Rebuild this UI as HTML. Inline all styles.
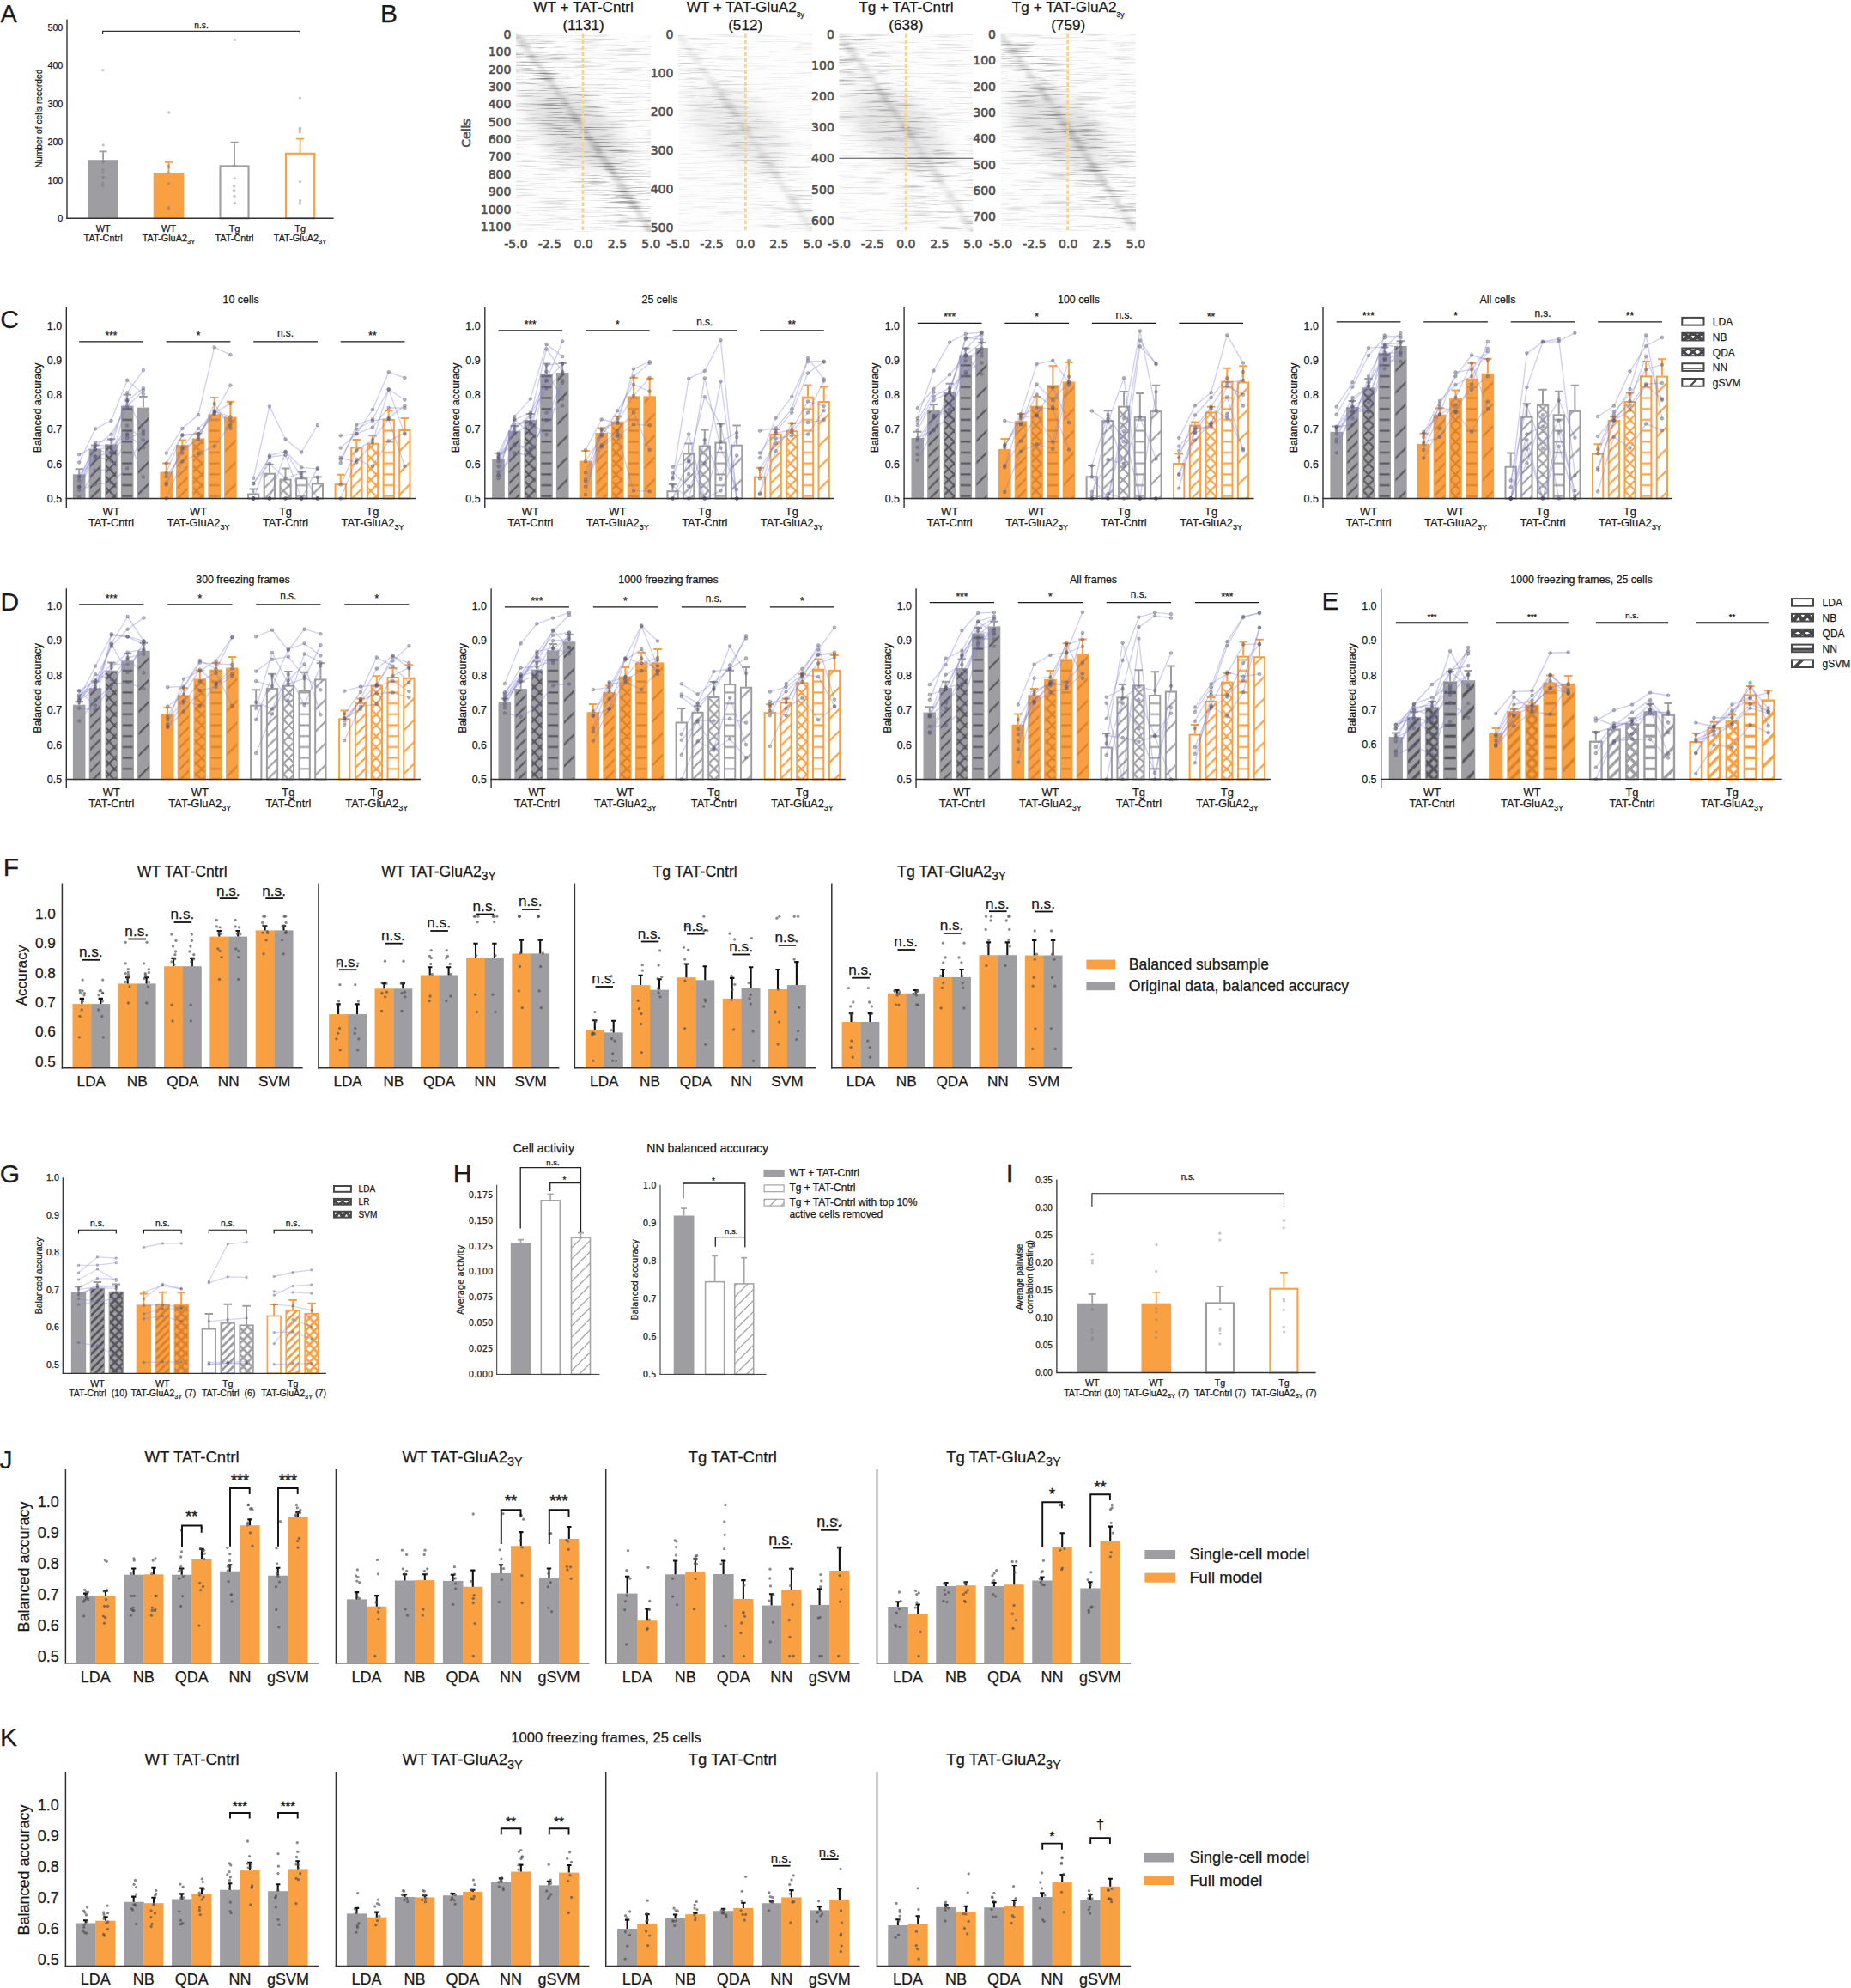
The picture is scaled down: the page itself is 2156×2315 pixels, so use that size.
<!DOCTYPE html>
<html lang="en"><head><meta charset="utf-8"><title>Figure</title>
<style>html,body{margin:0;padding:0;background:#fff}body{width:2156px;height:2315px;overflow:hidden}svg{display:block}text{white-space:pre}.t{stroke:#1a1a1a;stroke-width:.25px}</style></head>
<body>
<svg width="2156" height="2315" viewBox="0 0 2156 2315" font-family='"Liberation Sans", Arial, Helvetica, sans-serif' fill="#1a1a1a"><defs><filter id="nz11" x="0" y="0" width="100%" height="100%" color-interpolation-filters="sRGB"><feTurbulence type="fractalNoise" baseFrequency="0.024 0.6" numOctaves="3" seed="11"/><feColorMatrix type="matrix" values="0 0 0 0 0  0 0 0 0 0  0 0 0 0 0  1.391 0 0 0 -0.721"/></filter><filter id="bl11" x="-20%" y="-20%" width="140%" height="140%"><feGaussianBlur stdDeviation="2.6 0.9"/></filter><filter id="cl11" x="-30%" y="-30%" width="160%" height="160%"><feGaussianBlur stdDeviation="14 9"/></filter><clipPath id="cp11"><rect x="600.9" y="39.4" width="157.5" height="230.4"/></clipPath><mask id="mk11" maskUnits="userSpaceOnUse" x="600.9" y="39.4" width="157.5" height="230.4"><rect x="600.9" y="39.4" width="157.5" height="230.4" fill="#5a5a5a"/><polygon points="567.8,39.4 634,39.4 791.5,269.8 725.3,269.8" fill="#fff" filter="url(#cl11)"/></mask><filter id="nz12" x="0" y="0" width="100%" height="100%" color-interpolation-filters="sRGB"><feTurbulence type="fractalNoise" baseFrequency="0.024 0.6" numOctaves="3" seed="12"/><feColorMatrix type="matrix" values="0 0 0 0 0  0 0 0 0 0  0 0 0 0 0  0.695 0 0 0 -0.360"/></filter><filter id="bl12" x="-20%" y="-20%" width="140%" height="140%"><feGaussianBlur stdDeviation="2.6 0.9"/></filter><filter id="cl12" x="-30%" y="-30%" width="160%" height="160%"><feGaussianBlur stdDeviation="14 9"/></filter><clipPath id="cp12"><rect x="789.9" y="39.4" width="156.6" height="230.4"/></clipPath><mask id="mk12" maskUnits="userSpaceOnUse" x="789.9" y="39.4" width="156.6" height="230.4"><rect x="789.9" y="39.4" width="156.6" height="230.4" fill="#5a5a5a"/><polygon points="757,39.4 822.8,39.4 979.4,269.8 913.6,269.8" fill="#fff" filter="url(#cl12)"/></mask><filter id="nz13" x="0" y="0" width="100%" height="100%" color-interpolation-filters="sRGB"><feTurbulence type="fractalNoise" baseFrequency="0.024 0.6" numOctaves="3" seed="13"/><feColorMatrix type="matrix" values="0 0 0 0 0  0 0 0 0 0  0 0 0 0 0  1.046 0 0 0 -0.542"/></filter><filter id="bl13" x="-20%" y="-20%" width="140%" height="140%"><feGaussianBlur stdDeviation="2.6 0.9"/></filter><filter id="cl13" x="-30%" y="-30%" width="160%" height="160%"><feGaussianBlur stdDeviation="14 9"/></filter><clipPath id="cp13"><rect x="977.3" y="39.4" width="156.1" height="230.4"/></clipPath><mask id="mk13" maskUnits="userSpaceOnUse" x="977.3" y="39.4" width="156.1" height="230.4"><rect x="977.3" y="39.4" width="156.1" height="230.4" fill="#5a5a5a"/><polygon points="944.5,39.4 1010.1,39.4 1166.2,269.8 1100.6,269.8" fill="#fff" filter="url(#cl13)"/></mask><filter id="nz14" x="0" y="0" width="100%" height="100%" color-interpolation-filters="sRGB"><feTurbulence type="fractalNoise" baseFrequency="0.024 0.6" numOctaves="3" seed="14"/><feColorMatrix type="matrix" values="0 0 0 0 0  0 0 0 0 0  0 0 0 0 0  1.222 0 0 0 -0.633"/></filter><filter id="bl14" x="-20%" y="-20%" width="140%" height="140%"><feGaussianBlur stdDeviation="2.6 0.9"/></filter><filter id="cl14" x="-30%" y="-30%" width="160%" height="160%"><feGaussianBlur stdDeviation="14 9"/></filter><clipPath id="cp14"><rect x="1165.5" y="39.4" width="157.5" height="230.4"/></clipPath><mask id="mk14" maskUnits="userSpaceOnUse" x="1165.5" y="39.4" width="157.5" height="230.4"><rect x="1165.5" y="39.4" width="157.5" height="230.4" fill="#5a5a5a"/><polygon points="1132.4,39.4 1198.6,39.4 1356.1,269.8 1289.9,269.8" fill="#fff" filter="url(#cl14)"/></mask><pattern id="p0" width="12.7" height="12.7" patternUnits="userSpaceOnUse"><path d="M-1 13.7L13.7 -1M-1 1L1 -1M11.7 13.7L13.7 11.7" stroke="#55555b" stroke-width="2.1"/></pattern><pattern id="p1" width="12.7" height="12.7" patternUnits="userSpaceOnUse"><path d="M-1 13.7L13.7 -1M-1 1L1 -1M11.7 13.7L13.7 11.7M-1 -1L13.7 13.7M11.7 -1L13.7 1M-1 11.7L1 13.7" stroke="#55555b" stroke-width="2.1"/></pattern><pattern id="p2" width="12.7" height="12.7" patternUnits="userSpaceOnUse"><path d="M0 6.3H12.7" stroke="#55555b" stroke-width="2.1"/></pattern><pattern id="p3" width="25.4" height="25.4" patternUnits="userSpaceOnUse"><path d="M-1 26.4L26.4 -1M-1 1L1 -1M24.4 26.4L26.4 24.4" stroke="#55555b" stroke-width="2.1"/></pattern><pattern id="p4" width="12.7" height="12.7" patternUnits="userSpaceOnUse"><path d="M-1 13.7L13.7 -1M-1 1L1 -1M11.7 13.7L13.7 11.7" stroke="#d9802b" stroke-width="2.1"/></pattern><pattern id="p5" width="12.7" height="12.7" patternUnits="userSpaceOnUse"><path d="M-1 13.7L13.7 -1M-1 1L1 -1M11.7 13.7L13.7 11.7M-1 -1L13.7 13.7M11.7 -1L13.7 1M-1 11.7L1 13.7" stroke="#d9802b" stroke-width="2.1"/></pattern><pattern id="p6" width="12.7" height="12.7" patternUnits="userSpaceOnUse"><path d="M0 6.3H12.7" stroke="#d9802b" stroke-width="2.1"/></pattern><pattern id="p7" width="25.4" height="25.4" patternUnits="userSpaceOnUse"><path d="M-1 26.4L26.4 -1M-1 1L1 -1M24.4 26.4L26.4 24.4" stroke="#d9802b" stroke-width="2.1"/></pattern><pattern id="p8" width="12.7" height="12.7" patternUnits="userSpaceOnUse"><path d="M-1 13.7L13.7 -1M-1 1L1 -1M11.7 13.7L13.7 11.7" stroke="#9e9ea2" stroke-width="2.1"/></pattern><pattern id="p9" width="12.7" height="12.7" patternUnits="userSpaceOnUse"><path d="M-1 13.7L13.7 -1M-1 1L1 -1M11.7 13.7L13.7 11.7M-1 -1L13.7 13.7M11.7 -1L13.7 1M-1 11.7L1 13.7" stroke="#9e9ea2" stroke-width="2.1"/></pattern><pattern id="p10" width="12.7" height="12.7" patternUnits="userSpaceOnUse"><path d="M0 6.3H12.7" stroke="#9e9ea2" stroke-width="2.1"/></pattern><pattern id="p11" width="25.4" height="25.4" patternUnits="userSpaceOnUse"><path d="M-1 26.4L26.4 -1M-1 1L1 -1M24.4 26.4L26.4 24.4" stroke="#9e9ea2" stroke-width="2.1"/></pattern><pattern id="p12" width="12.7" height="12.7" patternUnits="userSpaceOnUse"><path d="M-1 13.7L13.7 -1M-1 1L1 -1M11.7 13.7L13.7 11.7" stroke="#f8a042" stroke-width="2.1"/></pattern><pattern id="p13" width="12.7" height="12.7" patternUnits="userSpaceOnUse"><path d="M-1 13.7L13.7 -1M-1 1L1 -1M11.7 13.7L13.7 11.7M-1 -1L13.7 13.7M11.7 -1L13.7 1M-1 11.7L1 13.7" stroke="#f8a042" stroke-width="2.1"/></pattern><pattern id="p14" width="12.7" height="12.7" patternUnits="userSpaceOnUse"><path d="M0 6.3H12.7" stroke="#f8a042" stroke-width="2.1"/></pattern><pattern id="p15" width="25.4" height="25.4" patternUnits="userSpaceOnUse"><path d="M-1 26.4L26.4 -1M-1 1L1 -1M24.4 26.4L26.4 24.4" stroke="#f8a042" stroke-width="2.1"/></pattern><clipPath id="lc36"><rect x="1959.3" y="369.9" width="25.2" height="8.7"/></clipPath><clipPath id="lc37"><rect x="1959.3" y="387.8" width="25.2" height="8.7"/></clipPath><clipPath id="lc38"><rect x="1959.3" y="405.5" width="25.2" height="8.7"/></clipPath><clipPath id="lc39"><rect x="1959.3" y="423.2" width="25.2" height="8.7"/></clipPath><clipPath id="lc40"><rect x="1959.3" y="441" width="25.2" height="8.7"/></clipPath><pattern id="p16" width="12.7" height="12.7" patternUnits="userSpaceOnUse"><path d="M-1 13.7L13.7 -1M-1 1L1 -1M11.7 13.7L13.7 11.7" stroke="#55555b" stroke-width="3.3"/></pattern><pattern id="p17" width="12.7" height="12.7" patternUnits="userSpaceOnUse"><path d="M-1 13.7L13.7 -1M-1 1L1 -1M11.7 13.7L13.7 11.7M-1 -1L13.7 13.7M11.7 -1L13.7 1M-1 11.7L1 13.7" stroke="#55555b" stroke-width="3.3"/></pattern><pattern id="p18" width="12.7" height="12.7" patternUnits="userSpaceOnUse"><path d="M0 6.3H12.7" stroke="#55555b" stroke-width="3.3"/></pattern><pattern id="p19" width="25.4" height="25.4" patternUnits="userSpaceOnUse"><path d="M-1 26.4L26.4 -1M-1 1L1 -1M24.4 26.4L26.4 24.4" stroke="#55555b" stroke-width="3.3"/></pattern><pattern id="p20" width="12.7" height="12.7" patternUnits="userSpaceOnUse"><path d="M-1 13.7L13.7 -1M-1 1L1 -1M11.7 13.7L13.7 11.7" stroke="#d9802b" stroke-width="3.3"/></pattern><pattern id="p21" width="12.7" height="12.7" patternUnits="userSpaceOnUse"><path d="M-1 13.7L13.7 -1M-1 1L1 -1M11.7 13.7L13.7 11.7M-1 -1L13.7 13.7M11.7 -1L13.7 1M-1 11.7L1 13.7" stroke="#d9802b" stroke-width="3.3"/></pattern><pattern id="p22" width="12.7" height="12.7" patternUnits="userSpaceOnUse"><path d="M0 6.3H12.7" stroke="#d9802b" stroke-width="3.3"/></pattern><pattern id="p23" width="25.4" height="25.4" patternUnits="userSpaceOnUse"><path d="M-1 26.4L26.4 -1M-1 1L1 -1M24.4 26.4L26.4 24.4" stroke="#d9802b" stroke-width="3.3"/></pattern><pattern id="p24" width="12.7" height="12.7" patternUnits="userSpaceOnUse"><path d="M-1 13.7L13.7 -1M-1 1L1 -1M11.7 13.7L13.7 11.7" stroke="#9e9ea2" stroke-width="3.3"/></pattern><pattern id="p25" width="12.7" height="12.7" patternUnits="userSpaceOnUse"><path d="M-1 13.7L13.7 -1M-1 1L1 -1M11.7 13.7L13.7 11.7M-1 -1L13.7 13.7M11.7 -1L13.7 1M-1 11.7L1 13.7" stroke="#9e9ea2" stroke-width="3.3"/></pattern><pattern id="p26" width="12.7" height="12.7" patternUnits="userSpaceOnUse"><path d="M0 6.3H12.7" stroke="#9e9ea2" stroke-width="3.3"/></pattern><pattern id="p27" width="25.4" height="25.4" patternUnits="userSpaceOnUse"><path d="M-1 26.4L26.4 -1M-1 1L1 -1M24.4 26.4L26.4 24.4" stroke="#9e9ea2" stroke-width="3.3"/></pattern><pattern id="p28" width="12.7" height="12.7" patternUnits="userSpaceOnUse"><path d="M-1 13.7L13.7 -1M-1 1L1 -1M11.7 13.7L13.7 11.7" stroke="#f8a042" stroke-width="3.3"/></pattern><pattern id="p29" width="12.7" height="12.7" patternUnits="userSpaceOnUse"><path d="M-1 13.7L13.7 -1M-1 1L1 -1M11.7 13.7L13.7 11.7M-1 -1L13.7 13.7M11.7 -1L13.7 1M-1 11.7L1 13.7" stroke="#f8a042" stroke-width="3.3"/></pattern><pattern id="p30" width="12.7" height="12.7" patternUnits="userSpaceOnUse"><path d="M0 6.3H12.7" stroke="#f8a042" stroke-width="3.3"/></pattern><pattern id="p31" width="25.4" height="25.4" patternUnits="userSpaceOnUse"><path d="M-1 26.4L26.4 -1M-1 1L1 -1M24.4 26.4L26.4 24.4" stroke="#f8a042" stroke-width="3.3"/></pattern><clipPath id="lc57"><rect x="2087" y="697.1" width="25" height="8.6"/></clipPath><clipPath id="lc58"><rect x="2087" y="714.9" width="25" height="8.6"/></clipPath><clipPath id="lc59"><rect x="2087" y="732.8" width="25" height="8.6"/></clipPath><clipPath id="lc60"><rect x="2087" y="750.6" width="25" height="8.6"/></clipPath><clipPath id="lc61"><rect x="2087" y="768.4" width="25" height="8.6"/></clipPath><pattern id="p32" width="9" height="9" patternUnits="userSpaceOnUse"><path d="M-1 10L10 -1M-1 1L1 -1M8 10L10 8" stroke="#55555b" stroke-width="2.7"/></pattern><pattern id="p33" width="10.3" height="10.3" patternUnits="userSpaceOnUse"><path d="M-1 11.3L11.3 -1M-1 1L1 -1M9.3 11.3L11.3 9.3M-1 -1L11.3 11.3M9.3 -1L11.3 1M-1 9.3L1 11.3" stroke="#55555b" stroke-width="2.7"/></pattern><pattern id="p34" width="9" height="9" patternUnits="userSpaceOnUse"><path d="M-1 10L10 -1M-1 1L1 -1M8 10L10 8" stroke="#d9802b" stroke-width="2.7"/></pattern><pattern id="p35" width="10.3" height="10.3" patternUnits="userSpaceOnUse"><path d="M-1 11.3L11.3 -1M-1 1L1 -1M9.3 11.3L11.3 9.3M-1 -1L11.3 11.3M9.3 -1L11.3 1M-1 9.3L1 11.3" stroke="#d9802b" stroke-width="2.7"/></pattern><pattern id="p36" width="9" height="9" patternUnits="userSpaceOnUse"><path d="M-1 10L10 -1M-1 1L1 -1M8 10L10 8" stroke="#9e9ea2" stroke-width="2.7"/></pattern><pattern id="p37" width="10.3" height="10.3" patternUnits="userSpaceOnUse"><path d="M-1 11.3L11.3 -1M-1 1L1 -1M9.3 11.3L11.3 9.3M-1 -1L11.3 11.3M9.3 -1L11.3 1M-1 9.3L1 11.3" stroke="#9e9ea2" stroke-width="2.7"/></pattern><pattern id="p38" width="9" height="9" patternUnits="userSpaceOnUse"><path d="M-1 10L10 -1M-1 1L1 -1M8 10L10 8" stroke="#f8a042" stroke-width="2.7"/></pattern><pattern id="p39" width="10.3" height="10.3" patternUnits="userSpaceOnUse"><path d="M-1 11.3L11.3 -1M-1 1L1 -1M9.3 11.3L11.3 9.3M-1 -1L11.3 11.3M9.3 -1L11.3 1M-1 9.3L1 11.3" stroke="#f8a042" stroke-width="2.7"/></pattern><clipPath id="lc70"><rect x="389" y="1381" width="19.9" height="6.8"/></clipPath><clipPath id="lc71"><rect x="389" y="1395.9" width="19.9" height="6.8"/></clipPath><clipPath id="lc72"><rect x="389" y="1410.8" width="19.9" height="6.8"/></clipPath><pattern id="p40" width="13" height="13" patternUnits="userSpaceOnUse"><path d="M-1 14L14 -1M-1 1L1 -1M12 14L14 12" stroke="#a6a6a9" stroke-width="1.3"/></pattern></defs>
<text x="10.2" y="25.9" font-size="29" text-anchor="middle" class="t">A</text>
<text x="73.3" y="258.1" font-size="10.7" text-anchor="end" class="t">0</text>
<text x="73.3" y="213.6" font-size="10.7" text-anchor="end" class="t">100</text>
<text x="73.3" y="169.1" font-size="10.7" text-anchor="end" class="t">200</text>
<text x="73.3" y="124.6" font-size="10.7" text-anchor="end" class="t">300</text>
<text x="73.3" y="80.1" font-size="10.7" text-anchor="end" class="t">400</text>
<text x="73.3" y="35.6" font-size="10.7" text-anchor="end" class="t">500</text>
<text x="49" y="138" font-size="10.3" text-anchor="middle" transform="rotate(-90 49 138)" class="t">Number of cells recorded</text>
<rect x="102.2" y="186.2" width="35.7" height="68.1" fill="#9e9ea2"/>
<path d="M120.1 186.2V176.4M115.6 176.4H124.6" fill="none" stroke="#9e9ea2" stroke-width="1.8"/>
<circle cx="119.8" cy="81.6" r="1.7" fill="#7d7d80" fill-opacity="0.45"/>
<circle cx="120.3" cy="168.9" r="1.7" fill="#7d7d80" fill-opacity="0.45"/>
<circle cx="120.3" cy="188" r="1.7" fill="#7d7d80" fill-opacity="0.45"/>
<circle cx="119.9" cy="188.9" r="1.7" fill="#7d7d80" fill-opacity="0.45"/>
<circle cx="120" cy="197.8" r="1.7" fill="#7d7d80" fill-opacity="0.45"/>
<circle cx="120" cy="201.3" r="1.7" fill="#7d7d80" fill-opacity="0.45"/>
<circle cx="120.2" cy="206.2" r="1.7" fill="#7d7d80" fill-opacity="0.45"/>
<circle cx="120.3" cy="206.7" r="1.7" fill="#7d7d80" fill-opacity="0.45"/>
<circle cx="119.7" cy="213.4" r="1.7" fill="#7d7d80" fill-opacity="0.45"/>
<circle cx="119.7" cy="216.5" r="1.7" fill="#7d7d80" fill-opacity="0.45"/>
<text x="120.1" y="269.6" font-size="10.9" text-anchor="middle" class="t">WT</text>
<text x="120.1" y="280.9" font-size="10.9" text-anchor="middle" class="t">TAT-Cntrl</text>
<rect x="178.7" y="201.3" width="35.7" height="53" fill="#f8a042"/>
<path d="M196.5 201.3V188.9M192 188.9H201" fill="none" stroke="#f8a042" stroke-width="1.8"/>
<circle cx="196.8" cy="131" r="1.7" fill="#7d7d80" fill-opacity="0.45"/>
<circle cx="196.5" cy="192.9" r="1.7" fill="#7d7d80" fill-opacity="0.45"/>
<circle cx="196.8" cy="195.1" r="1.7" fill="#7d7d80" fill-opacity="0.45"/>
<circle cx="196.2" cy="200.9" r="1.7" fill="#7d7d80" fill-opacity="0.45"/>
<circle cx="196.5" cy="213.8" r="1.7" fill="#7d7d80" fill-opacity="0.45"/>
<circle cx="196.7" cy="241.4" r="1.7" fill="#7d7d80" fill-opacity="0.45"/>
<circle cx="196.3" cy="243.2" r="1.7" fill="#7d7d80" fill-opacity="0.45"/>
<text x="196.5" y="269.6" font-size="10.9" text-anchor="middle" class="t">WT</text>
<text x="196.5" y="280.9" font-size="10.9" text-anchor="middle" class="t">TAT-GluA2<tspan dy="2.7" font-size="7.6">3Y</tspan></text>
<rect x="256.5" y="193.4" width="33" height="60.9" fill="#fff" stroke="#9e9ea2" stroke-width="2.1"/>
<path d="M273 192.4V165.7M268.5 165.7H277.5" fill="none" stroke="#9e9ea2" stroke-width="1.8"/>
<circle cx="273.4" cy="46.5" r="1.7" fill="#7d7d80" fill-opacity="0.45"/>
<circle cx="273.3" cy="207.6" r="1.7" fill="#7d7d80" fill-opacity="0.45"/>
<circle cx="272.6" cy="216.9" r="1.7" fill="#7d7d80" fill-opacity="0.45"/>
<circle cx="272.6" cy="221.8" r="1.7" fill="#7d7d80" fill-opacity="0.45"/>
<circle cx="273" cy="228.5" r="1.7" fill="#7d7d80" fill-opacity="0.45"/>
<circle cx="273.4" cy="236.5" r="1.7" fill="#7d7d80" fill-opacity="0.45"/>
<circle cx="272.9" cy="192.4" r="1.7" fill="#7d7d80" fill-opacity="0.45"/>
<text x="273" y="269.6" font-size="10.9" text-anchor="middle" class="t">Tg</text>
<text x="273" y="280.9" font-size="10.9" text-anchor="middle" class="t">TAT-Cntrl</text>
<rect x="333" y="178.8" width="33.2" height="75.5" fill="#fff" stroke="#f8a042" stroke-width="2.1"/>
<path d="M349.6 177.8V161.7M345.1 161.7H354.1" fill="none" stroke="#f8a042" stroke-width="1.8"/>
<circle cx="349.4" cy="114.1" r="1.7" fill="#7d7d80" fill-opacity="0.45"/>
<circle cx="349.5" cy="149.3" r="1.7" fill="#7d7d80" fill-opacity="0.45"/>
<circle cx="349.2" cy="151.1" r="1.7" fill="#7d7d80" fill-opacity="0.45"/>
<circle cx="349.4" cy="153.7" r="1.7" fill="#7d7d80" fill-opacity="0.45"/>
<circle cx="349.6" cy="211.6" r="1.7" fill="#7d7d80" fill-opacity="0.45"/>
<circle cx="349.6" cy="233.8" r="1.7" fill="#7d7d80" fill-opacity="0.45"/>
<circle cx="349.4" cy="236.9" r="1.7" fill="#7d7d80" fill-opacity="0.45"/>
<text x="349.6" y="269.6" font-size="10.9" text-anchor="middle" class="t">Tg</text>
<text x="349.6" y="280.9" font-size="10.9" text-anchor="middle" class="t">TAT-GluA2<tspan dy="2.7" font-size="7.6">3Y</tspan></text>
<line x1="78" y1="22.6" x2="78" y2="255" stroke="#333333" stroke-width="1.4"/>
<line x1="77.3" y1="254.3" x2="388.6" y2="254.3" stroke="#333333" stroke-width="1.4"/>
<path d="M119.6 40V36.4H349.4V40" fill="none" stroke="#333333" stroke-width="1.2"/>
<text x="234.6" y="33.2" font-size="10.3" text-anchor="middle" class="t">n.s.</text>
<text x="453" y="25.7" font-size="30" text-anchor="middle" class="t">B</text>
<rect x="600.9" y="39.4" width="157.5" height="230.4" fill="#fdfdfd"/>
<g clip-path="url(#cp11)">
<rect x="600.9" y="39.4" width="157.5" height="230.4" fill="#000" filter="url(#nz11)" mask="url(#mk11)"/>
<ellipse cx="670.2" cy="150" rx="63" ry="34.6" fill="#000" fill-opacity="0.11" filter="url(#cl11)" transform="rotate(38 670.2 150)"/>
<rect x="684.4" y="143.6" width="44.5" height="2" fill="#000" fill-opacity="0.10" filter="url(#bl11)"/>
<rect x="583.7" y="83.2" width="58.6" height="2" fill="#000" fill-opacity="0.10" filter="url(#bl11)"/>
<rect x="712.1" y="222.1" width="17.5" height="2" fill="#000" fill-opacity="0.13" filter="url(#bl11)"/>
<rect x="691.8" y="185.6" width="46.5" height="1.5" fill="#000" fill-opacity="0.09" filter="url(#bl11)"/>
<rect x="683.3" y="190.1" width="47.7" height="1" fill="#000" fill-opacity="0.10" filter="url(#bl11)"/>
<rect x="580" y="47.6" width="63" height="1.5" fill="#000" fill-opacity="0.11" filter="url(#bl11)"/>
<rect x="637.7" y="114.6" width="46.3" height="1" fill="#000" fill-opacity="0.07" filter="url(#bl11)"/>
<rect x="709.8" y="192" width="38.5" height="2" fill="#000" fill-opacity="0.07" filter="url(#bl11)"/>
<rect x="719.5" y="268.8" width="60.7" height="1.5" fill="#000" fill-opacity="0.07" filter="url(#bl11)"/>
<rect x="554.2" y="46.3" width="44.7" height="1" fill="#000" fill-opacity="0.05" filter="url(#bl11)"/>
<rect x="781.9" y="234.5" width="34.4" height="1" fill="#000" fill-opacity="0.04" filter="url(#bl11)"/>
<rect x="721.9" y="253" width="15" height="2" fill="#000" fill-opacity="0.08" filter="url(#bl11)"/>
<rect x="614" y="131" width="16.2" height="1" fill="#000" fill-opacity="0.07" filter="url(#bl11)"/>
<rect x="599.8" y="111.1" width="12.9" height="1" fill="#000" fill-opacity="0.09" filter="url(#bl11)"/>
<rect x="634.3" y="70.4" width="53" height="2" fill="#000" fill-opacity="0.10" filter="url(#bl11)"/>
<rect x="672.7" y="168.3" width="38" height="2" fill="#000" fill-opacity="0.06" filter="url(#bl11)"/>
<rect x="678.1" y="216.7" width="36.3" height="1" fill="#000" fill-opacity="0.15" filter="url(#bl11)"/>
<rect x="632.4" y="101.6" width="68.3" height="1.5" fill="#000" fill-opacity="0.13" filter="url(#bl11)"/>
<rect x="795.5" y="269.3" width="13.1" height="2" fill="#000" fill-opacity="0.11" filter="url(#bl11)"/>
<rect x="688" y="62.5" width="69.4" height="1.5" fill="#000" fill-opacity="0.07" filter="url(#bl11)"/>
<rect x="595.3" y="41.6" width="47.4" height="1" fill="#000" fill-opacity="0.05" filter="url(#bl11)"/>
<rect x="649.7" y="173.7" width="26.1" height="1.5" fill="#000" fill-opacity="0.11" filter="url(#bl11)"/>
<rect x="633.3" y="182.7" width="19.4" height="1.5" fill="#000" fill-opacity="0.06" filter="url(#bl11)"/>
<rect x="585.1" y="81.5" width="20.9" height="2" fill="#000" fill-opacity="0.14" filter="url(#bl11)"/>
<rect x="623.2" y="96.9" width="23" height="1.5" fill="#000" fill-opacity="0.06" filter="url(#bl11)"/>
<rect x="634.2" y="242.7" width="47" height="1" fill="#000" fill-opacity="0.09" filter="url(#bl11)"/>
<rect x="595.4" y="64.5" width="41.7" height="1.5" fill="#000" fill-opacity="0.09" filter="url(#bl11)"/>
<rect x="764.2" y="229.2" width="46.6" height="1" fill="#000" fill-opacity="0.07" filter="url(#bl11)"/>
<rect x="740.7" y="253.5" width="68.7" height="2" fill="#000" fill-opacity="0.12" filter="url(#bl11)"/>
<rect x="711.8" y="180.9" width="28.3" height="1" fill="#000" fill-opacity="0.15" filter="url(#bl11)"/>
<rect x="688.6" y="212" width="16" height="1.5" fill="#000" fill-opacity="0.05" filter="url(#bl11)"/>
<rect x="650.2" y="124.4" width="45.2" height="1.5" fill="#000" fill-opacity="0.06" filter="url(#bl11)"/>
<rect x="576.2" y="71.3" width="38.1" height="1" fill="#000" fill-opacity="0.10" filter="url(#bl11)"/>
<rect x="710.2" y="175.3" width="65.6" height="1.5" fill="#000" fill-opacity="0.09" filter="url(#bl11)"/>
<rect x="726.2" y="200.9" width="67.8" height="2" fill="#000" fill-opacity="0.10" filter="url(#bl11)"/>
<rect x="646.5" y="111.1" width="19.9" height="1.5" fill="#000" fill-opacity="0.05" filter="url(#bl11)"/>
<rect x="705.4" y="165.2" width="54.7" height="1.5" fill="#000" fill-opacity="0.12" filter="url(#bl11)"/>
<rect x="597.2" y="120.5" width="51.7" height="1.5" fill="#000" fill-opacity="0.14" filter="url(#bl11)"/>
<rect x="736.8" y="257" width="13.8" height="1.5" fill="#000" fill-opacity="0.12" filter="url(#bl11)"/>
<rect x="669" y="173.6" width="47.3" height="2" fill="#000" fill-opacity="0.05" filter="url(#bl11)"/>
<rect x="578.8" y="66" width="26.9" height="2" fill="#000" fill-opacity="0.15" filter="url(#bl11)"/>
<rect x="689.2" y="173.3" width="37.6" height="1" fill="#000" fill-opacity="0.14" filter="url(#bl11)"/>
<rect x="656.2" y="158.9" width="41.8" height="2" fill="#000" fill-opacity="0.04" filter="url(#bl11)"/>
<rect x="603.9" y="65.4" width="57.2" height="1.5" fill="#000" fill-opacity="0.12" filter="url(#bl11)"/>
<rect x="618.4" y="98.3" width="12.7" height="1" fill="#000" fill-opacity="0.06" filter="url(#bl11)"/>
<rect x="753.2" y="213.1" width="31.9" height="1.5" fill="#000" fill-opacity="0.15" filter="url(#bl11)"/>
<g filter="url(#bl11)">
<rect x="596.7" y="39.4" width="11.2" height="4.3" fill="#000" fill-opacity="0.09"/>
<rect x="600.4" y="43.4" width="9.7" height="4.3" fill="#000" fill-opacity="0.08"/>
<rect x="604.1" y="47.3" width="8" height="4.3" fill="#000" fill-opacity="0.16"/>
<rect x="605.3" y="51.3" width="11.4" height="4.3" fill="#000" fill-opacity="0.17"/>
<rect x="610" y="55.3" width="7.7" height="4.3" fill="#000" fill-opacity="0.13"/>
<rect x="613.2" y="59.3" width="7.2" height="4.3" fill="#000" fill-opacity="0.07"/>
<rect x="615.4" y="63.2" width="8.5" height="4.3" fill="#000" fill-opacity="0.17"/>
<rect x="617" y="67.2" width="10.9" height="4.3" fill="#000" fill-opacity="0.15"/>
<rect x="619.6" y="71.2" width="11.7" height="4.3" fill="#000" fill-opacity="0.09"/>
<rect x="625.2" y="75.2" width="6.2" height="4.3" fill="#000" fill-opacity="0.12"/>
<rect x="627.6" y="79.1" width="6.9" height="4.3" fill="#000" fill-opacity="0.09"/>
<rect x="630" y="83.1" width="7.9" height="4.3" fill="#000" fill-opacity="0.14"/>
<rect x="632.6" y="87.1" width="8.5" height="4.3" fill="#000" fill-opacity="0.10"/>
<rect x="634.2" y="91" width="10.9" height="4.3" fill="#000" fill-opacity="0.20"/>
<rect x="638.4" y="95" width="8.2" height="4.3" fill="#000" fill-opacity="0.07"/>
<rect x="642.7" y="99" width="5.2" height="4.3" fill="#000" fill-opacity="0.18"/>
<rect x="645.5" y="103" width="5.3" height="4.3" fill="#000" fill-opacity="0.16"/>
<rect x="646.5" y="106.9" width="9" height="4.3" fill="#000" fill-opacity="0.11"/>
<rect x="648.5" y="110.9" width="10.5" height="4.3" fill="#000" fill-opacity="0.07"/>
<rect x="653.6" y="114.9" width="6" height="4.3" fill="#000" fill-opacity="0.13"/>
<rect x="656.8" y="118.8" width="5.2" height="4.3" fill="#000" fill-opacity="0.19"/>
<rect x="658.8" y="122.8" width="6.7" height="4.3" fill="#000" fill-opacity="0.09"/>
<rect x="662.3" y="126.8" width="5.3" height="4.3" fill="#000" fill-opacity="0.16"/>
<rect x="663.7" y="130.8" width="8.1" height="4.3" fill="#000" fill-opacity="0.16"/>
<rect x="665.7" y="134.7" width="9.6" height="4.3" fill="#000" fill-opacity="0.19"/>
<rect x="667.4" y="138.7" width="11.7" height="4.3" fill="#000" fill-opacity="0.17"/>
<rect x="672.8" y="142.7" width="6.4" height="4.3" fill="#000" fill-opacity="0.14"/>
<rect x="675.6" y="146.7" width="6.3" height="4.3" fill="#000" fill-opacity="0.07"/>
<rect x="677.3" y="150.6" width="8.3" height="4.3" fill="#000" fill-opacity="0.18"/>
<rect x="681" y="154.6" width="6.3" height="4.3" fill="#000" fill-opacity="0.11"/>
<rect x="683.2" y="158.6" width="7.4" height="4.3" fill="#000" fill-opacity="0.18"/>
<rect x="685.2" y="162.5" width="8.6" height="4.3" fill="#000" fill-opacity="0.16"/>
<rect x="687.1" y="166.5" width="10.3" height="4.3" fill="#000" fill-opacity="0.13"/>
<rect x="689.7" y="170.5" width="10.5" height="4.3" fill="#000" fill-opacity="0.20"/>
<rect x="694.8" y="174.5" width="5.6" height="4.3" fill="#000" fill-opacity="0.21"/>
<rect x="695.2" y="178.4" width="10.1" height="4.3" fill="#000" fill-opacity="0.08"/>
<rect x="698.8" y="182.4" width="8.2" height="4.3" fill="#000" fill-opacity="0.16"/>
<rect x="699.9" y="186.4" width="11.4" height="4.3" fill="#000" fill-opacity="0.12"/>
<rect x="703.7" y="190.4" width="9" height="4.3" fill="#000" fill-opacity="0.19"/>
<rect x="705.5" y="194.3" width="10.6" height="4.3" fill="#000" fill-opacity="0.20"/>
<rect x="709.3" y="198.3" width="8.2" height="4.3" fill="#000" fill-opacity="0.16"/>
<rect x="712.8" y="202.3" width="6.4" height="4.3" fill="#000" fill-opacity="0.16"/>
<rect x="713.3" y="206.2" width="10.7" height="4.3" fill="#000" fill-opacity="0.15"/>
<rect x="716.2" y="210.2" width="10" height="4.3" fill="#000" fill-opacity="0.09"/>
<rect x="718.2" y="214.2" width="11.3" height="4.3" fill="#000" fill-opacity="0.20"/>
<rect x="720.5" y="218.2" width="11.8" height="4.3" fill="#000" fill-opacity="0.13"/>
<rect x="723.7" y="222.1" width="10.5" height="4.3" fill="#000" fill-opacity="0.10"/>
<rect x="725.9" y="226.1" width="11.4" height="4.3" fill="#000" fill-opacity="0.17"/>
<rect x="730.4" y="230.1" width="7.4" height="4.3" fill="#000" fill-opacity="0.07"/>
<rect x="732.7" y="234" width="8.1" height="4.3" fill="#000" fill-opacity="0.13"/>
<rect x="734.1" y="238" width="10.4" height="4.3" fill="#000" fill-opacity="0.12"/>
<rect x="739.2" y="242" width="5.2" height="4.3" fill="#000" fill-opacity="0.16"/>
<rect x="741.7" y="246" width="5.4" height="4.3" fill="#000" fill-opacity="0.16"/>
<rect x="743.8" y="249.9" width="6.2" height="4.3" fill="#000" fill-opacity="0.10"/>
<rect x="744.2" y="253.9" width="10.5" height="4.3" fill="#000" fill-opacity="0.07"/>
<rect x="749" y="257.9" width="6" height="4.3" fill="#000" fill-opacity="0.12"/>
<rect x="749.5" y="261.9" width="10.1" height="4.3" fill="#000" fill-opacity="0.16"/>
<rect x="752.2" y="265.8" width="9.8" height="4.3" fill="#000" fill-opacity="0.17"/>
</g>
</g>
<line x1="679" y1="39.4" x2="679" y2="269.8" stroke="#f7d588" stroke-width="2.7" stroke-dasharray="4.5 2.5"/>
<text x="679.6" y="13.7" font-size="17.2" text-anchor="middle" class="t">WT + TAT-Cntrl</text>
<text x="679.6" y="34.7" font-size="17.2" text-anchor="middle" class="t">(1131)</text>
<text x="595.4" y="44.8" font-size="14" text-anchor="end" font-family='"DejaVu Sans", "Liberation Sans", sans-serif' fill="#505050" stroke="#505050" stroke-width="0.6">0</text>
<text x="595.4" y="65.2" font-size="14" text-anchor="end" font-family='"DejaVu Sans", "Liberation Sans", sans-serif' fill="#505050" stroke="#505050" stroke-width="0.6">100</text>
<text x="595.4" y="85.6" font-size="14" text-anchor="end" font-family='"DejaVu Sans", "Liberation Sans", sans-serif' fill="#505050" stroke="#505050" stroke-width="0.6">200</text>
<text x="595.4" y="105.9" font-size="14" text-anchor="end" font-family='"DejaVu Sans", "Liberation Sans", sans-serif' fill="#505050" stroke="#505050" stroke-width="0.6">300</text>
<text x="595.4" y="126.3" font-size="14" text-anchor="end" font-family='"DejaVu Sans", "Liberation Sans", sans-serif' fill="#505050" stroke="#505050" stroke-width="0.6">400</text>
<text x="595.4" y="146.7" font-size="14" text-anchor="end" font-family='"DejaVu Sans", "Liberation Sans", sans-serif' fill="#505050" stroke="#505050" stroke-width="0.6">500</text>
<text x="595.4" y="167" font-size="14" text-anchor="end" font-family='"DejaVu Sans", "Liberation Sans", sans-serif' fill="#505050" stroke="#505050" stroke-width="0.6">600</text>
<text x="595.4" y="187.4" font-size="14" text-anchor="end" font-family='"DejaVu Sans", "Liberation Sans", sans-serif' fill="#505050" stroke="#505050" stroke-width="0.6">700</text>
<text x="595.4" y="207.8" font-size="14" text-anchor="end" font-family='"DejaVu Sans", "Liberation Sans", sans-serif' fill="#505050" stroke="#505050" stroke-width="0.6">800</text>
<text x="595.4" y="228.2" font-size="14" text-anchor="end" font-family='"DejaVu Sans", "Liberation Sans", sans-serif' fill="#505050" stroke="#505050" stroke-width="0.6">900</text>
<text x="595.4" y="248.5" font-size="14" text-anchor="end" font-family='"DejaVu Sans", "Liberation Sans", sans-serif' fill="#505050" stroke="#505050" stroke-width="0.6">1000</text>
<text x="595.4" y="268.9" font-size="14" text-anchor="end" font-family='"DejaVu Sans", "Liberation Sans", sans-serif' fill="#505050" stroke="#505050" stroke-width="0.6">1100</text>
<text x="600.9" y="288.5" font-size="14" text-anchor="middle" font-family='"DejaVu Sans", "Liberation Sans", sans-serif' fill="#505050" stroke="#505050" stroke-width="0.6">-5.0</text>
<text x="640.3" y="288.5" font-size="14" text-anchor="middle" font-family='"DejaVu Sans", "Liberation Sans", sans-serif' fill="#505050" stroke="#505050" stroke-width="0.6">-2.5</text>
<text x="679.6" y="288.5" font-size="14" text-anchor="middle" font-family='"DejaVu Sans", "Liberation Sans", sans-serif' fill="#505050" stroke="#505050" stroke-width="0.6">0.0</text>
<text x="719" y="288.5" font-size="14" text-anchor="middle" font-family='"DejaVu Sans", "Liberation Sans", sans-serif' fill="#505050" stroke="#505050" stroke-width="0.6">2.5</text>
<text x="758.4" y="288.5" font-size="14" text-anchor="middle" font-family='"DejaVu Sans", "Liberation Sans", sans-serif' fill="#505050" stroke="#505050" stroke-width="0.6">5.0</text>
<rect x="789.9" y="39.4" width="156.6" height="230.4" fill="#fdfdfd"/>
<g clip-path="url(#cp12)">
<rect x="789.9" y="39.4" width="156.6" height="230.4" fill="#000" filter="url(#nz12)" mask="url(#mk12)"/>
<ellipse cx="858.8" cy="150" rx="62.6" ry="34.6" fill="#000" fill-opacity="0.06" filter="url(#cl12)" transform="rotate(38 858.8 150)"/>
<rect x="829.6" y="148.7" width="50.1" height="1.5" fill="#000" fill-opacity="0.02" filter="url(#bl12)"/>
<rect x="824.3" y="150.6" width="49.3" height="2" fill="#000" fill-opacity="0.05" filter="url(#bl12)"/>
<rect x="751.9" y="91.8" width="12.1" height="1.5" fill="#000" fill-opacity="0.04" filter="url(#bl12)"/>
<rect x="857.1" y="248.1" width="15.4" height="1" fill="#000" fill-opacity="0.07" filter="url(#bl12)"/>
<rect x="814.8" y="157.7" width="59.5" height="1" fill="#000" fill-opacity="0.03" filter="url(#bl12)"/>
<rect x="837.1" y="228.2" width="50.4" height="1.5" fill="#000" fill-opacity="0.03" filter="url(#bl12)"/>
<rect x="912.5" y="257.5" width="18.5" height="2" fill="#000" fill-opacity="0.04" filter="url(#bl12)"/>
<rect x="851.6" y="168" width="68.6" height="2" fill="#000" fill-opacity="0.07" filter="url(#bl12)"/>
<rect x="757.9" y="78.8" width="59.3" height="1.5" fill="#000" fill-opacity="0.05" filter="url(#bl12)"/>
<rect x="884.6" y="179.8" width="43.4" height="1" fill="#000" fill-opacity="0.06" filter="url(#bl12)"/>
<rect x="890.4" y="262.3" width="68.6" height="2" fill="#000" fill-opacity="0.04" filter="url(#bl12)"/>
<rect x="807.6" y="128.2" width="30" height="1.5" fill="#000" fill-opacity="0.03" filter="url(#bl12)"/>
<rect x="840.9" y="123.1" width="41.7" height="1.5" fill="#000" fill-opacity="0.02" filter="url(#bl12)"/>
<rect x="750.6" y="46.9" width="13.5" height="1" fill="#000" fill-opacity="0.06" filter="url(#bl12)"/>
<rect x="857.1" y="128.9" width="56.8" height="2" fill="#000" fill-opacity="0.03" filter="url(#bl12)"/>
<rect x="840.4" y="102.5" width="37.1" height="2" fill="#000" fill-opacity="0.05" filter="url(#bl12)"/>
<rect x="859.3" y="186.1" width="15" height="1.5" fill="#000" fill-opacity="0.04" filter="url(#bl12)"/>
<rect x="874.2" y="200" width="61.6" height="1" fill="#000" fill-opacity="0.03" filter="url(#bl12)"/>
<rect x="865.1" y="146.5" width="43.8" height="2" fill="#000" fill-opacity="0.03" filter="url(#bl12)"/>
<rect x="830.6" y="40.9" width="27.6" height="1.5" fill="#000" fill-opacity="0.06" filter="url(#bl12)"/>
<rect x="763" y="80.8" width="58.1" height="1.5" fill="#000" fill-opacity="0.03" filter="url(#bl12)"/>
<rect x="925.4" y="269.5" width="41.2" height="1.5" fill="#000" fill-opacity="0.02" filter="url(#bl12)"/>
<rect x="899.4" y="242.6" width="50.8" height="2" fill="#000" fill-opacity="0.07" filter="url(#bl12)"/>
<rect x="857.5" y="149.4" width="48.4" height="1.5" fill="#000" fill-opacity="0.04" filter="url(#bl12)"/>
<rect x="901.3" y="245.5" width="21.4" height="2" fill="#000" fill-opacity="0.04" filter="url(#bl12)"/>
<rect x="938.9" y="186.9" width="37.8" height="2" fill="#000" fill-opacity="0.07" filter="url(#bl12)"/>
<rect x="799.6" y="105.1" width="26.8" height="1.5" fill="#000" fill-opacity="0.03" filter="url(#bl12)"/>
<rect x="794.3" y="136.2" width="26" height="1" fill="#000" fill-opacity="0.05" filter="url(#bl12)"/>
<rect x="930.7" y="168.4" width="48.2" height="1.5" fill="#000" fill-opacity="0.06" filter="url(#bl12)"/>
<rect x="806.3" y="138.7" width="17.4" height="1" fill="#000" fill-opacity="0.04" filter="url(#bl12)"/>
<rect x="826.6" y="173.1" width="32.2" height="1" fill="#000" fill-opacity="0.05" filter="url(#bl12)"/>
<rect x="928.6" y="198.1" width="21" height="1" fill="#000" fill-opacity="0.02" filter="url(#bl12)"/>
<rect x="838.7" y="246.2" width="64.8" height="1" fill="#000" fill-opacity="0.04" filter="url(#bl12)"/>
<rect x="876.4" y="203" width="23" height="2" fill="#000" fill-opacity="0.04" filter="url(#bl12)"/>
<rect x="858.9" y="197.6" width="40.5" height="2" fill="#000" fill-opacity="0.05" filter="url(#bl12)"/>
<rect x="823.2" y="130.2" width="26.3" height="1.5" fill="#000" fill-opacity="0.04" filter="url(#bl12)"/>
<rect x="765.8" y="58.4" width="31.3" height="1" fill="#000" fill-opacity="0.04" filter="url(#bl12)"/>
<rect x="833" y="214.4" width="50.2" height="1.5" fill="#000" fill-opacity="0.07" filter="url(#bl12)"/>
<rect x="776.9" y="79.9" width="24.1" height="2" fill="#000" fill-opacity="0.02" filter="url(#bl12)"/>
<rect x="802.7" y="118" width="25.8" height="1" fill="#000" fill-opacity="0.04" filter="url(#bl12)"/>
<rect x="770.4" y="41.2" width="32.9" height="1" fill="#000" fill-opacity="0.05" filter="url(#bl12)"/>
<rect x="883.2" y="158.4" width="20.5" height="1.5" fill="#000" fill-opacity="0.07" filter="url(#bl12)"/>
<rect x="743.9" y="76.8" width="38.9" height="1.5" fill="#000" fill-opacity="0.03" filter="url(#bl12)"/>
<rect x="864.3" y="220.4" width="14.9" height="1.5" fill="#000" fill-opacity="0.06" filter="url(#bl12)"/>
<rect x="805.3" y="163.4" width="56.2" height="1" fill="#000" fill-opacity="0.06" filter="url(#bl12)"/>
<rect x="882.4" y="167" width="51.5" height="2" fill="#000" fill-opacity="0.04" filter="url(#bl12)"/>
<g filter="url(#bl12)">
<rect x="788.8" y="39.4" width="5.1" height="4.3" fill="#000" fill-opacity="0.07"/>
<rect x="788.6" y="43.4" width="11.3" height="4.3" fill="#000" fill-opacity="0.07"/>
<rect x="794" y="47.3" width="6.2" height="4.3" fill="#000" fill-opacity="0.06"/>
<rect x="794.6" y="51.3" width="10.6" height="4.3" fill="#000" fill-opacity="0.04"/>
<rect x="798.6" y="55.3" width="8.5" height="4.3" fill="#000" fill-opacity="0.05"/>
<rect x="801.9" y="59.3" width="7.6" height="4.3" fill="#000" fill-opacity="0.05"/>
<rect x="803.8" y="63.2" width="9.4" height="4.3" fill="#000" fill-opacity="0.05"/>
<rect x="806" y="67.2" width="10.7" height="4.3" fill="#000" fill-opacity="0.08"/>
<rect x="809.6" y="71.2" width="9.3" height="4.3" fill="#000" fill-opacity="0.04"/>
<rect x="813.7" y="75.2" width="6.8" height="4.3" fill="#000" fill-opacity="0.03"/>
<rect x="815.1" y="79.1" width="9.6" height="4.3" fill="#000" fill-opacity="0.08"/>
<rect x="819" y="83.1" width="7.6" height="4.3" fill="#000" fill-opacity="0.06"/>
<rect x="820.8" y="87.1" width="9.6" height="4.3" fill="#000" fill-opacity="0.05"/>
<rect x="823.3" y="91" width="10.4" height="4.3" fill="#000" fill-opacity="0.06"/>
<rect x="825.5" y="95" width="11.6" height="4.3" fill="#000" fill-opacity="0.09"/>
<rect x="830.9" y="99" width="6.3" height="4.3" fill="#000" fill-opacity="0.09"/>
<rect x="831.5" y="103" width="10.9" height="4.3" fill="#000" fill-opacity="0.04"/>
<rect x="836.3" y="106.9" width="6.9" height="4.3" fill="#000" fill-opacity="0.09"/>
<rect x="836.9" y="110.9" width="11.1" height="4.3" fill="#000" fill-opacity="0.08"/>
<rect x="840.2" y="114.9" width="10.2" height="4.3" fill="#000" fill-opacity="0.08"/>
<rect x="842.1" y="118.8" width="11.9" height="4.3" fill="#000" fill-opacity="0.10"/>
<rect x="845.6" y="122.8" width="10.4" height="4.3" fill="#000" fill-opacity="0.10"/>
<rect x="850" y="126.8" width="7.2" height="4.3" fill="#000" fill-opacity="0.10"/>
<rect x="851.2" y="130.8" width="10.2" height="4.3" fill="#000" fill-opacity="0.10"/>
<rect x="854.6" y="134.7" width="8.9" height="4.3" fill="#000" fill-opacity="0.04"/>
<rect x="856.5" y="138.7" width="10.7" height="4.3" fill="#000" fill-opacity="0.05"/>
<rect x="861.4" y="142.7" width="6.4" height="4.3" fill="#000" fill-opacity="0.10"/>
<rect x="861.5" y="146.7" width="11.5" height="4.3" fill="#000" fill-opacity="0.11"/>
<rect x="864.8" y="150.6" width="10.4" height="4.3" fill="#000" fill-opacity="0.08"/>
<rect x="870.1" y="154.6" width="5.2" height="4.3" fill="#000" fill-opacity="0.11"/>
<rect x="871.6" y="158.6" width="7.6" height="4.3" fill="#000" fill-opacity="0.07"/>
<rect x="874.9" y="162.5" width="6.4" height="4.3" fill="#000" fill-opacity="0.04"/>
<rect x="878.2" y="166.5" width="5" height="4.3" fill="#000" fill-opacity="0.04"/>
<rect x="879.5" y="170.5" width="7.7" height="4.3" fill="#000" fill-opacity="0.07"/>
<rect x="882.5" y="174.5" width="7.1" height="4.3" fill="#000" fill-opacity="0.06"/>
<rect x="883.2" y="178.4" width="10.9" height="4.3" fill="#000" fill-opacity="0.10"/>
<rect x="885.7" y="182.4" width="11.2" height="4.3" fill="#000" fill-opacity="0.03"/>
<rect x="888.5" y="186.4" width="10.9" height="4.3" fill="#000" fill-opacity="0.03"/>
<rect x="893.5" y="190.4" width="6.1" height="4.3" fill="#000" fill-opacity="0.09"/>
<rect x="895.4" y="194.3" width="7.6" height="4.3" fill="#000" fill-opacity="0.04"/>
<rect x="896.3" y="198.3" width="10.9" height="4.3" fill="#000" fill-opacity="0.09"/>
<rect x="900" y="202.3" width="8.8" height="4.3" fill="#000" fill-opacity="0.10"/>
<rect x="903.2" y="206.2" width="7.6" height="4.3" fill="#000" fill-opacity="0.04"/>
<rect x="903.9" y="210.2" width="11.4" height="4.3" fill="#000" fill-opacity="0.05"/>
<rect x="908.8" y="214.2" width="6.6" height="4.3" fill="#000" fill-opacity="0.06"/>
<rect x="909.4" y="218.2" width="10.6" height="4.3" fill="#000" fill-opacity="0.09"/>
<rect x="911.5" y="222.1" width="11.5" height="4.3" fill="#000" fill-opacity="0.03"/>
<rect x="914.9" y="226.1" width="9.8" height="4.3" fill="#000" fill-opacity="0.07"/>
<rect x="916.7" y="230.1" width="11.5" height="4.3" fill="#000" fill-opacity="0.08"/>
<rect x="920.2" y="234" width="9.6" height="4.3" fill="#000" fill-opacity="0.08"/>
<rect x="921.6" y="238" width="11.8" height="4.3" fill="#000" fill-opacity="0.07"/>
<rect x="925.5" y="242" width="9.1" height="4.3" fill="#000" fill-opacity="0.08"/>
<rect x="927.9" y="246" width="9.4" height="4.3" fill="#000" fill-opacity="0.06"/>
<rect x="931.4" y="249.9" width="7.4" height="4.3" fill="#000" fill-opacity="0.07"/>
<rect x="932.2" y="253.9" width="10.8" height="4.3" fill="#000" fill-opacity="0.08"/>
<rect x="936.3" y="257.9" width="7.7" height="4.3" fill="#000" fill-opacity="0.07"/>
<rect x="939" y="261.9" width="7.4" height="4.3" fill="#000" fill-opacity="0.03"/>
<rect x="939.9" y="265.8" width="10.6" height="4.3" fill="#000" fill-opacity="0.07"/>
</g>
</g>
<line x1="868.4" y1="39.4" x2="868.4" y2="269.8" stroke="#f7d588" stroke-width="2.7" stroke-dasharray="4.5 2.5"/>
<text x="868.2" y="13.7" font-size="17.2" text-anchor="middle" class="t">WT + TAT-GluA2<tspan dy="6" font-size="8.5">3y</tspan></text>
<text x="868.2" y="34.7" font-size="17.2" text-anchor="middle" class="t">(512)</text>
<text x="784.4" y="44.9" font-size="14" text-anchor="end" font-family='"DejaVu Sans", "Liberation Sans", sans-serif' fill="#505050" stroke="#505050" stroke-width="0.6">0</text>
<text x="784.4" y="89.9" font-size="14" text-anchor="end" font-family='"DejaVu Sans", "Liberation Sans", sans-serif' fill="#505050" stroke="#505050" stroke-width="0.6">100</text>
<text x="784.4" y="134.9" font-size="14" text-anchor="end" font-family='"DejaVu Sans", "Liberation Sans", sans-serif' fill="#505050" stroke="#505050" stroke-width="0.6">200</text>
<text x="784.4" y="179.9" font-size="14" text-anchor="end" font-family='"DejaVu Sans", "Liberation Sans", sans-serif' fill="#505050" stroke="#505050" stroke-width="0.6">300</text>
<text x="784.4" y="224.9" font-size="14" text-anchor="end" font-family='"DejaVu Sans", "Liberation Sans", sans-serif' fill="#505050" stroke="#505050" stroke-width="0.6">400</text>
<text x="784.4" y="269.9" font-size="14" text-anchor="end" font-family='"DejaVu Sans", "Liberation Sans", sans-serif' fill="#505050" stroke="#505050" stroke-width="0.6">500</text>
<text x="789.9" y="288.5" font-size="14" text-anchor="middle" font-family='"DejaVu Sans", "Liberation Sans", sans-serif' fill="#505050" stroke="#505050" stroke-width="0.6">-5.0</text>
<text x="829" y="288.5" font-size="14" text-anchor="middle" font-family='"DejaVu Sans", "Liberation Sans", sans-serif' fill="#505050" stroke="#505050" stroke-width="0.6">-2.5</text>
<text x="868.2" y="288.5" font-size="14" text-anchor="middle" font-family='"DejaVu Sans", "Liberation Sans", sans-serif' fill="#505050" stroke="#505050" stroke-width="0.6">0.0</text>
<text x="907.4" y="288.5" font-size="14" text-anchor="middle" font-family='"DejaVu Sans", "Liberation Sans", sans-serif' fill="#505050" stroke="#505050" stroke-width="0.6">2.5</text>
<text x="946.5" y="288.5" font-size="14" text-anchor="middle" font-family='"DejaVu Sans", "Liberation Sans", sans-serif' fill="#505050" stroke="#505050" stroke-width="0.6">5.0</text>
<rect x="977.3" y="39.4" width="156.1" height="230.4" fill="#fdfdfd"/>
<g clip-path="url(#cp13)">
<rect x="977.3" y="39.4" width="156.1" height="230.4" fill="#000" filter="url(#nz13)" mask="url(#mk13)"/>
<ellipse cx="1046" cy="150" rx="62.4" ry="34.6" fill="#000" fill-opacity="0.09" filter="url(#cl13)" transform="rotate(38 1046 150)"/>
<rect x="965" y="99.1" width="51.7" height="1" fill="#000" fill-opacity="0.05" filter="url(#bl13)"/>
<rect x="988.9" y="192.9" width="62.4" height="1" fill="#000" fill-opacity="0.09" filter="url(#bl13)"/>
<rect x="982.7" y="69.4" width="42.8" height="2" fill="#000" fill-opacity="0.07" filter="url(#bl13)"/>
<rect x="1093.8" y="179.6" width="12.8" height="1" fill="#000" fill-opacity="0.05" filter="url(#bl13)"/>
<rect x="982" y="59" width="58.1" height="1.5" fill="#000" fill-opacity="0.07" filter="url(#bl13)"/>
<rect x="1079.2" y="258.1" width="58" height="1" fill="#000" fill-opacity="0.05" filter="url(#bl13)"/>
<rect x="991.9" y="151.6" width="55.8" height="1.5" fill="#000" fill-opacity="0.06" filter="url(#bl13)"/>
<rect x="1037.7" y="186.5" width="50" height="2" fill="#000" fill-opacity="0.06" filter="url(#bl13)"/>
<rect x="1051.5" y="223.3" width="69.2" height="1" fill="#000" fill-opacity="0.09" filter="url(#bl13)"/>
<rect x="978.2" y="140.9" width="54.3" height="1.5" fill="#000" fill-opacity="0.08" filter="url(#bl13)"/>
<rect x="987" y="86.1" width="42.3" height="1.5" fill="#000" fill-opacity="0.08" filter="url(#bl13)"/>
<rect x="1131.5" y="244.3" width="45.5" height="2" fill="#000" fill-opacity="0.08" filter="url(#bl13)"/>
<rect x="993.5" y="93.7" width="23.3" height="1.5" fill="#000" fill-opacity="0.09" filter="url(#bl13)"/>
<rect x="1021.3" y="129.2" width="53.7" height="1" fill="#000" fill-opacity="0.11" filter="url(#bl13)"/>
<rect x="980" y="91.2" width="40.9" height="2" fill="#000" fill-opacity="0.05" filter="url(#bl13)"/>
<rect x="975.4" y="134.7" width="62.4" height="1.5" fill="#000" fill-opacity="0.11" filter="url(#bl13)"/>
<rect x="939.7" y="86.2" width="61.5" height="2" fill="#000" fill-opacity="0.04" filter="url(#bl13)"/>
<rect x="1083.2" y="178.4" width="53.9" height="2" fill="#000" fill-opacity="0.05" filter="url(#bl13)"/>
<rect x="1001.7" y="49.2" width="52.7" height="1" fill="#000" fill-opacity="0.08" filter="url(#bl13)"/>
<rect x="1023.6" y="107.4" width="21.5" height="1" fill="#000" fill-opacity="0.09" filter="url(#bl13)"/>
<rect x="1065.4" y="246.9" width="21.7" height="2" fill="#000" fill-opacity="0.10" filter="url(#bl13)"/>
<rect x="984.5" y="48.3" width="37.5" height="1" fill="#000" fill-opacity="0.06" filter="url(#bl13)"/>
<rect x="1036.8" y="160.7" width="19.3" height="2" fill="#000" fill-opacity="0.11" filter="url(#bl13)"/>
<rect x="1094.9" y="177" width="16.5" height="1.5" fill="#000" fill-opacity="0.07" filter="url(#bl13)"/>
<rect x="1094.7" y="235.6" width="14.1" height="2" fill="#000" fill-opacity="0.08" filter="url(#bl13)"/>
<rect x="1056.3" y="158.4" width="39.5" height="1.5" fill="#000" fill-opacity="0.09" filter="url(#bl13)"/>
<rect x="1080.6" y="223.4" width="33.8" height="1.5" fill="#000" fill-opacity="0.04" filter="url(#bl13)"/>
<rect x="1033.9" y="197" width="61.2" height="2" fill="#000" fill-opacity="0.05" filter="url(#bl13)"/>
<rect x="955.3" y="93.7" width="56.8" height="1.5" fill="#000" fill-opacity="0.09" filter="url(#bl13)"/>
<rect x="945.9" y="48.2" width="35.1" height="1" fill="#000" fill-opacity="0.04" filter="url(#bl13)"/>
<rect x="1068.1" y="177.6" width="12.2" height="2" fill="#000" fill-opacity="0.07" filter="url(#bl13)"/>
<rect x="1008.3" y="129.2" width="15.6" height="1" fill="#000" fill-opacity="0.08" filter="url(#bl13)"/>
<rect x="979.4" y="73.6" width="15.1" height="2" fill="#000" fill-opacity="0.06" filter="url(#bl13)"/>
<rect x="1045.7" y="128.9" width="13.9" height="1.5" fill="#000" fill-opacity="0.04" filter="url(#bl13)"/>
<rect x="999.2" y="152.5" width="45.9" height="1.5" fill="#000" fill-opacity="0.06" filter="url(#bl13)"/>
<rect x="949.9" y="69.2" width="58.6" height="2" fill="#000" fill-opacity="0.06" filter="url(#bl13)"/>
<rect x="1120.3" y="209.8" width="64.3" height="1" fill="#000" fill-opacity="0.09" filter="url(#bl13)"/>
<rect x="988.7" y="149.7" width="33.6" height="1" fill="#000" fill-opacity="0.06" filter="url(#bl13)"/>
<rect x="983.7" y="50.2" width="25.8" height="1.5" fill="#000" fill-opacity="0.10" filter="url(#bl13)"/>
<rect x="968" y="84.3" width="34.8" height="2" fill="#000" fill-opacity="0.04" filter="url(#bl13)"/>
<rect x="1135.7" y="246.2" width="18.7" height="2" fill="#000" fill-opacity="0.10" filter="url(#bl13)"/>
<rect x="1061.1" y="130.8" width="20.6" height="1.5" fill="#000" fill-opacity="0.08" filter="url(#bl13)"/>
<rect x="1037.7" y="59.4" width="15" height="2" fill="#000" fill-opacity="0.04" filter="url(#bl13)"/>
<rect x="1021.5" y="101.9" width="17.3" height="2" fill="#000" fill-opacity="0.06" filter="url(#bl13)"/>
<rect x="1046.7" y="137.2" width="48.1" height="1" fill="#000" fill-opacity="0.06" filter="url(#bl13)"/>
<rect x="932.2" y="64.6" width="29.9" height="1.5" fill="#000" fill-opacity="0.12" filter="url(#bl13)"/>
<g filter="url(#bl13)">
<rect x="974.9" y="39.4" width="7.7" height="4.3" fill="#000" fill-opacity="0.05"/>
<rect x="978.6" y="43.4" width="6" height="4.3" fill="#000" fill-opacity="0.07"/>
<rect x="980.1" y="47.3" width="8.7" height="4.3" fill="#000" fill-opacity="0.09"/>
<rect x="983.8" y="51.3" width="6.9" height="4.3" fill="#000" fill-opacity="0.06"/>
<rect x="984.2" y="55.3" width="11.9" height="4.3" fill="#000" fill-opacity="0.13"/>
<rect x="987.2" y="59.3" width="11.7" height="4.3" fill="#000" fill-opacity="0.08"/>
<rect x="992.8" y="63.2" width="6.1" height="4.3" fill="#000" fill-opacity="0.12"/>
<rect x="993.4" y="67.2" width="10.6" height="4.3" fill="#000" fill-opacity="0.08"/>
<rect x="998.5" y="71.2" width="6.1" height="4.3" fill="#000" fill-opacity="0.10"/>
<rect x="998.6" y="75.2" width="11.7" height="4.3" fill="#000" fill-opacity="0.09"/>
<rect x="1002.1" y="79.1" width="10.4" height="4.3" fill="#000" fill-opacity="0.12"/>
<rect x="1004.7" y="83.1" width="10.8" height="4.3" fill="#000" fill-opacity="0.05"/>
<rect x="1007.2" y="87.1" width="11.3" height="4.3" fill="#000" fill-opacity="0.09"/>
<rect x="1011.5" y="91" width="8.5" height="4.3" fill="#000" fill-opacity="0.06"/>
<rect x="1016" y="95" width="5" height="4.3" fill="#000" fill-opacity="0.06"/>
<rect x="1018.6" y="99" width="5.6" height="4.3" fill="#000" fill-opacity="0.14"/>
<rect x="1019.6" y="103" width="9" height="4.3" fill="#000" fill-opacity="0.12"/>
<rect x="1024.2" y="106.9" width="5.4" height="4.3" fill="#000" fill-opacity="0.12"/>
<rect x="1024" y="110.9" width="11.4" height="4.3" fill="#000" fill-opacity="0.12"/>
<rect x="1029.9" y="114.9" width="5.2" height="4.3" fill="#000" fill-opacity="0.11"/>
<rect x="1030.1" y="118.8" width="10.4" height="4.3" fill="#000" fill-opacity="0.12"/>
<rect x="1034.5" y="122.8" width="7.1" height="4.3" fill="#000" fill-opacity="0.12"/>
<rect x="1036" y="126.8" width="9.6" height="4.3" fill="#000" fill-opacity="0.13"/>
<rect x="1039.5" y="130.8" width="8" height="4.3" fill="#000" fill-opacity="0.13"/>
<rect x="1043" y="134.7" width="6.6" height="4.3" fill="#000" fill-opacity="0.05"/>
<rect x="1046.2" y="138.7" width="5.7" height="4.3" fill="#000" fill-opacity="0.09"/>
<rect x="1047.5" y="142.7" width="8.5" height="4.3" fill="#000" fill-opacity="0.12"/>
<rect x="1048.8" y="146.7" width="11.2" height="4.3" fill="#000" fill-opacity="0.16"/>
<rect x="1052.3" y="150.6" width="9.6" height="4.3" fill="#000" fill-opacity="0.12"/>
<rect x="1055.5" y="154.6" width="8.7" height="4.3" fill="#000" fill-opacity="0.17"/>
<rect x="1059.2" y="158.6" width="6.6" height="4.3" fill="#000" fill-opacity="0.11"/>
<rect x="1062.6" y="162.5" width="5.1" height="4.3" fill="#000" fill-opacity="0.09"/>
<rect x="1064.8" y="166.5" width="6" height="4.3" fill="#000" fill-opacity="0.10"/>
<rect x="1066.8" y="170.5" width="7.5" height="4.3" fill="#000" fill-opacity="0.06"/>
<rect x="1069.4" y="174.5" width="7.4" height="4.3" fill="#000" fill-opacity="0.07"/>
<rect x="1072.3" y="178.4" width="7" height="4.3" fill="#000" fill-opacity="0.06"/>
<rect x="1073.4" y="182.4" width="10" height="4.3" fill="#000" fill-opacity="0.06"/>
<rect x="1077.9" y="186.4" width="6.2" height="4.3" fill="#000" fill-opacity="0.06"/>
<rect x="1079.2" y="190.4" width="8.8" height="4.3" fill="#000" fill-opacity="0.06"/>
<rect x="1081.2" y="194.3" width="10.1" height="4.3" fill="#000" fill-opacity="0.05"/>
<rect x="1084.7" y="198.3" width="8.2" height="4.3" fill="#000" fill-opacity="0.09"/>
<rect x="1086.9" y="202.3" width="9" height="4.3" fill="#000" fill-opacity="0.11"/>
<rect x="1088.7" y="206.2" width="10.6" height="4.3" fill="#000" fill-opacity="0.10"/>
<rect x="1093.8" y="210.2" width="5.5" height="4.3" fill="#000" fill-opacity="0.14"/>
<rect x="1094.8" y="214.2" width="8.7" height="4.3" fill="#000" fill-opacity="0.07"/>
<rect x="1097.9" y="218.2" width="7.7" height="4.3" fill="#000" fill-opacity="0.06"/>
<rect x="1101.1" y="222.1" width="6.4" height="4.3" fill="#000" fill-opacity="0.08"/>
<rect x="1102.3" y="226.1" width="9.1" height="4.3" fill="#000" fill-opacity="0.12"/>
<rect x="1103.6" y="230.1" width="11.5" height="4.3" fill="#000" fill-opacity="0.07"/>
<rect x="1106.2" y="234" width="11.5" height="4.3" fill="#000" fill-opacity="0.05"/>
<rect x="1109.5" y="238" width="10" height="4.3" fill="#000" fill-opacity="0.08"/>
<rect x="1112.8" y="242" width="8.4" height="4.3" fill="#000" fill-opacity="0.13"/>
<rect x="1116.8" y="246" width="5.4" height="4.3" fill="#000" fill-opacity="0.07"/>
<rect x="1119.5" y="249.9" width="5" height="4.3" fill="#000" fill-opacity="0.09"/>
<rect x="1118.6" y="253.9" width="11.9" height="4.3" fill="#000" fill-opacity="0.12"/>
<rect x="1122.7" y="257.9" width="8.7" height="4.3" fill="#000" fill-opacity="0.08"/>
<rect x="1125.2" y="261.9" width="8.9" height="4.3" fill="#000" fill-opacity="0.04"/>
<rect x="1127.4" y="265.8" width="9.4" height="4.3" fill="#000" fill-opacity="0.12"/>
</g>
</g>
<line x1="977.3" y1="184.3" x2="1133.4" y2="184.3" stroke="#222" stroke-width="1.1" stroke-opacity="0.8"/>
<line x1="1055.2" y1="39.4" x2="1055.2" y2="269.8" stroke="#f7d588" stroke-width="2.7" stroke-dasharray="4.5 2.5"/>
<text x="1055.3" y="13.7" font-size="17.2" text-anchor="middle" class="t">Tg + TAT-Cntrl</text>
<text x="1055.3" y="34.7" font-size="17.2" text-anchor="middle" class="t">(638)</text>
<text x="971.8" y="44.9" font-size="14" text-anchor="end" font-family='"DejaVu Sans", "Liberation Sans", sans-serif' fill="#505050" stroke="#505050" stroke-width="0.6">0</text>
<text x="971.8" y="81" font-size="14" text-anchor="end" font-family='"DejaVu Sans", "Liberation Sans", sans-serif' fill="#505050" stroke="#505050" stroke-width="0.6">100</text>
<text x="971.8" y="117.1" font-size="14" text-anchor="end" font-family='"DejaVu Sans", "Liberation Sans", sans-serif' fill="#505050" stroke="#505050" stroke-width="0.6">200</text>
<text x="971.8" y="153.2" font-size="14" text-anchor="end" font-family='"DejaVu Sans", "Liberation Sans", sans-serif' fill="#505050" stroke="#505050" stroke-width="0.6">300</text>
<text x="971.8" y="189.3" font-size="14" text-anchor="end" font-family='"DejaVu Sans", "Liberation Sans", sans-serif' fill="#505050" stroke="#505050" stroke-width="0.6">400</text>
<text x="971.8" y="225.5" font-size="14" text-anchor="end" font-family='"DejaVu Sans", "Liberation Sans", sans-serif' fill="#505050" stroke="#505050" stroke-width="0.6">500</text>
<text x="971.8" y="261.6" font-size="14" text-anchor="end" font-family='"DejaVu Sans", "Liberation Sans", sans-serif' fill="#505050" stroke="#505050" stroke-width="0.6">600</text>
<text x="977.3" y="288.5" font-size="14" text-anchor="middle" font-family='"DejaVu Sans", "Liberation Sans", sans-serif' fill="#505050" stroke="#505050" stroke-width="0.6">-5.0</text>
<text x="1016.3" y="288.5" font-size="14" text-anchor="middle" font-family='"DejaVu Sans", "Liberation Sans", sans-serif' fill="#505050" stroke="#505050" stroke-width="0.6">-2.5</text>
<text x="1055.3" y="288.5" font-size="14" text-anchor="middle" font-family='"DejaVu Sans", "Liberation Sans", sans-serif' fill="#505050" stroke="#505050" stroke-width="0.6">0.0</text>
<text x="1094.4" y="288.5" font-size="14" text-anchor="middle" font-family='"DejaVu Sans", "Liberation Sans", sans-serif' fill="#505050" stroke="#505050" stroke-width="0.6">2.5</text>
<text x="1133.4" y="288.5" font-size="14" text-anchor="middle" font-family='"DejaVu Sans", "Liberation Sans", sans-serif' fill="#505050" stroke="#505050" stroke-width="0.6">5.0</text>
<rect x="1165.5" y="39.4" width="157.5" height="230.4" fill="#fdfdfd"/>
<g clip-path="url(#cp14)">
<rect x="1165.5" y="39.4" width="157.5" height="230.4" fill="#000" filter="url(#nz14)" mask="url(#mk14)"/>
<ellipse cx="1234.8" cy="150" rx="63" ry="34.6" fill="#000" fill-opacity="0.10" filter="url(#cl14)" transform="rotate(38 1234.8 150)"/>
<rect x="1108.4" y="64" width="52.7" height="1.5" fill="#000" fill-opacity="0.06" filter="url(#bl14)"/>
<rect x="1136" y="106.5" width="16.2" height="1.5" fill="#000" fill-opacity="0.08" filter="url(#bl14)"/>
<rect x="1258.8" y="197" width="35" height="1.5" fill="#000" fill-opacity="0.06" filter="url(#bl14)"/>
<rect x="1191.2" y="121.9" width="27.1" height="2" fill="#000" fill-opacity="0.12" filter="url(#bl14)"/>
<rect x="1222.1" y="158.3" width="21.3" height="1" fill="#000" fill-opacity="0.04" filter="url(#bl14)"/>
<rect x="1145.1" y="67.7" width="31.5" height="1" fill="#000" fill-opacity="0.04" filter="url(#bl14)"/>
<rect x="1212.9" y="236.2" width="34.1" height="1" fill="#000" fill-opacity="0.13" filter="url(#bl14)"/>
<rect x="1236.6" y="240.4" width="51.8" height="2" fill="#000" fill-opacity="0.05" filter="url(#bl14)"/>
<rect x="1287.3" y="186.3" width="33.1" height="2" fill="#000" fill-opacity="0.08" filter="url(#bl14)"/>
<rect x="1133.8" y="84.1" width="38.3" height="1.5" fill="#000" fill-opacity="0.06" filter="url(#bl14)"/>
<rect x="1241.6" y="154.7" width="17.9" height="1" fill="#000" fill-opacity="0.06" filter="url(#bl14)"/>
<rect x="1159.4" y="76.7" width="35.9" height="2" fill="#000" fill-opacity="0.10" filter="url(#bl14)"/>
<rect x="1143.3" y="60.8" width="39.9" height="1.5" fill="#000" fill-opacity="0.08" filter="url(#bl14)"/>
<rect x="1180.4" y="145.3" width="36.2" height="1.5" fill="#000" fill-opacity="0.12" filter="url(#bl14)"/>
<rect x="1281.8" y="148.7" width="25.7" height="1" fill="#000" fill-opacity="0.04" filter="url(#bl14)"/>
<rect x="1167.5" y="152.1" width="27.5" height="2" fill="#000" fill-opacity="0.08" filter="url(#bl14)"/>
<rect x="1248.8" y="132.9" width="69.3" height="1.5" fill="#000" fill-opacity="0.07" filter="url(#bl14)"/>
<rect x="1199.3" y="100.1" width="29.5" height="2" fill="#000" fill-opacity="0.05" filter="url(#bl14)"/>
<rect x="1237.5" y="168.4" width="58.3" height="1" fill="#000" fill-opacity="0.06" filter="url(#bl14)"/>
<rect x="1306.2" y="265.9" width="46" height="1.5" fill="#000" fill-opacity="0.06" filter="url(#bl14)"/>
<rect x="1369.7" y="267.4" width="18.6" height="1.5" fill="#000" fill-opacity="0.04" filter="url(#bl14)"/>
<rect x="1273.1" y="240.5" width="27.3" height="2" fill="#000" fill-opacity="0.06" filter="url(#bl14)"/>
<rect x="1243.8" y="196.1" width="31.3" height="2" fill="#000" fill-opacity="0.04" filter="url(#bl14)"/>
<rect x="1181" y="210.2" width="57.7" height="2" fill="#000" fill-opacity="0.05" filter="url(#bl14)"/>
<rect x="1215.8" y="233.3" width="33.3" height="1.5" fill="#000" fill-opacity="0.09" filter="url(#bl14)"/>
<rect x="1267.2" y="151.8" width="67.2" height="2" fill="#000" fill-opacity="0.04" filter="url(#bl14)"/>
<rect x="1278.5" y="254.5" width="39.2" height="1" fill="#000" fill-opacity="0.05" filter="url(#bl14)"/>
<rect x="1164.1" y="52" width="65.9" height="1.5" fill="#000" fill-opacity="0.06" filter="url(#bl14)"/>
<rect x="1169.7" y="142.5" width="43.6" height="1.5" fill="#000" fill-opacity="0.06" filter="url(#bl14)"/>
<rect x="1274.1" y="164.1" width="36.3" height="1" fill="#000" fill-opacity="0.08" filter="url(#bl14)"/>
<rect x="1192.7" y="73.2" width="54.1" height="2" fill="#000" fill-opacity="0.06" filter="url(#bl14)"/>
<rect x="1312.2" y="237.6" width="59.6" height="2" fill="#000" fill-opacity="0.14" filter="url(#bl14)"/>
<rect x="1280.7" y="190.7" width="44.3" height="1.5" fill="#000" fill-opacity="0.06" filter="url(#bl14)"/>
<rect x="1218.3" y="113.8" width="16.4" height="2" fill="#000" fill-opacity="0.07" filter="url(#bl14)"/>
<rect x="1276.4" y="187.2" width="49.6" height="1" fill="#000" fill-opacity="0.04" filter="url(#bl14)"/>
<rect x="1203.3" y="240.9" width="60.1" height="1" fill="#000" fill-opacity="0.13" filter="url(#bl14)"/>
<rect x="1235.6" y="39.4" width="51.3" height="1" fill="#000" fill-opacity="0.12" filter="url(#bl14)"/>
<rect x="1175" y="40.5" width="38.1" height="1.5" fill="#000" fill-opacity="0.11" filter="url(#bl14)"/>
<rect x="1296.1" y="204.9" width="13.2" height="2" fill="#000" fill-opacity="0.06" filter="url(#bl14)"/>
<rect x="1274.7" y="188.2" width="12" height="1" fill="#000" fill-opacity="0.14" filter="url(#bl14)"/>
<rect x="1262.8" y="206.4" width="12.4" height="1.5" fill="#000" fill-opacity="0.05" filter="url(#bl14)"/>
<rect x="1232.7" y="142" width="32.1" height="1" fill="#000" fill-opacity="0.13" filter="url(#bl14)"/>
<rect x="1136.9" y="97.5" width="28.4" height="1" fill="#000" fill-opacity="0.07" filter="url(#bl14)"/>
<rect x="1193.7" y="160" width="60.4" height="2" fill="#000" fill-opacity="0.08" filter="url(#bl14)"/>
<rect x="1103.2" y="55.4" width="37.4" height="2" fill="#000" fill-opacity="0.08" filter="url(#bl14)"/>
<rect x="1222.8" y="215.3" width="68.6" height="1" fill="#000" fill-opacity="0.13" filter="url(#bl14)"/>
<g filter="url(#bl14)">
<rect x="1163.1" y="39.4" width="7.6" height="4.3" fill="#000" fill-opacity="0.12"/>
<rect x="1166.5" y="43.4" width="6.7" height="4.3" fill="#000" fill-opacity="0.14"/>
<rect x="1166.8" y="47.3" width="11.8" height="4.3" fill="#000" fill-opacity="0.13"/>
<rect x="1170.2" y="51.3" width="10.8" height="4.3" fill="#000" fill-opacity="0.07"/>
<rect x="1173" y="55.3" width="10.9" height="4.3" fill="#000" fill-opacity="0.06"/>
<rect x="1176.1" y="59.3" width="10.5" height="4.3" fill="#000" fill-opacity="0.10"/>
<rect x="1179.4" y="63.2" width="9.6" height="4.3" fill="#000" fill-opacity="0.05"/>
<rect x="1183.9" y="67.2" width="6.3" height="4.3" fill="#000" fill-opacity="0.14"/>
<rect x="1185.4" y="71.2" width="9.2" height="4.3" fill="#000" fill-opacity="0.08"/>
<rect x="1186.9" y="75.2" width="12" height="4.3" fill="#000" fill-opacity="0.10"/>
<rect x="1190.1" y="79.1" width="11.3" height="4.3" fill="#000" fill-opacity="0.06"/>
<rect x="1195.8" y="83.1" width="5.5" height="4.3" fill="#000" fill-opacity="0.14"/>
<rect x="1196.4" y="87.1" width="10" height="4.3" fill="#000" fill-opacity="0.11"/>
<rect x="1201.1" y="91" width="6.4" height="4.3" fill="#000" fill-opacity="0.07"/>
<rect x="1203.3" y="95" width="7.5" height="4.3" fill="#000" fill-opacity="0.08"/>
<rect x="1205.1" y="99" width="9.8" height="4.3" fill="#000" fill-opacity="0.10"/>
<rect x="1208.4" y="103" width="8.7" height="4.3" fill="#000" fill-opacity="0.18"/>
<rect x="1212.9" y="106.9" width="5.3" height="4.3" fill="#000" fill-opacity="0.13"/>
<rect x="1214.3" y="110.9" width="8.2" height="4.3" fill="#000" fill-opacity="0.17"/>
<rect x="1215.8" y="114.9" width="10.7" height="4.3" fill="#000" fill-opacity="0.12"/>
<rect x="1220.4" y="118.8" width="7.1" height="4.3" fill="#000" fill-opacity="0.06"/>
<rect x="1224.1" y="122.8" width="5.4" height="4.3" fill="#000" fill-opacity="0.06"/>
<rect x="1226" y="126.8" width="7.1" height="4.3" fill="#000" fill-opacity="0.10"/>
<rect x="1228.8" y="130.8" width="7.1" height="4.3" fill="#000" fill-opacity="0.15"/>
<rect x="1230" y="134.7" width="10.2" height="4.3" fill="#000" fill-opacity="0.08"/>
<rect x="1231.8" y="138.7" width="12" height="4.3" fill="#000" fill-opacity="0.09"/>
<rect x="1235.4" y="142.7" width="10.4" height="4.3" fill="#000" fill-opacity="0.19"/>
<rect x="1237.8" y="146.7" width="11.1" height="4.3" fill="#000" fill-opacity="0.09"/>
<rect x="1240.5" y="150.6" width="11" height="4.3" fill="#000" fill-opacity="0.18"/>
<rect x="1244.2" y="154.6" width="9.1" height="4.3" fill="#000" fill-opacity="0.17"/>
<rect x="1246.1" y="158.6" width="10.7" height="4.3" fill="#000" fill-opacity="0.08"/>
<rect x="1250.8" y="162.5" width="6.7" height="4.3" fill="#000" fill-opacity="0.18"/>
<rect x="1252.1" y="166.5" width="9.4" height="4.3" fill="#000" fill-opacity="0.10"/>
<rect x="1255.2" y="170.5" width="8.7" height="4.3" fill="#000" fill-opacity="0.19"/>
<rect x="1259.3" y="174.5" width="5.8" height="4.3" fill="#000" fill-opacity="0.06"/>
<rect x="1259.3" y="178.4" width="11.1" height="4.3" fill="#000" fill-opacity="0.09"/>
<rect x="1264" y="182.4" width="7.1" height="4.3" fill="#000" fill-opacity="0.16"/>
<rect x="1267" y="186.4" width="6.4" height="4.3" fill="#000" fill-opacity="0.12"/>
<rect x="1267.7" y="190.4" width="10.2" height="4.3" fill="#000" fill-opacity="0.18"/>
<rect x="1271.9" y="194.3" width="7" height="4.3" fill="#000" fill-opacity="0.11"/>
<rect x="1274.2" y="198.3" width="7.7" height="4.3" fill="#000" fill-opacity="0.07"/>
<rect x="1274.7" y="202.3" width="11.9" height="4.3" fill="#000" fill-opacity="0.13"/>
<rect x="1277.9" y="206.2" width="10.7" height="4.3" fill="#000" fill-opacity="0.14"/>
<rect x="1281.4" y="210.2" width="8.8" height="4.3" fill="#000" fill-opacity="0.17"/>
<rect x="1285.7" y="214.2" width="5.4" height="4.3" fill="#000" fill-opacity="0.12"/>
<rect x="1286.6" y="218.2" width="8.8" height="4.3" fill="#000" fill-opacity="0.17"/>
<rect x="1289.1" y="222.1" width="9.1" height="4.3" fill="#000" fill-opacity="0.07"/>
<rect x="1293.4" y="226.1" width="5.6" height="4.3" fill="#000" fill-opacity="0.09"/>
<rect x="1292.8" y="230.1" width="11.9" height="4.3" fill="#000" fill-opacity="0.11"/>
<rect x="1298.4" y="234" width="5.8" height="4.3" fill="#000" fill-opacity="0.14"/>
<rect x="1298" y="238" width="11.7" height="4.3" fill="#000" fill-opacity="0.15"/>
<rect x="1301.9" y="242" width="9.1" height="4.3" fill="#000" fill-opacity="0.08"/>
<rect x="1303.2" y="246" width="11.6" height="4.3" fill="#000" fill-opacity="0.06"/>
<rect x="1307.1" y="249.9" width="8.9" height="4.3" fill="#000" fill-opacity="0.08"/>
<rect x="1309.8" y="253.9" width="8.6" height="4.3" fill="#000" fill-opacity="0.12"/>
<rect x="1311" y="257.9" width="11.2" height="4.3" fill="#000" fill-opacity="0.14"/>
<rect x="1316.3" y="261.9" width="5.9" height="4.3" fill="#000" fill-opacity="0.10"/>
<rect x="1316.3" y="265.8" width="10.9" height="4.3" fill="#000" fill-opacity="0.06"/>
</g>
</g>
<line x1="1243.6" y1="39.4" x2="1243.6" y2="269.8" stroke="#f7d588" stroke-width="2.7" stroke-dasharray="4.5 2.5"/>
<text x="1244.2" y="13.7" font-size="17.2" text-anchor="middle" class="t">Tg + TAT-GluA2<tspan dy="6" font-size="8.5">3y</tspan></text>
<text x="1244.2" y="34.7" font-size="17.2" text-anchor="middle" class="t">(759)</text>
<text x="1160" y="44.9" font-size="14" text-anchor="end" font-family='"DejaVu Sans", "Liberation Sans", sans-serif' fill="#505050" stroke="#505050" stroke-width="0.6">0</text>
<text x="1160" y="75.2" font-size="14" text-anchor="end" font-family='"DejaVu Sans", "Liberation Sans", sans-serif' fill="#505050" stroke="#505050" stroke-width="0.6">100</text>
<text x="1160" y="105.6" font-size="14" text-anchor="end" font-family='"DejaVu Sans", "Liberation Sans", sans-serif' fill="#505050" stroke="#505050" stroke-width="0.6">200</text>
<text x="1160" y="135.9" font-size="14" text-anchor="end" font-family='"DejaVu Sans", "Liberation Sans", sans-serif' fill="#505050" stroke="#505050" stroke-width="0.6">300</text>
<text x="1160" y="166.3" font-size="14" text-anchor="end" font-family='"DejaVu Sans", "Liberation Sans", sans-serif' fill="#505050" stroke="#505050" stroke-width="0.6">400</text>
<text x="1160" y="196.6" font-size="14" text-anchor="end" font-family='"DejaVu Sans", "Liberation Sans", sans-serif' fill="#505050" stroke="#505050" stroke-width="0.6">500</text>
<text x="1160" y="227" font-size="14" text-anchor="end" font-family='"DejaVu Sans", "Liberation Sans", sans-serif' fill="#505050" stroke="#505050" stroke-width="0.6">600</text>
<text x="1160" y="257.4" font-size="14" text-anchor="end" font-family='"DejaVu Sans", "Liberation Sans", sans-serif' fill="#505050" stroke="#505050" stroke-width="0.6">700</text>
<text x="1165.5" y="288.5" font-size="14" text-anchor="middle" font-family='"DejaVu Sans", "Liberation Sans", sans-serif' fill="#505050" stroke="#505050" stroke-width="0.6">-5.0</text>
<text x="1204.9" y="288.5" font-size="14" text-anchor="middle" font-family='"DejaVu Sans", "Liberation Sans", sans-serif' fill="#505050" stroke="#505050" stroke-width="0.6">-2.5</text>
<text x="1244.2" y="288.5" font-size="14" text-anchor="middle" font-family='"DejaVu Sans", "Liberation Sans", sans-serif' fill="#505050" stroke="#505050" stroke-width="0.6">0.0</text>
<text x="1283.6" y="288.5" font-size="14" text-anchor="middle" font-family='"DejaVu Sans", "Liberation Sans", sans-serif' fill="#505050" stroke="#505050" stroke-width="0.6">2.5</text>
<text x="1323" y="288.5" font-size="14" text-anchor="middle" font-family='"DejaVu Sans", "Liberation Sans", sans-serif' fill="#505050" stroke="#505050" stroke-width="0.6">5.0</text>
<text x="548" y="155" font-size="14" text-anchor="middle" transform="rotate(-90 548 155)" font-family='"DejaVu Sans", "Liberation Sans", sans-serif' fill="#505050" stroke="#505050" stroke-width="0.6">Cells</text>
<text x="11.2" y="381.7" font-size="30" text-anchor="middle" class="t">C</text>
<text x="280.6" y="352.7" font-size="12.4" text-anchor="middle" class="t">10 cells</text>
<text x="72.1" y="584.9" font-size="12.4" text-anchor="end" class="t">0.5</text>
<text x="72.1" y="544.7" font-size="12.4" text-anchor="end" class="t">0.6</text>
<text x="72.1" y="504.4" font-size="12.4" text-anchor="end" class="t">0.7</text>
<text x="72.1" y="464.2" font-size="12.4" text-anchor="end" class="t">0.8</text>
<text x="72.1" y="423.9" font-size="12.4" text-anchor="end" class="t">0.9</text>
<text x="72.1" y="383.6" font-size="12.4" text-anchor="end" class="t">1.0</text>
<text x="47.7" y="474.9" font-size="12.4" text-anchor="middle" transform="rotate(-90 47.7 474.9)" class="t">Balanced accuracy</text>
<rect x="85.6" y="553" width="13.2" height="27.5" fill="#9e9ea2"/>
<rect x="85.6" y="553" width="13.2" height="27.5" fill="none" stroke="#9e9ea2" stroke-width="1.4"/>
<path d="M92.2 552.3V546.3M87.5 546.3H97" fill="none" stroke="#9e9ea2" stroke-width="2"/>
<rect x="104.3" y="523.6" width="13.2" height="56.9" fill="#9e9ea2"/>
<rect x="104.3" y="523.6" width="13.2" height="56.9" fill="url(#p0)"/>
<rect x="104.3" y="523.6" width="13.2" height="56.9" fill="none" stroke="#9e9ea2" stroke-width="1.4"/>
<path d="M110.9 522.9V518.5M106.1 518.5H115.6" fill="none" stroke="#9e9ea2" stroke-width="2"/>
<rect x="122.9" y="518" width="13.2" height="62.5" fill="#9e9ea2"/>
<rect x="122.9" y="518" width="13.2" height="62.5" fill="url(#p1)"/>
<rect x="122.9" y="518" width="13.2" height="62.5" fill="none" stroke="#9e9ea2" stroke-width="1.4"/>
<path d="M129.5 517.3V511.3M124.8 511.3H134.3" fill="none" stroke="#9e9ea2" stroke-width="2"/>
<rect x="141.6" y="473.3" width="13.2" height="107.2" fill="#9e9ea2"/>
<rect x="141.6" y="473.3" width="13.2" height="107.2" fill="url(#p2)"/>
<rect x="141.6" y="473.3" width="13.2" height="107.2" fill="none" stroke="#9e9ea2" stroke-width="1.4"/>
<path d="M148.2 472.6V459.7M143.5 459.7H153" fill="none" stroke="#9e9ea2" stroke-width="2"/>
<rect x="160.3" y="475.3" width="13.2" height="105.2" fill="#9e9ea2"/>
<rect x="160.3" y="475.3" width="13.2" height="105.2" fill="url(#p3)"/>
<rect x="160.3" y="475.3" width="13.2" height="105.2" fill="none" stroke="#9e9ea2" stroke-width="1.4"/>
<path d="M166.9 474.6V462.1M162.1 462.1H171.6" fill="none" stroke="#9e9ea2" stroke-width="2"/>
<g fill="none" stroke="#7f7fd0" stroke-width="1.4" stroke-opacity="0.36" stroke-linejoin="round"><path d="M92.2 529.2L110.9 519.6L129.5 505.7L148.2 473.6L166.9 454.3"/><path d="M92.2 555.8L110.9 531.5L129.5 536.5L148.2 466.4L166.9 501.1"/><path d="M92.2 538.5L110.9 499.4L129.5 489.8L148.2 442.7L166.9 459"/><path d="M92.2 567L110.9 531.7L129.5 526.8L148.2 495.5L166.9 512.4"/><path d="M92.2 567.6L110.9 522.9L129.5 521.4L148.2 457.3L166.9 431"/><path d="M92.2 554.5L110.9 523.4L129.5 527.6L148.2 506.5L166.9 555.4"/><path d="M92.2 578.9L110.9 547.8L129.5 546.6L148.2 509.9L166.9 503.6"/><path d="M92.2 566.6L110.9 517.9L129.5 520L148.2 505.5L166.9 521.3"/><path d="M92.2 571.1L110.9 563.7L129.5 562.3L148.2 545.4L166.9 506"/><path d="M92.2 559.6L110.9 515.2L129.5 511.9L148.2 466.2L166.9 452.1"/></g>
<g fill="#55556a" fill-opacity="0.4" stroke="#55556a" stroke-opacity="0.45" stroke-width="0.7"><circle cx="92.2" cy="529.2" r="1.9"/><circle cx="110.9" cy="519.6" r="1.9"/><circle cx="129.5" cy="505.7" r="1.9"/><circle cx="148.2" cy="473.6" r="1.9"/><circle cx="166.9" cy="454.3" r="1.9"/><circle cx="92.2" cy="555.8" r="1.9"/><circle cx="110.9" cy="531.5" r="1.9"/><circle cx="129.5" cy="536.5" r="1.9"/><circle cx="148.2" cy="466.4" r="1.9"/><circle cx="166.9" cy="501.1" r="1.9"/><circle cx="92.2" cy="538.5" r="1.9"/><circle cx="110.9" cy="499.4" r="1.9"/><circle cx="129.5" cy="489.8" r="1.9"/><circle cx="148.2" cy="442.7" r="1.9"/><circle cx="166.9" cy="459" r="1.9"/><circle cx="92.2" cy="567" r="1.9"/><circle cx="110.9" cy="531.7" r="1.9"/><circle cx="129.5" cy="526.8" r="1.9"/><circle cx="148.2" cy="495.5" r="1.9"/><circle cx="166.9" cy="512.4" r="1.9"/><circle cx="92.2" cy="567.6" r="1.9"/><circle cx="110.9" cy="522.9" r="1.9"/><circle cx="129.5" cy="521.4" r="1.9"/><circle cx="148.2" cy="457.3" r="1.9"/><circle cx="166.9" cy="431" r="1.9"/><circle cx="92.2" cy="554.5" r="1.9"/><circle cx="110.9" cy="523.4" r="1.9"/><circle cx="129.5" cy="527.6" r="1.9"/><circle cx="148.2" cy="506.5" r="1.9"/><circle cx="166.9" cy="555.4" r="1.9"/><circle cx="92.2" cy="578.9" r="1.9"/><circle cx="110.9" cy="547.8" r="1.9"/><circle cx="129.5" cy="546.6" r="1.9"/><circle cx="148.2" cy="509.9" r="1.9"/><circle cx="166.9" cy="503.6" r="1.9"/><circle cx="92.2" cy="566.6" r="1.9"/><circle cx="110.9" cy="517.9" r="1.9"/><circle cx="129.5" cy="520" r="1.9"/><circle cx="148.2" cy="505.5" r="1.9"/><circle cx="166.9" cy="521.3" r="1.9"/><circle cx="92.2" cy="571.1" r="1.9"/><circle cx="110.9" cy="563.7" r="1.9"/><circle cx="129.5" cy="562.3" r="1.9"/><circle cx="148.2" cy="545.4" r="1.9"/><circle cx="166.9" cy="506" r="1.9"/><circle cx="92.2" cy="559.6" r="1.9"/><circle cx="110.9" cy="515.2" r="1.9"/><circle cx="129.5" cy="511.9" r="1.9"/><circle cx="148.2" cy="466.2" r="1.9"/><circle cx="166.9" cy="452.1" r="1.9"/></g>
<line x1="92.2" y1="397.9" x2="166.9" y2="397.9" stroke="#1a1a1a" stroke-width="1.2"/>
<text x="129.5" y="394.9" font-size="11.9" text-anchor="middle" class="t">***</text>
<text x="129.5" y="599.6" font-size="12.9" text-anchor="middle" class="t">WT</text>
<text x="129.5" y="613.4" font-size="12.9" text-anchor="middle" class="t">TAT-Cntrl</text>
<rect x="187.1" y="550.2" width="13.2" height="30.3" fill="#f8a042"/>
<rect x="187.1" y="550.2" width="13.2" height="30.3" fill="none" stroke="#f8a042" stroke-width="1.4"/>
<path d="M193.7 549.5V539.4M188.9 539.4H198.4" fill="none" stroke="#f8a042" stroke-width="2"/>
<rect x="205.8" y="518.8" width="13.2" height="61.7" fill="#f8a042"/>
<rect x="205.8" y="518.8" width="13.2" height="61.7" fill="url(#p4)"/>
<rect x="205.8" y="518.8" width="13.2" height="61.7" fill="none" stroke="#f8a042" stroke-width="1.4"/>
<path d="M212.4 518.1V512.5M207.6 512.5H217.1" fill="none" stroke="#f8a042" stroke-width="2"/>
<rect x="224.4" y="511.1" width="13.2" height="69.4" fill="#f8a042"/>
<rect x="224.4" y="511.1" width="13.2" height="69.4" fill="url(#p5)"/>
<rect x="224.4" y="511.1" width="13.2" height="69.4" fill="none" stroke="#f8a042" stroke-width="1.4"/>
<path d="M231 510.4V504.4M226.3 504.4H235.8" fill="none" stroke="#f8a042" stroke-width="2"/>
<rect x="243.1" y="483" width="13.2" height="97.5" fill="#f8a042"/>
<rect x="243.1" y="483" width="13.2" height="97.5" fill="url(#p6)"/>
<rect x="243.1" y="483" width="13.2" height="97.5" fill="none" stroke="#f8a042" stroke-width="1.4"/>
<path d="M249.7 482.3V462.9M245 462.9H254.5" fill="none" stroke="#f8a042" stroke-width="2"/>
<rect x="261.8" y="486.2" width="13.2" height="94.3" fill="#f8a042"/>
<rect x="261.8" y="486.2" width="13.2" height="94.3" fill="url(#p7)"/>
<rect x="261.8" y="486.2" width="13.2" height="94.3" fill="none" stroke="#f8a042" stroke-width="1.4"/>
<path d="M268.4 485.5V467.8M263.6 467.8H273.1" fill="none" stroke="#f8a042" stroke-width="2"/>
<g fill="none" stroke="#7f7fd0" stroke-width="1.4" stroke-opacity="0.36" stroke-linejoin="round"><path d="M193.7 527.6L212.4 498.9L231 483.1L249.7 404.4L268.4 413.1"/><path d="M193.7 564.5L212.4 520.6L231 499.1L249.7 480.8L268.4 469.9"/><path d="M193.7 580.5L212.4 537.5L231 528L249.7 519.6L268.4 495"/><path d="M193.7 539.4L212.4 507L231 505.7L249.7 478.7L268.4 485.4"/><path d="M193.7 562.6L212.4 522.8L231 511.5L249.7 470L268.4 498.8"/><path d="M193.7 550.5L212.4 506.2L231 504.9L249.7 481.8L268.4 448.6"/><path d="M193.7 554.8L212.4 527.6L231 509L249.7 478.6L268.4 489.5"/></g>
<g fill="#55556a" fill-opacity="0.4" stroke="#55556a" stroke-opacity="0.45" stroke-width="0.7"><circle cx="193.7" cy="527.6" r="1.9"/><circle cx="212.4" cy="498.9" r="1.9"/><circle cx="231" cy="483.1" r="1.9"/><circle cx="249.7" cy="404.4" r="1.9"/><circle cx="268.4" cy="413.1" r="1.9"/><circle cx="193.7" cy="564.5" r="1.9"/><circle cx="212.4" cy="520.6" r="1.9"/><circle cx="231" cy="499.1" r="1.9"/><circle cx="249.7" cy="480.8" r="1.9"/><circle cx="268.4" cy="469.9" r="1.9"/><circle cx="193.7" cy="580.5" r="1.9"/><circle cx="212.4" cy="537.5" r="1.9"/><circle cx="231" cy="528" r="1.9"/><circle cx="249.7" cy="519.6" r="1.9"/><circle cx="268.4" cy="495" r="1.9"/><circle cx="193.7" cy="539.4" r="1.9"/><circle cx="212.4" cy="507" r="1.9"/><circle cx="231" cy="505.7" r="1.9"/><circle cx="249.7" cy="478.7" r="1.9"/><circle cx="268.4" cy="485.4" r="1.9"/><circle cx="193.7" cy="562.6" r="1.9"/><circle cx="212.4" cy="522.8" r="1.9"/><circle cx="231" cy="511.5" r="1.9"/><circle cx="249.7" cy="470" r="1.9"/><circle cx="268.4" cy="498.8" r="1.9"/><circle cx="193.7" cy="550.5" r="1.9"/><circle cx="212.4" cy="506.2" r="1.9"/><circle cx="231" cy="504.9" r="1.9"/><circle cx="249.7" cy="481.8" r="1.9"/><circle cx="268.4" cy="448.6" r="1.9"/><circle cx="193.7" cy="554.8" r="1.9"/><circle cx="212.4" cy="527.6" r="1.9"/><circle cx="231" cy="509" r="1.9"/><circle cx="249.7" cy="478.6" r="1.9"/><circle cx="268.4" cy="489.5" r="1.9"/></g>
<line x1="193.7" y1="397.9" x2="268.4" y2="397.9" stroke="#1a1a1a" stroke-width="1.2"/>
<text x="231" y="394.9" font-size="11.9" text-anchor="middle" class="t">*</text>
<text x="231" y="599.6" font-size="12.9" text-anchor="middle" class="t">WT</text>
<text x="231" y="613.4" font-size="12.9" text-anchor="middle" class="t">TAT-GluA2<tspan dy="3.2" font-size="9">3Y</tspan></text>
<rect x="289.1" y="575.5" width="12.3" height="5" fill="#fff"/>
<rect x="289.1" y="575.5" width="12.3" height="5" fill="none" stroke="#9e9ea2" stroke-width="2"/>
<path d="M295.2 574.5V569.4M290.4 569.4H299.9" fill="none" stroke="#9e9ea2" stroke-width="2"/>
<rect x="307.7" y="551.7" width="12.3" height="28.8" fill="#fff"/>
<rect x="307.7" y="551.7" width="12.3" height="28.8" fill="url(#p8)"/>
<rect x="307.7" y="551.7" width="12.3" height="28.8" fill="none" stroke="#9e9ea2" stroke-width="2"/>
<path d="M313.9 550.7V540.8M309.1 540.8H318.6" fill="none" stroke="#9e9ea2" stroke-width="2"/>
<rect x="326.4" y="558.6" width="12.3" height="21.9" fill="#fff"/>
<rect x="326.4" y="558.6" width="12.3" height="21.9" fill="url(#p9)"/>
<rect x="326.4" y="558.6" width="12.3" height="21.9" fill="none" stroke="#9e9ea2" stroke-width="2"/>
<path d="M332.5 557.6V545.5M327.8 545.5H337.3" fill="none" stroke="#9e9ea2" stroke-width="2"/>
<rect x="345.1" y="557.3" width="12.3" height="23.2" fill="#fff"/>
<rect x="345.1" y="557.3" width="12.3" height="23.2" fill="url(#p10)"/>
<rect x="345.1" y="557.3" width="12.3" height="23.2" fill="none" stroke="#9e9ea2" stroke-width="2"/>
<path d="M351.2 556.3V549.5M346.5 549.5H356" fill="none" stroke="#9e9ea2" stroke-width="2"/>
<rect x="363.7" y="563.4" width="12.3" height="17.1" fill="#fff"/>
<rect x="363.7" y="563.4" width="12.3" height="17.1" fill="url(#p11)"/>
<rect x="363.7" y="563.4" width="12.3" height="17.1" fill="none" stroke="#9e9ea2" stroke-width="2"/>
<path d="M369.9 562.4V555.5M365.1 555.5H374.6" fill="none" stroke="#9e9ea2" stroke-width="2"/>
<g fill="none" stroke="#7f7fd0" stroke-width="1.4" stroke-opacity="0.36" stroke-linejoin="round"><path d="M295.2 563.4L313.9 532.3L332.5 529.9L351.2 580.5L369.9 545.1"/><path d="M295.2 580.5L313.9 580.5L332.5 580.5L351.2 580.5L369.9 580.5"/><path d="M295.2 562.8L313.9 539.7L332.5 556.9L351.2 550.9L369.9 580.4"/><path d="M295.2 580.5L313.9 580.5L332.5 580.5L351.2 580.5L369.9 580.5"/><path d="M295.2 556.8L313.9 473.3L332.5 511.5L351.2 526.5L369.9 495"/><path d="M295.2 580.5L313.9 580.5L332.5 526.4L351.2 555.7L369.9 555.7"/><path d="M295.2 580.5L313.9 530.5L332.5 525.7L351.2 544.4L369.9 546.1"/></g>
<g fill="#55556a" fill-opacity="0.4" stroke="#55556a" stroke-opacity="0.45" stroke-width="0.7"><circle cx="295.2" cy="563.4" r="1.9"/><circle cx="313.9" cy="532.3" r="1.9"/><circle cx="332.5" cy="529.9" r="1.9"/><circle cx="351.2" cy="580.5" r="1.9"/><circle cx="369.9" cy="545.1" r="1.9"/><circle cx="295.2" cy="580.5" r="1.9"/><circle cx="313.9" cy="580.5" r="1.9"/><circle cx="332.5" cy="580.5" r="1.9"/><circle cx="351.2" cy="580.5" r="1.9"/><circle cx="369.9" cy="580.5" r="1.9"/><circle cx="295.2" cy="562.8" r="1.9"/><circle cx="313.9" cy="539.7" r="1.9"/><circle cx="332.5" cy="556.9" r="1.9"/><circle cx="351.2" cy="550.9" r="1.9"/><circle cx="369.9" cy="580.4" r="1.9"/><circle cx="295.2" cy="580.5" r="1.9"/><circle cx="313.9" cy="580.5" r="1.9"/><circle cx="332.5" cy="580.5" r="1.9"/><circle cx="351.2" cy="580.5" r="1.9"/><circle cx="369.9" cy="580.5" r="1.9"/><circle cx="295.2" cy="556.8" r="1.9"/><circle cx="313.9" cy="473.3" r="1.9"/><circle cx="332.5" cy="511.5" r="1.9"/><circle cx="351.2" cy="526.5" r="1.9"/><circle cx="369.9" cy="495" r="1.9"/><circle cx="295.2" cy="580.5" r="1.9"/><circle cx="313.9" cy="580.5" r="1.9"/><circle cx="332.5" cy="526.4" r="1.9"/><circle cx="351.2" cy="555.7" r="1.9"/><circle cx="369.9" cy="555.7" r="1.9"/><circle cx="295.2" cy="580.5" r="1.9"/><circle cx="313.9" cy="530.5" r="1.9"/><circle cx="332.5" cy="525.7" r="1.9"/><circle cx="351.2" cy="544.4" r="1.9"/><circle cx="369.9" cy="546.1" r="1.9"/></g>
<line x1="295.2" y1="397.9" x2="369.9" y2="397.9" stroke="#1a1a1a" stroke-width="1.2"/>
<text x="332.5" y="392.4" font-size="11.9" text-anchor="middle" class="t">n.s.</text>
<text x="332.5" y="599.6" font-size="12.9" text-anchor="middle" class="t">Tg</text>
<text x="332.5" y="613.4" font-size="12.9" text-anchor="middle" class="t">TAT-Cntrl</text>
<rect x="390.6" y="564.2" width="12.3" height="16.3" fill="#fff"/>
<rect x="390.6" y="564.2" width="12.3" height="16.3" fill="none" stroke="#f8a042" stroke-width="2"/>
<path d="M396.7 563.2V552.7M391.9 552.7H401.4" fill="none" stroke="#f8a042" stroke-width="2"/>
<rect x="409.2" y="521.5" width="12.3" height="59" fill="#fff"/>
<rect x="409.2" y="521.5" width="12.3" height="59" fill="url(#p12)"/>
<rect x="409.2" y="521.5" width="12.3" height="59" fill="none" stroke="#f8a042" stroke-width="2"/>
<path d="M415.4 520.5V512.1M410.6 512.1H420.1" fill="none" stroke="#f8a042" stroke-width="2"/>
<rect x="427.9" y="516.7" width="12.3" height="63.8" fill="#fff"/>
<rect x="427.9" y="516.7" width="12.3" height="63.8" fill="url(#p13)"/>
<rect x="427.9" y="516.7" width="12.3" height="63.8" fill="none" stroke="#f8a042" stroke-width="2"/>
<path d="M434 515.7V507.2M429.3 507.2H438.8" fill="none" stroke="#f8a042" stroke-width="2"/>
<rect x="446.6" y="488.9" width="12.3" height="91.6" fill="#fff"/>
<rect x="446.6" y="488.9" width="12.3" height="91.6" fill="url(#p14)"/>
<rect x="446.6" y="488.9" width="12.3" height="91.6" fill="none" stroke="#f8a042" stroke-width="2"/>
<path d="M452.7 487.9V478.2M448 478.2H457.5" fill="none" stroke="#f8a042" stroke-width="2"/>
<rect x="465.2" y="501" width="12.3" height="79.5" fill="#fff"/>
<rect x="465.2" y="501" width="12.3" height="79.5" fill="url(#p15)"/>
<rect x="465.2" y="501" width="12.3" height="79.5" fill="none" stroke="#f8a042" stroke-width="2"/>
<path d="M471.4 500V487.1M466.6 487.1H476.1" fill="none" stroke="#f8a042" stroke-width="2"/>
<g fill="none" stroke="#7f7fd0" stroke-width="1.4" stroke-opacity="0.36" stroke-linejoin="round"><path d="M396.7 521.6L415.4 505.1L434 497.5L452.7 474.9L471.4 475.1"/><path d="M396.7 539.2L415.4 494.7L434 488.1L452.7 453.4L471.4 465.5"/><path d="M396.7 580.5L415.4 535L434 542.8L452.7 513.3L471.4 504.1"/><path d="M396.7 534.7L415.4 499.7L434 490L452.7 486.9L471.4 472.4"/><path d="M396.7 507.3L415.4 505.2L434 476.9L452.7 433.2L471.4 440"/><path d="M396.7 564.4L415.4 524.4L434 512.1L452.7 487.9L471.4 542.8"/><path d="M396.7 532.9L415.4 538.5L434 515L452.7 453.6L471.4 505.5"/></g>
<g fill="#55556a" fill-opacity="0.4" stroke="#55556a" stroke-opacity="0.45" stroke-width="0.7"><circle cx="396.7" cy="521.6" r="1.9"/><circle cx="415.4" cy="505.1" r="1.9"/><circle cx="434" cy="497.5" r="1.9"/><circle cx="452.7" cy="474.9" r="1.9"/><circle cx="471.4" cy="475.1" r="1.9"/><circle cx="396.7" cy="539.2" r="1.9"/><circle cx="415.4" cy="494.7" r="1.9"/><circle cx="434" cy="488.1" r="1.9"/><circle cx="452.7" cy="453.4" r="1.9"/><circle cx="471.4" cy="465.5" r="1.9"/><circle cx="396.7" cy="580.5" r="1.9"/><circle cx="415.4" cy="535" r="1.9"/><circle cx="434" cy="542.8" r="1.9"/><circle cx="452.7" cy="513.3" r="1.9"/><circle cx="471.4" cy="504.1" r="1.9"/><circle cx="396.7" cy="534.7" r="1.9"/><circle cx="415.4" cy="499.7" r="1.9"/><circle cx="434" cy="490" r="1.9"/><circle cx="452.7" cy="486.9" r="1.9"/><circle cx="471.4" cy="472.4" r="1.9"/><circle cx="396.7" cy="507.3" r="1.9"/><circle cx="415.4" cy="505.2" r="1.9"/><circle cx="434" cy="476.9" r="1.9"/><circle cx="452.7" cy="433.2" r="1.9"/><circle cx="471.4" cy="440" r="1.9"/><circle cx="396.7" cy="564.4" r="1.9"/><circle cx="415.4" cy="524.4" r="1.9"/><circle cx="434" cy="512.1" r="1.9"/><circle cx="452.7" cy="487.9" r="1.9"/><circle cx="471.4" cy="542.8" r="1.9"/><circle cx="396.7" cy="532.9" r="1.9"/><circle cx="415.4" cy="538.5" r="1.9"/><circle cx="434" cy="515" r="1.9"/><circle cx="452.7" cy="453.6" r="1.9"/><circle cx="471.4" cy="505.5" r="1.9"/></g>
<line x1="396.7" y1="397.9" x2="471.4" y2="397.9" stroke="#1a1a1a" stroke-width="1.2"/>
<text x="434" y="394.9" font-size="11.9" text-anchor="middle" class="t">**</text>
<text x="434" y="599.6" font-size="12.9" text-anchor="middle" class="t">Tg</text>
<text x="434" y="613.4" font-size="12.9" text-anchor="middle" class="t">TAT-GluA2<tspan dy="3.2" font-size="9">3Y</tspan></text>
<line x1="77.3" y1="357.9" x2="77.3" y2="591" stroke="#333333" stroke-width="1.4"/>
<line x1="76.6" y1="580.5" x2="484.2" y2="580.5" stroke="#333333" stroke-width="1.4"/>
<text x="768.5" y="352.7" font-size="12.4" text-anchor="middle" class="t">25 cells</text>
<text x="559.6" y="584.9" font-size="12.4" text-anchor="end" class="t">0.5</text>
<text x="559.6" y="544.7" font-size="12.4" text-anchor="end" class="t">0.6</text>
<text x="559.6" y="504.4" font-size="12.4" text-anchor="end" class="t">0.7</text>
<text x="559.6" y="464.2" font-size="12.4" text-anchor="end" class="t">0.8</text>
<text x="559.6" y="423.9" font-size="12.4" text-anchor="end" class="t">0.9</text>
<text x="559.6" y="383.6" font-size="12.4" text-anchor="end" class="t">1.0</text>
<text x="535.2" y="474.9" font-size="12.4" text-anchor="middle" transform="rotate(-90 535.2 474.9)" class="t">Balanced accuracy</text>
<rect x="573.9" y="535.3" width="13.2" height="45.2" fill="#9e9ea2"/>
<rect x="573.9" y="535.3" width="13.2" height="45.2" fill="none" stroke="#9e9ea2" stroke-width="1.4"/>
<path d="M580.5 534.6V527.8M575.8 527.8H585.2" fill="none" stroke="#9e9ea2" stroke-width="2"/>
<rect x="592.6" y="502.3" width="13.2" height="78.2" fill="#9e9ea2"/>
<rect x="592.6" y="502.3" width="13.2" height="78.2" fill="url(#p0)"/>
<rect x="592.6" y="502.3" width="13.2" height="78.2" fill="none" stroke="#9e9ea2" stroke-width="1.4"/>
<path d="M599.2 501.6V496M594.4 496H603.9" fill="none" stroke="#9e9ea2" stroke-width="2"/>
<rect x="611.2" y="489.8" width="13.2" height="90.7" fill="#9e9ea2"/>
<rect x="611.2" y="489.8" width="13.2" height="90.7" fill="url(#p1)"/>
<rect x="611.2" y="489.8" width="13.2" height="90.7" fill="none" stroke="#9e9ea2" stroke-width="1.4"/>
<path d="M617.8 489.1V481.9M613.1 481.9H622.6" fill="none" stroke="#9e9ea2" stroke-width="2"/>
<rect x="629.9" y="435.9" width="13.2" height="144.6" fill="#9e9ea2"/>
<rect x="629.9" y="435.9" width="13.2" height="144.6" fill="url(#p2)"/>
<rect x="629.9" y="435.9" width="13.2" height="144.6" fill="none" stroke="#9e9ea2" stroke-width="1.4"/>
<path d="M636.5 435.2V423.5M631.8 423.5H641.3" fill="none" stroke="#9e9ea2" stroke-width="2"/>
<rect x="648.6" y="434.7" width="13.2" height="145.8" fill="#9e9ea2"/>
<rect x="648.6" y="434.7" width="13.2" height="145.8" fill="url(#p3)"/>
<rect x="648.6" y="434.7" width="13.2" height="145.8" fill="none" stroke="#9e9ea2" stroke-width="1.4"/>
<path d="M655.2 434V422.7M650.4 422.7H659.9" fill="none" stroke="#9e9ea2" stroke-width="2"/>
<g fill="none" stroke="#7f7fd0" stroke-width="1.4" stroke-opacity="0.36" stroke-linejoin="round"><path d="M580.5 527.9L599.2 489.1L617.8 480.4L636.5 442.7L655.2 397.4"/><path d="M580.5 530.4L599.2 516.9L617.8 522.2L636.5 432.5L655.2 464.6"/><path d="M580.5 534L599.2 488.3L617.8 504.9L636.5 425.3L655.2 422.9"/><path d="M580.5 553.2L599.2 485.1L617.8 464.6L636.5 400.9L655.2 415"/><path d="M580.5 553.9L599.2 527.5L617.8 530.4L636.5 480.6L655.2 472.3"/><path d="M580.5 549.4L599.2 493.9L617.8 491.6L636.5 506L655.2 445.7"/><path d="M580.5 537.5L599.2 501L617.8 482.6L636.5 452.3L655.2 434.4"/><path d="M580.5 543L599.2 497.3L617.8 485.8L636.5 406.4L655.2 432.8"/><path d="M580.5 557.2L599.2 518.8L617.8 523.6L636.5 489.4L655.2 443"/><path d="M580.5 532.5L599.2 504.6L617.8 493.9L636.5 443.7L655.2 423.8"/></g>
<g fill="#55556a" fill-opacity="0.4" stroke="#55556a" stroke-opacity="0.45" stroke-width="0.7"><circle cx="580.5" cy="527.9" r="1.9"/><circle cx="599.2" cy="489.1" r="1.9"/><circle cx="617.8" cy="480.4" r="1.9"/><circle cx="636.5" cy="442.7" r="1.9"/><circle cx="655.2" cy="397.4" r="1.9"/><circle cx="580.5" cy="530.4" r="1.9"/><circle cx="599.2" cy="516.9" r="1.9"/><circle cx="617.8" cy="522.2" r="1.9"/><circle cx="636.5" cy="432.5" r="1.9"/><circle cx="655.2" cy="464.6" r="1.9"/><circle cx="580.5" cy="534" r="1.9"/><circle cx="599.2" cy="488.3" r="1.9"/><circle cx="617.8" cy="504.9" r="1.9"/><circle cx="636.5" cy="425.3" r="1.9"/><circle cx="655.2" cy="422.9" r="1.9"/><circle cx="580.5" cy="553.2" r="1.9"/><circle cx="599.2" cy="485.1" r="1.9"/><circle cx="617.8" cy="464.6" r="1.9"/><circle cx="636.5" cy="400.9" r="1.9"/><circle cx="655.2" cy="415" r="1.9"/><circle cx="580.5" cy="553.9" r="1.9"/><circle cx="599.2" cy="527.5" r="1.9"/><circle cx="617.8" cy="530.4" r="1.9"/><circle cx="636.5" cy="480.6" r="1.9"/><circle cx="655.2" cy="472.3" r="1.9"/><circle cx="580.5" cy="549.4" r="1.9"/><circle cx="599.2" cy="493.9" r="1.9"/><circle cx="617.8" cy="491.6" r="1.9"/><circle cx="636.5" cy="506" r="1.9"/><circle cx="655.2" cy="445.7" r="1.9"/><circle cx="580.5" cy="537.5" r="1.9"/><circle cx="599.2" cy="501" r="1.9"/><circle cx="617.8" cy="482.6" r="1.9"/><circle cx="636.5" cy="452.3" r="1.9"/><circle cx="655.2" cy="434.4" r="1.9"/><circle cx="580.5" cy="543" r="1.9"/><circle cx="599.2" cy="497.3" r="1.9"/><circle cx="617.8" cy="485.8" r="1.9"/><circle cx="636.5" cy="406.4" r="1.9"/><circle cx="655.2" cy="432.8" r="1.9"/><circle cx="580.5" cy="557.2" r="1.9"/><circle cx="599.2" cy="518.8" r="1.9"/><circle cx="617.8" cy="523.6" r="1.9"/><circle cx="636.5" cy="489.4" r="1.9"/><circle cx="655.2" cy="443" r="1.9"/><circle cx="580.5" cy="532.5" r="1.9"/><circle cx="599.2" cy="504.6" r="1.9"/><circle cx="617.8" cy="493.9" r="1.9"/><circle cx="636.5" cy="443.7" r="1.9"/><circle cx="655.2" cy="423.8" r="1.9"/></g>
<line x1="580.5" y1="384.8" x2="655.2" y2="384.8" stroke="#1a1a1a" stroke-width="1.2"/>
<text x="617.8" y="381.8" font-size="11.9" text-anchor="middle" class="t">***</text>
<text x="617.8" y="599.6" font-size="12.9" text-anchor="middle" class="t">WT</text>
<text x="617.8" y="613.4" font-size="12.9" text-anchor="middle" class="t">TAT-Cntrl</text>
<rect x="675.4" y="537.3" width="13.2" height="43.2" fill="#f8a042"/>
<rect x="675.4" y="537.3" width="13.2" height="43.2" fill="none" stroke="#f8a042" stroke-width="1.4"/>
<path d="M682 536.6V524.9M677.2 524.9H686.8" fill="none" stroke="#f8a042" stroke-width="2"/>
<rect x="694.1" y="504.7" width="13.2" height="75.8" fill="#f8a042"/>
<rect x="694.1" y="504.7" width="13.2" height="75.8" fill="url(#p4)"/>
<rect x="694.1" y="504.7" width="13.2" height="75.8" fill="none" stroke="#f8a042" stroke-width="1.4"/>
<path d="M700.7 504V498.4M695.9 498.4H705.4" fill="none" stroke="#f8a042" stroke-width="2"/>
<rect x="712.7" y="491.4" width="13.2" height="89.1" fill="#f8a042"/>
<rect x="712.7" y="491.4" width="13.2" height="89.1" fill="url(#p5)"/>
<rect x="712.7" y="491.4" width="13.2" height="89.1" fill="none" stroke="#f8a042" stroke-width="1.4"/>
<path d="M719.3 490.7V484.7M714.6 484.7H724.1" fill="none" stroke="#f8a042" stroke-width="2"/>
<rect x="731.4" y="462" width="13.2" height="118.5" fill="#f8a042"/>
<rect x="731.4" y="462" width="13.2" height="118.5" fill="url(#p6)"/>
<rect x="731.4" y="462" width="13.2" height="118.5" fill="none" stroke="#f8a042" stroke-width="1.4"/>
<path d="M738 461.3V440M733.3 440H742.8" fill="none" stroke="#f8a042" stroke-width="2"/>
<rect x="750.1" y="462" width="13.2" height="118.5" fill="#f8a042"/>
<rect x="750.1" y="462" width="13.2" height="118.5" fill="url(#p7)"/>
<rect x="750.1" y="462" width="13.2" height="118.5" fill="none" stroke="#f8a042" stroke-width="1.4"/>
<path d="M756.7 461.3V440.8M751.9 440.8H761.4" fill="none" stroke="#f8a042" stroke-width="2"/>
<g fill="none" stroke="#7f7fd0" stroke-width="1.4" stroke-opacity="0.36" stroke-linejoin="round"><path d="M682 537.2L700.7 507.7L719.3 478.3L738 447.8L756.7 455.7"/><path d="M682 576.1L700.7 499.3L719.3 491.4L738 460.7L756.7 439.9"/><path d="M682 558.3L700.7 505.7L719.3 487.1L738 438.3L756.7 422.8"/><path d="M682 566.7L700.7 520.4L719.3 506.2L738 571.6L756.7 572.3"/><path d="M682 550.3L700.7 500.8L719.3 507.9L738 494.2L756.7 495.2"/><path d="M682 561.2L700.7 518.4L719.3 501.5L738 480.2L756.7 523.8"/><path d="M682 524L700.7 488.3L719.3 492.9L738 429.6L756.7 421.2"/></g>
<g fill="#55556a" fill-opacity="0.4" stroke="#55556a" stroke-opacity="0.45" stroke-width="0.7"><circle cx="682" cy="537.2" r="1.9"/><circle cx="700.7" cy="507.7" r="1.9"/><circle cx="719.3" cy="478.3" r="1.9"/><circle cx="738" cy="447.8" r="1.9"/><circle cx="756.7" cy="455.7" r="1.9"/><circle cx="682" cy="576.1" r="1.9"/><circle cx="700.7" cy="499.3" r="1.9"/><circle cx="719.3" cy="491.4" r="1.9"/><circle cx="738" cy="460.7" r="1.9"/><circle cx="756.7" cy="439.9" r="1.9"/><circle cx="682" cy="558.3" r="1.9"/><circle cx="700.7" cy="505.7" r="1.9"/><circle cx="719.3" cy="487.1" r="1.9"/><circle cx="738" cy="438.3" r="1.9"/><circle cx="756.7" cy="422.8" r="1.9"/><circle cx="682" cy="566.7" r="1.9"/><circle cx="700.7" cy="520.4" r="1.9"/><circle cx="719.3" cy="506.2" r="1.9"/><circle cx="738" cy="571.6" r="1.9"/><circle cx="756.7" cy="572.3" r="1.9"/><circle cx="682" cy="550.3" r="1.9"/><circle cx="700.7" cy="500.8" r="1.9"/><circle cx="719.3" cy="507.9" r="1.9"/><circle cx="738" cy="494.2" r="1.9"/><circle cx="756.7" cy="495.2" r="1.9"/><circle cx="682" cy="561.2" r="1.9"/><circle cx="700.7" cy="518.4" r="1.9"/><circle cx="719.3" cy="501.5" r="1.9"/><circle cx="738" cy="480.2" r="1.9"/><circle cx="756.7" cy="523.8" r="1.9"/><circle cx="682" cy="524" r="1.9"/><circle cx="700.7" cy="488.3" r="1.9"/><circle cx="719.3" cy="492.9" r="1.9"/><circle cx="738" cy="429.6" r="1.9"/><circle cx="756.7" cy="421.2" r="1.9"/></g>
<line x1="682" y1="384.8" x2="756.7" y2="384.8" stroke="#1a1a1a" stroke-width="1.2"/>
<text x="719.3" y="381.8" font-size="11.9" text-anchor="middle" class="t">*</text>
<text x="719.3" y="599.6" font-size="12.9" text-anchor="middle" class="t">WT</text>
<text x="719.3" y="613.4" font-size="12.9" text-anchor="middle" class="t">TAT-GluA2<tspan dy="3.2" font-size="9">3Y</tspan></text>
<rect x="777.4" y="572.2" width="12.3" height="8.3" fill="#fff"/>
<rect x="777.4" y="572.2" width="12.3" height="8.3" fill="none" stroke="#9e9ea2" stroke-width="2"/>
<path d="M783.5 571.2V564M778.8 564H788.2" fill="none" stroke="#9e9ea2" stroke-width="2"/>
<rect x="796" y="528.4" width="12.3" height="52.1" fill="#fff"/>
<rect x="796" y="528.4" width="12.3" height="52.1" fill="url(#p8)"/>
<rect x="796" y="528.4" width="12.3" height="52.1" fill="none" stroke="#9e9ea2" stroke-width="2"/>
<path d="M802.2 527.4V516.5M797.4 516.5H806.9" fill="none" stroke="#9e9ea2" stroke-width="2"/>
<rect x="814.7" y="519.5" width="12.3" height="61" fill="#fff"/>
<rect x="814.7" y="519.5" width="12.3" height="61" fill="url(#p9)"/>
<rect x="814.7" y="519.5" width="12.3" height="61" fill="none" stroke="#9e9ea2" stroke-width="2"/>
<path d="M820.8 518.5V500.4M816.1 500.4H825.6" fill="none" stroke="#9e9ea2" stroke-width="2"/>
<rect x="833.4" y="515.5" width="12.3" height="65" fill="#fff"/>
<rect x="833.4" y="515.5" width="12.3" height="65" fill="url(#p10)"/>
<rect x="833.4" y="515.5" width="12.3" height="65" fill="none" stroke="#9e9ea2" stroke-width="2"/>
<path d="M839.5 514.5V493.5M834.8 493.5H844.3" fill="none" stroke="#9e9ea2" stroke-width="2"/>
<rect x="852" y="518.7" width="12.3" height="61.8" fill="#fff"/>
<rect x="852" y="518.7" width="12.3" height="61.8" fill="url(#p11)"/>
<rect x="852" y="518.7" width="12.3" height="61.8" fill="none" stroke="#9e9ea2" stroke-width="2"/>
<path d="M858.2 517.7V495.6M853.4 495.6H862.9" fill="none" stroke="#9e9ea2" stroke-width="2"/>
<g fill="none" stroke="#7f7fd0" stroke-width="1.4" stroke-opacity="0.36" stroke-linejoin="round"><path d="M783.5 550.6L802.2 566.4L820.8 539.5L839.5 444.3L858.2 580.5"/><path d="M783.5 543.6L802.2 537.3L820.8 462.2L839.5 495.2L858.2 580.5"/><path d="M783.5 565.5L802.2 580.5L820.8 512.2L839.5 557.8L858.2 509"/><path d="M783.5 557.7L802.2 441L820.8 431.9L839.5 396.2L858.2 580.5"/><path d="M783.5 580.5L802.2 551.9L820.8 440.4L839.5 521.6L858.2 569.9"/><path d="M783.5 555.8L802.2 505.4L820.8 580.5L839.5 514.4L858.2 503.8"/><path d="M783.5 580.5L802.2 536L820.8 580.5L839.5 571.5L858.2 530.4"/></g>
<g fill="#55556a" fill-opacity="0.4" stroke="#55556a" stroke-opacity="0.45" stroke-width="0.7"><circle cx="783.5" cy="550.6" r="1.9"/><circle cx="802.2" cy="566.4" r="1.9"/><circle cx="820.8" cy="539.5" r="1.9"/><circle cx="839.5" cy="444.3" r="1.9"/><circle cx="858.2" cy="580.5" r="1.9"/><circle cx="783.5" cy="543.6" r="1.9"/><circle cx="802.2" cy="537.3" r="1.9"/><circle cx="820.8" cy="462.2" r="1.9"/><circle cx="839.5" cy="495.2" r="1.9"/><circle cx="858.2" cy="580.5" r="1.9"/><circle cx="783.5" cy="565.5" r="1.9"/><circle cx="802.2" cy="580.5" r="1.9"/><circle cx="820.8" cy="512.2" r="1.9"/><circle cx="839.5" cy="557.8" r="1.9"/><circle cx="858.2" cy="509" r="1.9"/><circle cx="783.5" cy="557.7" r="1.9"/><circle cx="802.2" cy="441" r="1.9"/><circle cx="820.8" cy="431.9" r="1.9"/><circle cx="839.5" cy="396.2" r="1.9"/><circle cx="858.2" cy="580.5" r="1.9"/><circle cx="783.5" cy="580.5" r="1.9"/><circle cx="802.2" cy="551.9" r="1.9"/><circle cx="820.8" cy="440.4" r="1.9"/><circle cx="839.5" cy="521.6" r="1.9"/><circle cx="858.2" cy="569.9" r="1.9"/><circle cx="783.5" cy="555.8" r="1.9"/><circle cx="802.2" cy="505.4" r="1.9"/><circle cx="820.8" cy="580.5" r="1.9"/><circle cx="839.5" cy="514.4" r="1.9"/><circle cx="858.2" cy="503.8" r="1.9"/><circle cx="783.5" cy="580.5" r="1.9"/><circle cx="802.2" cy="536" r="1.9"/><circle cx="820.8" cy="580.5" r="1.9"/><circle cx="839.5" cy="571.5" r="1.9"/><circle cx="858.2" cy="530.4" r="1.9"/></g>
<line x1="783.5" y1="384.8" x2="858.2" y2="384.8" stroke="#1a1a1a" stroke-width="1.2"/>
<text x="820.8" y="379.3" font-size="11.9" text-anchor="middle" class="t">n.s.</text>
<text x="820.8" y="599.6" font-size="12.9" text-anchor="middle" class="t">Tg</text>
<text x="820.8" y="613.4" font-size="12.9" text-anchor="middle" class="t">TAT-Cntrl</text>
<rect x="878.9" y="555.7" width="12.3" height="24.8" fill="#fff"/>
<rect x="878.9" y="555.7" width="12.3" height="24.8" fill="none" stroke="#f8a042" stroke-width="2"/>
<path d="M885 554.7V544.7M880.2 544.7H889.8" fill="none" stroke="#f8a042" stroke-width="2"/>
<rect x="897.5" y="505.8" width="12.3" height="74.7" fill="#fff"/>
<rect x="897.5" y="505.8" width="12.3" height="74.7" fill="url(#p12)"/>
<rect x="897.5" y="505.8" width="12.3" height="74.7" fill="none" stroke="#f8a042" stroke-width="2"/>
<path d="M903.7 504.8V500M898.9 500H908.4" fill="none" stroke="#f8a042" stroke-width="2"/>
<rect x="916.2" y="502.2" width="12.3" height="78.3" fill="#fff"/>
<rect x="916.2" y="502.2" width="12.3" height="78.3" fill="url(#p13)"/>
<rect x="916.2" y="502.2" width="12.3" height="78.3" fill="none" stroke="#f8a042" stroke-width="2"/>
<path d="M922.3 501.2V492.7M917.6 492.7H927.1" fill="none" stroke="#f8a042" stroke-width="2"/>
<rect x="934.9" y="462.7" width="12.3" height="117.8" fill="#fff"/>
<rect x="934.9" y="462.7" width="12.3" height="117.8" fill="url(#p14)"/>
<rect x="934.9" y="462.7" width="12.3" height="117.8" fill="none" stroke="#f8a042" stroke-width="2"/>
<path d="M941 461.7V448.4M936.3 448.4H945.8" fill="none" stroke="#f8a042" stroke-width="2"/>
<rect x="953.5" y="468" width="12.3" height="112.5" fill="#fff"/>
<rect x="953.5" y="468" width="12.3" height="112.5" fill="url(#p15)"/>
<rect x="953.5" y="468" width="12.3" height="112.5" fill="none" stroke="#f8a042" stroke-width="2"/>
<path d="M959.7 467V450.5M954.9 450.5H964.4" fill="none" stroke="#f8a042" stroke-width="2"/>
<g fill="none" stroke="#7f7fd0" stroke-width="1.4" stroke-opacity="0.36" stroke-linejoin="round"><path d="M885 575.8L903.7 525.2L922.3 493.3L941 491.9L959.7 489"/><path d="M885 574.7L903.7 504.4L922.3 500.2L941 467.4L959.7 473.1"/><path d="M885 533.3L903.7 486.7L922.3 461.8L941 420.9L959.7 420.8"/><path d="M885 527.4L903.7 501.9L922.3 480.6L941 434.5L959.7 421.5"/><path d="M885 546L903.7 516.2L922.3 503.2L941 480.4L959.7 443.6"/><path d="M885 557.3L903.7 510.4L922.3 507.4L941 505.6L959.7 478"/><path d="M885 501.6L903.7 498.4L922.3 476.2L941 417L959.7 441.5"/></g>
<g fill="#55556a" fill-opacity="0.4" stroke="#55556a" stroke-opacity="0.45" stroke-width="0.7"><circle cx="885" cy="575.8" r="1.9"/><circle cx="903.7" cy="525.2" r="1.9"/><circle cx="922.3" cy="493.3" r="1.9"/><circle cx="941" cy="491.9" r="1.9"/><circle cx="959.7" cy="489" r="1.9"/><circle cx="885" cy="574.7" r="1.9"/><circle cx="903.7" cy="504.4" r="1.9"/><circle cx="922.3" cy="500.2" r="1.9"/><circle cx="941" cy="467.4" r="1.9"/><circle cx="959.7" cy="473.1" r="1.9"/><circle cx="885" cy="533.3" r="1.9"/><circle cx="903.7" cy="486.7" r="1.9"/><circle cx="922.3" cy="461.8" r="1.9"/><circle cx="941" cy="420.9" r="1.9"/><circle cx="959.7" cy="420.8" r="1.9"/><circle cx="885" cy="527.4" r="1.9"/><circle cx="903.7" cy="501.9" r="1.9"/><circle cx="922.3" cy="480.6" r="1.9"/><circle cx="941" cy="434.5" r="1.9"/><circle cx="959.7" cy="421.5" r="1.9"/><circle cx="885" cy="546" r="1.9"/><circle cx="903.7" cy="516.2" r="1.9"/><circle cx="922.3" cy="503.2" r="1.9"/><circle cx="941" cy="480.4" r="1.9"/><circle cx="959.7" cy="443.6" r="1.9"/><circle cx="885" cy="557.3" r="1.9"/><circle cx="903.7" cy="510.4" r="1.9"/><circle cx="922.3" cy="507.4" r="1.9"/><circle cx="941" cy="505.6" r="1.9"/><circle cx="959.7" cy="478" r="1.9"/><circle cx="885" cy="501.6" r="1.9"/><circle cx="903.7" cy="498.4" r="1.9"/><circle cx="922.3" cy="476.2" r="1.9"/><circle cx="941" cy="417" r="1.9"/><circle cx="959.7" cy="441.5" r="1.9"/></g>
<line x1="885" y1="384.8" x2="959.7" y2="384.8" stroke="#1a1a1a" stroke-width="1.2"/>
<text x="922.3" y="381.8" font-size="11.9" text-anchor="middle" class="t">**</text>
<text x="922.3" y="599.6" font-size="12.9" text-anchor="middle" class="t">Tg</text>
<text x="922.3" y="613.4" font-size="12.9" text-anchor="middle" class="t">TAT-GluA2<tspan dy="3.2" font-size="9">3Y</tspan></text>
<line x1="564.8" y1="357.9" x2="564.8" y2="591" stroke="#333333" stroke-width="1.4"/>
<line x1="564.1" y1="580.5" x2="972" y2="580.5" stroke="#333333" stroke-width="1.4"/>
<text x="1256.5" y="352.7" font-size="12.4" text-anchor="middle" class="t">100 cells</text>
<text x="1047.9" y="584.9" font-size="12.4" text-anchor="end" class="t">0.5</text>
<text x="1047.9" y="544.7" font-size="12.4" text-anchor="end" class="t">0.6</text>
<text x="1047.9" y="504.4" font-size="12.4" text-anchor="end" class="t">0.7</text>
<text x="1047.9" y="464.2" font-size="12.4" text-anchor="end" class="t">0.8</text>
<text x="1047.9" y="423.9" font-size="12.4" text-anchor="end" class="t">0.9</text>
<text x="1047.9" y="383.6" font-size="12.4" text-anchor="end" class="t">1.0</text>
<text x="1023.5" y="474.9" font-size="12.4" text-anchor="middle" transform="rotate(-90 1023.5 474.9)" class="t">Balanced accuracy</text>
<rect x="1062.2" y="510.7" width="13.2" height="69.8" fill="#9e9ea2"/>
<rect x="1062.2" y="510.7" width="13.2" height="69.8" fill="none" stroke="#9e9ea2" stroke-width="1.4"/>
<path d="M1068.8 510V502.8M1064 502.8H1073.5" fill="none" stroke="#9e9ea2" stroke-width="2"/>
<rect x="1080.9" y="478.5" width="13.2" height="102" fill="#9e9ea2"/>
<rect x="1080.9" y="478.5" width="13.2" height="102" fill="url(#p0)"/>
<rect x="1080.9" y="478.5" width="13.2" height="102" fill="none" stroke="#9e9ea2" stroke-width="1.4"/>
<path d="M1087.5 477.8V471M1082.7 471H1092.2" fill="none" stroke="#9e9ea2" stroke-width="2"/>
<rect x="1099.5" y="457.2" width="13.2" height="123.3" fill="#9e9ea2"/>
<rect x="1099.5" y="457.2" width="13.2" height="123.3" fill="url(#p1)"/>
<rect x="1099.5" y="457.2" width="13.2" height="123.3" fill="none" stroke="#9e9ea2" stroke-width="1.4"/>
<path d="M1106.1 456.5V446.8M1101.4 446.8H1110.9" fill="none" stroke="#9e9ea2" stroke-width="2"/>
<rect x="1118.2" y="414.1" width="13.2" height="166.4" fill="#9e9ea2"/>
<rect x="1118.2" y="414.1" width="13.2" height="166.4" fill="url(#p2)"/>
<rect x="1118.2" y="414.1" width="13.2" height="166.4" fill="none" stroke="#9e9ea2" stroke-width="1.4"/>
<path d="M1124.8 413.4V405.4M1120.1 405.4H1129.6" fill="none" stroke="#9e9ea2" stroke-width="2"/>
<rect x="1136.9" y="405.7" width="13.2" height="174.8" fill="#9e9ea2"/>
<rect x="1136.9" y="405.7" width="13.2" height="174.8" fill="url(#p3)"/>
<rect x="1136.9" y="405.7" width="13.2" height="174.8" fill="none" stroke="#9e9ea2" stroke-width="1.4"/>
<path d="M1143.5 405V398.9M1138.7 398.9H1148.2" fill="none" stroke="#9e9ea2" stroke-width="2"/>
<g fill="none" stroke="#7f7fd0" stroke-width="1.4" stroke-opacity="0.36" stroke-linejoin="round"><path d="M1068.8 486.8L1087.5 431.6L1106.1 398.6L1124.8 388.8L1143.5 387"/><path d="M1068.8 512.9L1087.5 484L1106.1 476.6L1124.8 420.1L1143.5 405.4"/><path d="M1068.8 535.8L1087.5 501.5L1106.1 453.9L1124.8 433.2L1143.5 422.4"/><path d="M1068.8 529.3L1087.5 486.3L1106.1 469.9L1124.8 415L1143.5 414.4"/><path d="M1068.8 495L1087.5 461.6L1106.1 451.6L1124.8 406.5L1143.5 387.3"/><path d="M1068.8 475.1L1087.5 452.8L1106.1 436.2L1124.8 413.7L1143.5 398.7"/><path d="M1068.8 489.9L1087.5 456.7L1106.1 456.5L1124.8 393.2L1143.5 395.3"/><path d="M1068.8 510.1L1087.5 500.3L1106.1 484.7L1124.8 413.4L1143.5 435.5"/><path d="M1068.8 521.2L1087.5 484L1106.1 480.4L1124.8 435.3L1143.5 410.3"/><path d="M1068.8 500.7L1087.5 466.1L1106.1 456.6L1124.8 394.9L1143.5 389.7"/></g>
<g fill="#55556a" fill-opacity="0.4" stroke="#55556a" stroke-opacity="0.45" stroke-width="0.7"><circle cx="1068.8" cy="486.8" r="1.9"/><circle cx="1087.5" cy="431.6" r="1.9"/><circle cx="1106.1" cy="398.6" r="1.9"/><circle cx="1124.8" cy="388.8" r="1.9"/><circle cx="1143.5" cy="387" r="1.9"/><circle cx="1068.8" cy="512.9" r="1.9"/><circle cx="1087.5" cy="484" r="1.9"/><circle cx="1106.1" cy="476.6" r="1.9"/><circle cx="1124.8" cy="420.1" r="1.9"/><circle cx="1143.5" cy="405.4" r="1.9"/><circle cx="1068.8" cy="535.8" r="1.9"/><circle cx="1087.5" cy="501.5" r="1.9"/><circle cx="1106.1" cy="453.9" r="1.9"/><circle cx="1124.8" cy="433.2" r="1.9"/><circle cx="1143.5" cy="422.4" r="1.9"/><circle cx="1068.8" cy="529.3" r="1.9"/><circle cx="1087.5" cy="486.3" r="1.9"/><circle cx="1106.1" cy="469.9" r="1.9"/><circle cx="1124.8" cy="415" r="1.9"/><circle cx="1143.5" cy="414.4" r="1.9"/><circle cx="1068.8" cy="495" r="1.9"/><circle cx="1087.5" cy="461.6" r="1.9"/><circle cx="1106.1" cy="451.6" r="1.9"/><circle cx="1124.8" cy="406.5" r="1.9"/><circle cx="1143.5" cy="387.3" r="1.9"/><circle cx="1068.8" cy="475.1" r="1.9"/><circle cx="1087.5" cy="452.8" r="1.9"/><circle cx="1106.1" cy="436.2" r="1.9"/><circle cx="1124.8" cy="413.7" r="1.9"/><circle cx="1143.5" cy="398.7" r="1.9"/><circle cx="1068.8" cy="489.9" r="1.9"/><circle cx="1087.5" cy="456.7" r="1.9"/><circle cx="1106.1" cy="456.5" r="1.9"/><circle cx="1124.8" cy="393.2" r="1.9"/><circle cx="1143.5" cy="395.3" r="1.9"/><circle cx="1068.8" cy="510.1" r="1.9"/><circle cx="1087.5" cy="500.3" r="1.9"/><circle cx="1106.1" cy="484.7" r="1.9"/><circle cx="1124.8" cy="413.4" r="1.9"/><circle cx="1143.5" cy="435.5" r="1.9"/><circle cx="1068.8" cy="521.2" r="1.9"/><circle cx="1087.5" cy="484" r="1.9"/><circle cx="1106.1" cy="480.4" r="1.9"/><circle cx="1124.8" cy="435.3" r="1.9"/><circle cx="1143.5" cy="410.3" r="1.9"/><circle cx="1068.8" cy="500.7" r="1.9"/><circle cx="1087.5" cy="466.1" r="1.9"/><circle cx="1106.1" cy="456.6" r="1.9"/><circle cx="1124.8" cy="394.9" r="1.9"/><circle cx="1143.5" cy="389.7" r="1.9"/></g>
<line x1="1068.8" y1="376.3" x2="1143.5" y2="376.3" stroke="#1a1a1a" stroke-width="1.2"/>
<text x="1106.1" y="373.3" font-size="11.9" text-anchor="middle" class="t">***</text>
<text x="1106.1" y="599.6" font-size="12.9" text-anchor="middle" class="t">WT</text>
<text x="1106.1" y="613.4" font-size="12.9" text-anchor="middle" class="t">TAT-Cntrl</text>
<rect x="1163.7" y="523.6" width="13.2" height="56.9" fill="#f8a042"/>
<rect x="1163.7" y="523.6" width="13.2" height="56.9" fill="none" stroke="#f8a042" stroke-width="1.4"/>
<path d="M1170.3 522.9V510.9M1165.5 510.9H1175" fill="none" stroke="#f8a042" stroke-width="2"/>
<rect x="1182.4" y="491" width="13.2" height="89.5" fill="#f8a042"/>
<rect x="1182.4" y="491" width="13.2" height="89.5" fill="url(#p4)"/>
<rect x="1182.4" y="491" width="13.2" height="89.5" fill="none" stroke="#f8a042" stroke-width="1.4"/>
<path d="M1189 490.3V481.9M1184.2 481.9H1193.7" fill="none" stroke="#f8a042" stroke-width="2"/>
<rect x="1201" y="473.3" width="13.2" height="107.2" fill="#f8a042"/>
<rect x="1201" y="473.3" width="13.2" height="107.2" fill="url(#p5)"/>
<rect x="1201" y="473.3" width="13.2" height="107.2" fill="none" stroke="#f8a042" stroke-width="1.4"/>
<path d="M1207.6 472.6V462.1M1202.9 462.1H1212.4" fill="none" stroke="#f8a042" stroke-width="2"/>
<rect x="1219.7" y="449.1" width="13.2" height="131.4" fill="#f8a042"/>
<rect x="1219.7" y="449.1" width="13.2" height="131.4" fill="url(#p6)"/>
<rect x="1219.7" y="449.1" width="13.2" height="131.4" fill="none" stroke="#f8a042" stroke-width="1.4"/>
<path d="M1226.3 448.4V426.3M1221.6 426.3H1231.1" fill="none" stroke="#f8a042" stroke-width="2"/>
<rect x="1238.4" y="445.1" width="13.2" height="135.4" fill="#f8a042"/>
<rect x="1238.4" y="445.1" width="13.2" height="135.4" fill="url(#p7)"/>
<rect x="1238.4" y="445.1" width="13.2" height="135.4" fill="none" stroke="#f8a042" stroke-width="1.4"/>
<path d="M1245 444.4V421.9M1240.2 421.9H1249.7" fill="none" stroke="#f8a042" stroke-width="2"/>
<g fill="none" stroke="#7f7fd0" stroke-width="1.4" stroke-opacity="0.36" stroke-linejoin="round"><path d="M1170.3 573L1189 525.8L1207.6 517.2L1226.3 522.8L1245 448.2"/><path d="M1170.3 542.2L1189 513.6L1207.6 484L1226.3 514.7L1245 438.6"/><path d="M1170.3 490L1189 494.3L1207.6 459.4L1226.3 474.1L1245 420.1"/><path d="M1170.3 544.2L1189 484.3L1207.6 474.7L1226.3 476.1L1245 523.6"/><path d="M1170.3 518.7L1189 486.9L1207.6 483.6L1226.3 451.6L1245 492.1"/><path d="M1170.3 517.9L1189 493.4L1207.6 447.4L1226.3 466L1245 444.2"/><path d="M1170.3 521.2L1189 482L1207.6 423.9L1226.3 419.7L1245 445.7"/></g>
<g fill="#55556a" fill-opacity="0.4" stroke="#55556a" stroke-opacity="0.45" stroke-width="0.7"><circle cx="1170.3" cy="573" r="1.9"/><circle cx="1189" cy="525.8" r="1.9"/><circle cx="1207.6" cy="517.2" r="1.9"/><circle cx="1226.3" cy="522.8" r="1.9"/><circle cx="1245" cy="448.2" r="1.9"/><circle cx="1170.3" cy="542.2" r="1.9"/><circle cx="1189" cy="513.6" r="1.9"/><circle cx="1207.6" cy="484" r="1.9"/><circle cx="1226.3" cy="514.7" r="1.9"/><circle cx="1245" cy="438.6" r="1.9"/><circle cx="1170.3" cy="490" r="1.9"/><circle cx="1189" cy="494.3" r="1.9"/><circle cx="1207.6" cy="459.4" r="1.9"/><circle cx="1226.3" cy="474.1" r="1.9"/><circle cx="1245" cy="420.1" r="1.9"/><circle cx="1170.3" cy="544.2" r="1.9"/><circle cx="1189" cy="484.3" r="1.9"/><circle cx="1207.6" cy="474.7" r="1.9"/><circle cx="1226.3" cy="476.1" r="1.9"/><circle cx="1245" cy="523.6" r="1.9"/><circle cx="1170.3" cy="518.7" r="1.9"/><circle cx="1189" cy="486.9" r="1.9"/><circle cx="1207.6" cy="483.6" r="1.9"/><circle cx="1226.3" cy="451.6" r="1.9"/><circle cx="1245" cy="492.1" r="1.9"/><circle cx="1170.3" cy="517.9" r="1.9"/><circle cx="1189" cy="493.4" r="1.9"/><circle cx="1207.6" cy="447.4" r="1.9"/><circle cx="1226.3" cy="466" r="1.9"/><circle cx="1245" cy="444.2" r="1.9"/><circle cx="1170.3" cy="521.2" r="1.9"/><circle cx="1189" cy="482" r="1.9"/><circle cx="1207.6" cy="423.9" r="1.9"/><circle cx="1226.3" cy="419.7" r="1.9"/><circle cx="1245" cy="445.7" r="1.9"/></g>
<line x1="1170.3" y1="376.3" x2="1245" y2="376.3" stroke="#1a1a1a" stroke-width="1.2"/>
<text x="1207.6" y="373.3" font-size="11.9" text-anchor="middle" class="t">*</text>
<text x="1207.6" y="599.6" font-size="12.9" text-anchor="middle" class="t">WT</text>
<text x="1207.6" y="613.4" font-size="12.9" text-anchor="middle" class="t">TAT-GluA2<tspan dy="3.2" font-size="9">3Y</tspan></text>
<rect x="1265.6" y="555.3" width="12.3" height="25.2" fill="#fff"/>
<rect x="1265.6" y="555.3" width="12.3" height="25.2" fill="none" stroke="#9e9ea2" stroke-width="2"/>
<path d="M1271.8 554.3V541.9M1267 541.9H1276.5" fill="none" stroke="#9e9ea2" stroke-width="2"/>
<rect x="1284.3" y="490.1" width="12.3" height="90.4" fill="#fff"/>
<rect x="1284.3" y="490.1" width="12.3" height="90.4" fill="url(#p8)"/>
<rect x="1284.3" y="490.1" width="12.3" height="90.4" fill="none" stroke="#9e9ea2" stroke-width="2"/>
<path d="M1290.5 489.1V478.2M1285.7 478.2H1295.2" fill="none" stroke="#9e9ea2" stroke-width="2"/>
<rect x="1303" y="473.6" width="12.3" height="106.9" fill="#fff"/>
<rect x="1303" y="473.6" width="12.3" height="106.9" fill="url(#p9)"/>
<rect x="1303" y="473.6" width="12.3" height="106.9" fill="none" stroke="#9e9ea2" stroke-width="2"/>
<path d="M1309.1 472.6V456.1M1304.4 456.1H1313.9" fill="none" stroke="#9e9ea2" stroke-width="2"/>
<rect x="1321.7" y="485.7" width="12.3" height="94.8" fill="#fff"/>
<rect x="1321.7" y="485.7" width="12.3" height="94.8" fill="url(#p10)"/>
<rect x="1321.7" y="485.7" width="12.3" height="94.8" fill="none" stroke="#9e9ea2" stroke-width="2"/>
<path d="M1327.8 484.7V458.1M1323.1 458.1H1332.6" fill="none" stroke="#9e9ea2" stroke-width="2"/>
<rect x="1340.3" y="479.2" width="12.3" height="101.3" fill="#fff"/>
<rect x="1340.3" y="479.2" width="12.3" height="101.3" fill="url(#p11)"/>
<rect x="1340.3" y="479.2" width="12.3" height="101.3" fill="none" stroke="#9e9ea2" stroke-width="2"/>
<path d="M1346.5 478.2V448.8M1341.7 448.8H1351.2" fill="none" stroke="#9e9ea2" stroke-width="2"/>
<g fill="none" stroke="#7f7fd0" stroke-width="1.4" stroke-opacity="0.36" stroke-linejoin="round"><path d="M1271.8 555.4L1290.5 580.5L1309.1 487.2L1327.8 385.4L1346.5 478.1"/><path d="M1271.8 580.5L1290.5 487.9L1309.1 542.7L1327.8 403.2L1346.5 423"/><path d="M1271.8 580.5L1290.5 575.2L1309.1 580.5L1327.8 580.5L1346.5 580.5"/><path d="M1271.8 576.9L1290.5 580.5L1309.1 502.2L1327.8 580.5L1346.5 580.5"/><path d="M1271.8 478.5L1290.5 491.5L1309.1 440.2L1327.8 580.5L1346.5 456.3"/><path d="M1271.8 542.5L1290.5 483.1L1309.1 514.4L1327.8 396.4L1346.5 424.2"/><path d="M1271.8 572.9L1290.5 535L1309.1 540L1327.8 485.9L1346.5 534.5"/></g>
<g fill="#55556a" fill-opacity="0.4" stroke="#55556a" stroke-opacity="0.45" stroke-width="0.7"><circle cx="1271.8" cy="555.4" r="1.9"/><circle cx="1290.5" cy="580.5" r="1.9"/><circle cx="1309.1" cy="487.2" r="1.9"/><circle cx="1327.8" cy="385.4" r="1.9"/><circle cx="1346.5" cy="478.1" r="1.9"/><circle cx="1271.8" cy="580.5" r="1.9"/><circle cx="1290.5" cy="487.9" r="1.9"/><circle cx="1309.1" cy="542.7" r="1.9"/><circle cx="1327.8" cy="403.2" r="1.9"/><circle cx="1346.5" cy="423" r="1.9"/><circle cx="1271.8" cy="580.5" r="1.9"/><circle cx="1290.5" cy="575.2" r="1.9"/><circle cx="1309.1" cy="580.5" r="1.9"/><circle cx="1327.8" cy="580.5" r="1.9"/><circle cx="1346.5" cy="580.5" r="1.9"/><circle cx="1271.8" cy="576.9" r="1.9"/><circle cx="1290.5" cy="580.5" r="1.9"/><circle cx="1309.1" cy="502.2" r="1.9"/><circle cx="1327.8" cy="580.5" r="1.9"/><circle cx="1346.5" cy="580.5" r="1.9"/><circle cx="1271.8" cy="478.5" r="1.9"/><circle cx="1290.5" cy="491.5" r="1.9"/><circle cx="1309.1" cy="440.2" r="1.9"/><circle cx="1327.8" cy="580.5" r="1.9"/><circle cx="1346.5" cy="456.3" r="1.9"/><circle cx="1271.8" cy="542.5" r="1.9"/><circle cx="1290.5" cy="483.1" r="1.9"/><circle cx="1309.1" cy="514.4" r="1.9"/><circle cx="1327.8" cy="396.4" r="1.9"/><circle cx="1346.5" cy="424.2" r="1.9"/><circle cx="1271.8" cy="572.9" r="1.9"/><circle cx="1290.5" cy="535" r="1.9"/><circle cx="1309.1" cy="540" r="1.9"/><circle cx="1327.8" cy="485.9" r="1.9"/><circle cx="1346.5" cy="534.5" r="1.9"/></g>
<line x1="1271.8" y1="376.3" x2="1346.5" y2="376.3" stroke="#1a1a1a" stroke-width="1.2"/>
<text x="1309.1" y="370.8" font-size="11.9" text-anchor="middle" class="t">n.s.</text>
<text x="1309.1" y="599.6" font-size="12.9" text-anchor="middle" class="t">Tg</text>
<text x="1309.1" y="613.4" font-size="12.9" text-anchor="middle" class="t">TAT-Cntrl</text>
<rect x="1367.1" y="540" width="12.3" height="40.5" fill="#fff"/>
<rect x="1367.1" y="540" width="12.3" height="40.5" fill="none" stroke="#f8a042" stroke-width="2"/>
<path d="M1373.3 539V528.6M1368.5 528.6H1378" fill="none" stroke="#f8a042" stroke-width="2"/>
<rect x="1385.8" y="495.7" width="12.3" height="84.8" fill="#fff"/>
<rect x="1385.8" y="495.7" width="12.3" height="84.8" fill="url(#p12)"/>
<rect x="1385.8" y="495.7" width="12.3" height="84.8" fill="none" stroke="#f8a042" stroke-width="2"/>
<path d="M1392 494.7V491.5M1387.2 491.5H1396.7" fill="none" stroke="#f8a042" stroke-width="2"/>
<rect x="1404.5" y="480.4" width="12.3" height="100.1" fill="#fff"/>
<rect x="1404.5" y="480.4" width="12.3" height="100.1" fill="url(#p13)"/>
<rect x="1404.5" y="480.4" width="12.3" height="100.1" fill="none" stroke="#f8a042" stroke-width="2"/>
<path d="M1410.6 479.4V473.8M1405.9 473.8H1415.4" fill="none" stroke="#f8a042" stroke-width="2"/>
<rect x="1423.2" y="444.6" width="12.3" height="135.9" fill="#fff"/>
<rect x="1423.2" y="444.6" width="12.3" height="135.9" fill="url(#p14)"/>
<rect x="1423.2" y="444.6" width="12.3" height="135.9" fill="none" stroke="#f8a042" stroke-width="2"/>
<path d="M1429.3 443.6V428.7M1424.6 428.7H1434.1" fill="none" stroke="#f8a042" stroke-width="2"/>
<rect x="1441.8" y="445.4" width="12.3" height="135.1" fill="#fff"/>
<rect x="1441.8" y="445.4" width="12.3" height="135.1" fill="url(#p15)"/>
<rect x="1441.8" y="445.4" width="12.3" height="135.1" fill="none" stroke="#f8a042" stroke-width="2"/>
<path d="M1448 444.4V426.3M1443.2 426.3H1452.7" fill="none" stroke="#f8a042" stroke-width="2"/>
<g fill="none" stroke="#7f7fd0" stroke-width="1.4" stroke-opacity="0.36" stroke-linejoin="round"><path d="M1373.3 519.6L1392 499.3L1410.6 496.5L1429.3 481.7L1448 522.7"/><path d="M1373.3 510L1392 472.2L1410.6 457.1L1429.3 390.3L1448 422.7"/><path d="M1373.3 524.9L1392 504.2L1410.6 493.4L1429.3 449.6L1448 459.7"/><path d="M1373.3 532.8L1392 483.3L1410.6 463L1429.3 440.1L1448 472.7"/><path d="M1373.3 551.9L1392 503.1L1410.6 475.5L1429.3 486.6L1448 433"/><path d="M1373.3 568.7L1392 497.8L1410.6 473.7L1429.3 445.8L1448 443"/><path d="M1373.3 553.2L1392 512.4L1410.6 492.2L1429.3 462.3L1448 524.4"/></g>
<g fill="#55556a" fill-opacity="0.4" stroke="#55556a" stroke-opacity="0.45" stroke-width="0.7"><circle cx="1373.3" cy="519.6" r="1.9"/><circle cx="1392" cy="499.3" r="1.9"/><circle cx="1410.6" cy="496.5" r="1.9"/><circle cx="1429.3" cy="481.7" r="1.9"/><circle cx="1448" cy="522.7" r="1.9"/><circle cx="1373.3" cy="510" r="1.9"/><circle cx="1392" cy="472.2" r="1.9"/><circle cx="1410.6" cy="457.1" r="1.9"/><circle cx="1429.3" cy="390.3" r="1.9"/><circle cx="1448" cy="422.7" r="1.9"/><circle cx="1373.3" cy="524.9" r="1.9"/><circle cx="1392" cy="504.2" r="1.9"/><circle cx="1410.6" cy="493.4" r="1.9"/><circle cx="1429.3" cy="449.6" r="1.9"/><circle cx="1448" cy="459.7" r="1.9"/><circle cx="1373.3" cy="532.8" r="1.9"/><circle cx="1392" cy="483.3" r="1.9"/><circle cx="1410.6" cy="463" r="1.9"/><circle cx="1429.3" cy="440.1" r="1.9"/><circle cx="1448" cy="472.7" r="1.9"/><circle cx="1373.3" cy="551.9" r="1.9"/><circle cx="1392" cy="503.1" r="1.9"/><circle cx="1410.6" cy="475.5" r="1.9"/><circle cx="1429.3" cy="486.6" r="1.9"/><circle cx="1448" cy="433" r="1.9"/><circle cx="1373.3" cy="568.7" r="1.9"/><circle cx="1392" cy="497.8" r="1.9"/><circle cx="1410.6" cy="473.7" r="1.9"/><circle cx="1429.3" cy="445.8" r="1.9"/><circle cx="1448" cy="443" r="1.9"/><circle cx="1373.3" cy="553.2" r="1.9"/><circle cx="1392" cy="512.4" r="1.9"/><circle cx="1410.6" cy="492.2" r="1.9"/><circle cx="1429.3" cy="462.3" r="1.9"/><circle cx="1448" cy="524.4" r="1.9"/></g>
<line x1="1373.3" y1="376.3" x2="1448" y2="376.3" stroke="#1a1a1a" stroke-width="1.2"/>
<text x="1410.6" y="373.3" font-size="11.9" text-anchor="middle" class="t">**</text>
<text x="1410.6" y="599.6" font-size="12.9" text-anchor="middle" class="t">Tg</text>
<text x="1410.6" y="613.4" font-size="12.9" text-anchor="middle" class="t">TAT-GluA2<tspan dy="3.2" font-size="9">3Y</tspan></text>
<line x1="1053.1" y1="357.9" x2="1053.1" y2="591" stroke="#333333" stroke-width="1.4"/>
<line x1="1052.4" y1="580.5" x2="1460.5" y2="580.5" stroke="#333333" stroke-width="1.4"/>
<text x="1744.5" y="352.7" font-size="12.4" text-anchor="middle" class="t">All cells</text>
<text x="1535.8" y="584.9" font-size="12.4" text-anchor="end" class="t">0.5</text>
<text x="1535.8" y="544.7" font-size="12.4" text-anchor="end" class="t">0.6</text>
<text x="1535.8" y="504.4" font-size="12.4" text-anchor="end" class="t">0.7</text>
<text x="1535.8" y="464.2" font-size="12.4" text-anchor="end" class="t">0.8</text>
<text x="1535.8" y="423.9" font-size="12.4" text-anchor="end" class="t">0.9</text>
<text x="1535.8" y="383.6" font-size="12.4" text-anchor="end" class="t">1.0</text>
<text x="1511.4" y="474.9" font-size="12.4" text-anchor="middle" transform="rotate(-90 1511.4 474.9)" class="t">Balanced accuracy</text>
<rect x="1550.1" y="503.5" width="13.2" height="77" fill="#9e9ea2"/>
<rect x="1550.1" y="503.5" width="13.2" height="77" fill="none" stroke="#9e9ea2" stroke-width="1.4"/>
<path d="M1556.7 502.8V496.6M1552 496.6H1561.5" fill="none" stroke="#9e9ea2" stroke-width="2"/>
<rect x="1568.8" y="474.9" width="13.2" height="105.6" fill="#9e9ea2"/>
<rect x="1568.8" y="474.9" width="13.2" height="105.6" fill="url(#p0)"/>
<rect x="1568.8" y="474.9" width="13.2" height="105.6" fill="none" stroke="#9e9ea2" stroke-width="1.4"/>
<path d="M1575.4 474.2V467.1M1570.6 467.1H1580.1" fill="none" stroke="#9e9ea2" stroke-width="2"/>
<rect x="1587.4" y="452" width="13.2" height="128.5" fill="#9e9ea2"/>
<rect x="1587.4" y="452" width="13.2" height="128.5" fill="url(#p1)"/>
<rect x="1587.4" y="452" width="13.2" height="128.5" fill="none" stroke="#9e9ea2" stroke-width="1.4"/>
<path d="M1594 451.3V441M1589.3 441H1598.8" fill="none" stroke="#9e9ea2" stroke-width="2"/>
<rect x="1606.1" y="411.7" width="13.2" height="168.8" fill="#9e9ea2"/>
<rect x="1606.1" y="411.7" width="13.2" height="168.8" fill="url(#p2)"/>
<rect x="1606.1" y="411.7" width="13.2" height="168.8" fill="none" stroke="#9e9ea2" stroke-width="1.4"/>
<path d="M1612.7 411V404.6M1608 404.6H1617.5" fill="none" stroke="#9e9ea2" stroke-width="2"/>
<rect x="1624.8" y="403.7" width="13.2" height="176.8" fill="#9e9ea2"/>
<rect x="1624.8" y="403.7" width="13.2" height="176.8" fill="url(#p3)"/>
<rect x="1624.8" y="403.7" width="13.2" height="176.8" fill="none" stroke="#9e9ea2" stroke-width="1.4"/>
<path d="M1631.4 403V397.3M1626.6 397.3H1636.1" fill="none" stroke="#9e9ea2" stroke-width="2"/>
<g fill="none" stroke="#7f7fd0" stroke-width="1.4" stroke-opacity="0.36" stroke-linejoin="round"><path d="M1556.7 527.3L1575.4 474.2L1594 461.9L1612.7 417.2L1631.4 413.8"/><path d="M1556.7 511.8L1575.4 467L1594 449.3L1612.7 410.2L1631.4 411.1"/><path d="M1556.7 473.7L1575.4 445.3L1594 405.1L1612.7 404.1L1631.4 387.8"/><path d="M1556.7 500.8L1575.4 479.5L1594 469.1L1612.7 401.7L1631.4 404.5"/><path d="M1556.7 482.7L1575.4 450.6L1594 414L1612.7 393.3L1631.4 391.4"/><path d="M1556.7 514.6L1575.4 487.1L1594 445.3L1612.7 418.8L1631.4 420.9"/><path d="M1556.7 496.6L1575.4 494.9L1594 438.2L1612.7 400.8L1631.4 399.6"/><path d="M1556.7 505.1L1575.4 478.7L1594 479.3L1612.7 419.1L1631.4 397.9"/><path d="M1556.7 497.8L1575.4 473.4L1594 479.1L1612.7 429.3L1631.4 409.7"/><path d="M1556.7 497.8L1575.4 463.1L1594 450L1612.7 390.5L1631.4 393.4"/></g>
<g fill="#55556a" fill-opacity="0.4" stroke="#55556a" stroke-opacity="0.45" stroke-width="0.7"><circle cx="1556.7" cy="527.3" r="1.9"/><circle cx="1575.4" cy="474.2" r="1.9"/><circle cx="1594" cy="461.9" r="1.9"/><circle cx="1612.7" cy="417.2" r="1.9"/><circle cx="1631.4" cy="413.8" r="1.9"/><circle cx="1556.7" cy="511.8" r="1.9"/><circle cx="1575.4" cy="467" r="1.9"/><circle cx="1594" cy="449.3" r="1.9"/><circle cx="1612.7" cy="410.2" r="1.9"/><circle cx="1631.4" cy="411.1" r="1.9"/><circle cx="1556.7" cy="473.7" r="1.9"/><circle cx="1575.4" cy="445.3" r="1.9"/><circle cx="1594" cy="405.1" r="1.9"/><circle cx="1612.7" cy="404.1" r="1.9"/><circle cx="1631.4" cy="387.8" r="1.9"/><circle cx="1556.7" cy="500.8" r="1.9"/><circle cx="1575.4" cy="479.5" r="1.9"/><circle cx="1594" cy="469.1" r="1.9"/><circle cx="1612.7" cy="401.7" r="1.9"/><circle cx="1631.4" cy="404.5" r="1.9"/><circle cx="1556.7" cy="482.7" r="1.9"/><circle cx="1575.4" cy="450.6" r="1.9"/><circle cx="1594" cy="414" r="1.9"/><circle cx="1612.7" cy="393.3" r="1.9"/><circle cx="1631.4" cy="391.4" r="1.9"/><circle cx="1556.7" cy="514.6" r="1.9"/><circle cx="1575.4" cy="487.1" r="1.9"/><circle cx="1594" cy="445.3" r="1.9"/><circle cx="1612.7" cy="418.8" r="1.9"/><circle cx="1631.4" cy="420.9" r="1.9"/><circle cx="1556.7" cy="496.6" r="1.9"/><circle cx="1575.4" cy="494.9" r="1.9"/><circle cx="1594" cy="438.2" r="1.9"/><circle cx="1612.7" cy="400.8" r="1.9"/><circle cx="1631.4" cy="399.6" r="1.9"/><circle cx="1556.7" cy="505.1" r="1.9"/><circle cx="1575.4" cy="478.7" r="1.9"/><circle cx="1594" cy="479.3" r="1.9"/><circle cx="1612.7" cy="419.1" r="1.9"/><circle cx="1631.4" cy="397.9" r="1.9"/><circle cx="1556.7" cy="497.8" r="1.9"/><circle cx="1575.4" cy="473.4" r="1.9"/><circle cx="1594" cy="479.1" r="1.9"/><circle cx="1612.7" cy="429.3" r="1.9"/><circle cx="1631.4" cy="409.7" r="1.9"/><circle cx="1556.7" cy="497.8" r="1.9"/><circle cx="1575.4" cy="463.1" r="1.9"/><circle cx="1594" cy="450" r="1.9"/><circle cx="1612.7" cy="390.5" r="1.9"/><circle cx="1631.4" cy="393.4" r="1.9"/></g>
<line x1="1556.7" y1="374.8" x2="1631.4" y2="374.8" stroke="#1a1a1a" stroke-width="1.2"/>
<text x="1594" y="371.8" font-size="11.9" text-anchor="middle" class="t">***</text>
<text x="1594" y="599.6" font-size="12.9" text-anchor="middle" class="t">WT</text>
<text x="1594" y="613.4" font-size="12.9" text-anchor="middle" class="t">TAT-Cntrl</text>
<rect x="1651.6" y="517.6" width="13.2" height="62.9" fill="#f8a042"/>
<rect x="1651.6" y="517.6" width="13.2" height="62.9" fill="none" stroke="#f8a042" stroke-width="1.4"/>
<path d="M1658.2 516.9V504.8M1653.5 504.8H1663" fill="none" stroke="#f8a042" stroke-width="2"/>
<rect x="1670.3" y="483.4" width="13.2" height="97.1" fill="#f8a042"/>
<rect x="1670.3" y="483.4" width="13.2" height="97.1" fill="url(#p4)"/>
<rect x="1670.3" y="483.4" width="13.2" height="97.1" fill="none" stroke="#f8a042" stroke-width="1.4"/>
<path d="M1676.9 482.7V475.4M1672.1 475.4H1681.6" fill="none" stroke="#f8a042" stroke-width="2"/>
<rect x="1688.9" y="464.8" width="13.2" height="115.7" fill="#f8a042"/>
<rect x="1688.9" y="464.8" width="13.2" height="115.7" fill="url(#p5)"/>
<rect x="1688.9" y="464.8" width="13.2" height="115.7" fill="none" stroke="#f8a042" stroke-width="1.4"/>
<path d="M1695.5 464.1V454.5M1690.8 454.5H1700.3" fill="none" stroke="#f8a042" stroke-width="2"/>
<rect x="1707.6" y="441.5" width="13.2" height="139" fill="#f8a042"/>
<rect x="1707.6" y="441.5" width="13.2" height="139" fill="url(#p6)"/>
<rect x="1707.6" y="441.5" width="13.2" height="139" fill="none" stroke="#f8a042" stroke-width="1.4"/>
<path d="M1714.2 440.8V422.7M1709.5 422.7H1719" fill="none" stroke="#f8a042" stroke-width="2"/>
<rect x="1726.3" y="435.5" width="13.2" height="145" fill="#f8a042"/>
<rect x="1726.3" y="435.5" width="13.2" height="145" fill="url(#p7)"/>
<rect x="1726.3" y="435.5" width="13.2" height="145" fill="none" stroke="#f8a042" stroke-width="1.4"/>
<path d="M1732.9 434.8V417.8M1728.1 417.8H1737.6" fill="none" stroke="#f8a042" stroke-width="2"/>
<g fill="none" stroke="#7f7fd0" stroke-width="1.4" stroke-opacity="0.36" stroke-linejoin="round"><path d="M1658.2 517.1L1676.9 470.8L1695.5 438.1L1714.2 413.5L1732.9 419"/><path d="M1658.2 523.9L1676.9 482.8L1695.5 471.6L1714.2 453.8L1732.9 438.1"/><path d="M1658.2 533.5L1676.9 498.8L1695.5 462.9L1714.2 422.8L1732.9 476.2"/><path d="M1658.2 503L1676.9 482.3L1695.5 433.5L1714.2 430.2L1732.9 406"/><path d="M1658.2 504.8L1676.9 467L1695.5 448L1714.2 438.2L1732.9 409.3"/><path d="M1658.2 508.9L1676.9 474L1695.5 479.7L1714.2 447.5L1732.9 398"/><path d="M1658.2 514.7L1676.9 508.8L1695.5 480.2L1714.2 502.8L1732.9 467.6"/></g>
<g fill="#55556a" fill-opacity="0.4" stroke="#55556a" stroke-opacity="0.45" stroke-width="0.7"><circle cx="1658.2" cy="517.1" r="1.9"/><circle cx="1676.9" cy="470.8" r="1.9"/><circle cx="1695.5" cy="438.1" r="1.9"/><circle cx="1714.2" cy="413.5" r="1.9"/><circle cx="1732.9" cy="419" r="1.9"/><circle cx="1658.2" cy="523.9" r="1.9"/><circle cx="1676.9" cy="482.8" r="1.9"/><circle cx="1695.5" cy="471.6" r="1.9"/><circle cx="1714.2" cy="453.8" r="1.9"/><circle cx="1732.9" cy="438.1" r="1.9"/><circle cx="1658.2" cy="533.5" r="1.9"/><circle cx="1676.9" cy="498.8" r="1.9"/><circle cx="1695.5" cy="462.9" r="1.9"/><circle cx="1714.2" cy="422.8" r="1.9"/><circle cx="1732.9" cy="476.2" r="1.9"/><circle cx="1658.2" cy="503" r="1.9"/><circle cx="1676.9" cy="482.3" r="1.9"/><circle cx="1695.5" cy="433.5" r="1.9"/><circle cx="1714.2" cy="430.2" r="1.9"/><circle cx="1732.9" cy="406" r="1.9"/><circle cx="1658.2" cy="504.8" r="1.9"/><circle cx="1676.9" cy="467" r="1.9"/><circle cx="1695.5" cy="448" r="1.9"/><circle cx="1714.2" cy="438.2" r="1.9"/><circle cx="1732.9" cy="409.3" r="1.9"/><circle cx="1658.2" cy="508.9" r="1.9"/><circle cx="1676.9" cy="474" r="1.9"/><circle cx="1695.5" cy="479.7" r="1.9"/><circle cx="1714.2" cy="447.5" r="1.9"/><circle cx="1732.9" cy="398" r="1.9"/><circle cx="1658.2" cy="514.7" r="1.9"/><circle cx="1676.9" cy="508.8" r="1.9"/><circle cx="1695.5" cy="480.2" r="1.9"/><circle cx="1714.2" cy="502.8" r="1.9"/><circle cx="1732.9" cy="467.6" r="1.9"/></g>
<line x1="1658.2" y1="374.8" x2="1732.9" y2="374.8" stroke="#1a1a1a" stroke-width="1.2"/>
<text x="1695.5" y="371.8" font-size="11.9" text-anchor="middle" class="t">*</text>
<text x="1695.5" y="599.6" font-size="12.9" text-anchor="middle" class="t">WT</text>
<text x="1695.5" y="613.4" font-size="12.9" text-anchor="middle" class="t">TAT-GluA2<tspan dy="3.2" font-size="9">3Y</tspan></text>
<rect x="1753.5" y="543.7" width="12.3" height="36.8" fill="#fff"/>
<rect x="1753.5" y="543.7" width="12.3" height="36.8" fill="none" stroke="#9e9ea2" stroke-width="2"/>
<path d="M1759.7 542.7V527.4M1755 527.4H1764.5" fill="none" stroke="#9e9ea2" stroke-width="2"/>
<rect x="1772.2" y="485.7" width="12.3" height="94.8" fill="#fff"/>
<rect x="1772.2" y="485.7" width="12.3" height="94.8" fill="url(#p8)"/>
<rect x="1772.2" y="485.7" width="12.3" height="94.8" fill="none" stroke="#9e9ea2" stroke-width="2"/>
<path d="M1778.4 484.7V470.2M1773.6 470.2H1783.1" fill="none" stroke="#9e9ea2" stroke-width="2"/>
<rect x="1790.9" y="471.6" width="12.3" height="108.9" fill="#fff"/>
<rect x="1790.9" y="471.6" width="12.3" height="108.9" fill="url(#p9)"/>
<rect x="1790.9" y="471.6" width="12.3" height="108.9" fill="none" stroke="#9e9ea2" stroke-width="2"/>
<path d="M1797 470.6V453.7M1792.3 453.7H1801.8" fill="none" stroke="#9e9ea2" stroke-width="2"/>
<rect x="1809.6" y="483.3" width="12.3" height="97.2" fill="#fff"/>
<rect x="1809.6" y="483.3" width="12.3" height="97.2" fill="url(#p10)"/>
<rect x="1809.6" y="483.3" width="12.3" height="97.2" fill="none" stroke="#9e9ea2" stroke-width="2"/>
<path d="M1815.7 482.3V455.7M1811 455.7H1820.5" fill="none" stroke="#9e9ea2" stroke-width="2"/>
<rect x="1828.2" y="478.8" width="12.3" height="101.7" fill="#fff"/>
<rect x="1828.2" y="478.8" width="12.3" height="101.7" fill="url(#p11)"/>
<rect x="1828.2" y="478.8" width="12.3" height="101.7" fill="none" stroke="#9e9ea2" stroke-width="2"/>
<path d="M1834.4 477.8V448.8M1829.6 448.8H1839.1" fill="none" stroke="#9e9ea2" stroke-width="2"/>
<g fill="none" stroke="#7f7fd0" stroke-width="1.4" stroke-opacity="0.36" stroke-linejoin="round"><path d="M1759.7 567.3L1778.4 411.3L1797 398.4L1815.7 397.7L1834.4 387.7"/><path d="M1759.7 580.5L1778.4 451L1797 397.7L1815.7 394.8L1834.4 553.6"/><path d="M1759.7 580.5L1778.4 522.9L1797 580.5L1815.7 503.5L1834.4 571.4"/><path d="M1759.7 580.5L1778.4 505.4L1797 496.6L1815.7 466.3L1834.4 509.7"/><path d="M1759.7 580.5L1778.4 539.4L1797 483.1L1815.7 580.5L1834.4 580.5"/><path d="M1759.7 580.5L1778.4 512.1L1797 580.5L1815.7 519.7L1834.4 580.5"/><path d="M1759.7 559.5L1778.4 471.9L1797 522L1815.7 489.7L1834.4 577.4"/></g>
<g fill="#55556a" fill-opacity="0.4" stroke="#55556a" stroke-opacity="0.45" stroke-width="0.7"><circle cx="1759.7" cy="567.3" r="1.9"/><circle cx="1778.4" cy="411.3" r="1.9"/><circle cx="1797" cy="398.4" r="1.9"/><circle cx="1815.7" cy="397.7" r="1.9"/><circle cx="1834.4" cy="387.7" r="1.9"/><circle cx="1759.7" cy="580.5" r="1.9"/><circle cx="1778.4" cy="451" r="1.9"/><circle cx="1797" cy="397.7" r="1.9"/><circle cx="1815.7" cy="394.8" r="1.9"/><circle cx="1834.4" cy="553.6" r="1.9"/><circle cx="1759.7" cy="580.5" r="1.9"/><circle cx="1778.4" cy="522.9" r="1.9"/><circle cx="1797" cy="580.5" r="1.9"/><circle cx="1815.7" cy="503.5" r="1.9"/><circle cx="1834.4" cy="571.4" r="1.9"/><circle cx="1759.7" cy="580.5" r="1.9"/><circle cx="1778.4" cy="505.4" r="1.9"/><circle cx="1797" cy="496.6" r="1.9"/><circle cx="1815.7" cy="466.3" r="1.9"/><circle cx="1834.4" cy="509.7" r="1.9"/><circle cx="1759.7" cy="580.5" r="1.9"/><circle cx="1778.4" cy="539.4" r="1.9"/><circle cx="1797" cy="483.1" r="1.9"/><circle cx="1815.7" cy="580.5" r="1.9"/><circle cx="1834.4" cy="580.5" r="1.9"/><circle cx="1759.7" cy="580.5" r="1.9"/><circle cx="1778.4" cy="512.1" r="1.9"/><circle cx="1797" cy="580.5" r="1.9"/><circle cx="1815.7" cy="519.7" r="1.9"/><circle cx="1834.4" cy="580.5" r="1.9"/><circle cx="1759.7" cy="559.5" r="1.9"/><circle cx="1778.4" cy="471.9" r="1.9"/><circle cx="1797" cy="522" r="1.9"/><circle cx="1815.7" cy="489.7" r="1.9"/><circle cx="1834.4" cy="577.4" r="1.9"/></g>
<line x1="1759.7" y1="374.8" x2="1834.4" y2="374.8" stroke="#1a1a1a" stroke-width="1.2"/>
<text x="1797" y="369.3" font-size="11.9" text-anchor="middle" class="t">n.s.</text>
<text x="1797" y="599.6" font-size="12.9" text-anchor="middle" class="t">Tg</text>
<text x="1797" y="613.4" font-size="12.9" text-anchor="middle" class="t">TAT-Cntrl</text>
<rect x="1855" y="528.8" width="12.3" height="51.7" fill="#fff"/>
<rect x="1855" y="528.8" width="12.3" height="51.7" fill="none" stroke="#f8a042" stroke-width="2"/>
<path d="M1861.2 527.8V517.3M1856.5 517.3H1866" fill="none" stroke="#f8a042" stroke-width="2"/>
<rect x="1873.7" y="490.1" width="12.3" height="90.4" fill="#fff"/>
<rect x="1873.7" y="490.1" width="12.3" height="90.4" fill="url(#p12)"/>
<rect x="1873.7" y="490.1" width="12.3" height="90.4" fill="none" stroke="#f8a042" stroke-width="2"/>
<path d="M1879.9 489.1V485.3M1875.1 485.3H1884.6" fill="none" stroke="#f8a042" stroke-width="2"/>
<rect x="1892.4" y="468" width="12.3" height="112.5" fill="#fff"/>
<rect x="1892.4" y="468" width="12.3" height="112.5" fill="url(#p13)"/>
<rect x="1892.4" y="468" width="12.3" height="112.5" fill="none" stroke="#f8a042" stroke-width="2"/>
<path d="M1898.5 467V457.3M1893.8 457.3H1903.3" fill="none" stroke="#f8a042" stroke-width="2"/>
<rect x="1911.1" y="438.2" width="12.3" height="142.3" fill="#fff"/>
<rect x="1911.1" y="438.2" width="12.3" height="142.3" fill="url(#p14)"/>
<rect x="1911.1" y="438.2" width="12.3" height="142.3" fill="none" stroke="#f8a042" stroke-width="2"/>
<path d="M1917.2 437.2V421.1M1912.5 421.1H1922" fill="none" stroke="#f8a042" stroke-width="2"/>
<rect x="1929.7" y="438.6" width="12.3" height="141.9" fill="#fff"/>
<rect x="1929.7" y="438.6" width="12.3" height="141.9" fill="url(#p15)"/>
<rect x="1929.7" y="438.6" width="12.3" height="141.9" fill="none" stroke="#f8a042" stroke-width="2"/>
<path d="M1935.9 437.6V418.3M1931.1 418.3H1940.6" fill="none" stroke="#f8a042" stroke-width="2"/>
<g fill="none" stroke="#7f7fd0" stroke-width="1.4" stroke-opacity="0.36" stroke-linejoin="round"><path d="M1861.2 545.1L1879.9 489.3L1898.5 467.1L1917.2 414.9L1935.9 466"/><path d="M1861.2 523.2L1879.9 479.4L1898.5 458.6L1917.2 430.1L1935.9 424.7"/><path d="M1861.2 485L1879.9 472.6L1898.5 432.4L1917.2 402.9L1935.9 393"/><path d="M1861.2 572.4L1879.9 508.8L1898.5 521.7L1917.2 493.5L1935.9 500.9"/><path d="M1861.2 528.3L1879.9 483.4L1898.5 453.1L1917.2 390.3L1935.9 487.4"/><path d="M1861.2 508.1L1879.9 486.2L1898.5 471.7L1917.2 447.2L1935.9 446"/><path d="M1861.2 547.5L1879.9 490.1L1898.5 477.6L1917.2 448.7L1935.9 464.4"/></g>
<g fill="#55556a" fill-opacity="0.4" stroke="#55556a" stroke-opacity="0.45" stroke-width="0.7"><circle cx="1861.2" cy="545.1" r="1.9"/><circle cx="1879.9" cy="489.3" r="1.9"/><circle cx="1898.5" cy="467.1" r="1.9"/><circle cx="1917.2" cy="414.9" r="1.9"/><circle cx="1935.9" cy="466" r="1.9"/><circle cx="1861.2" cy="523.2" r="1.9"/><circle cx="1879.9" cy="479.4" r="1.9"/><circle cx="1898.5" cy="458.6" r="1.9"/><circle cx="1917.2" cy="430.1" r="1.9"/><circle cx="1935.9" cy="424.7" r="1.9"/><circle cx="1861.2" cy="485" r="1.9"/><circle cx="1879.9" cy="472.6" r="1.9"/><circle cx="1898.5" cy="432.4" r="1.9"/><circle cx="1917.2" cy="402.9" r="1.9"/><circle cx="1935.9" cy="393" r="1.9"/><circle cx="1861.2" cy="572.4" r="1.9"/><circle cx="1879.9" cy="508.8" r="1.9"/><circle cx="1898.5" cy="521.7" r="1.9"/><circle cx="1917.2" cy="493.5" r="1.9"/><circle cx="1935.9" cy="500.9" r="1.9"/><circle cx="1861.2" cy="528.3" r="1.9"/><circle cx="1879.9" cy="483.4" r="1.9"/><circle cx="1898.5" cy="453.1" r="1.9"/><circle cx="1917.2" cy="390.3" r="1.9"/><circle cx="1935.9" cy="487.4" r="1.9"/><circle cx="1861.2" cy="508.1" r="1.9"/><circle cx="1879.9" cy="486.2" r="1.9"/><circle cx="1898.5" cy="471.7" r="1.9"/><circle cx="1917.2" cy="447.2" r="1.9"/><circle cx="1935.9" cy="446" r="1.9"/><circle cx="1861.2" cy="547.5" r="1.9"/><circle cx="1879.9" cy="490.1" r="1.9"/><circle cx="1898.5" cy="477.6" r="1.9"/><circle cx="1917.2" cy="448.7" r="1.9"/><circle cx="1935.9" cy="464.4" r="1.9"/></g>
<line x1="1861.2" y1="374.8" x2="1935.9" y2="374.8" stroke="#1a1a1a" stroke-width="1.2"/>
<text x="1898.5" y="371.8" font-size="11.9" text-anchor="middle" class="t">**</text>
<text x="1898.5" y="599.6" font-size="12.9" text-anchor="middle" class="t">Tg</text>
<text x="1898.5" y="613.4" font-size="12.9" text-anchor="middle" class="t">TAT-GluA2<tspan dy="3.2" font-size="9">3Y</tspan></text>
<line x1="1541" y1="357.9" x2="1541" y2="591" stroke="#333333" stroke-width="1.4"/>
<line x1="1540.3" y1="580.5" x2="1948" y2="580.5" stroke="#333333" stroke-width="1.4"/>
<rect x="1959.3" y="369.9" width="25.2" height="8.7" fill="#fff"/>
<rect x="1959.3" y="369.9" width="25.2" height="8.7" fill="none" stroke="#48484a" stroke-width="2"/>
<text x="1994.8" y="378.9" font-size="12" class="t">LDA</text>
<rect x="1959.3" y="387.8" width="25.2" height="8.7" fill="#fff"/>
<path d="M1950.3 387.8L1961.1 396.5M1950.3 396.5L1961.1 387.8M1961.1 387.8L1971.9 396.5M1961.1 396.5L1971.9 387.8M1971.9 387.8L1982.7 396.5M1971.9 396.5L1982.7 387.8M1982.7 387.8L1993.5 396.5M1982.7 396.5L1993.5 387.8M1993.5 387.8L2004.3 396.5M1993.5 396.5L2004.3 387.8" fill="none" stroke="#48484a" stroke-width="3.6" clip-path="url(#lc37)"/>
<rect x="1959.3" y="387.8" width="25.2" height="8.7" fill="none" stroke="#48484a" stroke-width="2"/>
<text x="1994.8" y="396.7" font-size="12" class="t">NB</text>
<rect x="1959.3" y="405.5" width="25.2" height="8.7" fill="#fff"/>
<path d="M1944.9 405.5L1955.7 414.2M1944.9 414.2L1955.7 405.5M1955.7 405.5L1966.5 414.2M1955.7 414.2L1966.5 405.5M1966.5 405.5L1977.3 414.2M1966.5 414.2L1977.3 405.5M1977.3 405.5L1988.1 414.2M1977.3 414.2L1988.1 405.5M1988.1 405.5L1998.9 414.2M1988.1 414.2L1998.9 405.5" fill="none" stroke="#48484a" stroke-width="2.8" clip-path="url(#lc38)"/>
<rect x="1959.3" y="405.5" width="25.2" height="8.7" fill="none" stroke="#48484a" stroke-width="2"/>
<text x="1994.8" y="414.5" font-size="12" class="t">QDA</text>
<rect x="1959.3" y="423.2" width="25.2" height="8.7" fill="#fff"/>
<path d="M1959.3 428.9H1984.5" fill="none" stroke="#48484a" stroke-width="1.8"/>
<rect x="1959.3" y="423.2" width="25.2" height="8.7" fill="none" stroke="#48484a" stroke-width="2"/>
<text x="1994.8" y="432.2" font-size="12" class="t">NN</text>
<rect x="1959.3" y="441" width="25.2" height="8.7" fill="#fff"/>
<path d="M1968.4 449.8L1977.1 441" fill="none" stroke="#48484a" stroke-width="2.2"/>
<rect x="1959.3" y="441" width="25.2" height="8.7" fill="none" stroke="#48484a" stroke-width="2"/>
<text x="1994.8" y="450" font-size="12" class="t">gSVM</text>
<text x="11.4" y="710.7" font-size="30" text-anchor="middle" class="t">D</text>
<text x="283" y="679.4" font-size="12.4" text-anchor="middle" class="t">300 freezing frames</text>
<text x="72.1" y="911.9" font-size="12.4" text-anchor="end" class="t">0.5</text>
<text x="72.1" y="871.6" font-size="12.4" text-anchor="end" class="t">0.6</text>
<text x="72.1" y="831.2" font-size="12.4" text-anchor="end" class="t">0.7</text>
<text x="72.1" y="790.8" font-size="12.4" text-anchor="end" class="t">0.8</text>
<text x="72.1" y="750.4" font-size="12.4" text-anchor="end" class="t">0.9</text>
<text x="72.1" y="710" font-size="12.4" text-anchor="end" class="t">1.0</text>
<text x="47.7" y="801.5" font-size="12.4" text-anchor="middle" transform="rotate(-90 47.7 801.5)" class="t">Balanced accuracy</text>
<rect x="85.6" y="821.4" width="13.2" height="86.1" fill="#9e9ea2"/>
<rect x="85.6" y="821.4" width="13.2" height="86.1" fill="none" stroke="#9e9ea2" stroke-width="1.4"/>
<path d="M92.2 820.7V817M87.5 817H97" fill="none" stroke="#9e9ea2" stroke-width="2"/>
<rect x="104.4" y="802" width="13.2" height="105.5" fill="#9e9ea2"/>
<rect x="104.4" y="802" width="13.2" height="105.5" fill="url(#p0)"/>
<rect x="104.4" y="802" width="13.2" height="105.5" fill="none" stroke="#9e9ea2" stroke-width="1.4"/>
<path d="M111 801.3V793.6M106.2 793.6H115.8" fill="none" stroke="#9e9ea2" stroke-width="2"/>
<rect x="123.2" y="781.4" width="13.2" height="126.1" fill="#9e9ea2"/>
<rect x="123.2" y="781.4" width="13.2" height="126.1" fill="url(#p1)"/>
<rect x="123.2" y="781.4" width="13.2" height="126.1" fill="none" stroke="#9e9ea2" stroke-width="1.4"/>
<path d="M129.8 780.7V771.4M125.1 771.4H134.6" fill="none" stroke="#9e9ea2" stroke-width="2"/>
<rect x="142" y="770.1" width="13.2" height="137.4" fill="#9e9ea2"/>
<rect x="142" y="770.1" width="13.2" height="137.4" fill="url(#p2)"/>
<rect x="142" y="770.1" width="13.2" height="137.4" fill="none" stroke="#9e9ea2" stroke-width="1.4"/>
<path d="M148.6 769.4V760.9M143.9 760.9H153.4" fill="none" stroke="#9e9ea2" stroke-width="2"/>
<rect x="160.8" y="758.4" width="13.2" height="149.1" fill="#9e9ea2"/>
<rect x="160.8" y="758.4" width="13.2" height="149.1" fill="url(#p3)"/>
<rect x="160.8" y="758.4" width="13.2" height="149.1" fill="none" stroke="#9e9ea2" stroke-width="1.4"/>
<path d="M167.4 757.7V748.8M162.7 748.8H172.2" fill="none" stroke="#9e9ea2" stroke-width="2"/>
<g fill="none" stroke="#7f7fd0" stroke-width="1.4" stroke-opacity="0.36" stroke-linejoin="round"><path d="M92.2 815L111 795.4L129.8 777.7L148.6 759.6L167.4 755.7"/><path d="M92.2 804.6L111 821.5L129.8 738.2L148.6 741.2L167.4 746.5"/><path d="M92.2 824.7L111 826.8L129.8 796.7L148.6 794.6L167.4 802.1"/><path d="M92.2 818.1L111 785.2L129.8 791L148.6 765.7L167.4 761.7"/><path d="M92.2 809.3L111 799.8L129.8 749.5L148.6 718L167.4 746.5"/><path d="M92.2 804.3L111 792.8L129.8 773.2L148.6 773.8L167.4 757.8"/><path d="M92.2 813.1L111 775.6L129.8 739.7L148.6 741.7L167.4 750.3"/><path d="M92.2 815.6L111 802.2L129.8 750.3L148.6 783.1L167.4 747.3"/><path d="M92.2 839.6L111 815.2L129.8 798.4L148.6 767.9L167.4 783.5"/><path d="M92.2 811.2L111 792.1L129.8 752.8L148.6 732.8L167.4 719.4"/></g>
<g fill="#55556a" fill-opacity="0.4" stroke="#55556a" stroke-opacity="0.45" stroke-width="0.7"><circle cx="92.2" cy="815" r="1.9"/><circle cx="111" cy="795.4" r="1.9"/><circle cx="129.8" cy="777.7" r="1.9"/><circle cx="148.6" cy="759.6" r="1.9"/><circle cx="167.4" cy="755.7" r="1.9"/><circle cx="92.2" cy="804.6" r="1.9"/><circle cx="111" cy="821.5" r="1.9"/><circle cx="129.8" cy="738.2" r="1.9"/><circle cx="148.6" cy="741.2" r="1.9"/><circle cx="167.4" cy="746.5" r="1.9"/><circle cx="92.2" cy="824.7" r="1.9"/><circle cx="111" cy="826.8" r="1.9"/><circle cx="129.8" cy="796.7" r="1.9"/><circle cx="148.6" cy="794.6" r="1.9"/><circle cx="167.4" cy="802.1" r="1.9"/><circle cx="92.2" cy="818.1" r="1.9"/><circle cx="111" cy="785.2" r="1.9"/><circle cx="129.8" cy="791" r="1.9"/><circle cx="148.6" cy="765.7" r="1.9"/><circle cx="167.4" cy="761.7" r="1.9"/><circle cx="92.2" cy="809.3" r="1.9"/><circle cx="111" cy="799.8" r="1.9"/><circle cx="129.8" cy="749.5" r="1.9"/><circle cx="148.6" cy="718" r="1.9"/><circle cx="167.4" cy="746.5" r="1.9"/><circle cx="92.2" cy="804.3" r="1.9"/><circle cx="111" cy="792.8" r="1.9"/><circle cx="129.8" cy="773.2" r="1.9"/><circle cx="148.6" cy="773.8" r="1.9"/><circle cx="167.4" cy="757.8" r="1.9"/><circle cx="92.2" cy="813.1" r="1.9"/><circle cx="111" cy="775.6" r="1.9"/><circle cx="129.8" cy="739.7" r="1.9"/><circle cx="148.6" cy="741.7" r="1.9"/><circle cx="167.4" cy="750.3" r="1.9"/><circle cx="92.2" cy="815.6" r="1.9"/><circle cx="111" cy="802.2" r="1.9"/><circle cx="129.8" cy="750.3" r="1.9"/><circle cx="148.6" cy="783.1" r="1.9"/><circle cx="167.4" cy="747.3" r="1.9"/><circle cx="92.2" cy="839.6" r="1.9"/><circle cx="111" cy="815.2" r="1.9"/><circle cx="129.8" cy="798.4" r="1.9"/><circle cx="148.6" cy="767.9" r="1.9"/><circle cx="167.4" cy="783.5" r="1.9"/><circle cx="92.2" cy="811.2" r="1.9"/><circle cx="111" cy="792.1" r="1.9"/><circle cx="129.8" cy="752.8" r="1.9"/><circle cx="148.6" cy="732.8" r="1.9"/><circle cx="167.4" cy="719.4" r="1.9"/></g>
<line x1="92.2" y1="703.9" x2="167.4" y2="703.9" stroke="#1a1a1a" stroke-width="1.2"/>
<text x="129.8" y="700.9" font-size="11.9" text-anchor="middle" class="t">***</text>
<text x="129.8" y="926.6" font-size="12.9" text-anchor="middle" class="t">WT</text>
<text x="129.8" y="940.4" font-size="12.9" text-anchor="middle" class="t">TAT-Cntrl</text>
<rect x="188.6" y="832.3" width="13.2" height="75.2" fill="#f8a042"/>
<rect x="188.6" y="832.3" width="13.2" height="75.2" fill="none" stroke="#f8a042" stroke-width="1.4"/>
<path d="M195.2 831.6V823.9M190.4 823.9H199.9" fill="none" stroke="#f8a042" stroke-width="2"/>
<rect x="207.4" y="810.1" width="13.2" height="97.4" fill="#f8a042"/>
<rect x="207.4" y="810.1" width="13.2" height="97.4" fill="url(#p4)"/>
<rect x="207.4" y="810.1" width="13.2" height="97.4" fill="none" stroke="#f8a042" stroke-width="1.4"/>
<path d="M214 809.4V801.3M209.2 801.3H218.8" fill="none" stroke="#f8a042" stroke-width="2"/>
<rect x="226.2" y="791.1" width="13.2" height="116.4" fill="#f8a042"/>
<rect x="226.2" y="791.1" width="13.2" height="116.4" fill="url(#p5)"/>
<rect x="226.2" y="791.1" width="13.2" height="116.4" fill="none" stroke="#f8a042" stroke-width="1.4"/>
<path d="M232.8 790.4V780.7M228 780.7H237.5" fill="none" stroke="#f8a042" stroke-width="2"/>
<rect x="245" y="780.2" width="13.2" height="127.3" fill="#f8a042"/>
<rect x="245" y="780.2" width="13.2" height="127.3" fill="url(#p6)"/>
<rect x="245" y="780.2" width="13.2" height="127.3" fill="none" stroke="#f8a042" stroke-width="1.4"/>
<path d="M251.6 779.5V771.8M246.8 771.8H256.4" fill="none" stroke="#f8a042" stroke-width="2"/>
<rect x="263.8" y="778.2" width="13.2" height="129.3" fill="#f8a042"/>
<rect x="263.8" y="778.2" width="13.2" height="129.3" fill="url(#p7)"/>
<rect x="263.8" y="778.2" width="13.2" height="129.3" fill="none" stroke="#f8a042" stroke-width="1.4"/>
<path d="M270.4 777.5V765M265.6 765H275.1" fill="none" stroke="#f8a042" stroke-width="2"/>
<g fill="none" stroke="#7f7fd0" stroke-width="1.4" stroke-opacity="0.36" stroke-linejoin="round"><path d="M195.2 822.7L214 808.7L232.8 779.4L251.6 796.6L270.4 778.2"/><path d="M195.2 845.9L214 818.4L232.8 793.2L251.6 783.6L270.4 822.1"/><path d="M195.2 800.2L214 799.4L232.8 769L251.6 779.2L270.4 742.3"/><path d="M195.2 843.4L214 790.6L232.8 781.4L251.6 769.7L270.4 741.8"/><path d="M195.2 834.7L214 801L232.8 771.5L251.6 773.1L270.4 773.8"/><path d="M195.2 847.1L214 828.5L232.8 804L251.6 799.9L270.4 787.5"/><path d="M195.2 837.9L214 816.3L232.8 821.7L251.6 796L270.4 784.5"/></g>
<g fill="#55556a" fill-opacity="0.4" stroke="#55556a" stroke-opacity="0.45" stroke-width="0.7"><circle cx="195.2" cy="822.7" r="1.9"/><circle cx="214" cy="808.7" r="1.9"/><circle cx="232.8" cy="779.4" r="1.9"/><circle cx="251.6" cy="796.6" r="1.9"/><circle cx="270.4" cy="778.2" r="1.9"/><circle cx="195.2" cy="845.9" r="1.9"/><circle cx="214" cy="818.4" r="1.9"/><circle cx="232.8" cy="793.2" r="1.9"/><circle cx="251.6" cy="783.6" r="1.9"/><circle cx="270.4" cy="822.1" r="1.9"/><circle cx="195.2" cy="800.2" r="1.9"/><circle cx="214" cy="799.4" r="1.9"/><circle cx="232.8" cy="769" r="1.9"/><circle cx="251.6" cy="779.2" r="1.9"/><circle cx="270.4" cy="742.3" r="1.9"/><circle cx="195.2" cy="843.4" r="1.9"/><circle cx="214" cy="790.6" r="1.9"/><circle cx="232.8" cy="781.4" r="1.9"/><circle cx="251.6" cy="769.7" r="1.9"/><circle cx="270.4" cy="741.8" r="1.9"/><circle cx="195.2" cy="834.7" r="1.9"/><circle cx="214" cy="801" r="1.9"/><circle cx="232.8" cy="771.5" r="1.9"/><circle cx="251.6" cy="773.1" r="1.9"/><circle cx="270.4" cy="773.8" r="1.9"/><circle cx="195.2" cy="847.1" r="1.9"/><circle cx="214" cy="828.5" r="1.9"/><circle cx="232.8" cy="804" r="1.9"/><circle cx="251.6" cy="799.9" r="1.9"/><circle cx="270.4" cy="787.5" r="1.9"/><circle cx="195.2" cy="837.9" r="1.9"/><circle cx="214" cy="816.3" r="1.9"/><circle cx="232.8" cy="821.7" r="1.9"/><circle cx="251.6" cy="796" r="1.9"/><circle cx="270.4" cy="784.5" r="1.9"/></g>
<line x1="195.2" y1="703.9" x2="270.4" y2="703.9" stroke="#1a1a1a" stroke-width="1.2"/>
<text x="232.8" y="700.9" font-size="11.9" text-anchor="middle" class="t">*</text>
<text x="232.8" y="926.6" font-size="12.9" text-anchor="middle" class="t">WT</text>
<text x="232.8" y="940.4" font-size="12.9" text-anchor="middle" class="t">TAT-GluA2<tspan dy="3.2" font-size="9">3Y</tspan></text>
<rect x="292.1" y="821.7" width="12.3" height="85.8" fill="#fff"/>
<rect x="292.1" y="821.7" width="12.3" height="85.8" fill="none" stroke="#9e9ea2" stroke-width="2"/>
<path d="M298.2 820.7V803.3M293.4 803.3H302.9" fill="none" stroke="#9e9ea2" stroke-width="2"/>
<rect x="310.9" y="801.9" width="12.3" height="105.6" fill="#fff"/>
<rect x="310.9" y="801.9" width="12.3" height="105.6" fill="url(#p8)"/>
<rect x="310.9" y="801.9" width="12.3" height="105.6" fill="none" stroke="#9e9ea2" stroke-width="2"/>
<path d="M317 800.9V784.7M312.2 784.7H321.8" fill="none" stroke="#9e9ea2" stroke-width="2"/>
<rect x="329.7" y="798.7" width="12.3" height="108.8" fill="#fff"/>
<rect x="329.7" y="798.7" width="12.3" height="108.8" fill="url(#p9)"/>
<rect x="329.7" y="798.7" width="12.3" height="108.8" fill="none" stroke="#9e9ea2" stroke-width="2"/>
<path d="M335.8 797.7V781.9M331.1 781.9H340.6" fill="none" stroke="#9e9ea2" stroke-width="2"/>
<rect x="348.5" y="804.7" width="12.3" height="102.8" fill="#fff"/>
<rect x="348.5" y="804.7" width="12.3" height="102.8" fill="url(#p10)"/>
<rect x="348.5" y="804.7" width="12.3" height="102.8" fill="none" stroke="#9e9ea2" stroke-width="2"/>
<path d="M354.6 803.7V782.7M349.9 782.7H359.4" fill="none" stroke="#9e9ea2" stroke-width="2"/>
<rect x="367.2" y="791.4" width="12.3" height="116.1" fill="#fff"/>
<rect x="367.2" y="791.4" width="12.3" height="116.1" fill="url(#p11)"/>
<rect x="367.2" y="791.4" width="12.3" height="116.1" fill="none" stroke="#9e9ea2" stroke-width="2"/>
<path d="M373.4 790.4V772.2M368.6 772.2H378.1" fill="none" stroke="#9e9ea2" stroke-width="2"/>
<g fill="none" stroke="#7f7fd0" stroke-width="1.4" stroke-opacity="0.36" stroke-linejoin="round"><path d="M298.2 817.7L317 825.3L335.8 784.9L354.6 821.2L373.4 775"/><path d="M298.2 824.9L317 759.9L335.8 796.5L354.6 790.1L373.4 751.2"/><path d="M298.2 781.6L317 767.7L335.8 764.6L354.6 787.6L373.4 803.3"/><path d="M298.2 741.3L317 733.7L335.8 757.3L354.6 732.7L373.4 738.2"/><path d="M298.2 877.1L317 831.4L335.8 792.3L354.6 773.4L373.4 832.2"/><path d="M298.2 793.2L317 799.1L335.8 756.1L354.6 749.3L373.4 763.4"/><path d="M298.2 838L317 786.7L335.8 816.3L354.6 761.4L373.4 771.3"/></g>
<g fill="#55556a" fill-opacity="0.4" stroke="#55556a" stroke-opacity="0.45" stroke-width="0.7"><circle cx="298.2" cy="817.7" r="1.9"/><circle cx="317" cy="825.3" r="1.9"/><circle cx="335.8" cy="784.9" r="1.9"/><circle cx="354.6" cy="821.2" r="1.9"/><circle cx="373.4" cy="775" r="1.9"/><circle cx="298.2" cy="824.9" r="1.9"/><circle cx="317" cy="759.9" r="1.9"/><circle cx="335.8" cy="796.5" r="1.9"/><circle cx="354.6" cy="790.1" r="1.9"/><circle cx="373.4" cy="751.2" r="1.9"/><circle cx="298.2" cy="781.6" r="1.9"/><circle cx="317" cy="767.7" r="1.9"/><circle cx="335.8" cy="764.6" r="1.9"/><circle cx="354.6" cy="787.6" r="1.9"/><circle cx="373.4" cy="803.3" r="1.9"/><circle cx="298.2" cy="741.3" r="1.9"/><circle cx="317" cy="733.7" r="1.9"/><circle cx="335.8" cy="757.3" r="1.9"/><circle cx="354.6" cy="732.7" r="1.9"/><circle cx="373.4" cy="738.2" r="1.9"/><circle cx="298.2" cy="877.1" r="1.9"/><circle cx="317" cy="831.4" r="1.9"/><circle cx="335.8" cy="792.3" r="1.9"/><circle cx="354.6" cy="773.4" r="1.9"/><circle cx="373.4" cy="832.2" r="1.9"/><circle cx="298.2" cy="793.2" r="1.9"/><circle cx="317" cy="799.1" r="1.9"/><circle cx="335.8" cy="756.1" r="1.9"/><circle cx="354.6" cy="749.3" r="1.9"/><circle cx="373.4" cy="763.4" r="1.9"/><circle cx="298.2" cy="838" r="1.9"/><circle cx="317" cy="786.7" r="1.9"/><circle cx="335.8" cy="816.3" r="1.9"/><circle cx="354.6" cy="761.4" r="1.9"/><circle cx="373.4" cy="771.3" r="1.9"/></g>
<line x1="298.2" y1="703.9" x2="373.4" y2="703.9" stroke="#1a1a1a" stroke-width="1.2"/>
<text x="335.8" y="698.4" font-size="11.9" text-anchor="middle" class="t">n.s.</text>
<text x="335.8" y="926.6" font-size="12.9" text-anchor="middle" class="t">Tg</text>
<text x="335.8" y="940.4" font-size="12.9" text-anchor="middle" class="t">TAT-Cntrl</text>
<rect x="395.1" y="837.4" width="12.3" height="70.1" fill="#fff"/>
<rect x="395.1" y="837.4" width="12.3" height="70.1" fill="none" stroke="#f8a042" stroke-width="2"/>
<path d="M401.2 836.4V827.5M396.4 827.5H405.9" fill="none" stroke="#f8a042" stroke-width="2"/>
<rect x="413.9" y="818.9" width="12.3" height="88.6" fill="#fff"/>
<rect x="413.9" y="818.9" width="12.3" height="88.6" fill="url(#p12)"/>
<rect x="413.9" y="818.9" width="12.3" height="88.6" fill="none" stroke="#f8a042" stroke-width="2"/>
<path d="M420 817.9V813.4M415.2 813.4H424.8" fill="none" stroke="#f8a042" stroke-width="2"/>
<rect x="432.7" y="798.7" width="12.3" height="108.8" fill="#fff"/>
<rect x="432.7" y="798.7" width="12.3" height="108.8" fill="url(#p13)"/>
<rect x="432.7" y="798.7" width="12.3" height="108.8" fill="none" stroke="#f8a042" stroke-width="2"/>
<path d="M438.8 797.7V787.2M434.1 787.2H443.6" fill="none" stroke="#f8a042" stroke-width="2"/>
<rect x="451.5" y="789" width="12.3" height="118.5" fill="#fff"/>
<rect x="451.5" y="789" width="12.3" height="118.5" fill="url(#p14)"/>
<rect x="451.5" y="789" width="12.3" height="118.5" fill="none" stroke="#f8a042" stroke-width="2"/>
<path d="M457.6 788V777.9M452.9 777.9H462.4" fill="none" stroke="#f8a042" stroke-width="2"/>
<rect x="470.2" y="789.8" width="12.3" height="117.7" fill="#fff"/>
<rect x="470.2" y="789.8" width="12.3" height="117.7" fill="url(#p15)"/>
<rect x="470.2" y="789.8" width="12.3" height="117.7" fill="none" stroke="#f8a042" stroke-width="2"/>
<path d="M476.4 788.8V774.2M471.6 774.2H481.1" fill="none" stroke="#f8a042" stroke-width="2"/>
<g fill="none" stroke="#7f7fd0" stroke-width="1.4" stroke-opacity="0.36" stroke-linejoin="round"><path d="M401.2 804.6L420 799.5L438.8 797.8L457.6 764.9L476.4 772"/><path d="M401.2 862.1L420 822.6L438.8 820L457.6 787.1L476.4 777.1"/><path d="M401.2 843.8L420 814L438.8 778.6L457.6 763.2L476.4 778.3"/><path d="M401.2 839L420 816.3L438.8 797.2L457.6 769.4L476.4 752.2"/><path d="M401.2 836.4L420 816L438.8 807.4L457.6 806.5L476.4 812.2"/><path d="M401.2 836.6L420 825.8L438.8 799L457.6 792.9L476.4 805.1"/><path d="M401.2 831.3L420 805.9L438.8 765.5L457.6 775.7L476.4 794.8"/></g>
<g fill="#55556a" fill-opacity="0.4" stroke="#55556a" stroke-opacity="0.45" stroke-width="0.7"><circle cx="401.2" cy="804.6" r="1.9"/><circle cx="420" cy="799.5" r="1.9"/><circle cx="438.8" cy="797.8" r="1.9"/><circle cx="457.6" cy="764.9" r="1.9"/><circle cx="476.4" cy="772" r="1.9"/><circle cx="401.2" cy="862.1" r="1.9"/><circle cx="420" cy="822.6" r="1.9"/><circle cx="438.8" cy="820" r="1.9"/><circle cx="457.6" cy="787.1" r="1.9"/><circle cx="476.4" cy="777.1" r="1.9"/><circle cx="401.2" cy="843.8" r="1.9"/><circle cx="420" cy="814" r="1.9"/><circle cx="438.8" cy="778.6" r="1.9"/><circle cx="457.6" cy="763.2" r="1.9"/><circle cx="476.4" cy="778.3" r="1.9"/><circle cx="401.2" cy="839" r="1.9"/><circle cx="420" cy="816.3" r="1.9"/><circle cx="438.8" cy="797.2" r="1.9"/><circle cx="457.6" cy="769.4" r="1.9"/><circle cx="476.4" cy="752.2" r="1.9"/><circle cx="401.2" cy="836.4" r="1.9"/><circle cx="420" cy="816" r="1.9"/><circle cx="438.8" cy="807.4" r="1.9"/><circle cx="457.6" cy="806.5" r="1.9"/><circle cx="476.4" cy="812.2" r="1.9"/><circle cx="401.2" cy="836.6" r="1.9"/><circle cx="420" cy="825.8" r="1.9"/><circle cx="438.8" cy="799" r="1.9"/><circle cx="457.6" cy="792.9" r="1.9"/><circle cx="476.4" cy="805.1" r="1.9"/><circle cx="401.2" cy="831.3" r="1.9"/><circle cx="420" cy="805.9" r="1.9"/><circle cx="438.8" cy="765.5" r="1.9"/><circle cx="457.6" cy="775.7" r="1.9"/><circle cx="476.4" cy="794.8" r="1.9"/></g>
<line x1="401.2" y1="703.9" x2="476.4" y2="703.9" stroke="#1a1a1a" stroke-width="1.2"/>
<text x="438.8" y="700.9" font-size="11.9" text-anchor="middle" class="t">*</text>
<text x="438.8" y="926.6" font-size="12.9" text-anchor="middle" class="t">Tg</text>
<text x="438.8" y="940.4" font-size="12.9" text-anchor="middle" class="t">TAT-GluA2<tspan dy="3.2" font-size="9">3Y</tspan></text>
<line x1="77.3" y1="685.2" x2="77.3" y2="918" stroke="#333333" stroke-width="1.4"/>
<line x1="76.6" y1="907.5" x2="490" y2="907.5" stroke="#333333" stroke-width="1.4"/>
<text x="778.5" y="679.4" font-size="12.4" text-anchor="middle" class="t">1000 freezing frames</text>
<text x="566.9" y="911.9" font-size="12.4" text-anchor="end" class="t">0.5</text>
<text x="566.9" y="871.6" font-size="12.4" text-anchor="end" class="t">0.6</text>
<text x="566.9" y="831.2" font-size="12.4" text-anchor="end" class="t">0.7</text>
<text x="566.9" y="790.8" font-size="12.4" text-anchor="end" class="t">0.8</text>
<text x="566.9" y="750.4" font-size="12.4" text-anchor="end" class="t">0.9</text>
<text x="566.9" y="710" font-size="12.4" text-anchor="end" class="t">1.0</text>
<text x="542.5" y="801.5" font-size="12.4" text-anchor="middle" transform="rotate(-90 542.5 801.5)" class="t">Balanced accuracy</text>
<rect x="581.2" y="817.7" width="13.2" height="89.8" fill="#9e9ea2"/>
<rect x="581.2" y="817.7" width="13.2" height="89.8" fill="none" stroke="#9e9ea2" stroke-width="1.4"/>
<path d="M587.8 817V813.4M583 813.4H592.5" fill="none" stroke="#9e9ea2" stroke-width="2"/>
<rect x="600" y="802.8" width="13.2" height="104.7" fill="#9e9ea2"/>
<rect x="600" y="802.8" width="13.2" height="104.7" fill="url(#p0)"/>
<rect x="600" y="802.8" width="13.2" height="104.7" fill="none" stroke="#9e9ea2" stroke-width="1.4"/>
<path d="M606.6 802.1V793.6M601.8 793.6H611.3" fill="none" stroke="#9e9ea2" stroke-width="2"/>
<rect x="618.8" y="780.2" width="13.2" height="127.3" fill="#9e9ea2"/>
<rect x="618.8" y="780.2" width="13.2" height="127.3" fill="url(#p1)"/>
<rect x="618.8" y="780.2" width="13.2" height="127.3" fill="none" stroke="#9e9ea2" stroke-width="1.4"/>
<path d="M625.4 779.5V770.2M620.6 770.2H630.1" fill="none" stroke="#9e9ea2" stroke-width="2"/>
<rect x="637.6" y="758" width="13.2" height="149.5" fill="#9e9ea2"/>
<rect x="637.6" y="758" width="13.2" height="149.5" fill="url(#p2)"/>
<rect x="637.6" y="758" width="13.2" height="149.5" fill="none" stroke="#9e9ea2" stroke-width="1.4"/>
<path d="M644.2 757.3V750M639.4 750H648.9" fill="none" stroke="#9e9ea2" stroke-width="2"/>
<rect x="656.4" y="747.9" width="13.2" height="159.6" fill="#9e9ea2"/>
<rect x="656.4" y="747.9" width="13.2" height="159.6" fill="url(#p3)"/>
<rect x="656.4" y="747.9" width="13.2" height="159.6" fill="none" stroke="#9e9ea2" stroke-width="1.4"/>
<path d="M663 747.2V739.1M658.2 739.1H667.8" fill="none" stroke="#9e9ea2" stroke-width="2"/>
<g fill="none" stroke="#7f7fd0" stroke-width="1.4" stroke-opacity="0.36" stroke-linejoin="round"><path d="M587.8 807.8L606.6 777.7L625.4 776.5L644.2 769L663 737.3"/><path d="M587.8 814.2L606.6 788.2L625.4 772.1L644.2 733.6L663 754.2"/><path d="M587.8 810.3L606.6 787.6L625.4 764.6L644.2 739.7L663 736.3"/><path d="M587.8 813L606.6 792.8L625.4 786.8L644.2 755.3L663 741.9"/><path d="M587.8 830.4L606.6 834.7L625.4 823.2L644.2 798.4L663 796.5"/><path d="M587.8 806.2L606.6 785.2L625.4 758.7L644.2 754.4L663 761.2"/><path d="M587.8 815.1L606.6 794.2L625.4 761L644.2 734.9L663 716.5"/><path d="M587.8 820L606.6 790L625.4 765.5L644.2 771.9L663 754"/><path d="M587.8 796.1L606.6 749.3L625.4 726.3L644.2 719.6L663 713.4"/><path d="M587.8 824.2L606.6 786.5L625.4 782L644.2 746.1L663 744.4"/></g>
<g fill="#55556a" fill-opacity="0.4" stroke="#55556a" stroke-opacity="0.45" stroke-width="0.7"><circle cx="587.8" cy="807.8" r="1.9"/><circle cx="606.6" cy="777.7" r="1.9"/><circle cx="625.4" cy="776.5" r="1.9"/><circle cx="644.2" cy="769" r="1.9"/><circle cx="663" cy="737.3" r="1.9"/><circle cx="587.8" cy="814.2" r="1.9"/><circle cx="606.6" cy="788.2" r="1.9"/><circle cx="625.4" cy="772.1" r="1.9"/><circle cx="644.2" cy="733.6" r="1.9"/><circle cx="663" cy="754.2" r="1.9"/><circle cx="587.8" cy="810.3" r="1.9"/><circle cx="606.6" cy="787.6" r="1.9"/><circle cx="625.4" cy="764.6" r="1.9"/><circle cx="644.2" cy="739.7" r="1.9"/><circle cx="663" cy="736.3" r="1.9"/><circle cx="587.8" cy="813" r="1.9"/><circle cx="606.6" cy="792.8" r="1.9"/><circle cx="625.4" cy="786.8" r="1.9"/><circle cx="644.2" cy="755.3" r="1.9"/><circle cx="663" cy="741.9" r="1.9"/><circle cx="587.8" cy="830.4" r="1.9"/><circle cx="606.6" cy="834.7" r="1.9"/><circle cx="625.4" cy="823.2" r="1.9"/><circle cx="644.2" cy="798.4" r="1.9"/><circle cx="663" cy="796.5" r="1.9"/><circle cx="587.8" cy="806.2" r="1.9"/><circle cx="606.6" cy="785.2" r="1.9"/><circle cx="625.4" cy="758.7" r="1.9"/><circle cx="644.2" cy="754.4" r="1.9"/><circle cx="663" cy="761.2" r="1.9"/><circle cx="587.8" cy="815.1" r="1.9"/><circle cx="606.6" cy="794.2" r="1.9"/><circle cx="625.4" cy="761" r="1.9"/><circle cx="644.2" cy="734.9" r="1.9"/><circle cx="663" cy="716.5" r="1.9"/><circle cx="587.8" cy="820" r="1.9"/><circle cx="606.6" cy="790" r="1.9"/><circle cx="625.4" cy="765.5" r="1.9"/><circle cx="644.2" cy="771.9" r="1.9"/><circle cx="663" cy="754" r="1.9"/><circle cx="587.8" cy="796.1" r="1.9"/><circle cx="606.6" cy="749.3" r="1.9"/><circle cx="625.4" cy="726.3" r="1.9"/><circle cx="644.2" cy="719.6" r="1.9"/><circle cx="663" cy="713.4" r="1.9"/><circle cx="587.8" cy="824.2" r="1.9"/><circle cx="606.6" cy="786.5" r="1.9"/><circle cx="625.4" cy="782" r="1.9"/><circle cx="644.2" cy="746.1" r="1.9"/><circle cx="663" cy="744.4" r="1.9"/></g>
<line x1="587.8" y1="706.8" x2="663" y2="706.8" stroke="#1a1a1a" stroke-width="1.2"/>
<text x="625.4" y="703.8" font-size="11.9" text-anchor="middle" class="t">***</text>
<text x="625.4" y="926.6" font-size="12.9" text-anchor="middle" class="t">WT</text>
<text x="625.4" y="940.4" font-size="12.9" text-anchor="middle" class="t">TAT-Cntrl</text>
<rect x="684.2" y="829.9" width="13.2" height="77.6" fill="#f8a042"/>
<rect x="684.2" y="829.9" width="13.2" height="77.6" fill="none" stroke="#f8a042" stroke-width="1.4"/>
<path d="M690.8 829.2V819.9M686 819.9H695.5" fill="none" stroke="#f8a042" stroke-width="2"/>
<rect x="703" y="806.8" width="13.2" height="100.7" fill="#f8a042"/>
<rect x="703" y="806.8" width="13.2" height="100.7" fill="url(#p4)"/>
<rect x="703" y="806.8" width="13.2" height="100.7" fill="none" stroke="#f8a042" stroke-width="1.4"/>
<path d="M709.6 806.1V798.5M704.8 798.5H714.3" fill="none" stroke="#f8a042" stroke-width="2"/>
<rect x="721.8" y="788.3" width="13.2" height="119.2" fill="#f8a042"/>
<rect x="721.8" y="788.3" width="13.2" height="119.2" fill="url(#p5)"/>
<rect x="721.8" y="788.3" width="13.2" height="119.2" fill="none" stroke="#f8a042" stroke-width="1.4"/>
<path d="M728.4 787.6V777.1M723.6 777.1H733.1" fill="none" stroke="#f8a042" stroke-width="2"/>
<rect x="740.6" y="772.1" width="13.2" height="135.4" fill="#f8a042"/>
<rect x="740.6" y="772.1" width="13.2" height="135.4" fill="url(#p6)"/>
<rect x="740.6" y="772.1" width="13.2" height="135.4" fill="none" stroke="#f8a042" stroke-width="1.4"/>
<path d="M747.2 771.4V759.7M742.4 759.7H751.9" fill="none" stroke="#f8a042" stroke-width="2"/>
<rect x="759.4" y="772.1" width="13.2" height="135.4" fill="#f8a042"/>
<rect x="759.4" y="772.1" width="13.2" height="135.4" fill="url(#p7)"/>
<rect x="759.4" y="772.1" width="13.2" height="135.4" fill="none" stroke="#f8a042" stroke-width="1.4"/>
<path d="M766 771.4V756.1M761.2 756.1H770.8" fill="none" stroke="#f8a042" stroke-width="2"/>
<g fill="none" stroke="#7f7fd0" stroke-width="1.4" stroke-opacity="0.36" stroke-linejoin="round"><path d="M690.8 851.8L709.6 813.6L728.4 788.2L747.2 766.4L766 780.9"/><path d="M690.8 828.4L709.6 805.2L728.4 768.5L747.2 756L766 784.8"/><path d="M690.8 833.8L709.6 794.2L728.4 788.2L747.2 729.3L766 775.4"/><path d="M690.8 847.9L709.6 796L728.4 794.6L747.2 802.8L766 781.2"/><path d="M690.8 862.6L709.6 825.6L728.4 791.6L747.2 781.2L766 768.6"/><path d="M690.8 833.4L709.6 825.4L728.4 766.7L747.2 772.3L766 765.8"/><path d="M690.8 803.1L709.6 800.5L728.4 766.4L747.2 728.4L766 746.6"/></g>
<g fill="#55556a" fill-opacity="0.4" stroke="#55556a" stroke-opacity="0.45" stroke-width="0.7"><circle cx="690.8" cy="851.8" r="1.9"/><circle cx="709.6" cy="813.6" r="1.9"/><circle cx="728.4" cy="788.2" r="1.9"/><circle cx="747.2" cy="766.4" r="1.9"/><circle cx="766" cy="780.9" r="1.9"/><circle cx="690.8" cy="828.4" r="1.9"/><circle cx="709.6" cy="805.2" r="1.9"/><circle cx="728.4" cy="768.5" r="1.9"/><circle cx="747.2" cy="756" r="1.9"/><circle cx="766" cy="784.8" r="1.9"/><circle cx="690.8" cy="833.8" r="1.9"/><circle cx="709.6" cy="794.2" r="1.9"/><circle cx="728.4" cy="788.2" r="1.9"/><circle cx="747.2" cy="729.3" r="1.9"/><circle cx="766" cy="775.4" r="1.9"/><circle cx="690.8" cy="847.9" r="1.9"/><circle cx="709.6" cy="796" r="1.9"/><circle cx="728.4" cy="794.6" r="1.9"/><circle cx="747.2" cy="802.8" r="1.9"/><circle cx="766" cy="781.2" r="1.9"/><circle cx="690.8" cy="862.6" r="1.9"/><circle cx="709.6" cy="825.6" r="1.9"/><circle cx="728.4" cy="791.6" r="1.9"/><circle cx="747.2" cy="781.2" r="1.9"/><circle cx="766" cy="768.6" r="1.9"/><circle cx="690.8" cy="833.4" r="1.9"/><circle cx="709.6" cy="825.4" r="1.9"/><circle cx="728.4" cy="766.7" r="1.9"/><circle cx="747.2" cy="772.3" r="1.9"/><circle cx="766" cy="765.8" r="1.9"/><circle cx="690.8" cy="803.1" r="1.9"/><circle cx="709.6" cy="800.5" r="1.9"/><circle cx="728.4" cy="766.4" r="1.9"/><circle cx="747.2" cy="728.4" r="1.9"/><circle cx="766" cy="746.6" r="1.9"/></g>
<line x1="690.8" y1="706.8" x2="766" y2="706.8" stroke="#1a1a1a" stroke-width="1.2"/>
<text x="728.4" y="703.8" font-size="11.9" text-anchor="middle" class="t">*</text>
<text x="728.4" y="926.6" font-size="12.9" text-anchor="middle" class="t">WT</text>
<text x="728.4" y="940.4" font-size="12.9" text-anchor="middle" class="t">TAT-GluA2<tspan dy="3.2" font-size="9">3Y</tspan></text>
<rect x="787.6" y="841.5" width="12.3" height="66" fill="#fff"/>
<rect x="787.6" y="841.5" width="12.3" height="66" fill="none" stroke="#9e9ea2" stroke-width="2"/>
<path d="M793.8 840.5V825.1M789 825.1H798.5" fill="none" stroke="#9e9ea2" stroke-width="2"/>
<rect x="806.4" y="829.8" width="12.3" height="77.7" fill="#fff"/>
<rect x="806.4" y="829.8" width="12.3" height="77.7" fill="url(#p8)"/>
<rect x="806.4" y="829.8" width="12.3" height="77.7" fill="none" stroke="#9e9ea2" stroke-width="2"/>
<path d="M812.6 828.8V822.3M807.8 822.3H817.3" fill="none" stroke="#9e9ea2" stroke-width="2"/>
<rect x="825.2" y="812" width="12.3" height="95.5" fill="#fff"/>
<rect x="825.2" y="812" width="12.3" height="95.5" fill="url(#p9)"/>
<rect x="825.2" y="812" width="12.3" height="95.5" fill="none" stroke="#9e9ea2" stroke-width="2"/>
<path d="M831.4 811V794M826.6 794H836.1" fill="none" stroke="#9e9ea2" stroke-width="2"/>
<rect x="844" y="797.1" width="12.3" height="110.4" fill="#fff"/>
<rect x="844" y="797.1" width="12.3" height="110.4" fill="url(#p10)"/>
<rect x="844" y="797.1" width="12.3" height="110.4" fill="none" stroke="#9e9ea2" stroke-width="2"/>
<path d="M850.2 796.1V780.7M845.4 780.7H854.9" fill="none" stroke="#9e9ea2" stroke-width="2"/>
<rect x="862.9" y="800.7" width="12.3" height="106.8" fill="#fff"/>
<rect x="862.9" y="800.7" width="12.3" height="106.8" fill="url(#p11)"/>
<rect x="862.9" y="800.7" width="12.3" height="106.8" fill="none" stroke="#9e9ea2" stroke-width="2"/>
<path d="M869 799.7V777.1M864.2 777.1H873.8" fill="none" stroke="#9e9ea2" stroke-width="2"/>
<g fill="none" stroke="#7f7fd0" stroke-width="1.4" stroke-opacity="0.36" stroke-linejoin="round"><path d="M793.8 796.3L812.6 808.3L831.4 794.6L850.2 779.1L869 740.4"/><path d="M793.8 861.7L812.6 840.7L831.4 870.9L850.2 812.3L869 867.2"/><path d="M793.8 811.2L812.6 826.5L831.4 801.4L850.2 752.5L869 783.9"/><path d="M793.8 854.9L812.6 820.4L831.4 802.8L850.2 774.4L869 743.4"/><path d="M793.8 907.5L812.6 863.1L831.4 873.5L850.2 860.5L869 882.2"/><path d="M793.8 878.8L812.6 838.9L831.4 839.4L850.2 836.9L869 841.6"/><path d="M793.8 808.4L812.6 818.6L831.4 781.9L850.2 778.7L869 766.5"/></g>
<g fill="#55556a" fill-opacity="0.4" stroke="#55556a" stroke-opacity="0.45" stroke-width="0.7"><circle cx="793.8" cy="796.3" r="1.9"/><circle cx="812.6" cy="808.3" r="1.9"/><circle cx="831.4" cy="794.6" r="1.9"/><circle cx="850.2" cy="779.1" r="1.9"/><circle cx="869" cy="740.4" r="1.9"/><circle cx="793.8" cy="861.7" r="1.9"/><circle cx="812.6" cy="840.7" r="1.9"/><circle cx="831.4" cy="870.9" r="1.9"/><circle cx="850.2" cy="812.3" r="1.9"/><circle cx="869" cy="867.2" r="1.9"/><circle cx="793.8" cy="811.2" r="1.9"/><circle cx="812.6" cy="826.5" r="1.9"/><circle cx="831.4" cy="801.4" r="1.9"/><circle cx="850.2" cy="752.5" r="1.9"/><circle cx="869" cy="783.9" r="1.9"/><circle cx="793.8" cy="854.9" r="1.9"/><circle cx="812.6" cy="820.4" r="1.9"/><circle cx="831.4" cy="802.8" r="1.9"/><circle cx="850.2" cy="774.4" r="1.9"/><circle cx="869" cy="743.4" r="1.9"/><circle cx="793.8" cy="907.5" r="1.9"/><circle cx="812.6" cy="863.1" r="1.9"/><circle cx="831.4" cy="873.5" r="1.9"/><circle cx="850.2" cy="860.5" r="1.9"/><circle cx="869" cy="882.2" r="1.9"/><circle cx="793.8" cy="878.8" r="1.9"/><circle cx="812.6" cy="838.9" r="1.9"/><circle cx="831.4" cy="839.4" r="1.9"/><circle cx="850.2" cy="836.9" r="1.9"/><circle cx="869" cy="841.6" r="1.9"/><circle cx="793.8" cy="808.4" r="1.9"/><circle cx="812.6" cy="818.6" r="1.9"/><circle cx="831.4" cy="781.9" r="1.9"/><circle cx="850.2" cy="778.7" r="1.9"/><circle cx="869" cy="766.5" r="1.9"/></g>
<line x1="793.8" y1="706.8" x2="869" y2="706.8" stroke="#1a1a1a" stroke-width="1.2"/>
<text x="831.4" y="701.3" font-size="11.9" text-anchor="middle" class="t">n.s.</text>
<text x="831.4" y="926.6" font-size="12.9" text-anchor="middle" class="t">Tg</text>
<text x="831.4" y="940.4" font-size="12.9" text-anchor="middle" class="t">TAT-Cntrl</text>
<rect x="890.6" y="830.2" width="12.3" height="77.3" fill="#fff"/>
<rect x="890.6" y="830.2" width="12.3" height="77.3" fill="none" stroke="#f8a042" stroke-width="2"/>
<path d="M896.8 829.2V820.3M892 820.3H901.5" fill="none" stroke="#f8a042" stroke-width="2"/>
<rect x="909.4" y="818.5" width="12.3" height="89" fill="#fff"/>
<rect x="909.4" y="818.5" width="12.3" height="89" fill="url(#p12)"/>
<rect x="909.4" y="818.5" width="12.3" height="89" fill="none" stroke="#f8a042" stroke-width="2"/>
<path d="M915.6 817.5V813.4M910.8 813.4H920.3" fill="none" stroke="#f8a042" stroke-width="2"/>
<rect x="928.2" y="795.4" width="12.3" height="112.1" fill="#fff"/>
<rect x="928.2" y="795.4" width="12.3" height="112.1" fill="url(#p13)"/>
<rect x="928.2" y="795.4" width="12.3" height="112.1" fill="none" stroke="#f8a042" stroke-width="2"/>
<path d="M934.4 794.4V784.7M929.6 784.7H939.1" fill="none" stroke="#f8a042" stroke-width="2"/>
<rect x="947" y="779.7" width="12.3" height="127.8" fill="#fff"/>
<rect x="947" y="779.7" width="12.3" height="127.8" fill="url(#p14)"/>
<rect x="947" y="779.7" width="12.3" height="127.8" fill="none" stroke="#f8a042" stroke-width="2"/>
<path d="M953.2 778.7V767.4M948.4 767.4H957.9" fill="none" stroke="#f8a042" stroke-width="2"/>
<rect x="965.9" y="780.9" width="12.3" height="126.6" fill="#fff"/>
<rect x="965.9" y="780.9" width="12.3" height="126.6" fill="url(#p15)"/>
<rect x="965.9" y="780.9" width="12.3" height="126.6" fill="none" stroke="#f8a042" stroke-width="2"/>
<path d="M972 779.9V762.9M967.2 762.9H976.8" fill="none" stroke="#f8a042" stroke-width="2"/>
<g fill="none" stroke="#7f7fd0" stroke-width="1.4" stroke-opacity="0.36" stroke-linejoin="round"><path d="M896.8 833.2L915.6 796.1L934.4 778.8L953.2 756.5L972 730.6"/><path d="M896.8 820.2L915.6 813.7L934.4 794L953.2 772.3L972 765.4"/><path d="M896.8 823L915.6 805.2L934.4 788.2L953.2 761.7L972 761.9"/><path d="M896.8 816.9L915.6 818.1L934.4 783.5L953.2 751.4L972 814.7"/><path d="M896.8 827.7L915.6 833.3L934.4 785.5L953.2 788L972 822.2"/><path d="M896.8 805.6L915.6 799.9L934.4 786.2L953.2 762.7L972 759.6"/><path d="M896.8 868.9L915.6 824.8L934.4 812.7L953.2 838.3L972 822.9"/></g>
<g fill="#55556a" fill-opacity="0.4" stroke="#55556a" stroke-opacity="0.45" stroke-width="0.7"><circle cx="896.8" cy="833.2" r="1.9"/><circle cx="915.6" cy="796.1" r="1.9"/><circle cx="934.4" cy="778.8" r="1.9"/><circle cx="953.2" cy="756.5" r="1.9"/><circle cx="972" cy="730.6" r="1.9"/><circle cx="896.8" cy="820.2" r="1.9"/><circle cx="915.6" cy="813.7" r="1.9"/><circle cx="934.4" cy="794" r="1.9"/><circle cx="953.2" cy="772.3" r="1.9"/><circle cx="972" cy="765.4" r="1.9"/><circle cx="896.8" cy="823" r="1.9"/><circle cx="915.6" cy="805.2" r="1.9"/><circle cx="934.4" cy="788.2" r="1.9"/><circle cx="953.2" cy="761.7" r="1.9"/><circle cx="972" cy="761.9" r="1.9"/><circle cx="896.8" cy="816.9" r="1.9"/><circle cx="915.6" cy="818.1" r="1.9"/><circle cx="934.4" cy="783.5" r="1.9"/><circle cx="953.2" cy="751.4" r="1.9"/><circle cx="972" cy="814.7" r="1.9"/><circle cx="896.8" cy="827.7" r="1.9"/><circle cx="915.6" cy="833.3" r="1.9"/><circle cx="934.4" cy="785.5" r="1.9"/><circle cx="953.2" cy="788" r="1.9"/><circle cx="972" cy="822.2" r="1.9"/><circle cx="896.8" cy="805.6" r="1.9"/><circle cx="915.6" cy="799.9" r="1.9"/><circle cx="934.4" cy="786.2" r="1.9"/><circle cx="953.2" cy="762.7" r="1.9"/><circle cx="972" cy="759.6" r="1.9"/><circle cx="896.8" cy="868.9" r="1.9"/><circle cx="915.6" cy="824.8" r="1.9"/><circle cx="934.4" cy="812.7" r="1.9"/><circle cx="953.2" cy="838.3" r="1.9"/><circle cx="972" cy="822.9" r="1.9"/></g>
<line x1="896.8" y1="706.8" x2="972" y2="706.8" stroke="#1a1a1a" stroke-width="1.2"/>
<text x="934.4" y="703.8" font-size="11.9" text-anchor="middle" class="t">*</text>
<text x="934.4" y="926.6" font-size="12.9" text-anchor="middle" class="t">Tg</text>
<text x="934.4" y="940.4" font-size="12.9" text-anchor="middle" class="t">TAT-GluA2<tspan dy="3.2" font-size="9">3Y</tspan></text>
<line x1="572.1" y1="685.2" x2="572.1" y2="918" stroke="#333333" stroke-width="1.4"/>
<line x1="571.4" y1="907.5" x2="984.8" y2="907.5" stroke="#333333" stroke-width="1.4"/>
<text x="1273.5" y="679.4" font-size="12.4" text-anchor="middle" class="t">All frames</text>
<text x="1061.9" y="911.9" font-size="12.4" text-anchor="end" class="t">0.5</text>
<text x="1061.9" y="871.6" font-size="12.4" text-anchor="end" class="t">0.6</text>
<text x="1061.9" y="831.2" font-size="12.4" text-anchor="end" class="t">0.7</text>
<text x="1061.9" y="790.8" font-size="12.4" text-anchor="end" class="t">0.8</text>
<text x="1061.9" y="750.4" font-size="12.4" text-anchor="end" class="t">0.9</text>
<text x="1061.9" y="710" font-size="12.4" text-anchor="end" class="t">1.0</text>
<text x="1037.5" y="801.5" font-size="12.4" text-anchor="middle" transform="rotate(-90 1037.5 801.5)" class="t">Balanced accuracy</text>
<rect x="1076.2" y="830.3" width="13.2" height="77.2" fill="#9e9ea2"/>
<rect x="1076.2" y="830.3" width="13.2" height="77.2" fill="none" stroke="#9e9ea2" stroke-width="1.4"/>
<path d="M1082.8 829.6V823.3M1078 823.3H1087.5" fill="none" stroke="#9e9ea2" stroke-width="2"/>
<rect x="1095" y="801.6" width="13.2" height="105.9" fill="#9e9ea2"/>
<rect x="1095" y="801.6" width="13.2" height="105.9" fill="url(#p0)"/>
<rect x="1095" y="801.6" width="13.2" height="105.9" fill="none" stroke="#9e9ea2" stroke-width="1.4"/>
<path d="M1101.6 800.9V793.8M1096.8 793.8H1106.3" fill="none" stroke="#9e9ea2" stroke-width="2"/>
<rect x="1113.8" y="778.6" width="13.2" height="128.9" fill="#9e9ea2"/>
<rect x="1113.8" y="778.6" width="13.2" height="128.9" fill="url(#p1)"/>
<rect x="1113.8" y="778.6" width="13.2" height="128.9" fill="none" stroke="#9e9ea2" stroke-width="1.4"/>
<path d="M1120.4 777.9V767.5M1115.6 767.5H1125.1" fill="none" stroke="#9e9ea2" stroke-width="2"/>
<rect x="1132.6" y="738.2" width="13.2" height="169.3" fill="#9e9ea2"/>
<rect x="1132.6" y="738.2" width="13.2" height="169.3" fill="url(#p2)"/>
<rect x="1132.6" y="738.2" width="13.2" height="169.3" fill="none" stroke="#9e9ea2" stroke-width="1.4"/>
<path d="M1139.2 737.5V731.1M1134.5 731.1H1144" fill="none" stroke="#9e9ea2" stroke-width="2"/>
<rect x="1151.4" y="730.1" width="13.2" height="177.4" fill="#9e9ea2"/>
<rect x="1151.4" y="730.1" width="13.2" height="177.4" fill="url(#p3)"/>
<rect x="1151.4" y="730.1" width="13.2" height="177.4" fill="none" stroke="#9e9ea2" stroke-width="1.4"/>
<path d="M1158 729.4V723.8M1153.2 723.8H1162.8" fill="none" stroke="#9e9ea2" stroke-width="2"/>
<g fill="none" stroke="#7f7fd0" stroke-width="1.4" stroke-opacity="0.36" stroke-linejoin="round"><path d="M1082.8 853.7L1101.6 824.3L1120.4 784.8L1139.2 750.4L1158 734"/><path d="M1082.8 815L1101.6 766.7L1120.4 757.7L1139.2 723.4L1158 717.6"/><path d="M1082.8 845.8L1101.6 844.7L1120.4 827L1139.2 754.5L1158 752.6"/><path d="M1082.8 834.6L1101.6 800.5L1120.4 765L1139.2 740.9L1158 721.1"/><path d="M1082.8 797.2L1101.6 774.1L1120.4 734.2L1139.2 713.9L1158 713.3"/><path d="M1082.8 808.9L1101.6 802.9L1120.4 763.3L1139.2 731.4L1158 719.7"/><path d="M1082.8 832.9L1101.6 785.6L1120.4 773.8L1139.2 724.3L1158 737.1"/><path d="M1082.8 834.1L1101.6 818.6L1120.4 798.2L1139.2 748.1L1158 732.3"/><path d="M1082.8 832.2L1101.6 800.9L1120.4 796.2L1139.2 743.8L1158 744"/><path d="M1082.8 852.5L1101.6 816.6L1120.4 761.9L1139.2 734.9L1158 738.9"/></g>
<g fill="#55556a" fill-opacity="0.4" stroke="#55556a" stroke-opacity="0.45" stroke-width="0.7"><circle cx="1082.8" cy="853.7" r="1.9"/><circle cx="1101.6" cy="824.3" r="1.9"/><circle cx="1120.4" cy="784.8" r="1.9"/><circle cx="1139.2" cy="750.4" r="1.9"/><circle cx="1158" cy="734" r="1.9"/><circle cx="1082.8" cy="815" r="1.9"/><circle cx="1101.6" cy="766.7" r="1.9"/><circle cx="1120.4" cy="757.7" r="1.9"/><circle cx="1139.2" cy="723.4" r="1.9"/><circle cx="1158" cy="717.6" r="1.9"/><circle cx="1082.8" cy="845.8" r="1.9"/><circle cx="1101.6" cy="844.7" r="1.9"/><circle cx="1120.4" cy="827" r="1.9"/><circle cx="1139.2" cy="754.5" r="1.9"/><circle cx="1158" cy="752.6" r="1.9"/><circle cx="1082.8" cy="834.6" r="1.9"/><circle cx="1101.6" cy="800.5" r="1.9"/><circle cx="1120.4" cy="765" r="1.9"/><circle cx="1139.2" cy="740.9" r="1.9"/><circle cx="1158" cy="721.1" r="1.9"/><circle cx="1082.8" cy="797.2" r="1.9"/><circle cx="1101.6" cy="774.1" r="1.9"/><circle cx="1120.4" cy="734.2" r="1.9"/><circle cx="1139.2" cy="713.9" r="1.9"/><circle cx="1158" cy="713.3" r="1.9"/><circle cx="1082.8" cy="808.9" r="1.9"/><circle cx="1101.6" cy="802.9" r="1.9"/><circle cx="1120.4" cy="763.3" r="1.9"/><circle cx="1139.2" cy="731.4" r="1.9"/><circle cx="1158" cy="719.7" r="1.9"/><circle cx="1082.8" cy="832.9" r="1.9"/><circle cx="1101.6" cy="785.6" r="1.9"/><circle cx="1120.4" cy="773.8" r="1.9"/><circle cx="1139.2" cy="724.3" r="1.9"/><circle cx="1158" cy="737.1" r="1.9"/><circle cx="1082.8" cy="834.1" r="1.9"/><circle cx="1101.6" cy="818.6" r="1.9"/><circle cx="1120.4" cy="798.2" r="1.9"/><circle cx="1139.2" cy="748.1" r="1.9"/><circle cx="1158" cy="732.3" r="1.9"/><circle cx="1082.8" cy="832.2" r="1.9"/><circle cx="1101.6" cy="800.9" r="1.9"/><circle cx="1120.4" cy="796.2" r="1.9"/><circle cx="1139.2" cy="743.8" r="1.9"/><circle cx="1158" cy="744" r="1.9"/><circle cx="1082.8" cy="852.5" r="1.9"/><circle cx="1101.6" cy="816.6" r="1.9"/><circle cx="1120.4" cy="761.9" r="1.9"/><circle cx="1139.2" cy="734.9" r="1.9"/><circle cx="1158" cy="738.9" r="1.9"/></g>
<line x1="1082.8" y1="701.6" x2="1158" y2="701.6" stroke="#1a1a1a" stroke-width="1.2"/>
<text x="1120.4" y="698.6" font-size="11.9" text-anchor="middle" class="t">***</text>
<text x="1120.4" y="926.6" font-size="12.9" text-anchor="middle" class="t">WT</text>
<text x="1120.4" y="940.4" font-size="12.9" text-anchor="middle" class="t">TAT-Cntrl</text>
<rect x="1179.2" y="844.4" width="13.2" height="63.1" fill="#f8a042"/>
<rect x="1179.2" y="844.4" width="13.2" height="63.1" fill="none" stroke="#f8a042" stroke-width="1.4"/>
<path d="M1185.8 843.7V831.6M1181 831.6H1190.5" fill="none" stroke="#f8a042" stroke-width="2"/>
<rect x="1198" y="810.1" width="13.2" height="97.4" fill="#f8a042"/>
<rect x="1198" y="810.1" width="13.2" height="97.4" fill="url(#p4)"/>
<rect x="1198" y="810.1" width="13.2" height="97.4" fill="none" stroke="#f8a042" stroke-width="1.4"/>
<path d="M1204.6 809.4V802.1M1199.8 802.1H1209.3" fill="none" stroke="#f8a042" stroke-width="2"/>
<rect x="1216.8" y="791.5" width="13.2" height="116" fill="#f8a042"/>
<rect x="1216.8" y="791.5" width="13.2" height="116" fill="url(#p5)"/>
<rect x="1216.8" y="791.5" width="13.2" height="116" fill="none" stroke="#f8a042" stroke-width="1.4"/>
<path d="M1223.4 790.8V781.1M1218.6 781.1H1228.1" fill="none" stroke="#f8a042" stroke-width="2"/>
<rect x="1235.6" y="768.1" width="13.2" height="139.4" fill="#f8a042"/>
<rect x="1235.6" y="768.1" width="13.2" height="139.4" fill="url(#p6)"/>
<rect x="1235.6" y="768.1" width="13.2" height="139.4" fill="none" stroke="#f8a042" stroke-width="1.4"/>
<path d="M1242.2 767.4V749.2M1237.5 749.2H1247" fill="none" stroke="#f8a042" stroke-width="2"/>
<rect x="1254.4" y="762" width="13.2" height="145.5" fill="#f8a042"/>
<rect x="1254.4" y="762" width="13.2" height="145.5" fill="url(#p7)"/>
<rect x="1254.4" y="762" width="13.2" height="145.5" fill="none" stroke="#f8a042" stroke-width="1.4"/>
<path d="M1261 761.3V744.4M1256.2 744.4H1265.8" fill="none" stroke="#f8a042" stroke-width="2"/>
<g fill="none" stroke="#7f7fd0" stroke-width="1.4" stroke-opacity="0.36" stroke-linejoin="round"><path d="M1185.8 887.7L1204.6 818.7L1223.4 806.1L1242.2 801.6L1261 784.2"/><path d="M1185.8 820.4L1204.6 773.7L1223.4 762.9L1242.2 759.5L1261 712.8"/><path d="M1185.8 838.3L1204.6 804.9L1223.4 796L1242.2 748.6L1261 789.7"/><path d="M1185.8 872.5L1204.6 789.7L1223.4 788.7L1242.2 750.6L1261 745.1"/><path d="M1185.8 855.1L1204.6 816.8L1223.4 796.2L1242.2 760.3L1261 752.9"/><path d="M1185.8 863.4L1204.6 808.3L1223.4 794L1242.2 799.3L1261 737"/><path d="M1185.8 849L1204.6 817.3L1223.4 798.3L1242.2 795L1261 771.7"/></g>
<g fill="#55556a" fill-opacity="0.4" stroke="#55556a" stroke-opacity="0.45" stroke-width="0.7"><circle cx="1185.8" cy="887.7" r="1.9"/><circle cx="1204.6" cy="818.7" r="1.9"/><circle cx="1223.4" cy="806.1" r="1.9"/><circle cx="1242.2" cy="801.6" r="1.9"/><circle cx="1261" cy="784.2" r="1.9"/><circle cx="1185.8" cy="820.4" r="1.9"/><circle cx="1204.6" cy="773.7" r="1.9"/><circle cx="1223.4" cy="762.9" r="1.9"/><circle cx="1242.2" cy="759.5" r="1.9"/><circle cx="1261" cy="712.8" r="1.9"/><circle cx="1185.8" cy="838.3" r="1.9"/><circle cx="1204.6" cy="804.9" r="1.9"/><circle cx="1223.4" cy="796" r="1.9"/><circle cx="1242.2" cy="748.6" r="1.9"/><circle cx="1261" cy="789.7" r="1.9"/><circle cx="1185.8" cy="872.5" r="1.9"/><circle cx="1204.6" cy="789.7" r="1.9"/><circle cx="1223.4" cy="788.7" r="1.9"/><circle cx="1242.2" cy="750.6" r="1.9"/><circle cx="1261" cy="745.1" r="1.9"/><circle cx="1185.8" cy="855.1" r="1.9"/><circle cx="1204.6" cy="816.8" r="1.9"/><circle cx="1223.4" cy="796.2" r="1.9"/><circle cx="1242.2" cy="760.3" r="1.9"/><circle cx="1261" cy="752.9" r="1.9"/><circle cx="1185.8" cy="863.4" r="1.9"/><circle cx="1204.6" cy="808.3" r="1.9"/><circle cx="1223.4" cy="794" r="1.9"/><circle cx="1242.2" cy="799.3" r="1.9"/><circle cx="1261" cy="737" r="1.9"/><circle cx="1185.8" cy="849" r="1.9"/><circle cx="1204.6" cy="817.3" r="1.9"/><circle cx="1223.4" cy="798.3" r="1.9"/><circle cx="1242.2" cy="795" r="1.9"/><circle cx="1261" cy="771.7" r="1.9"/></g>
<line x1="1185.8" y1="701.6" x2="1261" y2="701.6" stroke="#1a1a1a" stroke-width="1.2"/>
<text x="1223.4" y="698.6" font-size="11.9" text-anchor="middle" class="t">*</text>
<text x="1223.4" y="926.6" font-size="12.9" text-anchor="middle" class="t">WT</text>
<text x="1223.4" y="940.4" font-size="12.9" text-anchor="middle" class="t">TAT-GluA2<tspan dy="3.2" font-size="9">3Y</tspan></text>
<rect x="1282.6" y="870.5" width="12.3" height="37" fill="#fff"/>
<rect x="1282.6" y="870.5" width="12.3" height="37" fill="none" stroke="#9e9ea2" stroke-width="2"/>
<path d="M1288.8 869.5V854.2M1284 854.2H1293.5" fill="none" stroke="#9e9ea2" stroke-width="2"/>
<rect x="1301.4" y="812.4" width="12.3" height="95.1" fill="#fff"/>
<rect x="1301.4" y="812.4" width="12.3" height="95.1" fill="url(#p8)"/>
<rect x="1301.4" y="812.4" width="12.3" height="95.1" fill="none" stroke="#9e9ea2" stroke-width="2"/>
<path d="M1307.6 811.4V796.9M1302.8 796.9H1312.3" fill="none" stroke="#9e9ea2" stroke-width="2"/>
<rect x="1320.2" y="798.3" width="12.3" height="109.2" fill="#fff"/>
<rect x="1320.2" y="798.3" width="12.3" height="109.2" fill="url(#p9)"/>
<rect x="1320.2" y="798.3" width="12.3" height="109.2" fill="none" stroke="#9e9ea2" stroke-width="2"/>
<path d="M1326.4 797.3V780.3M1321.6 780.3H1331.1" fill="none" stroke="#9e9ea2" stroke-width="2"/>
<rect x="1339" y="810" width="12.3" height="97.5" fill="#fff"/>
<rect x="1339" y="810" width="12.3" height="97.5" fill="url(#p10)"/>
<rect x="1339" y="810" width="12.3" height="97.5" fill="none" stroke="#9e9ea2" stroke-width="2"/>
<path d="M1345.2 809V782.3M1340.5 782.3H1350" fill="none" stroke="#9e9ea2" stroke-width="2"/>
<rect x="1357.8" y="805.5" width="12.3" height="102" fill="#fff"/>
<rect x="1357.8" y="805.5" width="12.3" height="102" fill="url(#p11)"/>
<rect x="1357.8" y="805.5" width="12.3" height="102" fill="none" stroke="#9e9ea2" stroke-width="2"/>
<path d="M1364 804.5V775.5M1359.2 775.5H1368.8" fill="none" stroke="#9e9ea2" stroke-width="2"/>
<g fill="none" stroke="#7f7fd0" stroke-width="1.4" stroke-opacity="0.36" stroke-linejoin="round"><path d="M1288.8 836.9L1307.6 768.9L1326.4 718.7L1345.2 713.3L1364 715.1"/><path d="M1288.8 879.2L1307.6 813.1L1326.4 799.7L1345.2 804.1L1364 760.4"/><path d="M1288.8 818.7L1307.6 907.5L1326.4 743.7L1345.2 907.5L1364 798.7"/><path d="M1288.8 907.5L1307.6 818.6L1326.4 848.6L1345.2 900L1364 823.9"/><path d="M1288.8 865.7L1307.6 748.6L1326.4 814.8L1345.2 856.2L1364 830.6"/><path d="M1288.8 856.5L1307.6 859L1326.4 863.8L1345.2 857.3L1364 907.5"/><path d="M1288.8 811.8L1307.6 802.1L1326.4 730.2L1345.2 717.1L1364 719.6"/></g>
<g fill="#55556a" fill-opacity="0.4" stroke="#55556a" stroke-opacity="0.45" stroke-width="0.7"><circle cx="1288.8" cy="836.9" r="1.9"/><circle cx="1307.6" cy="768.9" r="1.9"/><circle cx="1326.4" cy="718.7" r="1.9"/><circle cx="1345.2" cy="713.3" r="1.9"/><circle cx="1364" cy="715.1" r="1.9"/><circle cx="1288.8" cy="879.2" r="1.9"/><circle cx="1307.6" cy="813.1" r="1.9"/><circle cx="1326.4" cy="799.7" r="1.9"/><circle cx="1345.2" cy="804.1" r="1.9"/><circle cx="1364" cy="760.4" r="1.9"/><circle cx="1288.8" cy="818.7" r="1.9"/><circle cx="1307.6" cy="907.5" r="1.9"/><circle cx="1326.4" cy="743.7" r="1.9"/><circle cx="1345.2" cy="907.5" r="1.9"/><circle cx="1364" cy="798.7" r="1.9"/><circle cx="1288.8" cy="907.5" r="1.9"/><circle cx="1307.6" cy="818.6" r="1.9"/><circle cx="1326.4" cy="848.6" r="1.9"/><circle cx="1345.2" cy="900" r="1.9"/><circle cx="1364" cy="823.9" r="1.9"/><circle cx="1288.8" cy="865.7" r="1.9"/><circle cx="1307.6" cy="748.6" r="1.9"/><circle cx="1326.4" cy="814.8" r="1.9"/><circle cx="1345.2" cy="856.2" r="1.9"/><circle cx="1364" cy="830.6" r="1.9"/><circle cx="1288.8" cy="856.5" r="1.9"/><circle cx="1307.6" cy="859" r="1.9"/><circle cx="1326.4" cy="863.8" r="1.9"/><circle cx="1345.2" cy="857.3" r="1.9"/><circle cx="1364" cy="907.5" r="1.9"/><circle cx="1288.8" cy="811.8" r="1.9"/><circle cx="1307.6" cy="802.1" r="1.9"/><circle cx="1326.4" cy="730.2" r="1.9"/><circle cx="1345.2" cy="717.1" r="1.9"/><circle cx="1364" cy="719.6" r="1.9"/></g>
<line x1="1288.8" y1="701.6" x2="1364" y2="701.6" stroke="#1a1a1a" stroke-width="1.2"/>
<text x="1326.4" y="696.1" font-size="11.9" text-anchor="middle" class="t">n.s.</text>
<text x="1326.4" y="926.6" font-size="12.9" text-anchor="middle" class="t">Tg</text>
<text x="1326.4" y="940.4" font-size="12.9" text-anchor="middle" class="t">TAT-Cntrl</text>
<rect x="1385.6" y="855.6" width="12.3" height="51.9" fill="#fff"/>
<rect x="1385.6" y="855.6" width="12.3" height="51.9" fill="none" stroke="#f8a042" stroke-width="2"/>
<path d="M1391.8 854.6V844.1M1387 844.1H1396.5" fill="none" stroke="#f8a042" stroke-width="2"/>
<rect x="1404.4" y="816.8" width="12.3" height="90.7" fill="#fff"/>
<rect x="1404.4" y="816.8" width="12.3" height="90.7" fill="url(#p12)"/>
<rect x="1404.4" y="816.8" width="12.3" height="90.7" fill="none" stroke="#f8a042" stroke-width="2"/>
<path d="M1410.6 815.8V812M1405.8 812H1415.3" fill="none" stroke="#f8a042" stroke-width="2"/>
<rect x="1423.2" y="794.6" width="12.3" height="112.9" fill="#fff"/>
<rect x="1423.2" y="794.6" width="12.3" height="112.9" fill="url(#p13)"/>
<rect x="1423.2" y="794.6" width="12.3" height="112.9" fill="none" stroke="#f8a042" stroke-width="2"/>
<path d="M1429.4 793.6V783.9M1424.6 783.9H1434.1" fill="none" stroke="#f8a042" stroke-width="2"/>
<rect x="1442" y="764.7" width="12.3" height="142.8" fill="#fff"/>
<rect x="1442" y="764.7" width="12.3" height="142.8" fill="url(#p14)"/>
<rect x="1442" y="764.7" width="12.3" height="142.8" fill="none" stroke="#f8a042" stroke-width="2"/>
<path d="M1448.2 763.7V747.6M1443.5 747.6H1453" fill="none" stroke="#f8a042" stroke-width="2"/>
<rect x="1460.8" y="765.2" width="12.3" height="142.3" fill="#fff"/>
<rect x="1460.8" y="765.2" width="12.3" height="142.3" fill="url(#p15)"/>
<rect x="1460.8" y="765.2" width="12.3" height="142.3" fill="none" stroke="#f8a042" stroke-width="2"/>
<path d="M1467 764.2V744.8M1462.2 744.8H1471.8" fill="none" stroke="#f8a042" stroke-width="2"/>
<g fill="none" stroke="#7f7fd0" stroke-width="1.4" stroke-opacity="0.36" stroke-linejoin="round"><path d="M1391.8 828.9L1410.6 800.3L1429.4 747.2L1448.2 717.9L1467 714.1"/><path d="M1391.8 848L1410.6 821.4L1429.4 782.6L1448.2 787.7L1467 784.8"/><path d="M1391.8 877.8L1410.6 824.8L1429.4 811.5L1448.2 771.9L1467 750.6"/><path d="M1391.8 870L1410.6 822.6L1429.4 834.2L1448.2 806L1467 730.8"/><path d="M1391.8 823.6L1410.6 796.3L1429.4 784.3L1448.2 750.5L1467 749.9"/><path d="M1391.8 888.3L1410.6 809.1L1429.4 809.5L1448.2 792.2L1467 731"/><path d="M1391.8 839.9L1410.6 806L1429.4 752.1L1448.2 719L1467 713.3"/></g>
<g fill="#55556a" fill-opacity="0.4" stroke="#55556a" stroke-opacity="0.45" stroke-width="0.7"><circle cx="1391.8" cy="828.9" r="1.9"/><circle cx="1410.6" cy="800.3" r="1.9"/><circle cx="1429.4" cy="747.2" r="1.9"/><circle cx="1448.2" cy="717.9" r="1.9"/><circle cx="1467" cy="714.1" r="1.9"/><circle cx="1391.8" cy="848" r="1.9"/><circle cx="1410.6" cy="821.4" r="1.9"/><circle cx="1429.4" cy="782.6" r="1.9"/><circle cx="1448.2" cy="787.7" r="1.9"/><circle cx="1467" cy="784.8" r="1.9"/><circle cx="1391.8" cy="877.8" r="1.9"/><circle cx="1410.6" cy="824.8" r="1.9"/><circle cx="1429.4" cy="811.5" r="1.9"/><circle cx="1448.2" cy="771.9" r="1.9"/><circle cx="1467" cy="750.6" r="1.9"/><circle cx="1391.8" cy="870" r="1.9"/><circle cx="1410.6" cy="822.6" r="1.9"/><circle cx="1429.4" cy="834.2" r="1.9"/><circle cx="1448.2" cy="806" r="1.9"/><circle cx="1467" cy="730.8" r="1.9"/><circle cx="1391.8" cy="823.6" r="1.9"/><circle cx="1410.6" cy="796.3" r="1.9"/><circle cx="1429.4" cy="784.3" r="1.9"/><circle cx="1448.2" cy="750.5" r="1.9"/><circle cx="1467" cy="749.9" r="1.9"/><circle cx="1391.8" cy="888.3" r="1.9"/><circle cx="1410.6" cy="809.1" r="1.9"/><circle cx="1429.4" cy="809.5" r="1.9"/><circle cx="1448.2" cy="792.2" r="1.9"/><circle cx="1467" cy="731" r="1.9"/><circle cx="1391.8" cy="839.9" r="1.9"/><circle cx="1410.6" cy="806" r="1.9"/><circle cx="1429.4" cy="752.1" r="1.9"/><circle cx="1448.2" cy="719" r="1.9"/><circle cx="1467" cy="713.3" r="1.9"/></g>
<line x1="1391.8" y1="701.6" x2="1467" y2="701.6" stroke="#1a1a1a" stroke-width="1.2"/>
<text x="1429.4" y="698.6" font-size="11.9" text-anchor="middle" class="t">***</text>
<text x="1429.4" y="926.6" font-size="12.9" text-anchor="middle" class="t">Tg</text>
<text x="1429.4" y="940.4" font-size="12.9" text-anchor="middle" class="t">TAT-GluA2<tspan dy="3.2" font-size="9">3Y</tspan></text>
<line x1="1067.1" y1="685.2" x2="1067.1" y2="918" stroke="#333333" stroke-width="1.4"/>
<line x1="1066.4" y1="907.5" x2="1479.9" y2="907.5" stroke="#333333" stroke-width="1.4"/>
<text x="1549.5" y="710.4" font-size="30" text-anchor="middle" class="t">E</text>
<text x="1842" y="679.4" font-size="12.4" text-anchor="middle" class="t">1000 freezing frames, 25 cells</text>
<text x="1603.5" y="911.8" font-size="12.4" text-anchor="end" class="t">0.5</text>
<text x="1603.5" y="871.4" font-size="12.4" text-anchor="end" class="t">0.6</text>
<text x="1603.5" y="831" font-size="12.4" text-anchor="end" class="t">0.7</text>
<text x="1603.5" y="790.6" font-size="12.4" text-anchor="end" class="t">0.8</text>
<text x="1603.5" y="750.2" font-size="12.4" text-anchor="end" class="t">0.9</text>
<text x="1603.5" y="709.7" font-size="12.4" text-anchor="end" class="t">1.0</text>
<text x="1579.1" y="801.3" font-size="12.4" text-anchor="middle" transform="rotate(-90 1579.1 801.3)" class="t">Balanced accuracy</text>
<rect x="1618.4" y="858.8" width="14.8" height="48.6" fill="#9e9ea2"/>
<rect x="1618.4" y="858.8" width="14.8" height="48.6" fill="none" stroke="#9e9ea2" stroke-width="1.4"/>
<path d="M1625.8 858.1V853.6M1621.1 853.6H1630.6" fill="none" stroke="#9e9ea2" stroke-width="2"/>
<rect x="1639.5" y="835.7" width="14.8" height="71.7" fill="#9e9ea2"/>
<rect x="1639.5" y="835.7" width="14.8" height="71.7" fill="url(#p16)"/>
<rect x="1639.5" y="835.7" width="14.8" height="71.7" fill="none" stroke="#9e9ea2" stroke-width="1.4"/>
<path d="M1646.9 835V829M1642.2 829H1651.7" fill="none" stroke="#9e9ea2" stroke-width="2"/>
<rect x="1660.6" y="824" width="14.8" height="83.4" fill="#9e9ea2"/>
<rect x="1660.6" y="824" width="14.8" height="83.4" fill="url(#p17)"/>
<rect x="1660.6" y="824" width="14.8" height="83.4" fill="none" stroke="#9e9ea2" stroke-width="1.4"/>
<path d="M1668 823.3V816.9M1663.3 816.9H1672.8" fill="none" stroke="#9e9ea2" stroke-width="2"/>
<rect x="1681.7" y="794.1" width="14.8" height="113.3" fill="#9e9ea2"/>
<rect x="1681.7" y="794.1" width="14.8" height="113.3" fill="url(#p18)"/>
<rect x="1681.7" y="794.1" width="14.8" height="113.3" fill="none" stroke="#9e9ea2" stroke-width="1.4"/>
<path d="M1689.1 793.4V782.1M1684.4 782.1H1693.9" fill="none" stroke="#9e9ea2" stroke-width="2"/>
<rect x="1702.8" y="792.9" width="14.8" height="114.5" fill="#9e9ea2"/>
<rect x="1702.8" y="792.9" width="14.8" height="114.5" fill="url(#p19)"/>
<rect x="1702.8" y="792.9" width="14.8" height="114.5" fill="none" stroke="#9e9ea2" stroke-width="1.4"/>
<path d="M1710.2 792.2V780.9M1705.5 780.9H1715" fill="none" stroke="#9e9ea2" stroke-width="2"/>
<g fill="none" stroke="#7f7fd0" stroke-width="1.6" stroke-opacity="0.36" stroke-linejoin="round"><path d="M1625.8 874.3L1646.9 837.3L1668 855L1689.1 840.5L1710.2 818.9"/><path d="M1625.8 848.1L1646.9 826.2L1668 833.4L1689.1 782.5L1710.2 758.2"/><path d="M1625.8 848.7L1646.9 820.4L1668 796.9L1689.1 780.1L1710.2 775.2"/><path d="M1625.8 843.9L1646.9 834.9L1668 841.6L1689.1 800.9L1710.2 753.9"/><path d="M1625.8 863.3L1646.9 819.8L1668 812.1L1689.1 798.6L1710.2 786.1"/><path d="M1625.8 856.5L1646.9 827.4L1668 817.4L1689.1 781.9L1710.2 800.3"/><path d="M1625.8 876.3L1646.9 830.8L1668 824L1689.1 803L1710.2 761.3"/><path d="M1625.8 859.3L1646.9 847.9L1668 836.3L1689.1 809.6L1710.2 785.1"/><path d="M1625.8 879.8L1646.9 868.3L1668 878.9L1689.1 818.3L1710.2 835.6"/><path d="M1625.8 843.9L1646.9 823.8L1668 821.1L1689.1 758.1L1710.2 797.4"/></g>
<g fill="#55556a" fill-opacity="0.4" stroke="#55556a" stroke-opacity="0.45" stroke-width="0.7"><circle cx="1625.8" cy="874.3" r="1.9"/><circle cx="1646.9" cy="837.3" r="1.9"/><circle cx="1668" cy="855" r="1.9"/><circle cx="1689.1" cy="840.5" r="1.9"/><circle cx="1710.2" cy="818.9" r="1.9"/><circle cx="1625.8" cy="848.1" r="1.9"/><circle cx="1646.9" cy="826.2" r="1.9"/><circle cx="1668" cy="833.4" r="1.9"/><circle cx="1689.1" cy="782.5" r="1.9"/><circle cx="1710.2" cy="758.2" r="1.9"/><circle cx="1625.8" cy="848.7" r="1.9"/><circle cx="1646.9" cy="820.4" r="1.9"/><circle cx="1668" cy="796.9" r="1.9"/><circle cx="1689.1" cy="780.1" r="1.9"/><circle cx="1710.2" cy="775.2" r="1.9"/><circle cx="1625.8" cy="843.9" r="1.9"/><circle cx="1646.9" cy="834.9" r="1.9"/><circle cx="1668" cy="841.6" r="1.9"/><circle cx="1689.1" cy="800.9" r="1.9"/><circle cx="1710.2" cy="753.9" r="1.9"/><circle cx="1625.8" cy="863.3" r="1.9"/><circle cx="1646.9" cy="819.8" r="1.9"/><circle cx="1668" cy="812.1" r="1.9"/><circle cx="1689.1" cy="798.6" r="1.9"/><circle cx="1710.2" cy="786.1" r="1.9"/><circle cx="1625.8" cy="856.5" r="1.9"/><circle cx="1646.9" cy="827.4" r="1.9"/><circle cx="1668" cy="817.4" r="1.9"/><circle cx="1689.1" cy="781.9" r="1.9"/><circle cx="1710.2" cy="800.3" r="1.9"/><circle cx="1625.8" cy="876.3" r="1.9"/><circle cx="1646.9" cy="830.8" r="1.9"/><circle cx="1668" cy="824" r="1.9"/><circle cx="1689.1" cy="803" r="1.9"/><circle cx="1710.2" cy="761.3" r="1.9"/><circle cx="1625.8" cy="859.3" r="1.9"/><circle cx="1646.9" cy="847.9" r="1.9"/><circle cx="1668" cy="836.3" r="1.9"/><circle cx="1689.1" cy="809.6" r="1.9"/><circle cx="1710.2" cy="785.1" r="1.9"/><circle cx="1625.8" cy="879.8" r="1.9"/><circle cx="1646.9" cy="868.3" r="1.9"/><circle cx="1668" cy="878.9" r="1.9"/><circle cx="1689.1" cy="818.3" r="1.9"/><circle cx="1710.2" cy="835.6" r="1.9"/><circle cx="1625.8" cy="843.9" r="1.9"/><circle cx="1646.9" cy="823.8" r="1.9"/><circle cx="1668" cy="821.1" r="1.9"/><circle cx="1689.1" cy="758.1" r="1.9"/><circle cx="1710.2" cy="797.4" r="1.9"/></g>
<line x1="1625.8" y1="725.2" x2="1710.2" y2="725.2" stroke="#1a1a1a" stroke-width="1.9"/>
<text x="1668" y="721.3" font-size="9.5" text-anchor="middle" class="t">***</text>
<text x="1668" y="926.5" font-size="12.9" text-anchor="middle" class="t">WT</text>
<text x="1668" y="940.3" font-size="12.9" text-anchor="middle" class="t">TAT-Cntrl</text>
<rect x="1734.9" y="854.7" width="14.8" height="52.7" fill="#f8a042"/>
<rect x="1734.9" y="854.7" width="14.8" height="52.7" fill="none" stroke="#f8a042" stroke-width="1.4"/>
<path d="M1742.3 854V848M1737.6 848H1747.1" fill="none" stroke="#f8a042" stroke-width="2"/>
<rect x="1756" y="828.9" width="14.8" height="78.5" fill="#f8a042"/>
<rect x="1756" y="828.9" width="14.8" height="78.5" fill="url(#p20)"/>
<rect x="1756" y="828.9" width="14.8" height="78.5" fill="none" stroke="#f8a042" stroke-width="1.4"/>
<path d="M1763.4 828.2V825.8M1758.7 825.8H1768.2" fill="none" stroke="#f8a042" stroke-width="2"/>
<rect x="1777.1" y="821.2" width="14.8" height="86.2" fill="#f8a042"/>
<rect x="1777.1" y="821.2" width="14.8" height="86.2" fill="url(#p21)"/>
<rect x="1777.1" y="821.2" width="14.8" height="86.2" fill="none" stroke="#f8a042" stroke-width="1.4"/>
<path d="M1784.5 820.5V818.5M1779.8 818.5H1789.3" fill="none" stroke="#f8a042" stroke-width="2"/>
<rect x="1798.2" y="795.3" width="14.8" height="112.1" fill="#f8a042"/>
<rect x="1798.2" y="795.3" width="14.8" height="112.1" fill="url(#p22)"/>
<rect x="1798.2" y="795.3" width="14.8" height="112.1" fill="none" stroke="#f8a042" stroke-width="1.4"/>
<path d="M1805.6 794.6V786.5M1800.9 786.5H1810.4" fill="none" stroke="#f8a042" stroke-width="2"/>
<rect x="1819.3" y="796.5" width="14.8" height="110.9" fill="#f8a042"/>
<rect x="1819.3" y="796.5" width="14.8" height="110.9" fill="url(#p23)"/>
<rect x="1819.3" y="796.5" width="14.8" height="110.9" fill="none" stroke="#f8a042" stroke-width="1.4"/>
<path d="M1826.7 795.8V786.9M1822 786.9H1831.5" fill="none" stroke="#f8a042" stroke-width="2"/>
<g fill="none" stroke="#7f7fd0" stroke-width="1.6" stroke-opacity="0.36" stroke-linejoin="round"><path d="M1742.3 868.8L1763.4 845.3L1784.5 828.7L1805.6 831.6L1826.7 797.2"/><path d="M1742.3 855.3L1763.4 811.7L1784.5 826.4L1805.6 785.9L1826.7 802.8"/><path d="M1742.3 868.1L1763.4 833L1784.5 810L1805.6 793L1826.7 807.9"/><path d="M1742.3 831.1L1763.4 805.8L1784.5 804.4L1805.6 760.3L1826.7 759.6"/><path d="M1742.3 857.3L1763.4 820.4L1784.5 815.6L1805.6 786L1826.7 805.7"/><path d="M1742.3 862.5L1763.4 826.7L1784.5 820.8L1805.6 801.8L1826.7 807.3"/><path d="M1742.3 866.6L1763.4 833.7L1784.5 822L1805.6 800.6L1826.7 796.1"/></g>
<g fill="#55556a" fill-opacity="0.4" stroke="#55556a" stroke-opacity="0.45" stroke-width="0.7"><circle cx="1742.3" cy="868.8" r="1.9"/><circle cx="1763.4" cy="845.3" r="1.9"/><circle cx="1784.5" cy="828.7" r="1.9"/><circle cx="1805.6" cy="831.6" r="1.9"/><circle cx="1826.7" cy="797.2" r="1.9"/><circle cx="1742.3" cy="855.3" r="1.9"/><circle cx="1763.4" cy="811.7" r="1.9"/><circle cx="1784.5" cy="826.4" r="1.9"/><circle cx="1805.6" cy="785.9" r="1.9"/><circle cx="1826.7" cy="802.8" r="1.9"/><circle cx="1742.3" cy="868.1" r="1.9"/><circle cx="1763.4" cy="833" r="1.9"/><circle cx="1784.5" cy="810" r="1.9"/><circle cx="1805.6" cy="793" r="1.9"/><circle cx="1826.7" cy="807.9" r="1.9"/><circle cx="1742.3" cy="831.1" r="1.9"/><circle cx="1763.4" cy="805.8" r="1.9"/><circle cx="1784.5" cy="804.4" r="1.9"/><circle cx="1805.6" cy="760.3" r="1.9"/><circle cx="1826.7" cy="759.6" r="1.9"/><circle cx="1742.3" cy="857.3" r="1.9"/><circle cx="1763.4" cy="820.4" r="1.9"/><circle cx="1784.5" cy="815.6" r="1.9"/><circle cx="1805.6" cy="786" r="1.9"/><circle cx="1826.7" cy="805.7" r="1.9"/><circle cx="1742.3" cy="862.5" r="1.9"/><circle cx="1763.4" cy="826.7" r="1.9"/><circle cx="1784.5" cy="820.8" r="1.9"/><circle cx="1805.6" cy="801.8" r="1.9"/><circle cx="1826.7" cy="807.3" r="1.9"/><circle cx="1742.3" cy="866.6" r="1.9"/><circle cx="1763.4" cy="833.7" r="1.9"/><circle cx="1784.5" cy="822" r="1.9"/><circle cx="1805.6" cy="800.6" r="1.9"/><circle cx="1826.7" cy="796.1" r="1.9"/></g>
<line x1="1742.3" y1="725.2" x2="1826.7" y2="725.2" stroke="#1a1a1a" stroke-width="1.9"/>
<text x="1784.5" y="721.3" font-size="9.5" text-anchor="middle" class="t">***</text>
<text x="1784.5" y="926.5" font-size="12.9" text-anchor="middle" class="t">WT</text>
<text x="1784.5" y="940.3" font-size="12.9" text-anchor="middle" class="t">TAT-GluA2<tspan dy="3.2" font-size="9">3Y</tspan></text>
<rect x="1852.1" y="863.7" width="13.5" height="43.7" fill="#fff"/>
<rect x="1852.1" y="863.7" width="13.5" height="43.7" fill="none" stroke="#9e9ea2" stroke-width="2.4"/>
<path d="M1858.8 862.5V852M1854.1 852H1863.6" fill="none" stroke="#9e9ea2" stroke-width="2"/>
<rect x="1873.2" y="849.6" width="13.5" height="57.8" fill="#fff"/>
<rect x="1873.2" y="849.6" width="13.5" height="57.8" fill="url(#p24)"/>
<rect x="1873.2" y="849.6" width="13.5" height="57.8" fill="none" stroke="#9e9ea2" stroke-width="2.4"/>
<path d="M1879.9 848.4V846.4M1875.2 846.4H1884.7" fill="none" stroke="#9e9ea2" stroke-width="2"/>
<rect x="1894.3" y="843.5" width="13.5" height="63.9" fill="#fff"/>
<rect x="1894.3" y="843.5" width="13.5" height="63.9" fill="url(#p25)"/>
<rect x="1894.3" y="843.5" width="13.5" height="63.9" fill="none" stroke="#9e9ea2" stroke-width="2.4"/>
<path d="M1901 842.3V836.3M1896.3 836.3H1905.8" fill="none" stroke="#9e9ea2" stroke-width="2"/>
<rect x="1915.4" y="829.4" width="13.5" height="78" fill="#fff"/>
<rect x="1915.4" y="829.4" width="13.5" height="78" fill="url(#p26)"/>
<rect x="1915.4" y="829.4" width="13.5" height="78" fill="none" stroke="#9e9ea2" stroke-width="2.4"/>
<path d="M1922.1 828.2V820.1M1917.4 820.1H1926.9" fill="none" stroke="#9e9ea2" stroke-width="2"/>
<rect x="1936.5" y="832.6" width="13.5" height="74.8" fill="#fff"/>
<rect x="1936.5" y="832.6" width="13.5" height="74.8" fill="url(#p27)"/>
<rect x="1936.5" y="832.6" width="13.5" height="74.8" fill="none" stroke="#9e9ea2" stroke-width="2.4"/>
<path d="M1943.2 831.4V818.9M1938.5 818.9H1948" fill="none" stroke="#9e9ea2" stroke-width="2"/>
<g fill="none" stroke="#7f7fd0" stroke-width="1.6" stroke-opacity="0.36" stroke-linejoin="round"><path d="M1858.8 836.4L1879.9 845.1L1901 829.7L1922.1 815L1943.2 841.5"/><path d="M1858.8 869.9L1879.9 842.4L1901 842.9L1922.1 830.3L1943.2 829.2"/><path d="M1858.8 877.1L1879.9 847.2L1901 839.9L1922.1 826.7L1943.2 831.4"/><path d="M1858.8 839.5L1879.9 827.1L1901 820.6L1922.1 806.6L1943.2 809.7"/><path d="M1858.8 893.8L1879.9 865L1901 854.4L1922.1 826.6L1943.2 878.3"/><path d="M1858.8 853.1L1879.9 846.6L1901 838.7L1922.1 820.2L1943.2 853.2"/><path d="M1858.8 907.4L1879.9 862.9L1901 860.7L1922.1 861L1943.2 882.5"/></g>
<g fill="#55556a" fill-opacity="0.4" stroke="#55556a" stroke-opacity="0.45" stroke-width="0.7"><circle cx="1858.8" cy="836.4" r="1.9"/><circle cx="1879.9" cy="845.1" r="1.9"/><circle cx="1901" cy="829.7" r="1.9"/><circle cx="1922.1" cy="815" r="1.9"/><circle cx="1943.2" cy="841.5" r="1.9"/><circle cx="1858.8" cy="869.9" r="1.9"/><circle cx="1879.9" cy="842.4" r="1.9"/><circle cx="1901" cy="842.9" r="1.9"/><circle cx="1922.1" cy="830.3" r="1.9"/><circle cx="1943.2" cy="829.2" r="1.9"/><circle cx="1858.8" cy="877.1" r="1.9"/><circle cx="1879.9" cy="847.2" r="1.9"/><circle cx="1901" cy="839.9" r="1.9"/><circle cx="1922.1" cy="826.7" r="1.9"/><circle cx="1943.2" cy="831.4" r="1.9"/><circle cx="1858.8" cy="839.5" r="1.9"/><circle cx="1879.9" cy="827.1" r="1.9"/><circle cx="1901" cy="820.6" r="1.9"/><circle cx="1922.1" cy="806.6" r="1.9"/><circle cx="1943.2" cy="809.7" r="1.9"/><circle cx="1858.8" cy="893.8" r="1.9"/><circle cx="1879.9" cy="865" r="1.9"/><circle cx="1901" cy="854.4" r="1.9"/><circle cx="1922.1" cy="826.6" r="1.9"/><circle cx="1943.2" cy="878.3" r="1.9"/><circle cx="1858.8" cy="853.1" r="1.9"/><circle cx="1879.9" cy="846.6" r="1.9"/><circle cx="1901" cy="838.7" r="1.9"/><circle cx="1922.1" cy="820.2" r="1.9"/><circle cx="1943.2" cy="853.2" r="1.9"/><circle cx="1858.8" cy="907.4" r="1.9"/><circle cx="1879.9" cy="862.9" r="1.9"/><circle cx="1901" cy="860.7" r="1.9"/><circle cx="1922.1" cy="861" r="1.9"/><circle cx="1943.2" cy="882.5" r="1.9"/></g>
<line x1="1858.8" y1="725.2" x2="1943.2" y2="725.2" stroke="#1a1a1a" stroke-width="1.9"/>
<text x="1901" y="719.7" font-size="9.5" text-anchor="middle" class="t">n.s.</text>
<text x="1901" y="926.5" font-size="12.9" text-anchor="middle" class="t">Tg</text>
<text x="1901" y="940.3" font-size="12.9" text-anchor="middle" class="t">TAT-Cntrl</text>
<rect x="1968.6" y="864.1" width="13.5" height="43.3" fill="#fff"/>
<rect x="1968.6" y="864.1" width="13.5" height="43.3" fill="none" stroke="#f8a042" stroke-width="2.4"/>
<path d="M1975.3 862.9V854M1970.6 854H1980.1" fill="none" stroke="#f8a042" stroke-width="2"/>
<rect x="1989.7" y="847.6" width="13.5" height="59.8" fill="#fff"/>
<rect x="1989.7" y="847.6" width="13.5" height="59.8" fill="url(#p28)"/>
<rect x="1989.7" y="847.6" width="13.5" height="59.8" fill="none" stroke="#f8a042" stroke-width="2.4"/>
<path d="M1996.4 846.4V840.7M1991.7 840.7H2001.2" fill="none" stroke="#f8a042" stroke-width="2"/>
<rect x="2010.8" y="840.3" width="13.5" height="67.1" fill="#fff"/>
<rect x="2010.8" y="840.3" width="13.5" height="67.1" fill="url(#p29)"/>
<rect x="2010.8" y="840.3" width="13.5" height="67.1" fill="none" stroke="#f8a042" stroke-width="2.4"/>
<path d="M2017.5 839.1V832.6M2012.8 832.6H2022.3" fill="none" stroke="#f8a042" stroke-width="2"/>
<rect x="2031.9" y="809.6" width="13.5" height="97.8" fill="#fff"/>
<rect x="2031.9" y="809.6" width="13.5" height="97.8" fill="url(#p30)"/>
<rect x="2031.9" y="809.6" width="13.5" height="97.8" fill="none" stroke="#f8a042" stroke-width="2.4"/>
<path d="M2038.6 808.4V799.1M2033.9 799.1H2043.4" fill="none" stroke="#f8a042" stroke-width="2"/>
<rect x="2053" y="815.6" width="13.5" height="91.8" fill="#fff"/>
<rect x="2053" y="815.6" width="13.5" height="91.8" fill="url(#p31)"/>
<rect x="2053" y="815.6" width="13.5" height="91.8" fill="none" stroke="#f8a042" stroke-width="2.4"/>
<path d="M2059.7 814.4V804.3M2055 804.3H2064.5" fill="none" stroke="#f8a042" stroke-width="2"/>
<g fill="none" stroke="#7f7fd0" stroke-width="1.6" stroke-opacity="0.36" stroke-linejoin="round"><path d="M1975.3 841.6L1996.4 845.6L2017.5 830.6L2038.6 800.4L2059.7 824.7"/><path d="M1975.3 901L1996.4 867.2L2017.5 870.3L2038.6 843.8L2059.7 853"/><path d="M1975.3 861L1996.4 851.4L2017.5 842.5L2038.6 820L2059.7 828.5"/><path d="M1975.3 877.3L1996.4 835.9L2017.5 835.6L2038.6 795L2059.7 845.1"/><path d="M1975.3 876.7L1996.4 845.8L2017.5 827.2L2038.6 813.4L2059.7 828.1"/><path d="M1975.3 863L1996.4 855.8L2017.5 844.1L2038.6 824.7L2059.7 830.5"/><path d="M1975.3 855.8L1996.4 846.7L2017.5 820.4L2038.6 812.1L2059.7 806.5"/></g>
<g fill="#55556a" fill-opacity="0.4" stroke="#55556a" stroke-opacity="0.45" stroke-width="0.7"><circle cx="1975.3" cy="841.6" r="1.9"/><circle cx="1996.4" cy="845.6" r="1.9"/><circle cx="2017.5" cy="830.6" r="1.9"/><circle cx="2038.6" cy="800.4" r="1.9"/><circle cx="2059.7" cy="824.7" r="1.9"/><circle cx="1975.3" cy="901" r="1.9"/><circle cx="1996.4" cy="867.2" r="1.9"/><circle cx="2017.5" cy="870.3" r="1.9"/><circle cx="2038.6" cy="843.8" r="1.9"/><circle cx="2059.7" cy="853" r="1.9"/><circle cx="1975.3" cy="861" r="1.9"/><circle cx="1996.4" cy="851.4" r="1.9"/><circle cx="2017.5" cy="842.5" r="1.9"/><circle cx="2038.6" cy="820" r="1.9"/><circle cx="2059.7" cy="828.5" r="1.9"/><circle cx="1975.3" cy="877.3" r="1.9"/><circle cx="1996.4" cy="835.9" r="1.9"/><circle cx="2017.5" cy="835.6" r="1.9"/><circle cx="2038.6" cy="795" r="1.9"/><circle cx="2059.7" cy="845.1" r="1.9"/><circle cx="1975.3" cy="876.7" r="1.9"/><circle cx="1996.4" cy="845.8" r="1.9"/><circle cx="2017.5" cy="827.2" r="1.9"/><circle cx="2038.6" cy="813.4" r="1.9"/><circle cx="2059.7" cy="828.1" r="1.9"/><circle cx="1975.3" cy="863" r="1.9"/><circle cx="1996.4" cy="855.8" r="1.9"/><circle cx="2017.5" cy="844.1" r="1.9"/><circle cx="2038.6" cy="824.7" r="1.9"/><circle cx="2059.7" cy="830.5" r="1.9"/><circle cx="1975.3" cy="855.8" r="1.9"/><circle cx="1996.4" cy="846.7" r="1.9"/><circle cx="2017.5" cy="820.4" r="1.9"/><circle cx="2038.6" cy="812.1" r="1.9"/><circle cx="2059.7" cy="806.5" r="1.9"/></g>
<line x1="1975.3" y1="725.2" x2="2059.7" y2="725.2" stroke="#1a1a1a" stroke-width="1.9"/>
<text x="2017.5" y="721.3" font-size="9.5" text-anchor="middle" class="t">**</text>
<text x="2017.5" y="926.5" font-size="12.9" text-anchor="middle" class="t">Tg</text>
<text x="2017.5" y="940.3" font-size="12.9" text-anchor="middle" class="t">TAT-GluA2<tspan dy="3.2" font-size="9">3Y</tspan></text>
<line x1="1608.7" y1="685.4" x2="1608.7" y2="917.9" stroke="#333333" stroke-width="1.4"/>
<line x1="1608" y1="907.4" x2="2075.7" y2="907.4" stroke="#333333" stroke-width="1.4"/>
<rect x="2087" y="697.1" width="25" height="8.6" fill="#fff"/>
<rect x="2087" y="697.1" width="25" height="8.6" fill="none" stroke="#48484a" stroke-width="2"/>
<text x="2122.6" y="706" font-size="12" class="t">LDA</text>
<rect x="2087" y="714.9" width="25" height="8.6" fill="#fff"/>
<path d="M2073.1 714.9L2078.4 723.5L2083.8 714.9M2083.8 714.9L2089.1 723.5L2094.5 714.9M2094.5 714.9L2099.9 723.5L2105.2 714.9M2105.2 714.9L2110.6 723.5L2116 714.9M2116 714.9L2121.3 723.5L2126.7 714.9" fill="none" stroke="#48484a" stroke-width="4.4" clip-path="url(#lc58)"/>
<rect x="2087" y="714.9" width="25" height="8.6" fill="none" stroke="#48484a" stroke-width="2"/>
<text x="2122.6" y="723.8" font-size="12" class="t">NB</text>
<rect x="2087" y="732.8" width="25" height="8.6" fill="#fff"/>
<path d="M2072.7 732.8L2083.4 741.4M2072.7 741.4L2083.4 732.8M2083.4 732.8L2094.1 741.4M2083.4 741.4L2094.1 732.8M2094.1 732.8L2104.9 741.4M2094.1 741.4L2104.9 732.8M2104.9 732.8L2115.6 741.4M2104.9 741.4L2115.6 732.8M2115.6 732.8L2126.3 741.4M2115.6 741.4L2126.3 732.8" fill="none" stroke="#48484a" stroke-width="4" clip-path="url(#lc59)"/>
<rect x="2087" y="732.8" width="25" height="8.6" fill="none" stroke="#48484a" stroke-width="2"/>
<text x="2122.6" y="741.7" font-size="12" class="t">QDA</text>
<rect x="2087" y="750.6" width="25" height="8.6" fill="#fff"/>
<path d="M2087 756.2H2112" fill="none" stroke="#48484a" stroke-width="3.2"/>
<rect x="2087" y="750.6" width="25" height="8.6" fill="none" stroke="#48484a" stroke-width="2"/>
<text x="2122.6" y="759.5" font-size="12" class="t">NN</text>
<rect x="2087" y="768.4" width="25" height="8.6" fill="#fff"/>
<path d="M2089.5 778L2100.1 767.4" fill="none" stroke="#48484a" stroke-width="3.8" clip-path="url(#lc61)"/>
<rect x="2087" y="768.4" width="25" height="8.6" fill="none" stroke="#48484a" stroke-width="2"/>
<text x="2122.6" y="777.3" font-size="12" class="t">gSVM</text>
<text x="13" y="1020.3" font-size="30" text-anchor="middle" class="t">F</text>
<text x="31" y="1136" font-size="17.2" text-anchor="middle" transform="rotate(-90 31 1136)" class="t">Accuracy</text>
<text x="212.2" y="1020.5" font-size="17.7" text-anchor="middle" class="t">WT TAT-Cntrl</text>
<text x="64.9" y="1241.5" font-size="17.2" text-anchor="end" class="t">0.5</text>
<text x="64.9" y="1207.2" font-size="17.2" text-anchor="end" class="t">0.6</text>
<text x="64.9" y="1172.9" font-size="17.2" text-anchor="end" class="t">0.7</text>
<text x="64.9" y="1138.6" font-size="17.2" text-anchor="end" class="t">0.8</text>
<text x="64.9" y="1104.3" font-size="17.2" text-anchor="end" class="t">0.9</text>
<text x="64.9" y="1070" font-size="17.2" text-anchor="end" class="t">1.0</text>
<rect x="84.5" y="1169.1" width="22.2" height="74.7" fill="#f8a042"/>
<rect x="106.3" y="1169.1" width="21.9" height="74.7" fill="#9e9ea2"/>
<path d="M95.4 1169.1V1162.9M92.7 1162.9H98.1" fill="none" stroke="#111" stroke-width="2.1"/>
<path d="M117.3 1169.1V1162.9M114.6 1162.9H120" fill="none" stroke="#111" stroke-width="2.1"/>
<text x="106.3" y="1264.7" font-size="17.2" text-anchor="middle" class="t">LDA</text>
<rect x="137.8" y="1145.4" width="22.2" height="98.4" fill="#f8a042"/>
<rect x="159.7" y="1145.4" width="21.9" height="98.4" fill="#9e9ea2"/>
<path d="M148.7 1145.4V1138.2M146 1138.2H151.4" fill="none" stroke="#111" stroke-width="2.1"/>
<path d="M170.6 1145.4V1138.2M167.9 1138.2H173.3" fill="none" stroke="#111" stroke-width="2.1"/>
<text x="159.7" y="1264.7" font-size="17.2" text-anchor="middle" class="t">NB</text>
<rect x="191.1" y="1125.2" width="22.2" height="118.6" fill="#f8a042"/>
<rect x="212.9" y="1125.2" width="21.9" height="118.6" fill="#9e9ea2"/>
<path d="M202 1125.2V1115.9M199.3 1115.9H204.7" fill="none" stroke="#111" stroke-width="2.1"/>
<path d="M223.9 1125.2V1115.9M221.2 1115.9H226.6" fill="none" stroke="#111" stroke-width="2.1"/>
<text x="212.9" y="1264.7" font-size="17.2" text-anchor="middle" class="t">QDA</text>
<rect x="244.4" y="1090.6" width="22.2" height="153.2" fill="#f8a042"/>
<rect x="266.2" y="1090.6" width="21.9" height="153.2" fill="#9e9ea2"/>
<path d="M255.3 1090.6V1084M252.6 1084H258" fill="none" stroke="#111" stroke-width="2.1"/>
<path d="M277.2 1090.6V1084M274.5 1084H279.9" fill="none" stroke="#111" stroke-width="2.1"/>
<text x="266.2" y="1264.7" font-size="17.2" text-anchor="middle" class="t">NN</text>
<rect x="297.7" y="1083.4" width="22.2" height="160.4" fill="#f8a042"/>
<rect x="319.6" y="1083.4" width="21.9" height="160.4" fill="#9e9ea2"/>
<path d="M308.6 1083.4V1078.2M305.9 1078.2H311.3" fill="none" stroke="#111" stroke-width="2.1"/>
<path d="M330.5 1083.4V1078.2M327.8 1078.2H333.2" fill="none" stroke="#111" stroke-width="2.1"/>
<text x="319.6" y="1264.7" font-size="17.2" text-anchor="middle" class="t">SVM</text>
<g fill="#4d4d4d" fill-opacity="0.66"><circle cx="92.4" cy="1207.8" r="1.65"/><circle cx="98" cy="1158.8" r="1.65"/><circle cx="93.1" cy="1153.5" r="1.65"/><circle cx="96.3" cy="1165.9" r="1.65"/><circle cx="96.2" cy="1141.1" r="1.65"/><circle cx="95.2" cy="1176" r="1.65"/><circle cx="98.4" cy="1156.6" r="1.65"/><circle cx="93.4" cy="1156.1" r="1.65"/><circle cx="96.1" cy="1153.8" r="1.65"/><circle cx="93" cy="1183.5" r="1.65"/><circle cx="120.3" cy="1207.8" r="1.65"/><circle cx="115" cy="1158.8" r="1.65"/><circle cx="117.4" cy="1153.5" r="1.65"/><circle cx="119.4" cy="1165.9" r="1.65"/><circle cx="119.7" cy="1141.1" r="1.65"/><circle cx="114.7" cy="1176" r="1.65"/><circle cx="119.7" cy="1156.6" r="1.65"/><circle cx="119.5" cy="1156.1" r="1.65"/><circle cx="116.1" cy="1153.8" r="1.65"/><circle cx="118.9" cy="1183.5" r="1.65"/><circle cx="145.9" cy="1143.5" r="1.65"/><circle cx="149.3" cy="1132.4" r="1.65"/><circle cx="149.4" cy="1135.2" r="1.65"/><circle cx="149.3" cy="1128.7" r="1.65"/><circle cx="146.1" cy="1133.7" r="1.65"/><circle cx="149.4" cy="1167.9" r="1.65"/><circle cx="146.2" cy="1097.3" r="1.65"/><circle cx="150.9" cy="1148.8" r="1.65"/><circle cx="148.5" cy="1139.5" r="1.65"/><circle cx="146.2" cy="1121.9" r="1.65"/><circle cx="173.6" cy="1143.5" r="1.65"/><circle cx="173.4" cy="1132.4" r="1.65"/><circle cx="169.5" cy="1135.2" r="1.65"/><circle cx="173.3" cy="1128.7" r="1.65"/><circle cx="169.2" cy="1133.7" r="1.65"/><circle cx="170.8" cy="1167.9" r="1.65"/><circle cx="171" cy="1097.3" r="1.65"/><circle cx="172.4" cy="1148.8" r="1.65"/><circle cx="167.8" cy="1139.5" r="1.65"/><circle cx="167.6" cy="1121.9" r="1.65"/><circle cx="204.6" cy="1108" r="1.65"/><circle cx="201.6" cy="1102" r="1.65"/><circle cx="203.9" cy="1111.7" r="1.65"/><circle cx="200.1" cy="1170.2" r="1.65"/><circle cx="199.8" cy="1088.1" r="1.65"/><circle cx="205" cy="1095.3" r="1.65"/><circle cx="203.1" cy="1123.1" r="1.65"/><circle cx="199.9" cy="1119.8" r="1.65"/><circle cx="201" cy="1188.9" r="1.65"/><circle cx="203.8" cy="1116.8" r="1.65"/><circle cx="221" cy="1108" r="1.65"/><circle cx="221.9" cy="1102" r="1.65"/><circle cx="225.8" cy="1111.7" r="1.65"/><circle cx="222.2" cy="1170.2" r="1.65"/><circle cx="223.4" cy="1088.1" r="1.65"/><circle cx="223.4" cy="1095.3" r="1.65"/><circle cx="223.7" cy="1123.1" r="1.65"/><circle cx="222.7" cy="1119.8" r="1.65"/><circle cx="222.3" cy="1188.9" r="1.65"/><circle cx="225.8" cy="1116.8" r="1.65"/><circle cx="254.9" cy="1087.7" r="1.65"/><circle cx="255.5" cy="1140.4" r="1.65"/><circle cx="252.4" cy="1078.9" r="1.65"/><circle cx="257.6" cy="1087.4" r="1.65"/><circle cx="256.1" cy="1079.8" r="1.65"/><circle cx="253.8" cy="1104.8" r="1.65"/><circle cx="255.2" cy="1085.9" r="1.65"/><circle cx="256.2" cy="1107.4" r="1.65"/><circle cx="258.1" cy="1114.6" r="1.65"/><circle cx="252.3" cy="1071.5" r="1.65"/><circle cx="279.9" cy="1087.7" r="1.65"/><circle cx="277.7" cy="1140.4" r="1.65"/><circle cx="274.2" cy="1078.9" r="1.65"/><circle cx="276.3" cy="1087.4" r="1.65"/><circle cx="278.6" cy="1079.8" r="1.65"/><circle cx="274.7" cy="1104.8" r="1.65"/><circle cx="277.7" cy="1085.9" r="1.65"/><circle cx="277.6" cy="1107.4" r="1.65"/><circle cx="277.7" cy="1114.6" r="1.65"/><circle cx="274.1" cy="1071.5" r="1.65"/><circle cx="308.5" cy="1067.2" r="1.65"/><circle cx="309.8" cy="1078.3" r="1.65"/><circle cx="306.5" cy="1078" r="1.65"/><circle cx="305.6" cy="1074.4" r="1.65"/><circle cx="306" cy="1086.2" r="1.65"/><circle cx="311.4" cy="1084.7" r="1.65"/><circle cx="311.7" cy="1086.4" r="1.65"/><circle cx="307.1" cy="1110.8" r="1.65"/><circle cx="310.1" cy="1094.8" r="1.65"/><circle cx="306.9" cy="1067.2" r="1.65"/><circle cx="331.1" cy="1067.2" r="1.65"/><circle cx="329.8" cy="1078.3" r="1.65"/><circle cx="330.9" cy="1078" r="1.65"/><circle cx="333.1" cy="1074.4" r="1.65"/><circle cx="332.9" cy="1086.2" r="1.65"/><circle cx="333.2" cy="1084.7" r="1.65"/><circle cx="332.6" cy="1086.4" r="1.65"/><circle cx="330.3" cy="1110.8" r="1.65"/><circle cx="328.6" cy="1094.8" r="1.65"/><circle cx="332.6" cy="1067.2" r="1.65"/></g>
<line x1="96" y1="1117.8" x2="116.6" y2="1117.8" stroke="#111" stroke-width="1.8"/>
<text x="105.8" y="1114.2" font-size="17.2" text-anchor="middle" class="t">n.s.</text>
<line x1="149.3" y1="1093.5" x2="170" y2="1093.5" stroke="#111" stroke-width="1.8"/>
<text x="159.2" y="1089.9" font-size="17.2" text-anchor="middle" class="t">n.s.</text>
<line x1="202.6" y1="1074" x2="223.2" y2="1074" stroke="#111" stroke-width="1.8"/>
<text x="212.4" y="1070.4" font-size="17.2" text-anchor="middle" class="t">n.s.</text>
<line x1="255.9" y1="1046.1" x2="276.6" y2="1046.1" stroke="#111" stroke-width="1.8"/>
<text x="265.8" y="1042.5" font-size="17.2" text-anchor="middle" class="t">n.s.</text>
<line x1="309.2" y1="1046.1" x2="329.9" y2="1046.1" stroke="#111" stroke-width="1.8"/>
<text x="319.1" y="1042.5" font-size="17.2" text-anchor="middle" class="t">n.s.</text>
<line x1="72.4" y1="1028.5" x2="72.4" y2="1244.5" stroke="#333333" stroke-width="1.5"/>
<line x1="71.7" y1="1243.8" x2="352.7" y2="1243.8" stroke="#333333" stroke-width="1.5"/>
<text x="510.9" y="1020.5" font-size="17.7" text-anchor="middle" class="t">WT TAT-GluA2<tspan dy="4.4" font-size="13.8">3Y</tspan></text>
<rect x="383.2" y="1181.1" width="22.2" height="62.7" fill="#f8a042"/>
<rect x="405.1" y="1181.1" width="21.9" height="62.7" fill="#9e9ea2"/>
<path d="M394.1 1181.1V1169.4M391.4 1169.4H396.8" fill="none" stroke="#111" stroke-width="2.1"/>
<path d="M416 1181.1V1169.4M413.3 1169.4H418.7" fill="none" stroke="#111" stroke-width="2.1"/>
<text x="405.1" y="1264.7" font-size="17.2" text-anchor="middle" class="t">LDA</text>
<rect x="436.5" y="1151.3" width="22.2" height="92.5" fill="#f8a042"/>
<rect x="458.4" y="1151.3" width="21.9" height="92.5" fill="#9e9ea2"/>
<path d="M447.4 1151.3V1145.1M444.7 1145.1H450.1" fill="none" stroke="#111" stroke-width="2.1"/>
<path d="M469.3 1151.3V1145.1M466.6 1145.1H472" fill="none" stroke="#111" stroke-width="2.1"/>
<text x="458.4" y="1264.7" font-size="17.2" text-anchor="middle" class="t">NB</text>
<rect x="489.8" y="1135.5" width="22.2" height="108.3" fill="#f8a042"/>
<rect x="511.6" y="1135.5" width="21.9" height="108.3" fill="#9e9ea2"/>
<path d="M500.7 1135.5V1126.2M498 1126.2H503.4" fill="none" stroke="#111" stroke-width="2.1"/>
<path d="M522.6 1135.5V1126.2M519.9 1126.2H525.3" fill="none" stroke="#111" stroke-width="2.1"/>
<text x="511.6" y="1264.7" font-size="17.2" text-anchor="middle" class="t">QDA</text>
<rect x="543.1" y="1115.9" width="22.2" height="127.9" fill="#f8a042"/>
<rect x="564.9" y="1115.9" width="21.9" height="127.9" fill="#9e9ea2"/>
<path d="M554 1115.9V1098.8M551.3 1098.8H556.7" fill="none" stroke="#111" stroke-width="2.1"/>
<path d="M575.9 1115.9V1098.8M573.2 1098.8H578.6" fill="none" stroke="#111" stroke-width="2.1"/>
<text x="564.9" y="1264.7" font-size="17.2" text-anchor="middle" class="t">NN</text>
<rect x="596.4" y="1110.4" width="22.2" height="133.4" fill="#f8a042"/>
<rect x="618.2" y="1110.4" width="21.9" height="133.4" fill="#9e9ea2"/>
<path d="M607.3 1110.4V1094.7M604.6 1094.7H610" fill="none" stroke="#111" stroke-width="2.1"/>
<path d="M629.2 1110.4V1094.7M626.5 1094.7H631.9" fill="none" stroke="#111" stroke-width="2.1"/>
<text x="618.2" y="1264.7" font-size="17.2" text-anchor="middle" class="t">SVM</text>
<g fill="#4d4d4d" fill-opacity="0.66"><circle cx="395.6" cy="1197.5" r="1.65"/><circle cx="394.6" cy="1165.9" r="1.65"/><circle cx="395.9" cy="1146.7" r="1.65"/><circle cx="395.2" cy="1122.1" r="1.65"/><circle cx="396.3" cy="1222.8" r="1.65"/><circle cx="393.7" cy="1203.3" r="1.65"/><circle cx="391.9" cy="1209.8" r="1.65"/><circle cx="413.7" cy="1197.5" r="1.65"/><circle cx="417.4" cy="1165.9" r="1.65"/><circle cx="413.8" cy="1146.7" r="1.65"/><circle cx="417" cy="1122.1" r="1.65"/><circle cx="416.7" cy="1222.8" r="1.65"/><circle cx="413.2" cy="1203.3" r="1.65"/><circle cx="417.8" cy="1209.8" r="1.65"/><circle cx="445" cy="1156.5" r="1.65"/><circle cx="448.5" cy="1119.2" r="1.65"/><circle cx="445" cy="1144.5" r="1.65"/><circle cx="450.1" cy="1145.1" r="1.65"/><circle cx="448.6" cy="1160.8" r="1.65"/><circle cx="450.5" cy="1155.2" r="1.65"/><circle cx="444.6" cy="1177.5" r="1.65"/><circle cx="468.1" cy="1156.5" r="1.65"/><circle cx="470" cy="1119.2" r="1.65"/><circle cx="470" cy="1144.5" r="1.65"/><circle cx="467.2" cy="1145.1" r="1.65"/><circle cx="471.8" cy="1160.8" r="1.65"/><circle cx="471.5" cy="1155.2" r="1.65"/><circle cx="468" cy="1177.5" r="1.65"/><circle cx="500.5" cy="1113.4" r="1.65"/><circle cx="502.2" cy="1106.6" r="1.65"/><circle cx="500.2" cy="1165.7" r="1.65"/><circle cx="502.3" cy="1115.6" r="1.65"/><circle cx="501" cy="1160" r="1.65"/><circle cx="503.2" cy="1134.4" r="1.65"/><circle cx="501.7" cy="1122.4" r="1.65"/><circle cx="521.4" cy="1113.4" r="1.65"/><circle cx="520.3" cy="1106.6" r="1.65"/><circle cx="519.8" cy="1165.7" r="1.65"/><circle cx="519.6" cy="1115.6" r="1.65"/><circle cx="524.9" cy="1160" r="1.65"/><circle cx="525" cy="1134.4" r="1.65"/><circle cx="524.2" cy="1122.4" r="1.65"/><circle cx="554.7" cy="1112.6" r="1.65"/><circle cx="553.5" cy="1067.2" r="1.65"/><circle cx="556.3" cy="1073.6" r="1.65"/><circle cx="557" cy="1067.2" r="1.65"/><circle cx="552.4" cy="1067.2" r="1.65"/><circle cx="553.6" cy="1158.2" r="1.65"/><circle cx="555.5" cy="1178.5" r="1.65"/><circle cx="577" cy="1112.6" r="1.65"/><circle cx="575.3" cy="1067.2" r="1.65"/><circle cx="575.6" cy="1073.6" r="1.65"/><circle cx="578.9" cy="1067.2" r="1.65"/><circle cx="574.4" cy="1067.2" r="1.65"/><circle cx="574" cy="1158.2" r="1.65"/><circle cx="577.1" cy="1178.5" r="1.65"/><circle cx="605.5" cy="1125.5" r="1.65"/><circle cx="605.2" cy="1067.2" r="1.65"/><circle cx="604.3" cy="1153.9" r="1.65"/><circle cx="605.3" cy="1067.2" r="1.65"/><circle cx="608.4" cy="1173.7" r="1.65"/><circle cx="604.5" cy="1067.2" r="1.65"/><circle cx="605.6" cy="1110" r="1.65"/><circle cx="629.6" cy="1125.5" r="1.65"/><circle cx="627" cy="1067.2" r="1.65"/><circle cx="628.1" cy="1153.9" r="1.65"/><circle cx="627.4" cy="1067.2" r="1.65"/><circle cx="630.3" cy="1173.7" r="1.65"/><circle cx="626.7" cy="1067.2" r="1.65"/><circle cx="632.4" cy="1110" r="1.65"/></g>
<line x1="394.8" y1="1129.2" x2="415.4" y2="1129.2" stroke="#111" stroke-width="1.8"/>
<text x="404.6" y="1125.6" font-size="17.2" text-anchor="middle" class="t">n.s.</text>
<line x1="448.1" y1="1098.7" x2="468.7" y2="1098.7" stroke="#111" stroke-width="1.8"/>
<text x="457.9" y="1095.1" font-size="17.2" text-anchor="middle" class="t">n.s.</text>
<line x1="501.3" y1="1084" x2="521.9" y2="1084" stroke="#111" stroke-width="1.8"/>
<text x="511.1" y="1080.4" font-size="17.2" text-anchor="middle" class="t">n.s.</text>
<line x1="554.6" y1="1064.5" x2="575.2" y2="1064.5" stroke="#111" stroke-width="1.8"/>
<text x="564.4" y="1060.9" font-size="17.2" text-anchor="middle" class="t">n.s.</text>
<line x1="608" y1="1059" x2="628.5" y2="1059" stroke="#111" stroke-width="1.8"/>
<text x="617.8" y="1055.4" font-size="17.2" text-anchor="middle" class="t">n.s.</text>
<line x1="371" y1="1028.5" x2="371" y2="1244.5" stroke="#333333" stroke-width="1.5"/>
<line x1="370.3" y1="1243.8" x2="651.4" y2="1243.8" stroke="#333333" stroke-width="1.5"/>
<text x="809.6" y="1020.5" font-size="17.7" text-anchor="middle" class="t">Tg TAT-Cntrl</text>
<rect x="681.9" y="1199.6" width="22.2" height="44.2" fill="#f8a042"/>
<rect x="703.8" y="1202.4" width="21.9" height="41.4" fill="#9e9ea2"/>
<path d="M692.8 1199.6V1188.3M690.1 1188.3H695.5" fill="none" stroke="#111" stroke-width="2.1"/>
<path d="M714.7 1202.4V1188.7M712 1188.7H717.4" fill="none" stroke="#111" stroke-width="2.1"/>
<text x="703.8" y="1264.7" font-size="17.2" text-anchor="middle" class="t">LDA</text>
<rect x="735.2" y="1147.1" width="22.2" height="96.7" fill="#f8a042"/>
<rect x="757" y="1152.6" width="21.9" height="91.2" fill="#9e9ea2"/>
<path d="M746.1 1147.1V1135.8M743.4 1135.8H748.8" fill="none" stroke="#111" stroke-width="2.1"/>
<path d="M768 1152.6V1140.3M765.3 1140.3H770.7" fill="none" stroke="#111" stroke-width="2.1"/>
<text x="757" y="1264.7" font-size="17.2" text-anchor="middle" class="t">NB</text>
<rect x="788.5" y="1138.2" width="22.2" height="105.6" fill="#f8a042"/>
<rect x="810.4" y="1141.3" width="21.9" height="102.5" fill="#9e9ea2"/>
<path d="M799.4 1138.2V1122.5M796.7 1122.5H802.1" fill="none" stroke="#111" stroke-width="2.1"/>
<path d="M821.3 1141.3V1125.2M818.6 1125.2H824" fill="none" stroke="#111" stroke-width="2.1"/>
<text x="810.4" y="1264.7" font-size="17.2" text-anchor="middle" class="t">QDA</text>
<rect x="841.8" y="1162.9" width="22.2" height="80.9" fill="#f8a042"/>
<rect x="863.6" y="1150.9" width="21.9" height="92.9" fill="#9e9ea2"/>
<path d="M852.7 1162.9V1138.9M850 1138.9H855.4" fill="none" stroke="#111" stroke-width="2.1"/>
<path d="M874.6 1150.9V1126.2M871.9 1126.2H877.3" fill="none" stroke="#111" stroke-width="2.1"/>
<text x="863.6" y="1264.7" font-size="17.2" text-anchor="middle" class="t">NN</text>
<rect x="895.1" y="1152" width="22.2" height="91.8" fill="#f8a042"/>
<rect x="916.9" y="1147.1" width="21.9" height="96.7" fill="#9e9ea2"/>
<path d="M906 1152V1129M903.3 1129H908.7" fill="none" stroke="#111" stroke-width="2.1"/>
<path d="M927.9 1147.1V1120.1M925.2 1120.1H930.6" fill="none" stroke="#111" stroke-width="2.1"/>
<text x="916.9" y="1264.7" font-size="17.2" text-anchor="middle" class="t">SVM</text>
<g fill="#4d4d4d" fill-opacity="0.66"><circle cx="692.3" cy="1203.9" r="1.65"/><circle cx="689.8" cy="1204.8" r="1.65"/><circle cx="691" cy="1203" r="1.65"/><circle cx="692.9" cy="1178.6" r="1.65"/><circle cx="689.8" cy="1203.4" r="1.65"/><circle cx="690.9" cy="1235.3" r="1.65"/><circle cx="693.8" cy="1189.7" r="1.65"/><circle cx="715.9" cy="1212.1" r="1.65"/><circle cx="713.7" cy="1227" r="1.65"/><circle cx="712.5" cy="1209.5" r="1.65"/><circle cx="717.6" cy="1235.3" r="1.65"/><circle cx="713.6" cy="1235.3" r="1.65"/><circle cx="712.1" cy="1136.7" r="1.65"/><circle cx="712.1" cy="1199.7" r="1.65"/><circle cx="748.2" cy="1123.7" r="1.65"/><circle cx="746.9" cy="1180.5" r="1.65"/><circle cx="748.4" cy="1130.1" r="1.65"/><circle cx="746.6" cy="1192.5" r="1.65"/><circle cx="747.4" cy="1225.6" r="1.65"/><circle cx="743.2" cy="1165.3" r="1.65"/><circle cx="744.4" cy="1174.6" r="1.65"/><circle cx="767.1" cy="1124" r="1.65"/><circle cx="767.1" cy="1155.9" r="1.65"/><circle cx="766.1" cy="1139.7" r="1.65"/><circle cx="766.5" cy="1151" r="1.65"/><circle cx="770.8" cy="1137.6" r="1.65"/><circle cx="768.9" cy="1160.8" r="1.65"/><circle cx="768.7" cy="1106.9" r="1.65"/><circle cx="801.6" cy="1106.2" r="1.65"/><circle cx="801.2" cy="1078.9" r="1.65"/><circle cx="797.7" cy="1117.1" r="1.65"/><circle cx="796.4" cy="1103.3" r="1.65"/><circle cx="798.2" cy="1078.7" r="1.65"/><circle cx="797.9" cy="1142.2" r="1.65"/><circle cx="797.6" cy="1197.6" r="1.65"/><circle cx="821" cy="1164" r="1.65"/><circle cx="819.8" cy="1067.2" r="1.65"/><circle cx="819.7" cy="1171.9" r="1.65"/><circle cx="821.7" cy="1165.9" r="1.65"/><circle cx="819.8" cy="1084.1" r="1.65"/><circle cx="821.8" cy="1216.3" r="1.65"/><circle cx="823.8" cy="1083.6" r="1.65"/><circle cx="854.6" cy="1199" r="1.65"/><circle cx="852.2" cy="1136.5" r="1.65"/><circle cx="849.9" cy="1087.1" r="1.65"/><circle cx="852" cy="1164.1" r="1.65"/><circle cx="855.9" cy="1146.3" r="1.65"/><circle cx="852.9" cy="1152.3" r="1.65"/><circle cx="855.7" cy="1094" r="1.65"/><circle cx="875.5" cy="1092.6" r="1.65"/><circle cx="872.1" cy="1144.6" r="1.65"/><circle cx="874.2" cy="1158.5" r="1.65"/><circle cx="874.3" cy="1169" r="1.65"/><circle cx="877.5" cy="1235.3" r="1.65"/><circle cx="877" cy="1201" r="1.65"/><circle cx="873.1" cy="1162.8" r="1.65"/><circle cx="907.7" cy="1190.1" r="1.65"/><circle cx="906.3" cy="1152.1" r="1.65"/><circle cx="907.8" cy="1067.2" r="1.65"/><circle cx="906.2" cy="1216.1" r="1.65"/><circle cx="902.8" cy="1178" r="1.65"/><circle cx="904.9" cy="1069.2" r="1.65"/><circle cx="902.9" cy="1179.1" r="1.65"/><circle cx="930.7" cy="1173.3" r="1.65"/><circle cx="925.2" cy="1067.2" r="1.65"/><circle cx="927.8" cy="1210.6" r="1.65"/><circle cx="925.1" cy="1117" r="1.65"/><circle cx="929.5" cy="1200.7" r="1.65"/><circle cx="929.6" cy="1067.2" r="1.65"/><circle cx="925.5" cy="1094.8" r="1.65"/></g>
<line x1="693.5" y1="1149" x2="714" y2="1149" stroke="#111" stroke-width="1.8"/>
<text x="703.2" y="1145.4" font-size="17.2" text-anchor="middle" class="t">n.s.</text>
<line x1="746.8" y1="1096.5" x2="767.3" y2="1096.5" stroke="#111" stroke-width="1.8"/>
<text x="756.5" y="1092.9" font-size="17.2" text-anchor="middle" class="t">n.s.</text>
<line x1="800.1" y1="1087.6" x2="820.6" y2="1087.6" stroke="#111" stroke-width="1.8"/>
<text x="809.9" y="1084" font-size="17.2" text-anchor="middle" class="t">n.s.</text>
<line x1="853.4" y1="1111.5" x2="873.9" y2="1111.5" stroke="#111" stroke-width="1.8"/>
<text x="863.1" y="1107.9" font-size="17.2" text-anchor="middle" class="t">n.s.</text>
<line x1="906.6" y1="1100.9" x2="927.2" y2="1100.9" stroke="#111" stroke-width="1.8"/>
<text x="916.4" y="1097.3" font-size="17.2" text-anchor="middle" class="t">n.s.</text>
<line x1="669.4" y1="1028.5" x2="669.4" y2="1244.5" stroke="#333333" stroke-width="1.5"/>
<line x1="668.7" y1="1243.8" x2="950.4" y2="1243.8" stroke="#333333" stroke-width="1.5"/>
<text x="1108.6" y="1020.5" font-size="17.7" text-anchor="middle" class="t">Tg TAT-GluA2<tspan dy="4.4" font-size="13.8">3Y</tspan></text>
<rect x="980.6" y="1190" width="22.2" height="53.8" fill="#f8a042"/>
<rect x="1002.5" y="1190" width="21.9" height="53.8" fill="#9e9ea2"/>
<path d="M991.5 1190V1180.1M988.8 1180.1H994.2" fill="none" stroke="#111" stroke-width="2.1"/>
<path d="M1013.4 1190V1180.1M1010.7 1180.1H1016.1" fill="none" stroke="#111" stroke-width="2.1"/>
<text x="1002.5" y="1264.7" font-size="17.2" text-anchor="middle" class="t">LDA</text>
<rect x="1033.9" y="1156.8" width="22.2" height="87" fill="#f8a042"/>
<rect x="1055.8" y="1156.8" width="21.9" height="87" fill="#9e9ea2"/>
<path d="M1044.8 1156.8V1153M1042.1 1153H1047.5" fill="none" stroke="#111" stroke-width="2.1"/>
<path d="M1066.7 1156.8V1153M1064 1153H1069.4" fill="none" stroke="#111" stroke-width="2.1"/>
<text x="1055.8" y="1264.7" font-size="17.2" text-anchor="middle" class="t">NB</text>
<rect x="1087.2" y="1137.9" width="22.2" height="105.9" fill="#f8a042"/>
<rect x="1109" y="1137.9" width="21.9" height="105.9" fill="#9e9ea2"/>
<path d="M1098.1 1137.9V1129M1095.4 1129H1100.8" fill="none" stroke="#111" stroke-width="2.1"/>
<path d="M1120 1137.9V1129M1117.3 1129H1122.7" fill="none" stroke="#111" stroke-width="2.1"/>
<text x="1109" y="1264.7" font-size="17.2" text-anchor="middle" class="t">QDA</text>
<rect x="1140.5" y="1112.2" width="22.2" height="131.6" fill="#f8a042"/>
<rect x="1162.3" y="1112.2" width="21.9" height="131.6" fill="#9e9ea2"/>
<path d="M1151.4 1112.2V1097.4M1148.7 1097.4H1154.1" fill="none" stroke="#111" stroke-width="2.1"/>
<path d="M1173.3 1112.2V1097.4M1170.6 1097.4H1176" fill="none" stroke="#111" stroke-width="2.1"/>
<text x="1162.3" y="1264.7" font-size="17.2" text-anchor="middle" class="t">NN</text>
<rect x="1193.8" y="1112.5" width="22.2" height="131.3" fill="#f8a042"/>
<rect x="1215.6" y="1112.5" width="21.9" height="131.3" fill="#9e9ea2"/>
<path d="M1204.7 1112.5V1095M1202 1095H1207.4" fill="none" stroke="#111" stroke-width="2.1"/>
<path d="M1226.6 1112.5V1095M1223.9 1095H1229.3" fill="none" stroke="#111" stroke-width="2.1"/>
<text x="1215.6" y="1264.7" font-size="17.2" text-anchor="middle" class="t">SVM</text>
<g fill="#4d4d4d" fill-opacity="0.66"><circle cx="988.4" cy="1150.6" r="1.65"/><circle cx="991.1" cy="1180.3" r="1.65"/><circle cx="990.7" cy="1171.9" r="1.65"/><circle cx="993.8" cy="1167" r="1.65"/><circle cx="991.8" cy="1212.1" r="1.65"/><circle cx="993.2" cy="1231.2" r="1.65"/><circle cx="991.1" cy="1219.6" r="1.65"/><circle cx="1011.3" cy="1150.6" r="1.65"/><circle cx="1015.6" cy="1180.3" r="1.65"/><circle cx="1015.4" cy="1171.9" r="1.65"/><circle cx="1012.6" cy="1167" r="1.65"/><circle cx="1010.8" cy="1212.1" r="1.65"/><circle cx="1013.5" cy="1231.2" r="1.65"/><circle cx="1013.3" cy="1219.6" r="1.65"/><circle cx="1042" cy="1153.4" r="1.65"/><circle cx="1047.7" cy="1154.9" r="1.65"/><circle cx="1047" cy="1170.1" r="1.65"/><circle cx="1043.5" cy="1169.8" r="1.65"/><circle cx="1047.3" cy="1157.3" r="1.65"/><circle cx="1045" cy="1159" r="1.65"/><circle cx="1042.3" cy="1154.5" r="1.65"/><circle cx="1069" cy="1153.4" r="1.65"/><circle cx="1067.2" cy="1154.9" r="1.65"/><circle cx="1069.4" cy="1170.1" r="1.65"/><circle cx="1067.8" cy="1169.8" r="1.65"/><circle cx="1064.1" cy="1157.3" r="1.65"/><circle cx="1067.5" cy="1159" r="1.65"/><circle cx="1068.5" cy="1154.5" r="1.65"/><circle cx="1098.7" cy="1120.8" r="1.65"/><circle cx="1097.3" cy="1150.4" r="1.65"/><circle cx="1096.1" cy="1174" r="1.65"/><circle cx="1098.8" cy="1144.5" r="1.65"/><circle cx="1101.1" cy="1115" r="1.65"/><circle cx="1098.5" cy="1098.2" r="1.65"/><circle cx="1095.7" cy="1136.4" r="1.65"/><circle cx="1119.9" cy="1120.8" r="1.65"/><circle cx="1121.8" cy="1150.4" r="1.65"/><circle cx="1122.9" cy="1174" r="1.65"/><circle cx="1121.4" cy="1144.5" r="1.65"/><circle cx="1117" cy="1115" r="1.65"/><circle cx="1123" cy="1098.2" r="1.65"/><circle cx="1120.6" cy="1136.4" r="1.65"/><circle cx="1148.9" cy="1124.4" r="1.65"/><circle cx="1151.7" cy="1094.6" r="1.65"/><circle cx="1151.1" cy="1102" r="1.65"/><circle cx="1148.5" cy="1067.2" r="1.65"/><circle cx="1148.2" cy="1082.4" r="1.65"/><circle cx="1154" cy="1072" r="1.65"/><circle cx="1154.5" cy="1067.2" r="1.65"/><circle cx="1170.9" cy="1124.4" r="1.65"/><circle cx="1174.8" cy="1094.6" r="1.65"/><circle cx="1176.4" cy="1102" r="1.65"/><circle cx="1175.9" cy="1067.2" r="1.65"/><circle cx="1175.7" cy="1082.4" r="1.65"/><circle cx="1172.2" cy="1072" r="1.65"/><circle cx="1174.7" cy="1067.2" r="1.65"/><circle cx="1202.8" cy="1221.4" r="1.65"/><circle cx="1207.5" cy="1111.2" r="1.65"/><circle cx="1204.1" cy="1138.4" r="1.65"/><circle cx="1205.9" cy="1197.8" r="1.65"/><circle cx="1205.2" cy="1084" r="1.65"/><circle cx="1203.2" cy="1148.2" r="1.65"/><circle cx="1205.3" cy="1117.3" r="1.65"/><circle cx="1229.2" cy="1221.4" r="1.65"/><circle cx="1225.5" cy="1111.2" r="1.65"/><circle cx="1225.6" cy="1138.4" r="1.65"/><circle cx="1224.6" cy="1197.8" r="1.65"/><circle cx="1224.5" cy="1084" r="1.65"/><circle cx="1228.7" cy="1148.2" r="1.65"/><circle cx="1227.9" cy="1117.3" r="1.65"/></g>
<line x1="992.2" y1="1138.7" x2="1012.8" y2="1138.7" stroke="#111" stroke-width="1.8"/>
<text x="1002" y="1135.1" font-size="17.2" text-anchor="middle" class="t">n.s.</text>
<line x1="1045.5" y1="1106" x2="1066" y2="1106" stroke="#111" stroke-width="1.8"/>
<text x="1055.2" y="1102.4" font-size="17.2" text-anchor="middle" class="t">n.s.</text>
<line x1="1098.8" y1="1086.9" x2="1119.3" y2="1086.9" stroke="#111" stroke-width="1.8"/>
<text x="1108.5" y="1083.3" font-size="17.2" text-anchor="middle" class="t">n.s.</text>
<line x1="1152" y1="1061.2" x2="1172.6" y2="1061.2" stroke="#111" stroke-width="1.8"/>
<text x="1161.8" y="1057.6" font-size="17.2" text-anchor="middle" class="t">n.s.</text>
<line x1="1205.3" y1="1061.5" x2="1225.9" y2="1061.5" stroke="#111" stroke-width="1.8"/>
<text x="1215.1" y="1057.9" font-size="17.2" text-anchor="middle" class="t">n.s.</text>
<line x1="968.8" y1="1028.5" x2="968.8" y2="1244.5" stroke="#333333" stroke-width="1.5"/>
<line x1="968.1" y1="1243.8" x2="1249.1" y2="1243.8" stroke="#333333" stroke-width="1.5"/>
<rect x="1265.4" y="1117.6" width="33.7" height="10.7" fill="#f8a042"/>
<text x="1314.8" y="1128.7" font-size="17.6" class="t">Balanced subsample</text>
<rect x="1265.4" y="1143" width="33.7" height="10.2" fill="#9e9ea2"/>
<text x="1314.8" y="1154.2" font-size="17.6" class="t">Original data, balanced accuracy</text>
<text x="11.5" y="1377" font-size="30" text-anchor="middle" class="t">G</text>
<text x="68.8" y="1592.5" font-size="10.6" text-anchor="end" class="t">0.5</text>
<text x="68.8" y="1549" font-size="10.6" text-anchor="end" class="t">0.6</text>
<text x="68.8" y="1505.5" font-size="10.6" text-anchor="end" class="t">0.7</text>
<text x="68.8" y="1462" font-size="10.6" text-anchor="end" class="t">0.8</text>
<text x="68.8" y="1418.5" font-size="10.6" text-anchor="end" class="t">0.9</text>
<text x="68.8" y="1375" font-size="10.6" text-anchor="end" class="t">1.0</text>
<text x="49.5" y="1485.6" font-size="10.6" text-anchor="middle" transform="rotate(-90 49.5 1485.6)" class="t">Balanced accuracy</text>
<rect x="83.4" y="1505.2" width="16.2" height="94.1" fill="#9e9ea2"/>
<rect x="83.4" y="1505.2" width="16.2" height="94.1" fill="none" stroke="#9e9ea2" stroke-width="1.2"/>
<path d="M91.5 1505.2V1498.2M86.8 1498.2H96.2" fill="none" stroke="#9e9ea2" stroke-width="2"/>
<rect x="105.3" y="1500.4" width="16.2" height="98.9" fill="#9e9ea2"/>
<rect x="105.3" y="1500.4" width="16.2" height="98.9" fill="url(#p32)"/>
<rect x="105.3" y="1500.4" width="16.2" height="98.9" fill="none" stroke="#9e9ea2" stroke-width="1.2"/>
<path d="M113.4 1500.4V1493M108.7 1493H118.2" fill="none" stroke="#9e9ea2" stroke-width="2"/>
<rect x="127.2" y="1504.3" width="16.2" height="95" fill="#9e9ea2"/>
<rect x="127.2" y="1504.3" width="16.2" height="95" fill="url(#p33)"/>
<rect x="127.2" y="1504.3" width="16.2" height="95" fill="none" stroke="#9e9ea2" stroke-width="1.2"/>
<path d="M135.3 1504.3V1495.6M130.6 1495.6H140.1" fill="none" stroke="#9e9ea2" stroke-width="2"/>
<path d="M91.5 1473.4L113.4 1473.2L135.3 1470.6" fill="none" stroke="#7f7fd0" stroke-width="1.3" stroke-opacity="0.33"/>
<path d="M91.5 1482.1L113.4 1463.8L135.3 1465" fill="none" stroke="#7f7fd0" stroke-width="1.3" stroke-opacity="0.33"/>
<path d="M91.5 1490L113.4 1478L135.3 1491.3" fill="none" stroke="#7f7fd0" stroke-width="1.3" stroke-opacity="0.33"/>
<path d="M91.5 1501.7L113.4 1498.5L135.3 1497.9" fill="none" stroke="#7f7fd0" stroke-width="1.3" stroke-opacity="0.33"/>
<path d="M91.5 1506.1L113.4 1499.3L135.3 1500.3" fill="none" stroke="#7f7fd0" stroke-width="1.3" stroke-opacity="0.33"/>
<path d="M91.5 1508.2L113.4 1496.8L135.3 1497.8" fill="none" stroke="#7f7fd0" stroke-width="1.3" stroke-opacity="0.33"/>
<path d="M91.5 1512.6L113.4 1515.5L135.3 1512.4" fill="none" stroke="#7f7fd0" stroke-width="1.3" stroke-opacity="0.33"/>
<path d="M91.5 1519.1L113.4 1515.3L135.3 1520.3" fill="none" stroke="#7f7fd0" stroke-width="1.3" stroke-opacity="0.33"/>
<path d="M91.5 1563.5L113.4 1567L135.3 1578.7" fill="none" stroke="#7f7fd0" stroke-width="1.3" stroke-opacity="0.33"/>
<path d="M91.5 1499.5L113.4 1488.6L135.3 1489.4" fill="none" stroke="#7f7fd0" stroke-width="1.3" stroke-opacity="0.33"/>
<g fill="#55556a" fill-opacity="0.35" stroke="#55556a" stroke-opacity="0.45" stroke-width="0.6"><circle cx="91.5" cy="1473.4" r="1.35"/><circle cx="113.4" cy="1473.2" r="1.35"/><circle cx="135.3" cy="1470.6" r="1.35"/><circle cx="91.5" cy="1482.1" r="1.35"/><circle cx="113.4" cy="1463.8" r="1.35"/><circle cx="135.3" cy="1465" r="1.35"/><circle cx="91.5" cy="1490" r="1.35"/><circle cx="113.4" cy="1478" r="1.35"/><circle cx="135.3" cy="1491.3" r="1.35"/><circle cx="91.5" cy="1501.7" r="1.35"/><circle cx="113.4" cy="1498.5" r="1.35"/><circle cx="135.3" cy="1497.9" r="1.35"/><circle cx="91.5" cy="1506.1" r="1.35"/><circle cx="113.4" cy="1499.3" r="1.35"/><circle cx="135.3" cy="1500.3" r="1.35"/><circle cx="91.5" cy="1508.2" r="1.35"/><circle cx="113.4" cy="1496.8" r="1.35"/><circle cx="135.3" cy="1497.8" r="1.35"/><circle cx="91.5" cy="1512.6" r="1.35"/><circle cx="113.4" cy="1515.5" r="1.35"/><circle cx="135.3" cy="1512.4" r="1.35"/><circle cx="91.5" cy="1519.1" r="1.35"/><circle cx="113.4" cy="1515.3" r="1.35"/><circle cx="135.3" cy="1520.3" r="1.35"/><circle cx="91.5" cy="1563.5" r="1.35"/><circle cx="113.4" cy="1567" r="1.35"/><circle cx="135.3" cy="1578.7" r="1.35"/><circle cx="91.5" cy="1499.5" r="1.35"/><circle cx="113.4" cy="1488.6" r="1.35"/><circle cx="135.3" cy="1489.4" r="1.35"/></g>
<path d="M91.5 1436.4V1432.2H135.3V1436.4" fill="none" stroke="#111" stroke-width="1.1"/>
<text x="113.4" y="1428" font-size="10.3" text-anchor="middle" class="t">n.s.</text>
<text x="113.4" y="1614.9" font-size="10.6" text-anchor="middle" class="t">WT</text>
<text x="114.4" y="1626.2" font-size="10.6" text-anchor="middle" class="t">TAT-Cntrl  (10)</text>
<rect x="159.3" y="1520" width="16.2" height="79.3" fill="#f8a042"/>
<rect x="159.3" y="1520" width="16.2" height="79.3" fill="none" stroke="#f8a042" stroke-width="1.2"/>
<path d="M167.4 1520V1506.5M162.7 1506.5H172.2" fill="none" stroke="#f8a042" stroke-width="2"/>
<rect x="181.2" y="1518.7" width="16.2" height="80.6" fill="#f8a042"/>
<rect x="181.2" y="1518.7" width="16.2" height="80.6" fill="url(#p34)"/>
<rect x="181.2" y="1518.7" width="16.2" height="80.6" fill="none" stroke="#f8a042" stroke-width="1.2"/>
<path d="M189.3 1518.7V1504.7M184.6 1504.7H194.1" fill="none" stroke="#f8a042" stroke-width="2"/>
<rect x="203.1" y="1519.5" width="16.2" height="79.8" fill="#f8a042"/>
<rect x="203.1" y="1519.5" width="16.2" height="79.8" fill="url(#p35)"/>
<rect x="203.1" y="1519.5" width="16.2" height="79.8" fill="none" stroke="#f8a042" stroke-width="1.2"/>
<path d="M211.2 1519.5V1505.2M206.5 1505.2H216" fill="none" stroke="#f8a042" stroke-width="2"/>
<path d="M167.4 1452.5L189.3 1448L211.2 1447.9" fill="none" stroke="#7f7fd0" stroke-width="1.3" stroke-opacity="0.33"/>
<path d="M167.4 1504.7L189.3 1497L211.2 1501.1" fill="none" stroke="#7f7fd0" stroke-width="1.3" stroke-opacity="0.33"/>
<path d="M167.4 1512.6L189.3 1495.3L211.2 1500.3" fill="none" stroke="#7f7fd0" stroke-width="1.3" stroke-opacity="0.33"/>
<path d="M167.4 1520.4L189.3 1519L211.2 1523" fill="none" stroke="#7f7fd0" stroke-width="1.3" stroke-opacity="0.33"/>
<path d="M167.4 1530L189.3 1524.1L211.2 1523.8" fill="none" stroke="#7f7fd0" stroke-width="1.3" stroke-opacity="0.33"/>
<path d="M167.4 1535.6L189.3 1532.7L211.2 1538.6" fill="none" stroke="#7f7fd0" stroke-width="1.3" stroke-opacity="0.33"/>
<path d="M167.4 1586.5L189.3 1585.9L211.2 1586.1" fill="none" stroke="#7f7fd0" stroke-width="1.3" stroke-opacity="0.33"/>
<g fill="#55556a" fill-opacity="0.35" stroke="#55556a" stroke-opacity="0.45" stroke-width="0.6"><circle cx="167.4" cy="1452.5" r="1.35"/><circle cx="189.3" cy="1448" r="1.35"/><circle cx="211.2" cy="1447.9" r="1.35"/><circle cx="167.4" cy="1504.7" r="1.35"/><circle cx="189.3" cy="1497" r="1.35"/><circle cx="211.2" cy="1501.1" r="1.35"/><circle cx="167.4" cy="1512.6" r="1.35"/><circle cx="189.3" cy="1495.3" r="1.35"/><circle cx="211.2" cy="1500.3" r="1.35"/><circle cx="167.4" cy="1520.4" r="1.35"/><circle cx="189.3" cy="1519" r="1.35"/><circle cx="211.2" cy="1523" r="1.35"/><circle cx="167.4" cy="1530" r="1.35"/><circle cx="189.3" cy="1524.1" r="1.35"/><circle cx="211.2" cy="1523.8" r="1.35"/><circle cx="167.4" cy="1535.6" r="1.35"/><circle cx="189.3" cy="1532.7" r="1.35"/><circle cx="211.2" cy="1538.6" r="1.35"/><circle cx="167.4" cy="1586.5" r="1.35"/><circle cx="189.3" cy="1585.9" r="1.35"/><circle cx="211.2" cy="1586.1" r="1.35"/></g>
<path d="M167.4 1436.4V1432.2H211.2V1436.4" fill="none" stroke="#111" stroke-width="1.1"/>
<text x="189.3" y="1428" font-size="10.3" text-anchor="middle" class="t">n.s.</text>
<text x="189.3" y="1614.9" font-size="10.6" text-anchor="middle" class="t">WT</text>
<text x="190.3" y="1626.2" font-size="10.6" text-anchor="middle" class="t">TAT-GluA2<tspan dy="2.6" font-size="7.4">3Y</tspan><tspan dy="-2.6" font-size="10.6"> (7)</tspan></text>
<rect x="235.5" y="1547.7" width="15.6" height="51.6" fill="#fff"/>
<rect x="235.5" y="1547.7" width="15.6" height="51.6" fill="none" stroke="#9e9ea2" stroke-width="1.7"/>
<path d="M243.3 1547.4V1530M238.6 1530H248.1" fill="none" stroke="#9e9ea2" stroke-width="2"/>
<rect x="257.4" y="1540.7" width="15.6" height="58.6" fill="#fff"/>
<rect x="257.4" y="1540.7" width="15.6" height="58.6" fill="url(#p36)"/>
<rect x="257.4" y="1540.7" width="15.6" height="58.6" fill="none" stroke="#9e9ea2" stroke-width="1.7"/>
<path d="M265.2 1540.4V1518.7M260.5 1518.7H270" fill="none" stroke="#9e9ea2" stroke-width="2"/>
<rect x="279.3" y="1543.3" width="15.6" height="56" fill="#fff"/>
<rect x="279.3" y="1543.3" width="15.6" height="56" fill="url(#p37)"/>
<rect x="279.3" y="1543.3" width="15.6" height="56" fill="none" stroke="#9e9ea2" stroke-width="1.7"/>
<path d="M287.1 1543V1520.8M282.4 1520.8H291.9" fill="none" stroke="#9e9ea2" stroke-width="2"/>
<path d="M243.3 1492.1L265.2 1448.6L287.1 1446.5" fill="none" stroke="#7f7fd0" stroke-width="1.3" stroke-opacity="0.33"/>
<path d="M243.3 1493.9L265.2 1486.8L287.1 1487.4" fill="none" stroke="#7f7fd0" stroke-width="1.3" stroke-opacity="0.33"/>
<path d="M243.3 1538.7L265.2 1536.7L287.1 1535" fill="none" stroke="#7f7fd0" stroke-width="1.3" stroke-opacity="0.33"/>
<path d="M243.3 1586.5L265.2 1585.9L287.1 1585.6" fill="none" stroke="#7f7fd0" stroke-width="1.3" stroke-opacity="0.33"/>
<path d="M243.3 1588.7L265.2 1587.5L287.1 1588.3" fill="none" stroke="#7f7fd0" stroke-width="1.3" stroke-opacity="0.33"/>
<path d="M243.3 1588.7L265.2 1587.3L287.1 1587.3" fill="none" stroke="#7f7fd0" stroke-width="1.3" stroke-opacity="0.33"/>
<g fill="#55556a" fill-opacity="0.35" stroke="#55556a" stroke-opacity="0.45" stroke-width="0.6"><circle cx="243.3" cy="1492.1" r="1.35"/><circle cx="265.2" cy="1448.6" r="1.35"/><circle cx="287.1" cy="1446.5" r="1.35"/><circle cx="243.3" cy="1493.9" r="1.35"/><circle cx="265.2" cy="1486.8" r="1.35"/><circle cx="287.1" cy="1487.4" r="1.35"/><circle cx="243.3" cy="1538.7" r="1.35"/><circle cx="265.2" cy="1536.7" r="1.35"/><circle cx="287.1" cy="1535" r="1.35"/><circle cx="243.3" cy="1586.5" r="1.35"/><circle cx="265.2" cy="1585.9" r="1.35"/><circle cx="287.1" cy="1585.6" r="1.35"/><circle cx="243.3" cy="1588.7" r="1.35"/><circle cx="265.2" cy="1587.5" r="1.35"/><circle cx="287.1" cy="1588.3" r="1.35"/><circle cx="243.3" cy="1588.7" r="1.35"/><circle cx="265.2" cy="1587.3" r="1.35"/><circle cx="287.1" cy="1587.3" r="1.35"/></g>
<path d="M243.3 1436.4V1432.2H287.1V1436.4" fill="none" stroke="#111" stroke-width="1.1"/>
<text x="265.2" y="1428" font-size="10.3" text-anchor="middle" class="t">n.s.</text>
<text x="265.2" y="1614.9" font-size="10.6" text-anchor="middle" class="t">Tg</text>
<text x="266.2" y="1626.2" font-size="10.6" text-anchor="middle" class="t">TAT-Cntrl  (6)</text>
<rect x="311.4" y="1532.5" width="15.6" height="66.8" fill="#fff"/>
<rect x="311.4" y="1532.5" width="15.6" height="66.8" fill="none" stroke="#f8a042" stroke-width="1.7"/>
<path d="M319.2 1532.2V1519.1M314.5 1519.1H324" fill="none" stroke="#f8a042" stroke-width="2"/>
<rect x="333.3" y="1525.9" width="15.6" height="73.4" fill="#fff"/>
<rect x="333.3" y="1525.9" width="15.6" height="73.4" fill="url(#p38)"/>
<rect x="333.3" y="1525.9" width="15.6" height="73.4" fill="none" stroke="#f8a042" stroke-width="1.7"/>
<path d="M341.1 1525.6V1513.9M336.4 1513.9H345.9" fill="none" stroke="#f8a042" stroke-width="2"/>
<rect x="355.2" y="1529.8" width="15.6" height="69.5" fill="#fff"/>
<rect x="355.2" y="1529.8" width="15.6" height="69.5" fill="url(#p39)"/>
<rect x="355.2" y="1529.8" width="15.6" height="69.5" fill="none" stroke="#f8a042" stroke-width="1.7"/>
<path d="M363 1529.5V1517.8M358.3 1517.8H367.8" fill="none" stroke="#f8a042" stroke-width="2"/>
<path d="M319.2 1486.5L341.1 1481.5L363 1478.8" fill="none" stroke="#7f7fd0" stroke-width="1.3" stroke-opacity="0.33"/>
<path d="M319.2 1503.9L341.1 1504.9L363 1506.2" fill="none" stroke="#7f7fd0" stroke-width="1.3" stroke-opacity="0.33"/>
<path d="M319.2 1508.2L341.1 1497.5L363 1496" fill="none" stroke="#7f7fd0" stroke-width="1.3" stroke-opacity="0.33"/>
<path d="M319.2 1519.1L341.1 1520.8L363 1526" fill="none" stroke="#7f7fd0" stroke-width="1.3" stroke-opacity="0.33"/>
<path d="M319.2 1551.7L341.1 1551.2L363 1559.5" fill="none" stroke="#7f7fd0" stroke-width="1.3" stroke-opacity="0.33"/>
<path d="M319.2 1564.8L341.1 1536.5L363 1545.2" fill="none" stroke="#7f7fd0" stroke-width="1.3" stroke-opacity="0.33"/>
<path d="M319.2 1588.7L341.1 1587.8L363 1587.6" fill="none" stroke="#7f7fd0" stroke-width="1.3" stroke-opacity="0.33"/>
<g fill="#55556a" fill-opacity="0.35" stroke="#55556a" stroke-opacity="0.45" stroke-width="0.6"><circle cx="319.2" cy="1486.5" r="1.35"/><circle cx="341.1" cy="1481.5" r="1.35"/><circle cx="363" cy="1478.8" r="1.35"/><circle cx="319.2" cy="1503.9" r="1.35"/><circle cx="341.1" cy="1504.9" r="1.35"/><circle cx="363" cy="1506.2" r="1.35"/><circle cx="319.2" cy="1508.2" r="1.35"/><circle cx="341.1" cy="1497.5" r="1.35"/><circle cx="363" cy="1496" r="1.35"/><circle cx="319.2" cy="1519.1" r="1.35"/><circle cx="341.1" cy="1520.8" r="1.35"/><circle cx="363" cy="1526" r="1.35"/><circle cx="319.2" cy="1551.7" r="1.35"/><circle cx="341.1" cy="1551.2" r="1.35"/><circle cx="363" cy="1559.5" r="1.35"/><circle cx="319.2" cy="1564.8" r="1.35"/><circle cx="341.1" cy="1536.5" r="1.35"/><circle cx="363" cy="1545.2" r="1.35"/><circle cx="319.2" cy="1588.7" r="1.35"/><circle cx="341.1" cy="1587.8" r="1.35"/><circle cx="363" cy="1587.6" r="1.35"/></g>
<path d="M319.2 1436.4V1432.2H363V1436.4" fill="none" stroke="#111" stroke-width="1.1"/>
<text x="341.1" y="1428" font-size="10.3" text-anchor="middle" class="t">n.s.</text>
<text x="341.1" y="1614.9" font-size="10.6" text-anchor="middle" class="t">Tg</text>
<text x="342.1" y="1626.2" font-size="10.6" text-anchor="middle" class="t">TAT-GluA2<tspan dy="2.6" font-size="7.4">3Y</tspan><tspan dy="-2.6" font-size="10.6"> (7)</tspan></text>
<line x1="73.3" y1="1371.2" x2="73.3" y2="1599.9" stroke="#333333" stroke-width="1.3"/>
<line x1="72.7" y1="1599.3" x2="379.8" y2="1599.3" stroke="#333333" stroke-width="1.3"/>
<rect x="389" y="1381" width="19.9" height="6.8" fill="#fff"/>
<rect x="389" y="1381" width="19.9" height="6.8" fill="none" stroke="#48484a" stroke-width="2"/>
<text x="417.6" y="1388.3" font-size="10" class="t">LDA</text>
<rect x="389" y="1395.9" width="19.9" height="6.8" fill="#fff"/>
<path d="M377.6 1395.9L386.1 1402.7M377.6 1402.7L386.1 1395.9M386.1 1395.9L394.7 1402.7M386.1 1402.7L394.7 1395.9M394.7 1395.9L403.2 1402.7M394.7 1402.7L403.2 1395.9M403.2 1395.9L411.8 1402.7M403.2 1402.7L411.8 1395.9M411.8 1395.9L420.3 1402.7M411.8 1402.7L420.3 1395.9" fill="none" stroke="#48484a" stroke-width="2.8" clip-path="url(#lc71)"/>
<rect x="389" y="1395.9" width="19.9" height="6.8" fill="none" stroke="#48484a" stroke-width="2"/>
<text x="417.6" y="1403.2" font-size="10" class="t">LR</text>
<rect x="389" y="1410.8" width="19.9" height="6.8" fill="#fff"/>
<path d="M377.9 1410.8L382.2 1417.6L386.4 1410.8M386.4 1410.8L390.7 1417.6L395 1410.8M395 1410.8L399.2 1417.6L403.5 1410.8M403.5 1410.8L407.8 1417.6L412.1 1410.8M412.1 1410.8L416.3 1417.6L420.6 1410.8" fill="none" stroke="#48484a" stroke-width="3.2" clip-path="url(#lc72)"/>
<rect x="389" y="1410.8" width="19.9" height="6.8" fill="none" stroke="#48484a" stroke-width="2"/>
<text x="417.6" y="1418.1" font-size="10" class="t">SVM</text>
<text x="538.5" y="1376.8" font-size="30" text-anchor="middle" class="t">H</text>
<text x="633.3" y="1341.8" font-size="14.1" text-anchor="middle" class="t">Cell activity</text>
<text x="574.4" y="1604" font-size="10" text-anchor="end" font-family='"DejaVu Sans", "Liberation Sans", sans-serif' fill="#262626" stroke="#262626" stroke-width="0.25">0.000</text>
<text x="574.4" y="1574.1" font-size="10" text-anchor="end" font-family='"DejaVu Sans", "Liberation Sans", sans-serif' fill="#262626" stroke="#262626" stroke-width="0.25">0.025</text>
<text x="574.4" y="1544.2" font-size="10" text-anchor="end" font-family='"DejaVu Sans", "Liberation Sans", sans-serif' fill="#262626" stroke="#262626" stroke-width="0.25">0.050</text>
<text x="574.4" y="1514.3" font-size="10" text-anchor="end" font-family='"DejaVu Sans", "Liberation Sans", sans-serif' fill="#262626" stroke="#262626" stroke-width="0.25">0.075</text>
<text x="574.4" y="1484.4" font-size="10" text-anchor="end" font-family='"DejaVu Sans", "Liberation Sans", sans-serif' fill="#262626" stroke="#262626" stroke-width="0.25">0.100</text>
<text x="574.4" y="1454.5" font-size="10" text-anchor="end" font-family='"DejaVu Sans", "Liberation Sans", sans-serif' fill="#262626" stroke="#262626" stroke-width="0.25">0.125</text>
<text x="574.4" y="1424.6" font-size="10" text-anchor="end" font-family='"DejaVu Sans", "Liberation Sans", sans-serif' fill="#262626" stroke="#262626" stroke-width="0.25">0.150</text>
<text x="574.4" y="1394.7" font-size="10" text-anchor="end" font-family='"DejaVu Sans", "Liberation Sans", sans-serif' fill="#262626" stroke="#262626" stroke-width="0.25">0.175</text>
<text x="540.5" y="1490.2" font-size="10" text-anchor="middle" transform="rotate(-90 540.5 1490.2)" font-family='"DejaVu Sans", "Liberation Sans", sans-serif' fill="#262626" stroke="#262626" stroke-width="0.25">Average activity</text>
<rect x="594.8" y="1447.3" width="23.4" height="153.1" fill="#9e9ea2"/>
<rect x="630.3" y="1397.8" width="22" height="202.6" fill="#fff" stroke="#a6a6a9" stroke-width="1.6"/>
<rect x="665.5" y="1441.3" width="22" height="159.1" fill="#fff"/>
<rect x="665.5" y="1441.3" width="22" height="159.1" fill="url(#p40)" stroke="#a6a6a9" stroke-width="1.6"/>
<path d="M606.5 1447.3V1443.6M603 1443.6H610" fill="none" stroke="#a6a6a9" stroke-width="1.7"/>
<path d="M641.2 1397.1V1390.4M637.7 1390.4H644.7" fill="none" stroke="#a6a6a9" stroke-width="1.7"/>
<path d="M676.5 1440.6V1435.6M673 1435.6H680" fill="none" stroke="#a6a6a9" stroke-width="1.7"/>
<line x1="578.7" y1="1379.7" x2="578.7" y2="1600.9" stroke="#333" stroke-width="1"/>
<line x1="578.2" y1="1600.4" x2="698.3" y2="1600.4" stroke="#333" stroke-width="1"/>
<path d="M606.2 1430.6V1359.6H676.5V1434.9" fill="none" stroke="#222" stroke-width="1.3"/>
<path d="M640.7 1387V1377.7H676.5" fill="none" stroke="#222" stroke-width="1.3"/>
<text x="644" y="1356.6" font-size="9.5" text-anchor="middle" class="t">n.s.</text>
<text x="657.4" y="1378" font-size="10" text-anchor="middle" class="t">*</text>
<text x="824.2" y="1341.8" font-size="14.1" text-anchor="middle" class="t">NN balanced accuracy</text>
<text x="764.6" y="1604" font-size="10" text-anchor="end" font-family='"DejaVu Sans", "Liberation Sans", sans-serif' fill="#262626" stroke="#262626" stroke-width="0.25">0.5</text>
<text x="764.6" y="1560" font-size="10" text-anchor="end" font-family='"DejaVu Sans", "Liberation Sans", sans-serif' fill="#262626" stroke="#262626" stroke-width="0.25">0.6</text>
<text x="764.6" y="1515.9" font-size="10" text-anchor="end" font-family='"DejaVu Sans", "Liberation Sans", sans-serif' fill="#262626" stroke="#262626" stroke-width="0.25">0.7</text>
<text x="764.6" y="1471.9" font-size="10" text-anchor="end" font-family='"DejaVu Sans", "Liberation Sans", sans-serif' fill="#262626" stroke="#262626" stroke-width="0.25">0.8</text>
<text x="764.6" y="1427.9" font-size="10" text-anchor="end" font-family='"DejaVu Sans", "Liberation Sans", sans-serif' fill="#262626" stroke="#262626" stroke-width="0.25">0.9</text>
<text x="764.6" y="1383.9" font-size="10" text-anchor="end" font-family='"DejaVu Sans", "Liberation Sans", sans-serif' fill="#262626" stroke="#262626" stroke-width="0.25">1.0</text>
<text x="743.2" y="1490.2" font-size="10" text-anchor="middle" transform="rotate(-90 743.2 1490.2)" font-family='"DejaVu Sans", "Liberation Sans", sans-serif' fill="#262626" stroke="#262626" stroke-width="0.25">Balanced accuracy</text>
<rect x="784.7" y="1415.5" width="23.8" height="184.9" fill="#9e9ea2"/>
<rect x="821.6" y="1492.6" width="22" height="107.8" fill="#fff" stroke="#a6a6a9" stroke-width="1.6"/>
<rect x="855.7" y="1494.9" width="22" height="105.5" fill="#fff"/>
<rect x="855.7" y="1494.9" width="22" height="105.5" fill="url(#p40)" stroke="#a6a6a9" stroke-width="1.6"/>
<path d="M796.6 1415.5V1407.1M793.1 1407.1H800.1" fill="none" stroke="#a6a6a9" stroke-width="1.7"/>
<path d="M832.6 1491.9V1462.4M829.1 1462.4H836.1" fill="none" stroke="#a6a6a9" stroke-width="1.7"/>
<path d="M866.7 1494.2V1464.7M863.2 1464.7H870.2" fill="none" stroke="#a6a6a9" stroke-width="1.7"/>
<line x1="769" y1="1379.7" x2="769" y2="1600.9" stroke="#333" stroke-width="1"/>
<line x1="768.5" y1="1600.4" x2="892.6" y2="1600.4" stroke="#333" stroke-width="1"/>
<path d="M795.8 1395.4V1378H867.8V1452.4" fill="none" stroke="#222" stroke-width="1.3"/>
<path d="M833.3 1451.7V1440.6H867.8" fill="none" stroke="#222" stroke-width="1.3"/>
<text x="830.9" y="1378.5" font-size="10" text-anchor="middle" class="t">*</text>
<text x="851.7" y="1437.2" font-size="9.5" text-anchor="middle" class="t">n.s.</text>
<rect x="889.5" y="1361.9" width="24.2" height="9.1" fill="#9e9ea2"/>
<rect x="890.1" y="1379.9" width="23" height="7.8" fill="#fff" stroke="#a6a6a9" stroke-width="1.2"/>
<rect x="890.1" y="1396.3" width="23" height="7.8" fill="url(#p40)" stroke="#a6a6a9" stroke-width="1.2"/>
<text x="919.4" y="1370.3" font-size="12" class="t">WT + TAT-Cntrl</text>
<text x="919.4" y="1387" font-size="12" class="t">Tg + TAT-Cntrl</text>
<text x="919.4" y="1403.8" font-size="12" class="t">Tg + TAT-Cntrl with top 10%</text>
<text x="919.4" y="1417.9" font-size="12" class="t">active cells removed</text>
<text x="1176.2" y="1376.8" font-size="30" text-anchor="middle" stroke="#1a1a1a" stroke-width="0.7">I</text>
<text x="1225.8" y="1602.1" font-size="10" text-anchor="end" class="t">0.00</text>
<text x="1225.8" y="1570" font-size="10" text-anchor="end" class="t">0.05</text>
<text x="1225.8" y="1537.9" font-size="10" text-anchor="end" class="t">0.10</text>
<text x="1225.8" y="1505.9" font-size="10" text-anchor="end" class="t">0.15</text>
<text x="1225.8" y="1473.8" font-size="10" text-anchor="end" class="t">0.20</text>
<text x="1225.8" y="1441.7" font-size="10" text-anchor="end" class="t">0.25</text>
<text x="1225.8" y="1409.7" font-size="10" text-anchor="end" class="t">0.30</text>
<text x="1225.8" y="1377.6" font-size="10" text-anchor="end" class="t">0.35</text>
<text x="1191" y="1487" font-size="10" text-anchor="middle" transform="rotate(-90 1191 1487)" class="t">Average pairwise</text>
<text x="1202.5" y="1487" font-size="10" text-anchor="middle" transform="rotate(-90 1202.5 1487)" class="t">correlation (testing)</text>
<rect x="1254.8" y="1517.7" width="34.8" height="80.8" fill="#9e9ea2"/>
<path d="M1272.2 1517.7V1506.8M1267.7 1506.8H1276.7" fill="none" stroke="#9e9ea2" stroke-width="1.8"/>
<circle cx="1272.3" cy="1460.6" r="1.6" fill="#7d7d80" fill-opacity="0.45"/>
<circle cx="1272.3" cy="1467.7" r="1.6" fill="#7d7d80" fill-opacity="0.45"/>
<circle cx="1272.4" cy="1470.9" r="1.6" fill="#7d7d80" fill-opacity="0.45"/>
<circle cx="1272.5" cy="1519" r="1.6" fill="#7d7d80" fill-opacity="0.45"/>
<circle cx="1272.3" cy="1524.1" r="1.6" fill="#7d7d80" fill-opacity="0.45"/>
<circle cx="1272.5" cy="1525.4" r="1.6" fill="#7d7d80" fill-opacity="0.45"/>
<circle cx="1271.9" cy="1548.5" r="1.6" fill="#7d7d80" fill-opacity="0.45"/>
<circle cx="1272.2" cy="1551.7" r="1.6" fill="#7d7d80" fill-opacity="0.45"/>
<circle cx="1272.5" cy="1558.1" r="1.6" fill="#7d7d80" fill-opacity="0.45"/>
<circle cx="1272.3" cy="1560" r="1.6" fill="#7d7d80" fill-opacity="0.45"/>
<text x="1272.2" y="1614.4" font-size="10.7" text-anchor="middle" class="t">WT</text>
<text x="1272.2" y="1625.6" font-size="10.7" text-anchor="middle" class="t">TAT-Cntrl (10)</text>
<rect x="1329.5" y="1517.7" width="34.6" height="80.8" fill="#f8a042"/>
<path d="M1346.8 1517.7V1504.9M1342.3 1504.9H1351.3" fill="none" stroke="#f8a042" stroke-width="1.8"/>
<circle cx="1347" cy="1449.7" r="1.6" fill="#7d7d80" fill-opacity="0.45"/>
<circle cx="1346.6" cy="1480.5" r="1.6" fill="#7d7d80" fill-opacity="0.45"/>
<circle cx="1346.8" cy="1523.5" r="1.6" fill="#7d7d80" fill-opacity="0.45"/>
<circle cx="1346.6" cy="1527.9" r="1.6" fill="#7d7d80" fill-opacity="0.45"/>
<circle cx="1346.8" cy="1536.9" r="1.6" fill="#7d7d80" fill-opacity="0.45"/>
<circle cx="1346.8" cy="1551" r="1.6" fill="#7d7d80" fill-opacity="0.45"/>
<circle cx="1346.5" cy="1557.5" r="1.6" fill="#7d7d80" fill-opacity="0.45"/>
<text x="1346.8" y="1614.4" font-size="10.7" text-anchor="middle" class="t">WT</text>
<text x="1346.8" y="1625.6" font-size="10.7" text-anchor="middle" class="t">TAT-GluA2<tspan dy="2.7" font-size="7.5">3Y</tspan><tspan dy="-2.7" font-size="10.7"> (7)</tspan></text>
<rect x="1405" y="1517.4" width="32" height="81.1" fill="#fff" stroke="#9e9ea2" stroke-width="2.1"/>
<path d="M1421 1516.4V1497.8M1416.5 1497.8H1425.5" fill="none" stroke="#9e9ea2" stroke-width="1.8"/>
<circle cx="1420.8" cy="1436.2" r="1.6" fill="#7d7d80" fill-opacity="0.45"/>
<circle cx="1420.9" cy="1443.9" r="1.6" fill="#7d7d80" fill-opacity="0.45"/>
<circle cx="1421.2" cy="1524.7" r="1.6" fill="#7d7d80" fill-opacity="0.45"/>
<circle cx="1421.2" cy="1546.5" r="1.6" fill="#7d7d80" fill-opacity="0.45"/>
<circle cx="1420.8" cy="1549.1" r="1.6" fill="#7d7d80" fill-opacity="0.45"/>
<circle cx="1421.2" cy="1553" r="1.6" fill="#7d7d80" fill-opacity="0.45"/>
<circle cx="1420.8" cy="1565.1" r="1.6" fill="#7d7d80" fill-opacity="0.45"/>
<text x="1421" y="1614.4" font-size="10.7" text-anchor="middle" class="t">Tg</text>
<text x="1421" y="1625.6" font-size="10.7" text-anchor="middle" class="t">TAT-Cntrl (7)</text>
<rect x="1479.4" y="1500.7" width="32" height="97.8" fill="#fff" stroke="#f8a042" stroke-width="2.1"/>
<path d="M1495.4 1499.7V1481.8M1490.9 1481.8H1499.9" fill="none" stroke="#f8a042" stroke-width="1.8"/>
<circle cx="1495.5" cy="1421.5" r="1.6" fill="#7d7d80" fill-opacity="0.45"/>
<circle cx="1495.2" cy="1429.8" r="1.6" fill="#7d7d80" fill-opacity="0.45"/>
<circle cx="1495.1" cy="1512.6" r="1.6" fill="#7d7d80" fill-opacity="0.45"/>
<circle cx="1495.6" cy="1515.1" r="1.6" fill="#7d7d80" fill-opacity="0.45"/>
<circle cx="1495.2" cy="1525.4" r="1.6" fill="#7d7d80" fill-opacity="0.45"/>
<circle cx="1495.2" cy="1545.3" r="1.6" fill="#7d7d80" fill-opacity="0.45"/>
<circle cx="1495.7" cy="1551" r="1.6" fill="#7d7d80" fill-opacity="0.45"/>
<text x="1495.4" y="1614.4" font-size="10.7" text-anchor="middle" class="t">Tg</text>
<text x="1495.4" y="1625.6" font-size="10.7" text-anchor="middle" class="t">TAT-GluA2<tspan dy="2.7" font-size="7.5">3Y</tspan><tspan dy="-2.7" font-size="10.7"> (7)</tspan></text>
<line x1="1230.9" y1="1373.5" x2="1230.9" y2="1599.1" stroke="#333333" stroke-width="1.3"/>
<line x1="1230.3" y1="1598.5" x2="1532.6" y2="1598.5" stroke="#333333" stroke-width="1.3"/>
<path d="M1271.9 1405V1389.8H1495.5V1405" fill="none" stroke="#222" stroke-width="1.1"/>
<text x="1383.7" y="1374" font-size="10" text-anchor="middle" class="t">n.s.</text>
<text x="7" y="1709.5" font-size="30" text-anchor="middle" class="t">J</text>
<text x="33.5" y="1824.5" font-size="18" text-anchor="middle" transform="rotate(-90 33.5 1824.5)" class="t">Balanced accuracy</text>
<text x="223.6" y="1702.6" font-size="18.6" text-anchor="middle" class="t">WT TAT-Cntrl</text>
<text x="68.9" y="1934.9" font-size="18" text-anchor="end" class="t">0.5</text>
<text x="68.9" y="1899" font-size="18" text-anchor="end" class="t">0.6</text>
<text x="68.9" y="1863.1" font-size="18" text-anchor="end" class="t">0.7</text>
<text x="68.9" y="1827.2" font-size="18" text-anchor="end" class="t">0.8</text>
<text x="68.9" y="1791.3" font-size="18" text-anchor="end" class="t">0.9</text>
<text x="68.9" y="1755.3" font-size="18" text-anchor="end" class="t">1.0</text>
<rect x="88.1" y="1858.1" width="23.6" height="78.7" fill="#9e9ea2"/>
<rect x="111.3" y="1858.5" width="23.2" height="78.3" fill="#f8a042"/>
<path d="M99.7 1858.1V1855.6M97 1855.6H102.4" fill="none" stroke="#111" stroke-width="2.1"/>
<path d="M123 1858.5V1852.7M120.3 1852.7H125.7" fill="none" stroke="#111" stroke-width="2.1"/>
<text x="111.3" y="1958.7" font-size="18" text-anchor="middle" class="t">LDA</text>
<rect x="144.1" y="1833.7" width="23.6" height="103.1" fill="#9e9ea2"/>
<rect x="167.3" y="1833.3" width="23.2" height="103.5" fill="#f8a042"/>
<path d="M155.7 1833.7V1826.5M153 1826.5H158.4" fill="none" stroke="#111" stroke-width="2.1"/>
<path d="M179 1833.3V1825.8M176.3 1825.8H181.7" fill="none" stroke="#111" stroke-width="2.1"/>
<text x="167.3" y="1958.7" font-size="18" text-anchor="middle" class="t">NB</text>
<rect x="200.1" y="1833.7" width="23.6" height="103.1" fill="#9e9ea2"/>
<rect x="223.3" y="1815.7" width="23.2" height="121.1" fill="#f8a042"/>
<path d="M211.7 1833.7V1826.5M209 1826.5H214.4" fill="none" stroke="#111" stroke-width="2.1"/>
<path d="M235 1815.7V1803.9M232.3 1803.9H237.7" fill="none" stroke="#111" stroke-width="2.1"/>
<text x="223.3" y="1958.7" font-size="18" text-anchor="middle" class="t">QDA</text>
<rect x="256.1" y="1829.7" width="23.6" height="107.1" fill="#9e9ea2"/>
<rect x="279.4" y="1776.2" width="23.2" height="160.6" fill="#f8a042"/>
<path d="M267.7 1829.7V1822.2M265 1822.2H270.4" fill="none" stroke="#111" stroke-width="2.1"/>
<path d="M291 1776.2V1769.4M288.3 1769.4H293.7" fill="none" stroke="#111" stroke-width="2.1"/>
<text x="279.4" y="1958.7" font-size="18" text-anchor="middle" class="t">NN</text>
<rect x="312.1" y="1834.7" width="23.6" height="102.1" fill="#9e9ea2"/>
<rect x="335.4" y="1766.1" width="23.2" height="170.7" fill="#f8a042"/>
<path d="M323.7 1834.7V1825.8M321 1825.8H326.4" fill="none" stroke="#111" stroke-width="2.1"/>
<path d="M347 1766.1V1761.1M344.3 1761.1H349.7" fill="none" stroke="#111" stroke-width="2.1"/>
<text x="335.4" y="1958.7" font-size="18" text-anchor="middle" class="t">gSVM</text>
<g fill="#4d4d4d" fill-opacity="0.66"><circle cx="97.5" cy="1865.2" r="1.65"/><circle cx="101.8" cy="1858" r="1.65"/><circle cx="102.8" cy="1862.5" r="1.65"/><circle cx="98.6" cy="1863.2" r="1.65"/><circle cx="97.7" cy="1881.9" r="1.65"/><circle cx="102.7" cy="1854.1" r="1.65"/><circle cx="98.6" cy="1851.3" r="1.65"/><circle cx="100.4" cy="1854" r="1.65"/><circle cx="100.4" cy="1859.8" r="1.65"/><circle cx="100.6" cy="1861.5" r="1.65"/><circle cx="124.3" cy="1818.3" r="1.65"/><circle cx="120.5" cy="1882.1" r="1.65"/><circle cx="125.6" cy="1870.3" r="1.65"/><circle cx="121.5" cy="1890.2" r="1.65"/><circle cx="124.2" cy="1851.4" r="1.65"/><circle cx="122.7" cy="1883.6" r="1.65"/><circle cx="121.5" cy="1870.3" r="1.65"/><circle cx="121.1" cy="1852.9" r="1.65"/><circle cx="123.5" cy="1862.7" r="1.65"/><circle cx="122.4" cy="1816.8" r="1.65"/><circle cx="153.3" cy="1858.5" r="1.65"/><circle cx="156.2" cy="1858.4" r="1.65"/><circle cx="155.8" cy="1814.9" r="1.65"/><circle cx="153.1" cy="1874" r="1.65"/><circle cx="154.9" cy="1875.4" r="1.65"/><circle cx="155.8" cy="1875.6" r="1.65"/><circle cx="152.6" cy="1881.2" r="1.65"/><circle cx="152.6" cy="1832.5" r="1.65"/><circle cx="156.3" cy="1817" r="1.65"/><circle cx="155.2" cy="1872.1" r="1.65"/><circle cx="182" cy="1858.5" r="1.65"/><circle cx="181.2" cy="1858.4" r="1.65"/><circle cx="181.1" cy="1814.9" r="1.65"/><circle cx="180.9" cy="1874" r="1.65"/><circle cx="177.2" cy="1875.4" r="1.65"/><circle cx="180.4" cy="1875.6" r="1.65"/><circle cx="176.4" cy="1881.2" r="1.65"/><circle cx="176.7" cy="1832.5" r="1.65"/><circle cx="178.2" cy="1817" r="1.65"/><circle cx="177.3" cy="1872.1" r="1.65"/><circle cx="211.5" cy="1806.8" r="1.65"/><circle cx="211.1" cy="1827.9" r="1.65"/><circle cx="210.8" cy="1824.7" r="1.65"/><circle cx="213.5" cy="1835.6" r="1.65"/><circle cx="208.6" cy="1829.5" r="1.65"/><circle cx="211.4" cy="1782" r="1.65"/><circle cx="212.6" cy="1858.7" r="1.65"/><circle cx="208.6" cy="1838.2" r="1.65"/><circle cx="210.6" cy="1870.4" r="1.65"/><circle cx="210.7" cy="1813" r="1.65"/><circle cx="232.7" cy="1843.5" r="1.65"/><circle cx="233.8" cy="1851.6" r="1.65"/><circle cx="236.5" cy="1847.5" r="1.65"/><circle cx="237.9" cy="1815.3" r="1.65"/><circle cx="231.9" cy="1893.1" r="1.65"/><circle cx="235" cy="1779.1" r="1.65"/><circle cx="233.3" cy="1803.5" r="1.65"/><circle cx="237.5" cy="1805.3" r="1.65"/><circle cx="238.1" cy="1809.2" r="1.65"/><circle cx="236.2" cy="1805.6" r="1.65"/><circle cx="264.8" cy="1802.3" r="1.65"/><circle cx="267.9" cy="1825.1" r="1.65"/><circle cx="269.7" cy="1856.8" r="1.65"/><circle cx="267.6" cy="1817.4" r="1.65"/><circle cx="265.3" cy="1828.8" r="1.65"/><circle cx="265.3" cy="1824.2" r="1.65"/><circle cx="270" cy="1865" r="1.65"/><circle cx="269.1" cy="1857.1" r="1.65"/><circle cx="266.2" cy="1841.6" r="1.65"/><circle cx="267.8" cy="1809.7" r="1.65"/><circle cx="293.1" cy="1756.4" r="1.65"/><circle cx="291.4" cy="1756.9" r="1.65"/><circle cx="293.9" cy="1758.2" r="1.65"/><circle cx="289.4" cy="1773" r="1.65"/><circle cx="294" cy="1800.2" r="1.65"/><circle cx="288.1" cy="1773.9" r="1.65"/><circle cx="291.4" cy="1785" r="1.65"/><circle cx="289" cy="1752.5" r="1.65"/><circle cx="288.5" cy="1775.8" r="1.65"/><circle cx="289.5" cy="1752.5" r="1.65"/><circle cx="323.9" cy="1835.9" r="1.65"/><circle cx="323.7" cy="1833.6" r="1.65"/><circle cx="321.5" cy="1847.6" r="1.65"/><circle cx="326.5" cy="1771.7" r="1.65"/><circle cx="322.7" cy="1820.8" r="1.65"/><circle cx="321.8" cy="1874.5" r="1.65"/><circle cx="322" cy="1802.9" r="1.65"/><circle cx="325.5" cy="1842.1" r="1.65"/><circle cx="322.4" cy="1831.9" r="1.65"/><circle cx="324.8" cy="1894.8" r="1.65"/><circle cx="348.3" cy="1791.3" r="1.65"/><circle cx="346.6" cy="1794.5" r="1.65"/><circle cx="345.4" cy="1752.5" r="1.65"/><circle cx="347" cy="1802.1" r="1.65"/><circle cx="345.1" cy="1765.2" r="1.65"/><circle cx="346.1" cy="1761.8" r="1.65"/><circle cx="346.3" cy="1755.8" r="1.65"/><circle cx="344.1" cy="1764.2" r="1.65"/><circle cx="349.8" cy="1758.5" r="1.65"/><circle cx="349.5" cy="1761.5" r="1.65"/></g>
<path d="M212 1801.8V1776.5H234.7V1784.8" fill="none" stroke="#111" stroke-width="1.9"/>
<text x="223.3" y="1772.3" font-size="18" text-anchor="middle" stroke="#1a1a1a" stroke-width="0.5">**</text>
<path d="M268 1800.7V1733H290.7V1740" fill="none" stroke="#111" stroke-width="1.9"/>
<text x="279.4" y="1729.7" font-size="18" text-anchor="middle" stroke="#1a1a1a" stroke-width="0.5">***</text>
<path d="M324 1800.7V1733H346.7V1740" fill="none" stroke="#111" stroke-width="1.9"/>
<text x="335.4" y="1729.7" font-size="18" text-anchor="middle" stroke="#1a1a1a" stroke-width="0.5">***</text>
<line x1="76.4" y1="1711" x2="76.4" y2="1937.5" stroke="#333333" stroke-width="1.5"/>
<line x1="75.7" y1="1936.8" x2="371.4" y2="1936.8" stroke="#333333" stroke-width="1.5"/>
<text x="538.6" y="1702.6" font-size="18.6" text-anchor="middle" class="t">WT TAT-GluA2<tspan dy="4.7" font-size="14.5">3Y</tspan></text>
<rect x="403.9" y="1862.4" width="23.6" height="74.4" fill="#9e9ea2"/>
<rect x="427.1" y="1870.7" width="23.2" height="66.1" fill="#f8a042"/>
<path d="M415.5 1862.4V1854.1M412.8 1854.1H418.2" fill="none" stroke="#111" stroke-width="2.1"/>
<path d="M438.8 1870.7V1858.1M436.1 1858.1H441.5" fill="none" stroke="#111" stroke-width="2.1"/>
<text x="427.1" y="1958.7" font-size="18" text-anchor="middle" class="t">LDA</text>
<rect x="459.9" y="1840.5" width="23.6" height="96.3" fill="#9e9ea2"/>
<rect x="483.1" y="1840.1" width="23.2" height="96.7" fill="#f8a042"/>
<path d="M471.5 1840.5V1833.3M468.8 1833.3H474.2" fill="none" stroke="#111" stroke-width="2.1"/>
<path d="M494.8 1840.1V1833.3M492.1 1833.3H497.5" fill="none" stroke="#111" stroke-width="2.1"/>
<text x="483.1" y="1958.7" font-size="18" text-anchor="middle" class="t">NB</text>
<rect x="515.9" y="1840.9" width="23.6" height="95.9" fill="#9e9ea2"/>
<rect x="539.1" y="1847.7" width="23.2" height="89.1" fill="#f8a042"/>
<path d="M527.5 1840.9V1833.7M524.8 1833.7H530.2" fill="none" stroke="#111" stroke-width="2.1"/>
<path d="M550.8 1847.7V1828.6M548.1 1828.6H553.5" fill="none" stroke="#111" stroke-width="2.1"/>
<text x="539.1" y="1958.7" font-size="18" text-anchor="middle" class="t">QDA</text>
<rect x="571.9" y="1831.9" width="23.6" height="104.9" fill="#9e9ea2"/>
<rect x="595.1" y="1800.3" width="23.2" height="136.5" fill="#f8a042"/>
<path d="M583.5 1831.9V1822.2M580.8 1822.2H586.2" fill="none" stroke="#111" stroke-width="2.1"/>
<path d="M606.8 1800.3V1784.1M604.1 1784.1H609.5" fill="none" stroke="#111" stroke-width="2.1"/>
<text x="595.1" y="1958.7" font-size="18" text-anchor="middle" class="t">NN</text>
<rect x="627.9" y="1838" width="23.6" height="98.8" fill="#9e9ea2"/>
<rect x="651.1" y="1792" width="23.2" height="144.8" fill="#f8a042"/>
<path d="M639.5 1838V1826.5M636.8 1826.5H642.2" fill="none" stroke="#111" stroke-width="2.1"/>
<path d="M662.8 1792V1778M660.1 1778H665.5" fill="none" stroke="#111" stroke-width="2.1"/>
<text x="651.1" y="1958.7" font-size="18" text-anchor="middle" class="t">gSVM</text>
<g fill="#4d4d4d" fill-opacity="0.66"><circle cx="418.5" cy="1861.4" r="1.65"/><circle cx="417" cy="1836.6" r="1.65"/><circle cx="415.8" cy="1841.1" r="1.65"/><circle cx="416.4" cy="1827.9" r="1.65"/><circle cx="416.1" cy="1859.2" r="1.65"/><circle cx="414.6" cy="1834.9" r="1.65"/><circle cx="418.7" cy="1842.7" r="1.65"/><circle cx="440.8" cy="1885.6" r="1.65"/><circle cx="436.7" cy="1928.5" r="1.65"/><circle cx="439.5" cy="1816.4" r="1.65"/><circle cx="437.9" cy="1865.9" r="1.65"/><circle cx="440.6" cy="1877" r="1.65"/><circle cx="441.5" cy="1872.6" r="1.65"/><circle cx="440.5" cy="1832.8" r="1.65"/><circle cx="473.6" cy="1829.3" r="1.65"/><circle cx="473.6" cy="1810.4" r="1.65"/><circle cx="472.1" cy="1874" r="1.65"/><circle cx="469.4" cy="1826.8" r="1.65"/><circle cx="474.6" cy="1881.2" r="1.65"/><circle cx="471.3" cy="1832.8" r="1.65"/><circle cx="468.4" cy="1805.2" r="1.65"/><circle cx="494.4" cy="1829.3" r="1.65"/><circle cx="494.2" cy="1810.4" r="1.65"/><circle cx="492.9" cy="1874" r="1.65"/><circle cx="497.7" cy="1826.8" r="1.65"/><circle cx="492.3" cy="1881.2" r="1.65"/><circle cx="497.4" cy="1832.8" r="1.65"/><circle cx="495.1" cy="1805.2" r="1.65"/><circle cx="530.6" cy="1843.9" r="1.65"/><circle cx="529.6" cy="1833.1" r="1.65"/><circle cx="529.4" cy="1824.7" r="1.65"/><circle cx="530.7" cy="1849.9" r="1.65"/><circle cx="530.3" cy="1837.9" r="1.65"/><circle cx="528.4" cy="1838.6" r="1.65"/><circle cx="527.8" cy="1868.4" r="1.65"/><circle cx="551.3" cy="1928.5" r="1.65"/><circle cx="551.3" cy="1861.4" r="1.65"/><circle cx="551.2" cy="1763" r="1.65"/><circle cx="553.1" cy="1890.6" r="1.65"/><circle cx="549" cy="1841.4" r="1.65"/><circle cx="552.2" cy="1857.7" r="1.65"/><circle cx="551.3" cy="1866.6" r="1.65"/><circle cx="586.6" cy="1826.6" r="1.65"/><circle cx="583.9" cy="1815.5" r="1.65"/><circle cx="586" cy="1762.7" r="1.65"/><circle cx="582.2" cy="1804.8" r="1.65"/><circle cx="583.4" cy="1822.4" r="1.65"/><circle cx="581.3" cy="1865.5" r="1.65"/><circle cx="584.4" cy="1839.5" r="1.65"/><circle cx="608.2" cy="1866.5" r="1.65"/><circle cx="607.1" cy="1765.1" r="1.65"/><circle cx="606.8" cy="1763.9" r="1.65"/><circle cx="609.7" cy="1769.2" r="1.65"/><circle cx="605.4" cy="1794" r="1.65"/><circle cx="608.1" cy="1801.9" r="1.65"/><circle cx="607.9" cy="1834.6" r="1.65"/><circle cx="642.6" cy="1876.7" r="1.65"/><circle cx="641.3" cy="1842.7" r="1.65"/><circle cx="638.9" cy="1872.3" r="1.65"/><circle cx="641.8" cy="1785.7" r="1.65"/><circle cx="638.8" cy="1832.4" r="1.65"/><circle cx="638.4" cy="1847.7" r="1.65"/><circle cx="640" cy="1785.8" r="1.65"/><circle cx="660.4" cy="1824.2" r="1.65"/><circle cx="665.1" cy="1838.3" r="1.65"/><circle cx="661" cy="1827.9" r="1.65"/><circle cx="662.2" cy="1804.3" r="1.65"/><circle cx="659.9" cy="1793.5" r="1.65"/><circle cx="664.5" cy="1824.8" r="1.65"/><circle cx="661.7" cy="1795" r="1.65"/></g>
<path d="M583.8 1798V1758.3H606.5V1765.9" fill="none" stroke="#111" stroke-width="1.9"/>
<text x="595.1" y="1754.3" font-size="18" text-anchor="middle" stroke="#1a1a1a" stroke-width="0.5">**</text>
<path d="M639.8 1798V1758.3H662.5V1765.9" fill="none" stroke="#111" stroke-width="1.9"/>
<text x="651.1" y="1754.3" font-size="18" text-anchor="middle" stroke="#1a1a1a" stroke-width="0.5">***</text>
<line x1="391.4" y1="1711" x2="391.4" y2="1937.5" stroke="#333333" stroke-width="1.5"/>
<line x1="390.7" y1="1936.8" x2="686.4" y2="1936.8" stroke="#333333" stroke-width="1.5"/>
<text x="853.2" y="1702.6" font-size="18.6" text-anchor="middle" class="t">Tg TAT-Cntrl</text>
<rect x="719" y="1855.6" width="23.6" height="81.2" fill="#9e9ea2"/>
<rect x="742.2" y="1887.2" width="23.2" height="49.6" fill="#f8a042"/>
<path d="M730.6 1855.6V1835.8M727.9 1835.8H733.3" fill="none" stroke="#111" stroke-width="2.1"/>
<path d="M753.9 1887.2V1873.5M751.2 1873.5H756.6" fill="none" stroke="#111" stroke-width="2.1"/>
<text x="742.2" y="1958.7" font-size="18" text-anchor="middle" class="t">LDA</text>
<rect x="775" y="1833.3" width="23.6" height="103.5" fill="#9e9ea2"/>
<rect x="798.2" y="1830.4" width="23.2" height="106.4" fill="#f8a042"/>
<path d="M786.6 1833.3V1817.5M783.9 1817.5H789.3" fill="none" stroke="#111" stroke-width="2.1"/>
<path d="M809.9 1830.4V1815.4M807.2 1815.4H812.6" fill="none" stroke="#111" stroke-width="2.1"/>
<text x="798.2" y="1958.7" font-size="18" text-anchor="middle" class="t">NB</text>
<rect x="831" y="1833" width="23.6" height="103.8" fill="#9e9ea2"/>
<rect x="854.2" y="1862" width="23.2" height="74.8" fill="#f8a042"/>
<path d="M842.6 1833V1817.5M839.9 1817.5H845.3" fill="none" stroke="#111" stroke-width="2.1"/>
<path d="M865.9 1862V1840.1M863.2 1840.1H868.6" fill="none" stroke="#111" stroke-width="2.1"/>
<text x="854.2" y="1958.7" font-size="18" text-anchor="middle" class="t">QDA</text>
<rect x="887" y="1869.6" width="23.6" height="67.2" fill="#9e9ea2"/>
<rect x="910.2" y="1851.6" width="23.2" height="85.2" fill="#f8a042"/>
<path d="M898.6 1869.6V1856.3M895.9 1856.3H901.3" fill="none" stroke="#111" stroke-width="2.1"/>
<path d="M921.9 1851.6V1826.8M919.2 1826.8H924.6" fill="none" stroke="#111" stroke-width="2.1"/>
<text x="910.2" y="1958.7" font-size="18" text-anchor="middle" class="t">NN</text>
<rect x="943" y="1868.9" width="23.6" height="67.9" fill="#9e9ea2"/>
<rect x="966.2" y="1829" width="23.2" height="107.8" fill="#f8a042"/>
<path d="M954.6 1868.9V1850.2M951.9 1850.2H957.3" fill="none" stroke="#111" stroke-width="2.1"/>
<path d="M977.9 1829V1801.7M975.2 1801.7H980.6" fill="none" stroke="#111" stroke-width="2.1"/>
<text x="966.2" y="1958.7" font-size="18" text-anchor="middle" class="t">gSVM</text>
<g fill="#4d4d4d" fill-opacity="0.66"><circle cx="733.8" cy="1838.2" r="1.65"/><circle cx="730.1" cy="1858" r="1.65"/><circle cx="728.6" cy="1864.7" r="1.65"/><circle cx="729.6" cy="1915" r="1.65"/><circle cx="731.5" cy="1805.7" r="1.65"/><circle cx="727.6" cy="1874.7" r="1.65"/><circle cx="729.9" cy="1828.7" r="1.65"/><circle cx="753.3" cy="1897.5" r="1.65"/><circle cx="756.2" cy="1873.5" r="1.65"/><circle cx="756.4" cy="1886.2" r="1.65"/><circle cx="756.4" cy="1874.6" r="1.65"/><circle cx="756.7" cy="1864.3" r="1.65"/><circle cx="754.4" cy="1896.7" r="1.65"/><circle cx="755" cy="1825.3" r="1.65"/><circle cx="787.9" cy="1794.8" r="1.65"/><circle cx="788.6" cy="1868.8" r="1.65"/><circle cx="787.6" cy="1801.6" r="1.65"/><circle cx="786.2" cy="1793.8" r="1.65"/><circle cx="783.6" cy="1859.2" r="1.65"/><circle cx="783.5" cy="1838.3" r="1.65"/><circle cx="787.6" cy="1811" r="1.65"/><circle cx="810.5" cy="1816.4" r="1.65"/><circle cx="808.6" cy="1873.8" r="1.65"/><circle cx="810.2" cy="1838.6" r="1.65"/><circle cx="809.4" cy="1820.7" r="1.65"/><circle cx="810.2" cy="1812.4" r="1.65"/><circle cx="811.4" cy="1821.5" r="1.65"/><circle cx="811.7" cy="1811.5" r="1.65"/><circle cx="843.8" cy="1771.9" r="1.65"/><circle cx="844.9" cy="1752.5" r="1.65"/><circle cx="844.2" cy="1787.3" r="1.65"/><circle cx="845.2" cy="1893.3" r="1.65"/><circle cx="842.8" cy="1928.5" r="1.65"/><circle cx="843.7" cy="1803.7" r="1.65"/><circle cx="839.9" cy="1821.4" r="1.65"/><circle cx="863" cy="1901.6" r="1.65"/><circle cx="866" cy="1878.8" r="1.65"/><circle cx="863.7" cy="1890" r="1.65"/><circle cx="867.4" cy="1882.3" r="1.65"/><circle cx="866.6" cy="1928.5" r="1.65"/><circle cx="865.9" cy="1877.3" r="1.65"/><circle cx="867" cy="1846.1" r="1.65"/><circle cx="897.5" cy="1846.9" r="1.65"/><circle cx="896.8" cy="1838" r="1.65"/><circle cx="897" cy="1827.2" r="1.65"/><circle cx="900.8" cy="1856.9" r="1.65"/><circle cx="895.9" cy="1864.1" r="1.65"/><circle cx="900.4" cy="1889.2" r="1.65"/><circle cx="897.1" cy="1912" r="1.65"/><circle cx="924.3" cy="1928.5" r="1.65"/><circle cx="920.6" cy="1846.6" r="1.65"/><circle cx="919.8" cy="1928.5" r="1.65"/><circle cx="921.3" cy="1827" r="1.65"/><circle cx="919.2" cy="1886.7" r="1.65"/><circle cx="920.1" cy="1906.3" r="1.65"/><circle cx="923.2" cy="1868.6" r="1.65"/><circle cx="955.1" cy="1883.5" r="1.65"/><circle cx="956.8" cy="1840.9" r="1.65"/><circle cx="955.9" cy="1833.6" r="1.65"/><circle cx="953.1" cy="1884.1" r="1.65"/><circle cx="955.6" cy="1847.7" r="1.65"/><circle cx="954.7" cy="1928.5" r="1.65"/><circle cx="957.3" cy="1928.5" r="1.65"/><circle cx="978.6" cy="1865.1" r="1.65"/><circle cx="975" cy="1770" r="1.65"/><circle cx="979.6" cy="1776.1" r="1.65"/><circle cx="976.4" cy="1802.6" r="1.65"/><circle cx="978" cy="1834.6" r="1.65"/><circle cx="979.9" cy="1850.9" r="1.65"/><circle cx="976.7" cy="1928.5" r="1.65"/></g>
<line x1="900" y1="1802.6" x2="920.5" y2="1802.6" stroke="#111" stroke-width="1.8"/>
<text x="909.8" y="1799" font-size="18" text-anchor="middle" class="t">n.s.</text>
<line x1="956" y1="1781.8" x2="976.5" y2="1781.8" stroke="#111" stroke-width="1.8"/>
<text x="965.8" y="1778.2" font-size="18" text-anchor="middle" class="t">n.s.</text>
<line x1="705.7" y1="1711" x2="705.7" y2="1937.5" stroke="#333333" stroke-width="1.5"/>
<line x1="705" y1="1936.8" x2="1001.4" y2="1936.8" stroke="#333333" stroke-width="1.5"/>
<text x="1169" y="1702.6" font-size="18.6" text-anchor="middle" class="t">Tg TAT-GluA2<tspan dy="4.7" font-size="14.5">3Y</tspan></text>
<rect x="1034.3" y="1871" width="23.6" height="65.8" fill="#9e9ea2"/>
<rect x="1057.5" y="1880" width="23.2" height="56.8" fill="#f8a042"/>
<path d="M1045.9 1871V1865.3M1043.2 1865.3H1048.6" fill="none" stroke="#111" stroke-width="2.1"/>
<path d="M1069.2 1880V1868.5M1066.5 1868.5H1071.9" fill="none" stroke="#111" stroke-width="2.1"/>
<text x="1057.5" y="1958.7" font-size="18" text-anchor="middle" class="t">LDA</text>
<rect x="1090.3" y="1847" width="23.6" height="89.8" fill="#9e9ea2"/>
<rect x="1113.5" y="1846.2" width="23.2" height="90.6" fill="#f8a042"/>
<path d="M1101.9 1847V1843M1099.2 1843H1104.6" fill="none" stroke="#111" stroke-width="2.1"/>
<path d="M1125.2 1846.2V1842.3M1122.5 1842.3H1127.9" fill="none" stroke="#111" stroke-width="2.1"/>
<text x="1113.5" y="1958.7" font-size="18" text-anchor="middle" class="t">NB</text>
<rect x="1146.3" y="1847" width="23.6" height="89.8" fill="#9e9ea2"/>
<rect x="1169.5" y="1845.2" width="23.2" height="91.6" fill="#f8a042"/>
<path d="M1157.9 1847V1843M1155.2 1843H1160.6" fill="none" stroke="#111" stroke-width="2.1"/>
<path d="M1181.2 1845.2V1823.3M1178.5 1823.3H1183.9" fill="none" stroke="#111" stroke-width="2.1"/>
<text x="1169.5" y="1958.7" font-size="18" text-anchor="middle" class="t">QDA</text>
<rect x="1202.3" y="1840.5" width="23.6" height="96.3" fill="#9e9ea2"/>
<rect x="1225.5" y="1801" width="23.2" height="135.8" fill="#f8a042"/>
<path d="M1213.9 1840.5V1836.5M1211.2 1836.5H1216.6" fill="none" stroke="#111" stroke-width="2.1"/>
<path d="M1237.2 1801V1785.2M1234.5 1785.2H1239.9" fill="none" stroke="#111" stroke-width="2.1"/>
<text x="1225.5" y="1958.7" font-size="18" text-anchor="middle" class="t">NN</text>
<rect x="1258.3" y="1849.5" width="23.6" height="87.3" fill="#9e9ea2"/>
<rect x="1281.5" y="1794.9" width="23.2" height="141.9" fill="#f8a042"/>
<path d="M1269.9 1849.5V1842.3M1267.2 1842.3H1272.6" fill="none" stroke="#111" stroke-width="2.1"/>
<path d="M1293.2 1794.9V1777.6M1290.5 1777.6H1295.9" fill="none" stroke="#111" stroke-width="2.1"/>
<text x="1281.5" y="1958.7" font-size="18" text-anchor="middle" class="t">gSVM</text>
<g fill="#4d4d4d" fill-opacity="0.66"><circle cx="1048.2" cy="1894.7" r="1.65"/><circle cx="1043" cy="1892.5" r="1.65"/><circle cx="1043.8" cy="1894.1" r="1.65"/><circle cx="1049.1" cy="1864.6" r="1.65"/><circle cx="1047.5" cy="1854" r="1.65"/><circle cx="1044.4" cy="1878.1" r="1.65"/><circle cx="1047.5" cy="1873.5" r="1.65"/><circle cx="1070.1" cy="1928.5" r="1.65"/><circle cx="1068" cy="1866" r="1.65"/><circle cx="1070.2" cy="1854.9" r="1.65"/><circle cx="1072.3" cy="1900.4" r="1.65"/><circle cx="1066.3" cy="1872.1" r="1.65"/><circle cx="1067.8" cy="1856.6" r="1.65"/><circle cx="1066.6" cy="1852.4" r="1.65"/><circle cx="1100.2" cy="1851.7" r="1.65"/><circle cx="1100.9" cy="1856.6" r="1.65"/><circle cx="1104.9" cy="1854.3" r="1.65"/><circle cx="1100.2" cy="1844" r="1.65"/><circle cx="1099.6" cy="1844" r="1.65"/><circle cx="1098.9" cy="1864.3" r="1.65"/><circle cx="1103" cy="1865.4" r="1.65"/><circle cx="1127.2" cy="1851.7" r="1.65"/><circle cx="1122.3" cy="1856.6" r="1.65"/><circle cx="1125" cy="1854.3" r="1.65"/><circle cx="1124.5" cy="1844" r="1.65"/><circle cx="1124.1" cy="1844" r="1.65"/><circle cx="1123.5" cy="1864.3" r="1.65"/><circle cx="1124.4" cy="1865.4" r="1.65"/><circle cx="1157.8" cy="1840.6" r="1.65"/><circle cx="1158.1" cy="1832.1" r="1.65"/><circle cx="1160.7" cy="1828.7" r="1.65"/><circle cx="1155.8" cy="1842.9" r="1.65"/><circle cx="1156" cy="1834.7" r="1.65"/><circle cx="1156.7" cy="1856.7" r="1.65"/><circle cx="1159.5" cy="1858.8" r="1.65"/><circle cx="1180" cy="1896.3" r="1.65"/><circle cx="1179.2" cy="1818.5" r="1.65"/><circle cx="1183.8" cy="1818.5" r="1.65"/><circle cx="1182" cy="1831.1" r="1.65"/><circle cx="1181.1" cy="1869.4" r="1.65"/><circle cx="1179.4" cy="1879.2" r="1.65"/><circle cx="1183.3" cy="1886.6" r="1.65"/><circle cx="1211.3" cy="1838.6" r="1.65"/><circle cx="1216.3" cy="1845.7" r="1.65"/><circle cx="1212.3" cy="1842.6" r="1.65"/><circle cx="1214.3" cy="1829.7" r="1.65"/><circle cx="1215.4" cy="1817.3" r="1.65"/><circle cx="1214.2" cy="1845.2" r="1.65"/><circle cx="1213.1" cy="1830.8" r="1.65"/><circle cx="1235" cy="1805.1" r="1.65"/><circle cx="1239.2" cy="1752.5" r="1.65"/><circle cx="1239.8" cy="1803.6" r="1.65"/><circle cx="1236.2" cy="1752.5" r="1.65"/><circle cx="1234.4" cy="1752.5" r="1.65"/><circle cx="1237.4" cy="1826.1" r="1.65"/><circle cx="1236.7" cy="1827.7" r="1.65"/><circle cx="1270.8" cy="1872" r="1.65"/><circle cx="1270.9" cy="1830.8" r="1.65"/><circle cx="1268.1" cy="1875.3" r="1.65"/><circle cx="1271.9" cy="1870.8" r="1.65"/><circle cx="1267.1" cy="1839.7" r="1.65"/><circle cx="1268.4" cy="1877.2" r="1.65"/><circle cx="1270.3" cy="1846" r="1.65"/><circle cx="1295.3" cy="1752.5" r="1.65"/><circle cx="1296.3" cy="1785.1" r="1.65"/><circle cx="1293.3" cy="1812.8" r="1.65"/><circle cx="1293.5" cy="1757.6" r="1.65"/><circle cx="1295.2" cy="1755.8" r="1.65"/><circle cx="1294.2" cy="1773.3" r="1.65"/><circle cx="1294.2" cy="1807.6" r="1.65"/></g>
<path d="M1214.2 1801.8V1749.2H1236.9V1756.4" fill="none" stroke="#111" stroke-width="1.9"/>
<text x="1225.5" y="1745.9" font-size="18" text-anchor="middle" stroke="#1a1a1a" stroke-width="0.5">*</text>
<path d="M1270.2 1801.8V1740.2H1292.9V1747" fill="none" stroke="#111" stroke-width="1.9"/>
<text x="1281.5" y="1737.6" font-size="18" text-anchor="middle" stroke="#1a1a1a" stroke-width="0.5">**</text>
<line x1="1021.5" y1="1711" x2="1021.5" y2="1937.5" stroke="#333333" stroke-width="1.5"/>
<line x1="1020.8" y1="1936.8" x2="1317.2" y2="1936.8" stroke="#333333" stroke-width="1.5"/>
<rect x="1333.4" y="1805" width="35.7" height="10.7" fill="#9e9ea2"/>
<text x="1385.4" y="1816.4" font-size="18.4" class="t">Single-cell model</text>
<rect x="1333.4" y="1831.6" width="35.7" height="11.1" fill="#f8a042"/>
<text x="1385.4" y="1843" font-size="18.4" class="t">Full model</text>
<text x="10" y="2033" font-size="30" text-anchor="middle" class="t">K</text>
<text x="33.5" y="2177.5" font-size="18" text-anchor="middle" transform="rotate(-90 33.5 2177.5)" class="t">Balanced accuracy</text>
<text x="706" y="2028.8" font-size="16.6" text-anchor="middle" class="t">1000 freezing frames, 25 cells</text>
<text x="223.6" y="2055.3" font-size="18.6" text-anchor="middle" class="t">WT TAT-Cntrl</text>
<text x="68.9" y="2287.6" font-size="18" text-anchor="end" class="t">0.5</text>
<text x="68.9" y="2251.7" font-size="18" text-anchor="end" class="t">0.6</text>
<text x="68.9" y="2215.8" font-size="18" text-anchor="end" class="t">0.7</text>
<text x="68.9" y="2179.9" font-size="18" text-anchor="end" class="t">0.8</text>
<text x="68.9" y="2144" font-size="18" text-anchor="end" class="t">0.9</text>
<text x="68.9" y="2108" font-size="18" text-anchor="end" class="t">1.0</text>
<rect x="88.1" y="2239.5" width="23.6" height="50" fill="#9e9ea2"/>
<rect x="111.3" y="2236.7" width="23.2" height="52.8" fill="#f8a042"/>
<path d="M99.7 2239.5V2236.3M97 2236.3H102.4" fill="none" stroke="#111" stroke-width="2.1"/>
<path d="M123 2236.7V2232.3M120.3 2232.3H125.7" fill="none" stroke="#111" stroke-width="2.1"/>
<text x="111.3" y="2311" font-size="18" text-anchor="middle" class="t">LDA</text>
<rect x="144.1" y="2214.7" width="23.6" height="74.8" fill="#9e9ea2"/>
<rect x="167.3" y="2216.2" width="23.2" height="73.3" fill="#f8a042"/>
<path d="M155.7 2214.7V2208.6M153 2208.6H158.4" fill="none" stroke="#111" stroke-width="2.1"/>
<path d="M179 2216.2V2209.7M176.3 2209.7H181.7" fill="none" stroke="#111" stroke-width="2.1"/>
<text x="167.3" y="2311" font-size="18" text-anchor="middle" class="t">NB</text>
<rect x="200.1" y="2211.5" width="23.6" height="78" fill="#9e9ea2"/>
<rect x="223.3" y="2205" width="23.2" height="84.5" fill="#f8a042"/>
<path d="M211.7 2211.5V2205.4M209 2205.4H214.4" fill="none" stroke="#111" stroke-width="2.1"/>
<path d="M235 2205V2198.6M232.3 2198.6H237.7" fill="none" stroke="#111" stroke-width="2.1"/>
<text x="223.3" y="2311" font-size="18" text-anchor="middle" class="t">QDA</text>
<rect x="256.1" y="2200.7" width="23.6" height="88.8" fill="#9e9ea2"/>
<rect x="279.4" y="2178.1" width="23.2" height="111.4" fill="#f8a042"/>
<path d="M267.7 2200.7V2193.2M265 2193.2H270.4" fill="none" stroke="#111" stroke-width="2.1"/>
<path d="M291 2178.1V2168.8M288.3 2168.8H293.7" fill="none" stroke="#111" stroke-width="2.1"/>
<text x="279.4" y="2311" font-size="18" text-anchor="middle" class="t">NN</text>
<rect x="312.1" y="2202.2" width="23.6" height="87.3" fill="#9e9ea2"/>
<rect x="335.4" y="2177.4" width="23.2" height="112.1" fill="#f8a042"/>
<path d="M323.7 2202.2V2194.3M321 2194.3H326.4" fill="none" stroke="#111" stroke-width="2.1"/>
<path d="M347 2177.4V2167.3M344.3 2167.3H349.7" fill="none" stroke="#111" stroke-width="2.1"/>
<text x="335.4" y="2311" font-size="18" text-anchor="middle" class="t">gSVM</text>
<g fill="#4d4d4d" fill-opacity="0.66"><circle cx="97.7" cy="2244.3" r="1.65"/><circle cx="99" cy="2227" r="1.65"/><circle cx="98.1" cy="2241.4" r="1.65"/><circle cx="101.6" cy="2221.1" r="1.65"/><circle cx="96.6" cy="2248.5" r="1.65"/><circle cx="101.6" cy="2237.7" r="1.65"/><circle cx="97.6" cy="2225.1" r="1.65"/><circle cx="98.5" cy="2250.5" r="1.65"/><circle cx="100.5" cy="2229.9" r="1.65"/><circle cx="100.8" cy="2251.2" r="1.65"/><circle cx="121.5" cy="2254" r="1.65"/><circle cx="125.8" cy="2238" r="1.65"/><circle cx="120.6" cy="2252.3" r="1.65"/><circle cx="125.5" cy="2246.4" r="1.65"/><circle cx="125.6" cy="2227.7" r="1.65"/><circle cx="121.1" cy="2229.4" r="1.65"/><circle cx="125.1" cy="2219.2" r="1.65"/><circle cx="121" cy="2234.4" r="1.65"/><circle cx="123.9" cy="2239.5" r="1.65"/><circle cx="120.6" cy="2226.9" r="1.65"/><circle cx="154.5" cy="2224.1" r="1.65"/><circle cx="156.1" cy="2194.3" r="1.65"/><circle cx="158.8" cy="2240.5" r="1.65"/><circle cx="157.5" cy="2189.5" r="1.65"/><circle cx="156" cy="2217.8" r="1.65"/><circle cx="157.9" cy="2218.8" r="1.65"/><circle cx="153.6" cy="2222.6" r="1.65"/><circle cx="157.1" cy="2217.8" r="1.65"/><circle cx="158.7" cy="2206" r="1.65"/><circle cx="158.6" cy="2197.7" r="1.65"/><circle cx="176.1" cy="2243.5" r="1.65"/><circle cx="178.9" cy="2218" r="1.65"/><circle cx="175.9" cy="2232.6" r="1.65"/><circle cx="181.8" cy="2201.5" r="1.65"/><circle cx="181.8" cy="2205.3" r="1.65"/><circle cx="179.5" cy="2216.9" r="1.65"/><circle cx="180.7" cy="2207.2" r="1.65"/><circle cx="180.4" cy="2227.7" r="1.65"/><circle cx="177.1" cy="2240.4" r="1.65"/><circle cx="176.2" cy="2225" r="1.65"/><circle cx="208.6" cy="2225.8" r="1.65"/><circle cx="213.2" cy="2197.2" r="1.65"/><circle cx="211.6" cy="2240.4" r="1.65"/><circle cx="210.7" cy="2210.2" r="1.65"/><circle cx="214.1" cy="2209.8" r="1.65"/><circle cx="210.4" cy="2236.3" r="1.65"/><circle cx="210" cy="2194.1" r="1.65"/><circle cx="212.1" cy="2211.3" r="1.65"/><circle cx="212.7" cy="2239.7" r="1.65"/><circle cx="209.6" cy="2240.7" r="1.65"/><circle cx="232.5" cy="2221.1" r="1.65"/><circle cx="232.7" cy="2207" r="1.65"/><circle cx="232.2" cy="2204.2" r="1.65"/><circle cx="235.2" cy="2212" r="1.65"/><circle cx="236.2" cy="2191.6" r="1.65"/><circle cx="232.4" cy="2224.5" r="1.65"/><circle cx="237.1" cy="2200" r="1.65"/><circle cx="235.3" cy="2187.9" r="1.65"/><circle cx="237.1" cy="2209.1" r="1.65"/><circle cx="233.3" cy="2229.6" r="1.65"/><circle cx="267.4" cy="2189.4" r="1.65"/><circle cx="268.8" cy="2171.9" r="1.65"/><circle cx="267.1" cy="2179.7" r="1.65"/><circle cx="268.3" cy="2215.2" r="1.65"/><circle cx="268.1" cy="2225.6" r="1.65"/><circle cx="264.8" cy="2182.8" r="1.65"/><circle cx="268.4" cy="2185.8" r="1.65"/><circle cx="267.3" cy="2199.1" r="1.65"/><circle cx="269" cy="2227.6" r="1.65"/><circle cx="267.3" cy="2169.8" r="1.65"/><circle cx="288.4" cy="2170.2" r="1.65"/><circle cx="292.7" cy="2171.1" r="1.65"/><circle cx="291.8" cy="2218" r="1.65"/><circle cx="293" cy="2198" r="1.65"/><circle cx="289.2" cy="2174.8" r="1.65"/><circle cx="293.7" cy="2196" r="1.65"/><circle cx="290.6" cy="2161.7" r="1.65"/><circle cx="292.3" cy="2174" r="1.65"/><circle cx="288.5" cy="2144" r="1.65"/><circle cx="293.4" cy="2197.9" r="1.65"/><circle cx="324.4" cy="2173.2" r="1.65"/><circle cx="321.1" cy="2209.4" r="1.65"/><circle cx="320.8" cy="2209.8" r="1.65"/><circle cx="321.5" cy="2207.7" r="1.65"/><circle cx="321.3" cy="2220.9" r="1.65"/><circle cx="324" cy="2235.3" r="1.65"/><circle cx="323.9" cy="2181.6" r="1.65"/><circle cx="325.1" cy="2241.2" r="1.65"/><circle cx="323.8" cy="2201.2" r="1.65"/><circle cx="324" cy="2158.7" r="1.65"/><circle cx="347.5" cy="2188.7" r="1.65"/><circle cx="349.7" cy="2181.7" r="1.65"/><circle cx="344.9" cy="2216.7" r="1.65"/><circle cx="348" cy="2175.2" r="1.65"/><circle cx="347.4" cy="2171.5" r="1.65"/><circle cx="346.8" cy="2156.3" r="1.65"/><circle cx="346.2" cy="2145.7" r="1.65"/><circle cx="345.1" cy="2187.3" r="1.65"/><circle cx="345.5" cy="2162.5" r="1.65"/><circle cx="344.9" cy="2171.1" r="1.65"/></g>
<path d="M268 2117.4V2111H290.7V2117.4" fill="none" stroke="#111" stroke-width="1.9"/>
<text x="279.4" y="2108.2" font-size="15" text-anchor="middle" stroke="#1a1a1a" stroke-width="0.5">***</text>
<path d="M324 2117.4V2111H346.7V2117.4" fill="none" stroke="#111" stroke-width="1.9"/>
<text x="335.4" y="2108.2" font-size="15" text-anchor="middle" stroke="#1a1a1a" stroke-width="0.5">***</text>
<line x1="76.4" y1="2063.7" x2="76.4" y2="2290.2" stroke="#333333" stroke-width="1.5"/>
<line x1="75.7" y1="2289.5" x2="371.4" y2="2289.5" stroke="#333333" stroke-width="1.5"/>
<text x="538.6" y="2055.3" font-size="18.6" text-anchor="middle" class="t">WT TAT-GluA2<tspan dy="4.7" font-size="14.5">3Y</tspan></text>
<rect x="403.9" y="2228.4" width="23.6" height="61.1" fill="#9e9ea2"/>
<rect x="427.1" y="2232.7" width="23.2" height="56.8" fill="#f8a042"/>
<path d="M415.5 2228.4V2221.9M412.8 2221.9H418.2" fill="none" stroke="#111" stroke-width="2.1"/>
<path d="M438.8 2232.7V2226.6M436.1 2226.6H441.5" fill="none" stroke="#111" stroke-width="2.1"/>
<text x="427.1" y="2311" font-size="18" text-anchor="middle" class="t">LDA</text>
<rect x="459.9" y="2209" width="23.6" height="80.5" fill="#9e9ea2"/>
<rect x="483.1" y="2209.4" width="23.2" height="80.1" fill="#f8a042"/>
<path d="M471.5 2209V2206.1M468.8 2206.1H474.2" fill="none" stroke="#111" stroke-width="2.1"/>
<path d="M494.8 2209.4V2207.2M492.1 2207.2H497.5" fill="none" stroke="#111" stroke-width="2.1"/>
<text x="483.1" y="2311" font-size="18" text-anchor="middle" class="t">NB</text>
<rect x="515.9" y="2207.2" width="23.6" height="82.3" fill="#9e9ea2"/>
<rect x="539.1" y="2202.9" width="23.2" height="86.6" fill="#f8a042"/>
<path d="M527.5 2207.2V2205M524.8 2205H530.2" fill="none" stroke="#111" stroke-width="2.1"/>
<path d="M550.8 2202.9V2200.7M548.1 2200.7H553.5" fill="none" stroke="#111" stroke-width="2.1"/>
<text x="539.1" y="2311" font-size="18" text-anchor="middle" class="t">QDA</text>
<rect x="571.9" y="2191.8" width="23.6" height="97.7" fill="#9e9ea2"/>
<rect x="595.1" y="2179.5" width="23.2" height="110" fill="#f8a042"/>
<path d="M583.5 2191.8V2187.4M580.8 2187.4H586.2" fill="none" stroke="#111" stroke-width="2.1"/>
<path d="M606.8 2179.5V2171.6M604.1 2171.6H609.5" fill="none" stroke="#111" stroke-width="2.1"/>
<text x="595.1" y="2311" font-size="18" text-anchor="middle" class="t">NN</text>
<rect x="627.9" y="2195.4" width="23.6" height="94.1" fill="#9e9ea2"/>
<rect x="651.1" y="2180.6" width="23.2" height="108.9" fill="#f8a042"/>
<path d="M639.5 2195.4V2190.7M636.8 2190.7H642.2" fill="none" stroke="#111" stroke-width="2.1"/>
<path d="M662.8 2180.6V2172M660.1 2172H665.5" fill="none" stroke="#111" stroke-width="2.1"/>
<text x="651.1" y="2311" font-size="18" text-anchor="middle" class="t">gSVM</text>
<g fill="#4d4d4d" fill-opacity="0.66"><circle cx="414.9" cy="2250.2" r="1.65"/><circle cx="414.4" cy="2227.6" r="1.65"/><circle cx="413.4" cy="2222.9" r="1.65"/><circle cx="416.4" cy="2242.4" r="1.65"/><circle cx="418" cy="2239.7" r="1.65"/><circle cx="416.7" cy="2204.7" r="1.65"/><circle cx="416.4" cy="2244.5" r="1.65"/><circle cx="441.9" cy="2231.4" r="1.65"/><circle cx="437.8" cy="2241.7" r="1.65"/><circle cx="441.8" cy="2218" r="1.65"/><circle cx="439.5" cy="2216.6" r="1.65"/><circle cx="440.4" cy="2212.2" r="1.65"/><circle cx="439.6" cy="2236.6" r="1.65"/><circle cx="436.7" cy="2219.9" r="1.65"/><circle cx="473.8" cy="2210.4" r="1.65"/><circle cx="474.7" cy="2214.7" r="1.65"/><circle cx="471" cy="2212.4" r="1.65"/><circle cx="469" cy="2206.8" r="1.65"/><circle cx="470.5" cy="2202.2" r="1.65"/><circle cx="468.7" cy="2206.4" r="1.65"/><circle cx="469.7" cy="2201.5" r="1.65"/><circle cx="495.6" cy="2210.4" r="1.65"/><circle cx="495.5" cy="2214.7" r="1.65"/><circle cx="491.8" cy="2212.4" r="1.65"/><circle cx="494.7" cy="2206.8" r="1.65"/><circle cx="494.3" cy="2202.2" r="1.65"/><circle cx="494.1" cy="2206.4" r="1.65"/><circle cx="492.4" cy="2201.5" r="1.65"/><circle cx="530.4" cy="2206.5" r="1.65"/><circle cx="526.7" cy="2210" r="1.65"/><circle cx="525.6" cy="2205" r="1.65"/><circle cx="526.7" cy="2211.5" r="1.65"/><circle cx="530.2" cy="2217.3" r="1.65"/><circle cx="525.3" cy="2212.6" r="1.65"/><circle cx="529.2" cy="2212.8" r="1.65"/><circle cx="551.5" cy="2189.1" r="1.65"/><circle cx="552.3" cy="2208.5" r="1.65"/><circle cx="549.1" cy="2211" r="1.65"/><circle cx="548.9" cy="2201.1" r="1.65"/><circle cx="553" cy="2194.6" r="1.65"/><circle cx="551.2" cy="2211.5" r="1.65"/><circle cx="550.2" cy="2201.2" r="1.65"/><circle cx="586.1" cy="2198.5" r="1.65"/><circle cx="586.4" cy="2200.5" r="1.65"/><circle cx="584.1" cy="2191" r="1.65"/><circle cx="580.9" cy="2191.7" r="1.65"/><circle cx="584.2" cy="2186.3" r="1.65"/><circle cx="581.3" cy="2197" r="1.65"/><circle cx="582.7" cy="2188" r="1.65"/><circle cx="608.6" cy="2162.5" r="1.65"/><circle cx="608.2" cy="2161.9" r="1.65"/><circle cx="607" cy="2164.5" r="1.65"/><circle cx="604" cy="2171.8" r="1.65"/><circle cx="603.9" cy="2177.1" r="1.65"/><circle cx="604.4" cy="2156.2" r="1.65"/><circle cx="606.9" cy="2154.6" r="1.65"/><circle cx="636.7" cy="2202.2" r="1.65"/><circle cx="638.5" cy="2210.6" r="1.65"/><circle cx="639.2" cy="2171.2" r="1.65"/><circle cx="641.6" cy="2193.3" r="1.65"/><circle cx="641.3" cy="2189.1" r="1.65"/><circle cx="641.9" cy="2206" r="1.65"/><circle cx="639.8" cy="2208.4" r="1.65"/><circle cx="663.6" cy="2156.8" r="1.65"/><circle cx="661.6" cy="2190.4" r="1.65"/><circle cx="664" cy="2183.7" r="1.65"/><circle cx="665.5" cy="2168.5" r="1.65"/><circle cx="660.7" cy="2164.3" r="1.65"/><circle cx="665.6" cy="2209.4" r="1.65"/><circle cx="662.2" cy="2227.5" r="1.65"/></g>
<path d="M583.8 2136.4V2129.2H606.5V2136.4" fill="none" stroke="#111" stroke-width="1.9"/>
<text x="595.1" y="2126" font-size="15" text-anchor="middle" stroke="#1a1a1a" stroke-width="0.5">**</text>
<path d="M639.8 2136.4V2129.2H662.5V2136.4" fill="none" stroke="#111" stroke-width="1.9"/>
<text x="651.1" y="2126" font-size="15" text-anchor="middle" stroke="#1a1a1a" stroke-width="0.5">**</text>
<line x1="391.4" y1="2063.7" x2="391.4" y2="2290.2" stroke="#333333" stroke-width="1.5"/>
<line x1="390.7" y1="2289.5" x2="686.4" y2="2289.5" stroke="#333333" stroke-width="1.5"/>
<text x="853.2" y="2055.3" font-size="18.6" text-anchor="middle" class="t">Tg TAT-Cntrl</text>
<rect x="719" y="2246" width="23.6" height="43.5" fill="#9e9ea2"/>
<rect x="742.2" y="2239.9" width="23.2" height="49.6" fill="#f8a042"/>
<path d="M730.6 2246V2235.6M727.9 2235.6H733.3" fill="none" stroke="#111" stroke-width="2.1"/>
<path d="M753.9 2239.9V2229.1M751.2 2229.1H756.6" fill="none" stroke="#111" stroke-width="2.1"/>
<text x="742.2" y="2311" font-size="18" text-anchor="middle" class="t">LDA</text>
<rect x="775" y="2233.8" width="23.6" height="55.7" fill="#9e9ea2"/>
<rect x="798.2" y="2229.1" width="23.2" height="60.4" fill="#f8a042"/>
<path d="M786.6 2233.8V2229.5M783.9 2229.5H789.3" fill="none" stroke="#111" stroke-width="2.1"/>
<path d="M809.9 2229.1V2227.7M807.2 2227.7H812.6" fill="none" stroke="#111" stroke-width="2.1"/>
<text x="798.2" y="2311" font-size="18" text-anchor="middle" class="t">NB</text>
<rect x="831" y="2225.2" width="23.6" height="64.3" fill="#9e9ea2"/>
<rect x="854.2" y="2221.9" width="23.2" height="67.6" fill="#f8a042"/>
<path d="M842.6 2225.2V2222.7M839.9 2222.7H845.3" fill="none" stroke="#111" stroke-width="2.1"/>
<path d="M865.9 2221.9V2215.8M863.2 2215.8H868.6" fill="none" stroke="#111" stroke-width="2.1"/>
<text x="854.2" y="2311" font-size="18" text-anchor="middle" class="t">QDA</text>
<rect x="887" y="2216.2" width="23.6" height="73.3" fill="#9e9ea2"/>
<rect x="910.2" y="2209.4" width="23.2" height="80.1" fill="#f8a042"/>
<path d="M898.6 2216.2V2214M895.9 2214H901.3" fill="none" stroke="#111" stroke-width="2.1"/>
<path d="M921.9 2209.4V2201.1M919.2 2201.1H924.6" fill="none" stroke="#111" stroke-width="2.1"/>
<text x="910.2" y="2311" font-size="18" text-anchor="middle" class="t">NN</text>
<rect x="943" y="2224.4" width="23.6" height="65.1" fill="#9e9ea2"/>
<rect x="966.2" y="2211.9" width="23.2" height="77.6" fill="#f8a042"/>
<path d="M954.6 2224.4V2220.1M951.9 2220.1H957.3" fill="none" stroke="#111" stroke-width="2.1"/>
<path d="M977.9 2211.9V2199.3M975.2 2199.3H980.6" fill="none" stroke="#111" stroke-width="2.1"/>
<text x="966.2" y="2311" font-size="18" text-anchor="middle" class="t">gSVM</text>
<g fill="#4d4d4d" fill-opacity="0.66"><circle cx="728.5" cy="2230.7" r="1.65"/><circle cx="733.6" cy="2253.4" r="1.65"/><circle cx="733.7" cy="2226" r="1.65"/><circle cx="728.5" cy="2249.7" r="1.65"/><circle cx="728.2" cy="2281.2" r="1.65"/><circle cx="730.4" cy="2233.1" r="1.65"/><circle cx="730.7" cy="2266.2" r="1.65"/><circle cx="754.2" cy="2213.2" r="1.65"/><circle cx="754.3" cy="2235.8" r="1.65"/><circle cx="754.6" cy="2265.7" r="1.65"/><circle cx="756.7" cy="2254.1" r="1.65"/><circle cx="752.6" cy="2248.9" r="1.65"/><circle cx="752.9" cy="2237.2" r="1.65"/><circle cx="753.6" cy="2228.7" r="1.65"/><circle cx="787.1" cy="2224.6" r="1.65"/><circle cx="787.1" cy="2237" r="1.65"/><circle cx="783.5" cy="2236.8" r="1.65"/><circle cx="785" cy="2222.1" r="1.65"/><circle cx="784.1" cy="2237.2" r="1.65"/><circle cx="785.8" cy="2242.4" r="1.65"/><circle cx="789.2" cy="2225.2" r="1.65"/><circle cx="809.2" cy="2218.2" r="1.65"/><circle cx="811.2" cy="2214.4" r="1.65"/><circle cx="808.9" cy="2230.1" r="1.65"/><circle cx="809.7" cy="2235.8" r="1.65"/><circle cx="809" cy="2221.9" r="1.65"/><circle cx="811.9" cy="2223.6" r="1.65"/><circle cx="810" cy="2233.3" r="1.65"/><circle cx="843.6" cy="2224" r="1.65"/><circle cx="840.3" cy="2224.4" r="1.65"/><circle cx="842" cy="2227.5" r="1.65"/><circle cx="843.6" cy="2228.1" r="1.65"/><circle cx="841.1" cy="2227.8" r="1.65"/><circle cx="845.8" cy="2229.9" r="1.65"/><circle cx="845.8" cy="2232" r="1.65"/><circle cx="863.1" cy="2224.8" r="1.65"/><circle cx="868.6" cy="2185.3" r="1.65"/><circle cx="868.6" cy="2229.4" r="1.65"/><circle cx="864.3" cy="2202.3" r="1.65"/><circle cx="865.1" cy="2229.5" r="1.65"/><circle cx="864.2" cy="2213.3" r="1.65"/><circle cx="867.2" cy="2236" r="1.65"/><circle cx="899.8" cy="2209.4" r="1.65"/><circle cx="895.9" cy="2204" r="1.65"/><circle cx="897.2" cy="2208.7" r="1.65"/><circle cx="899.3" cy="2214.4" r="1.65"/><circle cx="897.4" cy="2214.4" r="1.65"/><circle cx="895.7" cy="2224.8" r="1.65"/><circle cx="900.5" cy="2215" r="1.65"/><circle cx="920.3" cy="2205.3" r="1.65"/><circle cx="924.7" cy="2214.5" r="1.65"/><circle cx="920.9" cy="2239" r="1.65"/><circle cx="922" cy="2189" r="1.65"/><circle cx="919.7" cy="2194.5" r="1.65"/><circle cx="924.2" cy="2183.9" r="1.65"/><circle cx="923" cy="2215.2" r="1.65"/><circle cx="951.6" cy="2237.5" r="1.65"/><circle cx="952.3" cy="2227" r="1.65"/><circle cx="956" cy="2231.2" r="1.65"/><circle cx="953.6" cy="2213.8" r="1.65"/><circle cx="952.3" cy="2226.7" r="1.65"/><circle cx="955.9" cy="2224.6" r="1.65"/><circle cx="957.7" cy="2228.9" r="1.65"/><circle cx="980.2" cy="2266.1" r="1.65"/><circle cx="980.4" cy="2238.9" r="1.65"/><circle cx="979.1" cy="2176.5" r="1.65"/><circle cx="979.5" cy="2252.2" r="1.65"/><circle cx="979.5" cy="2225" r="1.65"/><circle cx="979.4" cy="2272.5" r="1.65"/><circle cx="979.1" cy="2253.8" r="1.65"/></g>
<line x1="900" y1="2172.7" x2="920.5" y2="2172.7" stroke="#111" stroke-width="1.8"/>
<text x="909.8" y="2169.1" font-size="15" text-anchor="middle" class="t">n.s.</text>
<line x1="956" y1="2165.1" x2="976.5" y2="2165.1" stroke="#111" stroke-width="1.8"/>
<text x="965.8" y="2161.5" font-size="15" text-anchor="middle" class="t">n.s.</text>
<line x1="705.7" y1="2063.7" x2="705.7" y2="2290.2" stroke="#333333" stroke-width="1.5"/>
<line x1="705" y1="2289.5" x2="1001.4" y2="2289.5" stroke="#333333" stroke-width="1.5"/>
<text x="1169" y="2055.3" font-size="18.6" text-anchor="middle" class="t">Tg TAT-GluA2<tspan dy="4.7" font-size="14.5">3Y</tspan></text>
<rect x="1034.3" y="2242" width="23.6" height="47.5" fill="#9e9ea2"/>
<rect x="1057.5" y="2240.3" width="23.2" height="49.2" fill="#f8a042"/>
<path d="M1045.9 2242V2235.2M1043.2 2235.2H1048.6" fill="none" stroke="#111" stroke-width="2.1"/>
<path d="M1069.2 2240.3V2231.3M1066.5 2231.3H1071.9" fill="none" stroke="#111" stroke-width="2.1"/>
<text x="1057.5" y="2311" font-size="18" text-anchor="middle" class="t">LDA</text>
<rect x="1090.3" y="2220.9" width="23.6" height="68.6" fill="#9e9ea2"/>
<rect x="1113.5" y="2226.2" width="23.2" height="63.3" fill="#f8a042"/>
<path d="M1101.9 2220.9V2218M1099.2 2218H1104.6" fill="none" stroke="#111" stroke-width="2.1"/>
<path d="M1125.2 2226.2V2219.8M1122.5 2219.8H1127.9" fill="none" stroke="#111" stroke-width="2.1"/>
<text x="1113.5" y="2311" font-size="18" text-anchor="middle" class="t">NB</text>
<rect x="1146.3" y="2221.2" width="23.6" height="68.3" fill="#9e9ea2"/>
<rect x="1169.5" y="2219.4" width="23.2" height="70.1" fill="#f8a042"/>
<path d="M1157.9 2221.2V2215.1M1155.2 2215.1H1160.6" fill="none" stroke="#111" stroke-width="2.1"/>
<path d="M1181.2 2219.4V2213M1178.5 2213H1183.9" fill="none" stroke="#111" stroke-width="2.1"/>
<text x="1169.5" y="2311" font-size="18" text-anchor="middle" class="t">QDA</text>
<rect x="1202.3" y="2209" width="23.6" height="80.5" fill="#9e9ea2"/>
<rect x="1225.5" y="2192.1" width="23.2" height="97.4" fill="#f8a042"/>
<path d="M1213.9 2209V2204.3M1211.2 2204.3H1216.6" fill="none" stroke="#111" stroke-width="2.1"/>
<path d="M1237.2 2192.1V2183.1M1234.5 2183.1H1239.9" fill="none" stroke="#111" stroke-width="2.1"/>
<text x="1225.5" y="2311" font-size="18" text-anchor="middle" class="t">NN</text>
<rect x="1258.3" y="2213" width="23.6" height="76.5" fill="#9e9ea2"/>
<rect x="1281.5" y="2196.8" width="23.2" height="92.7" fill="#f8a042"/>
<path d="M1269.9 2213V2206.1M1267.2 2206.1H1272.6" fill="none" stroke="#111" stroke-width="2.1"/>
<path d="M1293.2 2196.8V2187.8M1290.5 2187.8H1295.9" fill="none" stroke="#111" stroke-width="2.1"/>
<text x="1281.5" y="2311" font-size="18" text-anchor="middle" class="t">gSVM</text>
<g fill="#4d4d4d" fill-opacity="0.66"><circle cx="1043.2" cy="2256.2" r="1.65"/><circle cx="1046.7" cy="2237" r="1.65"/><circle cx="1048.1" cy="2224.5" r="1.65"/><circle cx="1046.6" cy="2253.2" r="1.65"/><circle cx="1044.1" cy="2216.4" r="1.65"/><circle cx="1048.1" cy="2226.4" r="1.65"/><circle cx="1048.3" cy="2231.2" r="1.65"/><circle cx="1070.6" cy="2233" r="1.65"/><circle cx="1067.4" cy="2249.2" r="1.65"/><circle cx="1069.9" cy="2223.5" r="1.65"/><circle cx="1068.7" cy="2269.6" r="1.65"/><circle cx="1070.1" cy="2281.2" r="1.65"/><circle cx="1069.1" cy="2198.8" r="1.65"/><circle cx="1067.3" cy="2265.6" r="1.65"/><circle cx="1102.6" cy="2219.2" r="1.65"/><circle cx="1104.7" cy="2222.1" r="1.65"/><circle cx="1101.2" cy="2224.5" r="1.65"/><circle cx="1101.5" cy="2215.1" r="1.65"/><circle cx="1101.1" cy="2217.1" r="1.65"/><circle cx="1101.1" cy="2221.6" r="1.65"/><circle cx="1101" cy="2236.9" r="1.65"/><circle cx="1123.4" cy="2245.5" r="1.65"/><circle cx="1128.2" cy="2181.9" r="1.65"/><circle cx="1127.2" cy="2203.8" r="1.65"/><circle cx="1124.9" cy="2228.9" r="1.65"/><circle cx="1126.7" cy="2251.9" r="1.65"/><circle cx="1128.1" cy="2237.4" r="1.65"/><circle cx="1122.2" cy="2228.6" r="1.65"/><circle cx="1159.9" cy="2232.1" r="1.65"/><circle cx="1155.6" cy="2209" r="1.65"/><circle cx="1156.7" cy="2232.1" r="1.65"/><circle cx="1157.9" cy="2204.3" r="1.65"/><circle cx="1155" cy="2223.5" r="1.65"/><circle cx="1157.4" cy="2213.3" r="1.65"/><circle cx="1155.9" cy="2209.6" r="1.65"/><circle cx="1181" cy="2232.6" r="1.65"/><circle cx="1179.4" cy="2230.7" r="1.65"/><circle cx="1183" cy="2210.7" r="1.65"/><circle cx="1181.7" cy="2215.8" r="1.65"/><circle cx="1178.1" cy="2239.5" r="1.65"/><circle cx="1181.4" cy="2219.7" r="1.65"/><circle cx="1180.5" cy="2196.6" r="1.65"/><circle cx="1213.8" cy="2180.9" r="1.65"/><circle cx="1211.9" cy="2192" r="1.65"/><circle cx="1216.1" cy="2237.3" r="1.65"/><circle cx="1214.5" cy="2235.7" r="1.65"/><circle cx="1211.3" cy="2222.1" r="1.65"/><circle cx="1217" cy="2207.1" r="1.65"/><circle cx="1213.4" cy="2198.9" r="1.65"/><circle cx="1237.1" cy="2162.9" r="1.65"/><circle cx="1236.3" cy="2170.4" r="1.65"/><circle cx="1236.6" cy="2203.3" r="1.65"/><circle cx="1237.1" cy="2163.7" r="1.65"/><circle cx="1238.7" cy="2182.5" r="1.65"/><circle cx="1239.1" cy="2226.7" r="1.65"/><circle cx="1236.5" cy="2169.4" r="1.65"/><circle cx="1272.1" cy="2211" r="1.65"/><circle cx="1267.5" cy="2210.6" r="1.65"/><circle cx="1268.3" cy="2223.6" r="1.65"/><circle cx="1269.3" cy="2220.7" r="1.65"/><circle cx="1268.5" cy="2201.7" r="1.65"/><circle cx="1269.6" cy="2228.2" r="1.65"/><circle cx="1270" cy="2206" r="1.65"/><circle cx="1295.2" cy="2199.3" r="1.65"/><circle cx="1291.4" cy="2201.2" r="1.65"/><circle cx="1290.5" cy="2200.8" r="1.65"/><circle cx="1294.6" cy="2214.7" r="1.65"/><circle cx="1294" cy="2211.6" r="1.65"/><circle cx="1291.2" cy="2211.3" r="1.65"/><circle cx="1292.2" cy="2210.7" r="1.65"/></g>
<path d="M1214.2 2153.7V2146.6H1236.9V2153.7" fill="none" stroke="#111" stroke-width="1.9"/>
<text x="1225.5" y="2143.4" font-size="15" text-anchor="middle" stroke="#1a1a1a" stroke-width="0.5">*</text>
<path d="M1270.2 2147V2140.1H1292.9V2147" fill="none" stroke="#111" stroke-width="1.9"/>
<text x="1281.5" y="2130.4" font-size="17.1" text-anchor="middle" class="t">†</text>
<line x1="1021.5" y1="2063.7" x2="1021.5" y2="2290.2" stroke="#333333" stroke-width="1.5"/>
<line x1="1020.8" y1="2289.5" x2="1317.2" y2="2289.5" stroke="#333333" stroke-width="1.5"/>
<rect x="1332.3" y="2157.9" width="35.4" height="10.6" fill="#9e9ea2"/>
<text x="1385.4" y="2169.2" font-size="18.4" class="t">Single-cell model</text>
<rect x="1332.3" y="2184.4" width="35.4" height="10.6" fill="#f8a042"/>
<text x="1385.4" y="2195.8" font-size="18.4" class="t">Full model</text>
</svg>
</body></html>
